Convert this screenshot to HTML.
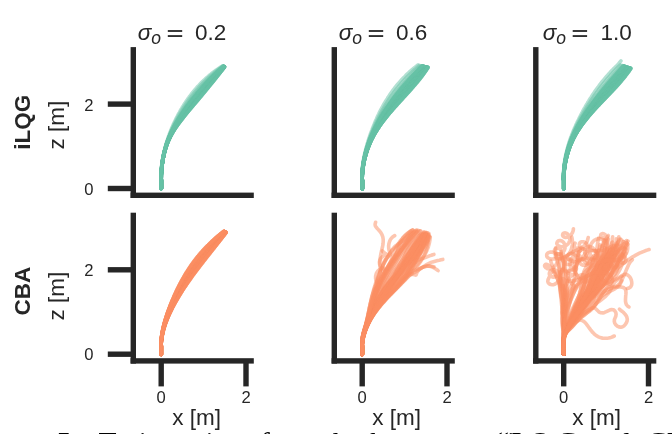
<!DOCTYPE html>
<html><head><meta charset="utf-8"><title>fig</title>
<style>html,body{margin:0;padding:0;background:#fff;}body{width:672px;height:434px;overflow:hidden;position:relative;font-family:"Liberation Sans",sans-serif;}</style>
</head><body>
<svg width="672" height="434" viewBox="0 0 672 434" style="position:absolute;left:0;top:0;will-change:transform;opacity:0.999">
<rect width="672" height="434" fill="#fff"/>
<g transform="translate(0.0,0)" fill="none" stroke="#66c2a5" stroke-width="3.6" stroke-opacity="0.5" stroke-linecap="round" stroke-linejoin="round">
<path d="M161.5,188.6 L161.5,187.0 L161.5,185.4 L161.5,183.8 L161.5,182.2 L161.5,180.6 L161.3,179.0 L161.3,177.4 L161.4,175.8 L161.4,174.2 L161.5,172.6 L161.6,171.0 L161.7,169.4 L161.9,167.8 L162.0,166.2 L162.2,164.7 L162.5,163.1 L162.7,161.5 L162.9,159.9 L163.2,158.3 L163.5,156.7 L163.9,155.2 L164.2,153.6 L164.6,152.0 L165.1,150.5 L165.5,148.9 L166.0,147.4 L166.5,145.9 L167.1,144.4 L167.6,142.8 L168.3,141.3 L168.9,139.9 L169.6,138.4 L170.3,136.9 L171.0,135.5 L171.8,134.1 L172.6,132.7 L173.5,131.3 L174.3,130.0 L175.2,128.6 L176.1,127.3 L177.0,126.0 L177.9,124.7 L178.9,123.4 L179.8,122.1 L180.8,120.8 L181.8,119.6 L182.8,118.3 L183.7,117.1 L184.7,115.8 L185.7,114.6 L186.7,113.4 L187.7,112.2 L188.7,110.9 L189.8,109.7 L190.8,108.5 L191.8,107.3 L192.8,106.1 L193.8,104.9 L194.8,103.7 L195.9,102.5 L196.9,101.3 L197.9,100.1 L198.9,98.9 L199.9,97.7 L200.9,96.5 L201.9,95.3 L203.0,94.0 L204.0,92.8 L205.0,91.6 L206.0,90.4 L207.0,89.2 L208.0,88.0 L208.9,86.7 L209.9,85.5 L210.9,84.3 L211.9,83.1 L212.9,81.9 L213.9,80.6 L214.9,79.4 L215.9,78.2 L216.8,76.9 L217.8,75.7 L218.8,74.5 L219.8,73.2 L220.7,72.0 L221.7,70.7 L222.7,69.5 L223.6,68.3 L224.6,67.0"/>
<path d="M161.5,188.6 L161.5,187.0 L161.5,185.4 L161.5,183.8 L161.5,182.2 L161.5,180.6 L161.3,179.0 L161.3,177.4 L161.3,175.8 L161.4,174.2 L161.5,172.6 L161.6,171.0 L161.7,169.4 L161.9,167.8 L162.0,166.2 L162.2,164.6 L162.4,163.1 L162.7,161.5 L162.9,159.9 L163.2,158.3 L163.5,156.7 L163.9,155.2 L164.2,153.6 L164.6,152.0 L165.1,150.5 L165.5,148.9 L166.0,147.4 L166.5,145.9 L167.0,144.3 L167.6,142.8 L168.2,141.3 L168.9,139.8 L169.6,138.4 L170.3,136.9 L171.0,135.5 L171.8,134.1 L172.6,132.7 L173.4,131.3 L174.3,129.9 L175.1,128.6 L176.0,127.2 L176.9,125.9 L177.9,124.6 L178.8,123.3 L179.8,122.1 L180.7,120.8 L181.7,119.5 L182.7,118.3 L183.6,117.0 L184.6,115.8 L185.6,114.5 L186.6,113.3 L187.6,112.1 L188.6,110.9 L189.6,109.6 L190.6,108.4 L191.7,107.2 L192.7,106.0 L193.7,104.8 L194.7,103.6 L195.7,102.4 L196.7,101.2 L197.8,100.0 L198.8,98.8 L199.8,97.6 L200.8,96.4 L201.8,95.1 L202.8,93.9 L203.8,92.7 L204.8,91.5 L205.8,90.3 L206.8,89.1 L207.8,87.9 L208.8,86.6 L209.8,85.4 L210.8,84.2 L211.8,83.0 L212.8,81.8 L213.8,80.5 L214.8,79.3 L215.8,78.1 L216.7,76.9 L217.7,75.6 L218.7,74.4 L219.7,73.2 L220.7,71.9 L221.6,70.7 L222.6,69.5 L223.6,68.2 L224.6,67.0"/>
<path d="M161.5,188.6 L161.5,187.0 L161.5,185.4 L161.5,183.8 L161.5,182.2 L161.5,180.6 L161.3,179.0 L161.3,177.4 L161.3,175.8 L161.4,174.2 L161.5,172.6 L161.6,171.0 L161.7,169.4 L161.9,167.8 L162.0,166.2 L162.2,164.6 L162.4,163.1 L162.7,161.5 L162.9,159.9 L163.2,158.3 L163.5,156.7 L163.9,155.2 L164.2,153.6 L164.6,152.0 L165.0,150.5 L165.5,148.9 L166.0,147.4 L166.5,145.9 L167.0,144.3 L167.6,142.8 L168.2,141.3 L168.8,139.8 L169.5,138.4 L170.2,136.9 L171.0,135.5 L171.7,134.1 L172.5,132.7 L173.4,131.3 L174.2,129.9 L175.1,128.6 L176.0,127.2 L176.9,125.9 L177.8,124.6 L178.7,123.3 L179.7,122.0 L180.6,120.7 L181.6,119.5 L182.6,118.2 L183.5,117.0 L184.5,115.7 L185.5,114.5 L186.5,113.2 L187.5,112.0 L188.5,110.8 L189.5,109.6 L190.5,108.3 L191.5,107.1 L192.5,105.9 L193.5,104.7 L194.6,103.5 L195.6,102.3 L196.6,101.1 L197.6,99.9 L198.6,98.7 L199.6,97.5 L200.6,96.3 L201.7,95.0 L202.7,93.8 L203.7,92.6 L204.7,91.4 L205.7,90.2 L206.7,89.0 L207.7,87.8 L208.7,86.5 L209.7,85.3 L210.7,84.1 L211.7,82.9 L212.7,81.7 L213.7,80.4 L214.7,79.2 L215.7,78.0 L216.6,76.8 L217.6,75.6 L218.6,74.3 L219.6,73.1 L220.6,71.9 L221.6,70.7 L222.6,69.4 L223.5,68.2 L224.5,67.0"/>
<path d="M161.5,188.6 L161.5,187.0 L161.5,185.4 L161.5,183.8 L161.5,182.2 L161.5,180.6 L161.2,179.0 L161.3,177.4 L161.3,175.8 L161.4,174.2 L161.5,172.6 L161.6,171.0 L161.7,169.4 L161.9,167.8 L162.0,166.2 L162.2,164.6 L162.4,163.0 L162.7,161.5 L162.9,159.9 L163.2,158.3 L163.5,156.7 L163.9,155.1 L164.2,153.6 L164.6,152.0 L165.0,150.5 L165.5,148.9 L166.0,147.4 L166.5,145.8 L167.0,144.3 L167.6,142.8 L168.2,141.3 L168.8,139.8 L169.5,138.3 L170.2,136.9 L170.9,135.5 L171.7,134.0 L172.5,132.6 L173.3,131.2 L174.2,129.9 L175.0,128.5 L175.9,127.2 L176.8,125.9 L177.7,124.5 L178.6,123.2 L179.6,122.0 L180.5,120.7 L181.5,119.4 L182.5,118.2 L183.4,116.9 L184.4,115.6 L185.4,114.4 L186.4,113.2 L187.4,111.9 L188.4,110.7 L189.4,109.5 L190.4,108.3 L191.4,107.0 L192.4,105.8 L193.4,104.6 L194.4,103.4 L195.4,102.2 L196.4,101.0 L197.5,99.8 L198.5,98.6 L199.5,97.4 L200.5,96.1 L201.5,94.9 L202.5,93.7 L203.5,92.5 L204.5,91.3 L205.5,90.1 L206.5,88.9 L207.6,87.7 L208.6,86.4 L209.6,85.2 L210.6,84.0 L211.6,82.8 L212.6,81.6 L213.6,80.4 L214.6,79.1 L215.5,77.9 L216.5,76.7 L217.5,75.5 L218.5,74.3 L219.5,73.0 L220.5,71.8 L221.5,70.6 L222.5,69.4 L223.5,68.2 L224.5,66.9"/>
<path d="M161.5,188.6 L161.5,187.0 L161.5,185.4 L161.5,183.8 L161.5,182.2 L161.5,180.6 L161.2,179.0 L161.3,177.4 L161.3,175.8 L161.4,174.2 L161.5,172.6 L161.6,171.0 L161.7,169.4 L161.8,167.8 L162.0,166.2 L162.2,164.6 L162.4,163.0 L162.7,161.4 L162.9,159.9 L163.2,158.3 L163.5,156.7 L163.8,155.1 L164.2,153.6 L164.6,152.0 L165.0,150.4 L165.5,148.9 L165.9,147.4 L166.5,145.8 L167.0,144.3 L167.6,142.8 L168.2,141.3 L168.8,139.8 L169.5,138.3 L170.2,136.9 L170.9,135.4 L171.7,134.0 L172.5,132.6 L173.3,131.2 L174.1,129.8 L175.0,128.5 L175.8,127.1 L176.7,125.8 L177.6,124.5 L178.6,123.2 L179.5,121.9 L180.4,120.6 L181.4,119.4 L182.3,118.1 L183.3,116.8 L184.3,115.6 L185.3,114.3 L186.3,113.1 L187.2,111.9 L188.2,110.6 L189.2,109.4 L190.2,108.2 L191.2,107.0 L192.3,105.7 L193.3,104.5 L194.3,103.3 L195.3,102.1 L196.3,100.9 L197.3,99.7 L198.3,98.5 L199.3,97.3 L200.4,96.0 L201.4,94.8 L202.4,93.6 L203.4,92.4 L204.4,91.2 L205.4,90.0 L206.4,88.8 L207.4,87.6 L208.4,86.3 L209.4,85.1 L210.4,83.9 L211.4,82.7 L212.4,81.5 L213.4,80.3 L214.4,79.1 L215.4,77.8 L216.4,76.6 L217.4,75.4 L218.4,74.2 L219.4,73.0 L220.4,71.8 L221.4,70.6 L222.4,69.3 L223.4,68.1 L224.4,66.9"/>
<path d="M161.4,188.6 L161.4,187.0 L161.4,185.4 L161.4,183.8 L161.4,182.2 L161.4,180.6 L161.2,179.0 L161.3,177.4 L161.3,175.8 L161.4,174.2 L161.5,172.6 L161.6,171.0 L161.7,169.4 L161.8,167.8 L162.0,166.2 L162.2,164.6 L162.4,163.0 L162.6,161.4 L162.9,159.9 L163.2,158.3 L163.5,156.7 L163.8,155.1 L164.2,153.6 L164.6,152.0 L165.0,150.4 L165.5,148.9 L165.9,147.4 L166.4,145.8 L167.0,144.3 L167.5,142.8 L168.1,141.3 L168.8,139.8 L169.4,138.3 L170.1,136.9 L170.9,135.4 L171.6,134.0 L172.4,132.6 L173.2,131.2 L174.0,129.8 L174.9,128.5 L175.8,127.1 L176.7,125.8 L177.6,124.5 L178.5,123.2 L179.4,121.9 L180.3,120.6 L181.3,119.3 L182.2,118.0 L183.2,116.8 L184.2,115.5 L185.2,114.3 L186.1,113.0 L187.1,111.8 L188.1,110.5 L189.1,109.3 L190.1,108.1 L191.1,106.9 L192.1,105.6 L193.1,104.4 L194.1,103.2 L195.2,102.0 L196.2,100.8 L197.2,99.6 L198.2,98.4 L199.2,97.1 L200.2,95.9 L201.2,94.7 L202.2,93.5 L203.2,92.3 L204.3,91.1 L205.3,89.9 L206.3,88.7 L207.3,87.5 L208.3,86.2 L209.3,85.0 L210.3,83.8 L211.3,82.6 L212.3,81.4 L213.3,80.2 L214.3,79.0 L215.3,77.8 L216.4,76.6 L217.4,75.3 L218.4,74.1 L219.4,72.9 L220.4,71.7 L221.4,70.5 L222.4,69.3 L223.4,68.1 L224.4,66.9"/>
<path d="M161.4,188.6 L161.4,187.0 L161.4,185.4 L161.4,183.8 L161.4,182.2 L161.4,180.6 L161.2,179.0 L161.3,177.4 L161.3,175.8 L161.4,174.2 L161.5,172.6 L161.6,171.0 L161.7,169.4 L161.8,167.8 L162.0,166.2 L162.2,164.6 L162.4,163.0 L162.6,161.4 L162.9,159.8 L163.2,158.3 L163.5,156.7 L163.8,155.1 L164.2,153.5 L164.6,152.0 L165.0,150.4 L165.4,148.9 L165.9,147.3 L166.4,145.8 L167.0,144.3 L167.5,142.8 L168.1,141.3 L168.7,139.8 L169.4,138.3 L170.1,136.8 L170.8,135.4 L171.6,134.0 L172.4,132.6 L173.2,131.2 L174.0,129.8 L174.8,128.4 L175.7,127.1 L176.6,125.7 L177.5,124.4 L178.4,123.1 L179.3,121.8 L180.3,120.5 L181.2,119.3 L182.1,118.0 L183.1,116.7 L184.1,115.5 L185.0,114.2 L186.0,113.0 L187.0,111.7 L188.0,110.5 L189.0,109.2 L190.0,108.0 L191.0,106.8 L192.0,105.6 L193.0,104.3 L194.0,103.1 L195.0,101.9 L196.0,100.7 L197.0,99.5 L198.0,98.3 L199.1,97.0 L200.1,95.8 L201.1,94.6 L202.1,93.4 L203.1,92.2 L204.1,91.0 L205.1,89.8 L206.1,88.6 L207.1,87.4 L208.2,86.1 L209.2,84.9 L210.2,83.7 L211.2,82.5 L212.2,81.3 L213.2,80.1 L214.2,78.9 L215.2,77.7 L216.3,76.5 L217.3,75.3 L218.3,74.1 L219.3,72.9 L220.3,71.7 L221.3,70.5 L222.3,69.3 L223.3,68.1 L224.4,66.9"/>
<path d="M161.4,188.6 L161.4,187.0 L161.4,185.4 L161.4,183.8 L161.4,182.2 L161.4,180.6 L161.2,179.0 L161.2,177.4 L161.3,175.8 L161.4,174.2 L161.4,172.6 L161.5,171.0 L161.7,169.4 L161.8,167.8 L162.0,166.2 L162.2,164.6 L162.4,163.0 L162.6,161.4 L162.9,159.8 L163.2,158.3 L163.5,156.7 L163.8,155.1 L164.2,153.5 L164.6,152.0 L165.0,150.4 L165.4,148.9 L165.9,147.3 L166.4,145.8 L166.9,144.3 L167.5,142.8 L168.1,141.3 L168.7,139.8 L169.4,138.3 L170.1,136.8 L170.8,135.4 L171.5,134.0 L172.3,132.5 L173.1,131.1 L173.9,129.8 L174.8,128.4 L175.6,127.0 L176.5,125.7 L177.4,124.4 L178.3,123.1 L179.2,121.8 L180.2,120.5 L181.1,119.2 L182.0,117.9 L183.0,116.7 L184.0,115.4 L184.9,114.1 L185.9,112.9 L186.9,111.6 L187.9,110.4 L188.9,109.2 L189.9,107.9 L190.8,106.7 L191.8,105.5 L192.9,104.2 L193.9,103.0 L194.9,101.8 L195.9,100.6 L196.9,99.4 L197.9,98.2 L198.9,96.9 L199.9,95.7 L200.9,94.5 L201.9,93.3 L203.0,92.1 L204.0,90.9 L205.0,89.7 L206.0,88.5 L207.0,87.3 L208.0,86.0 L209.0,84.8 L210.1,83.6 L211.1,82.4 L212.1,81.2 L213.1,80.0 L214.1,78.8 L215.1,77.6 L216.2,76.4 L217.2,75.2 L218.2,74.0 L219.2,72.8 L220.2,71.6 L221.3,70.4 L222.3,69.2 L223.3,68.0 L224.3,66.9"/>
<path d="M161.4,188.6 L161.4,186.9 L161.4,185.4 L161.4,183.8 L161.4,182.2 L161.4,180.6 L161.2,179.0 L161.2,177.4 L161.3,175.8 L161.3,174.2 L161.4,172.6 L161.5,171.0 L161.7,169.4 L161.8,167.8 L162.0,166.2 L162.2,164.6 L162.4,163.0 L162.6,161.4 L162.9,159.8 L163.2,158.3 L163.5,156.7 L163.8,155.1 L164.2,153.5 L164.6,152.0 L165.0,150.4 L165.4,148.9 L165.9,147.3 L166.4,145.8 L166.9,144.3 L167.5,142.7 L168.1,141.2 L168.7,139.8 L169.3,138.3 L170.0,136.8 L170.8,135.4 L171.5,133.9 L172.3,132.5 L173.1,131.1 L173.9,129.7 L174.7,128.4 L175.6,127.0 L176.4,125.7 L177.3,124.3 L178.2,123.0 L179.1,121.7 L180.1,120.4 L181.0,119.1 L181.9,117.9 L182.9,116.6 L183.9,115.3 L184.8,114.1 L185.8,112.8 L186.8,111.6 L187.7,110.3 L188.7,109.1 L189.7,107.8 L190.7,106.6 L191.7,105.4 L192.7,104.1 L193.7,102.9 L194.7,101.7 L195.7,100.5 L196.7,99.3 L197.8,98.1 L198.8,96.8 L199.8,95.6 L200.8,94.4 L201.8,93.2 L202.8,92.0 L203.8,90.8 L204.8,89.6 L205.9,88.4 L206.9,87.1 L207.9,85.9 L208.9,84.7 L209.9,83.5 L211.0,82.3 L212.0,81.1 L213.0,79.9 L214.0,78.7 L215.0,77.5 L216.1,76.3 L217.1,75.1 L218.1,73.9 L219.1,72.8 L220.2,71.6 L221.2,70.4 L222.2,69.2 L223.3,68.0 L224.3,66.8"/>
<path d="M161.4,188.6 L161.4,186.9 L161.4,185.3 L161.4,183.8 L161.4,182.2 L161.4,180.6 L161.2,179.0 L161.2,177.4 L161.3,175.8 L161.3,174.2 L161.4,172.6 L161.5,171.0 L161.7,169.4 L161.8,167.8 L162.0,166.2 L162.2,164.6 L162.4,163.0 L162.6,161.4 L162.9,159.8 L163.2,158.2 L163.5,156.7 L163.8,155.1 L164.2,153.5 L164.5,152.0 L165.0,150.4 L165.4,148.9 L165.9,147.3 L166.4,145.8 L166.9,144.3 L167.5,142.7 L168.0,141.2 L168.7,139.7 L169.3,138.3 L170.0,136.8 L170.7,135.3 L171.5,133.9 L172.2,132.5 L173.0,131.1 L173.8,129.7 L174.7,128.3 L175.5,127.0 L176.4,125.6 L177.3,124.3 L178.2,123.0 L179.1,121.7 L180.0,120.4 L180.9,119.1 L181.8,117.8 L182.8,116.5 L183.7,115.3 L184.7,114.0 L185.7,112.7 L186.6,111.5 L187.6,110.2 L188.6,109.0 L189.6,107.7 L190.6,106.5 L191.6,105.3 L192.6,104.1 L193.6,102.8 L194.6,101.6 L195.6,100.4 L196.6,99.2 L197.6,97.9 L198.6,96.7 L199.6,95.5 L200.6,94.3 L201.7,93.1 L202.7,91.9 L203.7,90.7 L204.7,89.5 L205.7,88.3 L206.7,87.0 L207.8,85.8 L208.8,84.6 L209.8,83.4 L210.8,82.2 L211.9,81.0 L212.9,79.8 L213.9,78.6 L214.9,77.5 L216.0,76.3 L217.0,75.1 L218.0,73.9 L219.1,72.7 L220.1,71.5 L221.1,70.3 L222.2,69.2 L223.2,68.0 L224.2,66.8"/>
<path d="M161.4,188.6 L161.4,186.9 L161.4,185.3 L161.4,183.7 L161.4,182.1 L161.4,180.6 L161.2,179.0 L161.2,177.4 L161.3,175.8 L161.3,174.2 L161.4,172.6 L161.5,171.0 L161.6,169.4 L161.8,167.8 L162.0,166.2 L162.2,164.6 L162.4,163.0 L162.6,161.4 L162.9,159.8 L163.1,158.2 L163.5,156.7 L163.8,155.1 L164.1,153.5 L164.5,152.0 L164.9,150.4 L165.4,148.8 L165.9,147.3 L166.4,145.8 L166.9,144.2 L167.4,142.7 L168.0,141.2 L168.6,139.7 L169.3,138.2 L170.0,136.8 L170.7,135.3 L171.4,133.9 L172.2,132.5 L173.0,131.1 L173.8,129.7 L174.6,128.3 L175.4,126.9 L176.3,125.6 L177.2,124.3 L178.1,122.9 L179.0,121.6 L179.9,120.3 L180.8,119.0 L181.7,117.7 L182.7,116.5 L183.6,115.2 L184.6,113.9 L185.6,112.7 L186.5,111.4 L187.5,110.2 L188.5,108.9 L189.5,107.7 L190.4,106.4 L191.4,105.2 L192.4,104.0 L193.4,102.7 L194.4,101.5 L195.4,100.3 L196.5,99.1 L197.5,97.8 L198.5,96.6 L199.5,95.4 L200.5,94.2 L201.5,93.0 L202.5,91.8 L203.5,90.6 L204.6,89.4 L205.6,88.1 L206.6,86.9 L207.6,85.7 L208.7,84.5 L209.7,83.3 L210.7,82.1 L211.7,80.9 L212.8,79.8 L213.8,78.6 L214.8,77.4 L215.9,76.2 L216.9,75.0 L217.9,73.8 L219.0,72.6 L220.0,71.5 L221.1,70.3 L222.1,69.1 L223.2,68.0 L224.2,66.8"/>
<path d="M161.4,188.6 L161.4,186.9 L161.4,185.3 L161.4,183.7 L161.4,182.1 L161.4,180.5 L161.2,178.9 L161.2,177.3 L161.3,175.7 L161.3,174.1 L161.4,172.6 L161.5,171.0 L161.6,169.4 L161.8,167.8 L162.0,166.2 L162.1,164.6 L162.4,163.0 L162.6,161.4 L162.8,159.8 L163.1,158.2 L163.4,156.6 L163.8,155.1 L164.1,153.5 L164.5,151.9 L164.9,150.4 L165.4,148.8 L165.8,147.3 L166.3,145.8 L166.9,144.2 L167.4,142.7 L168.0,141.2 L168.6,139.7 L169.3,138.2 L169.9,136.8 L170.6,135.3 L171.4,133.9 L172.1,132.5 L172.9,131.0 L173.7,129.7 L174.5,128.3 L175.4,126.9 L176.2,125.6 L177.1,124.2 L178.0,122.9 L178.9,121.6 L179.8,120.3 L180.7,119.0 L181.6,117.7 L182.6,116.4 L183.5,115.1 L184.5,113.9 L185.4,112.6 L186.4,111.3 L187.4,110.1 L188.3,108.8 L189.3,107.6 L190.3,106.3 L191.3,105.1 L192.3,103.9 L193.3,102.6 L194.3,101.4 L195.3,100.2 L196.3,99.0 L197.3,97.7 L198.3,96.5 L199.3,95.3 L200.4,94.1 L201.4,92.9 L202.4,91.7 L203.4,90.5 L204.4,89.3 L205.5,88.0 L206.5,86.8 L207.5,85.6 L208.5,84.4 L209.6,83.2 L210.6,82.0 L211.6,80.9 L212.7,79.7 L213.7,78.5 L214.7,77.3 L215.8,76.1 L216.8,74.9 L217.9,73.8 L218.9,72.6 L220.0,71.4 L221.0,70.2 L222.1,69.1 L223.1,67.9 L224.2,66.8"/>
<path d="M161.4,188.6 L161.4,186.9 L161.4,185.3 L161.4,183.7 L161.4,182.1 L161.4,180.5 L161.2,178.9 L161.2,177.3 L161.2,175.7 L161.3,174.1 L161.4,172.5 L161.5,170.9 L161.6,169.3 L161.8,167.8 L161.9,166.2 L162.1,164.6 L162.3,163.0 L162.6,161.4 L162.8,159.8 L163.1,158.2 L163.4,156.6 L163.8,155.1 L164.1,153.5 L164.5,151.9 L164.9,150.4 L165.4,148.8 L165.8,147.3 L166.3,145.7 L166.8,144.2 L167.4,142.7 L168.0,141.2 L168.6,139.7 L169.2,138.2 L169.9,136.7 L170.6,135.3 L171.3,133.9 L172.1,132.4 L172.9,131.0 L173.7,129.6 L174.5,128.2 L175.3,126.9 L176.2,125.5 L177.0,124.2 L177.9,122.9 L178.8,121.5 L179.7,120.2 L180.6,118.9 L181.5,117.6 L182.5,116.3 L183.4,115.1 L184.4,113.8 L185.3,112.5 L186.3,111.3 L187.2,110.0 L188.2,108.7 L189.2,107.5 L190.2,106.2 L191.2,105.0 L192.2,103.8 L193.2,102.5 L194.2,101.3 L195.2,100.1 L196.2,98.9 L197.2,97.6 L198.2,96.4 L199.2,95.2 L200.2,94.0 L201.2,92.8 L202.2,91.6 L203.3,90.4 L204.3,89.1 L205.3,87.9 L206.3,86.7 L207.4,85.5 L208.4,84.3 L209.4,83.1 L210.5,82.0 L211.5,80.8 L212.5,79.6 L213.6,78.4 L214.6,77.2 L215.7,76.0 L216.7,74.9 L217.8,73.7 L218.8,72.5 L219.9,71.4 L220.9,70.2 L222.0,69.0 L223.1,67.9 L224.1,66.7"/>
<path d="M161.3,188.6 L161.3,186.9 L161.3,185.3 L161.3,183.7 L161.3,182.1 L161.3,180.5 L161.2,178.9 L161.2,177.3 L161.2,175.7 L161.3,174.1 L161.4,172.5 L161.5,170.9 L161.6,169.3 L161.8,167.7 L161.9,166.2 L162.1,164.6 L162.3,163.0 L162.6,161.4 L162.8,159.8 L163.1,158.2 L163.4,156.6 L163.8,155.1 L164.1,153.5 L164.5,151.9 L164.9,150.4 L165.3,148.8 L165.8,147.3 L166.3,145.7 L166.8,144.2 L167.4,142.7 L168.0,141.2 L168.6,139.7 L169.2,138.2 L169.9,136.7 L170.6,135.3 L171.3,133.8 L172.0,132.4 L172.8,131.0 L173.6,129.6 L174.4,128.2 L175.2,126.8 L176.1,125.5 L177.0,124.1 L177.8,122.8 L178.7,121.5 L179.6,120.2 L180.5,118.9 L181.4,117.6 L182.4,116.3 L183.3,115.0 L184.2,113.7 L185.2,112.4 L186.2,111.2 L187.1,109.9 L188.1,108.7 L189.1,107.4 L190.0,106.2 L191.0,104.9 L192.0,103.7 L193.0,102.4 L194.0,101.2 L195.0,100.0 L196.0,98.8 L197.0,97.5 L198.0,96.3 L199.1,95.1 L200.1,93.9 L201.1,92.7 L202.1,91.5 L203.1,90.2 L204.1,89.0 L205.2,87.8 L206.2,86.6 L207.2,85.4 L208.3,84.2 L209.3,83.0 L210.3,81.9 L211.4,80.7 L212.4,79.5 L213.5,78.3 L214.5,77.1 L215.6,76.0 L216.6,74.8 L217.7,73.6 L218.8,72.5 L219.8,71.3 L220.9,70.2 L221.9,69.0 L223.0,67.9 L224.1,66.7"/>
<path d="M161.3,188.6 L161.3,186.9 L161.3,185.3 L161.3,183.7 L161.3,182.1 L161.3,180.5 L161.2,178.9 L161.2,177.3 L161.2,175.7 L161.3,174.1 L161.4,172.5 L161.5,170.9 L161.6,169.3 L161.8,167.7 L161.9,166.1 L162.1,164.6 L162.3,163.0 L162.6,161.4 L162.8,159.8 L163.1,158.2 L163.4,156.6 L163.7,155.1 L164.1,153.5 L164.5,151.9 L164.9,150.4 L165.3,148.8 L165.8,147.3 L166.3,145.7 L166.8,144.2 L167.4,142.7 L167.9,141.2 L168.5,139.7 L169.2,138.2 L169.8,136.7 L170.5,135.3 L171.2,133.8 L172.0,132.4 L172.8,131.0 L173.5,129.6 L174.4,128.2 L175.2,126.8 L176.0,125.5 L176.9,124.1 L177.7,122.8 L178.6,121.4 L179.5,120.1 L180.4,118.8 L181.3,117.5 L182.3,116.2 L183.2,114.9 L184.1,113.7 L185.1,112.4 L186.0,111.1 L187.0,109.8 L188.0,108.6 L188.9,107.3 L189.9,106.1 L190.9,104.8 L191.9,103.6 L192.9,102.3 L193.9,101.1 L194.9,99.9 L195.9,98.7 L196.9,97.4 L197.9,96.2 L198.9,95.0 L199.9,93.8 L200.9,92.6 L202.0,91.4 L203.0,90.1 L204.0,88.9 L205.0,87.7 L206.1,86.5 L207.1,85.3 L208.1,84.1 L209.2,83.0 L210.2,81.8 L211.3,80.6 L212.3,79.4 L213.4,78.2 L214.4,77.1 L215.5,75.9 L216.5,74.7 L217.6,73.6 L218.7,72.4 L219.7,71.3 L220.8,70.1 L221.9,69.0 L223.0,67.8 L224.0,66.7"/>
<path d="M161.3,188.6 L161.3,186.9 L161.3,185.3 L161.3,183.7 L161.3,182.1 L161.3,180.5 L161.2,178.9 L161.2,177.3 L161.2,175.7 L161.3,174.1 L161.4,172.5 L161.5,170.9 L161.6,169.3 L161.7,167.7 L161.9,166.1 L162.1,164.5 L162.3,163.0 L162.6,161.4 L162.8,159.8 L163.1,158.2 L163.4,156.6 L163.7,155.0 L164.1,153.5 L164.5,151.9 L164.9,150.3 L165.3,148.8 L165.8,147.3 L166.3,145.7 L166.8,144.2 L167.3,142.7 L167.9,141.2 L168.5,139.7 L169.1,138.2 L169.8,136.7 L170.5,135.2 L171.2,133.8 L171.9,132.4 L172.7,130.9 L173.5,129.5 L174.3,128.2 L175.1,126.8 L175.9,125.4 L176.8,124.1 L177.7,122.7 L178.5,121.4 L179.4,120.1 L180.3,118.8 L181.2,117.5 L182.2,116.2 L183.1,114.9 L184.0,113.6 L185.0,112.3 L185.9,111.0 L186.9,109.8 L187.8,108.5 L188.8,107.2 L189.8,106.0 L190.8,104.7 L191.7,103.5 L192.7,102.3 L193.7,101.0 L194.7,99.8 L195.7,98.6 L196.7,97.3 L197.7,96.1 L198.8,94.9 L199.8,93.7 L200.8,92.5 L201.8,91.2 L202.8,90.0 L203.9,88.8 L204.9,87.6 L205.9,86.4 L207.0,85.2 L208.0,84.0 L209.1,82.9 L210.1,81.7 L211.2,80.5 L212.2,79.3 L213.3,78.1 L214.3,77.0 L215.4,75.8 L216.5,74.7 L217.5,73.5 L218.6,72.4 L219.7,71.2 L220.7,70.1 L221.8,68.9 L222.9,67.8 L224.0,66.7"/>
<path d="M161.3,188.6 L161.3,186.9 L161.3,185.3 L161.3,183.7 L161.3,182.1 L161.3,180.5 L161.1,178.9 L161.2,177.3 L161.2,175.7 L161.3,174.1 L161.4,172.5 L161.5,170.9 L161.6,169.3 L161.7,167.7 L161.9,166.1 L162.1,164.5 L162.3,162.9 L162.5,161.4 L162.8,159.8 L163.1,158.2 L163.4,156.6 L163.7,155.0 L164.1,153.5 L164.5,151.9 L164.9,150.3 L165.3,148.8 L165.8,147.2 L166.3,145.7 L166.8,144.2 L167.3,142.7 L167.9,141.1 L168.5,139.6 L169.1,138.2 L169.8,136.7 L170.5,135.2 L171.2,133.8 L171.9,132.3 L172.7,130.9 L173.4,129.5 L174.2,128.1 L175.0,126.8 L175.9,125.4 L176.7,124.0 L177.6,122.7 L178.5,121.3 L179.3,120.0 L180.2,118.7 L181.1,117.4 L182.1,116.1 L183.0,114.8 L183.9,113.5 L184.8,112.2 L185.8,111.0 L186.7,109.7 L187.7,108.4 L188.7,107.2 L189.6,105.9 L190.6,104.6 L191.6,103.4 L192.6,102.2 L193.6,100.9 L194.6,99.7 L195.6,98.5 L196.6,97.2 L197.6,96.0 L198.6,94.8 L199.6,93.6 L200.7,92.4 L201.7,91.1 L202.7,89.9 L203.7,88.7 L204.8,87.5 L205.8,86.3 L206.8,85.1 L207.9,83.9 L208.9,82.8 L210.0,81.6 L211.0,80.4 L212.1,79.2 L213.2,78.1 L214.2,76.9 L215.3,75.7 L216.4,74.6 L217.4,73.4 L218.5,72.3 L219.6,71.2 L220.7,70.0 L221.8,68.9 L222.9,67.8 L224.0,66.7"/>
<path d="M161.3,188.6 L161.3,186.9 L161.3,185.3 L161.3,183.7 L161.3,182.1 L161.3,180.5 L161.1,178.9 L161.2,177.3 L161.2,175.7 L161.3,174.1 L161.4,172.5 L161.5,170.9 L161.6,169.3 L161.7,167.7 L161.9,166.1 L162.1,164.5 L162.3,162.9 L162.5,161.3 L162.8,159.8 L163.1,158.2 L163.4,156.6 L163.7,155.0 L164.1,153.5 L164.5,151.9 L164.9,150.3 L165.3,148.8 L165.8,147.2 L166.2,145.7 L166.7,144.2 L167.3,142.6 L167.9,141.1 L168.5,139.6 L169.1,138.1 L169.7,136.7 L170.4,135.2 L171.1,133.8 L171.9,132.3 L172.6,130.9 L173.4,129.5 L174.2,128.1 L175.0,126.7 L175.8,125.3 L176.6,124.0 L177.5,122.6 L178.4,121.3 L179.3,120.0 L180.1,118.7 L181.0,117.3 L182.0,116.0 L182.9,114.7 L183.8,113.4 L184.7,112.2 L185.7,110.9 L186.6,109.6 L187.6,108.3 L188.5,107.1 L189.5,105.8 L190.5,104.6 L191.5,103.3 L192.5,102.1 L193.4,100.8 L194.4,99.6 L195.4,98.4 L196.4,97.1 L197.5,95.9 L198.5,94.7 L199.5,93.5 L200.5,92.2 L201.5,91.0 L202.6,89.8 L203.6,88.6 L204.6,87.4 L205.7,86.2 L206.7,85.0 L207.8,83.8 L208.8,82.7 L209.9,81.5 L210.9,80.3 L212.0,79.1 L213.1,78.0 L214.1,76.8 L215.2,75.7 L216.3,74.5 L217.4,73.4 L218.4,72.2 L219.5,71.1 L220.6,70.0 L221.7,68.9 L222.8,67.7 L223.9,66.6"/>
<path d="M161.3,188.6 L161.3,186.9 L161.3,185.3 L161.3,183.7 L161.3,182.1 L161.3,180.5 L161.1,178.9 L161.2,177.3 L161.2,175.7 L161.3,174.1 L161.3,172.5 L161.4,170.9 L161.6,169.3 L161.7,167.7 L161.9,166.1 L162.1,164.5 L162.3,162.9 L162.5,161.3 L162.8,159.8 L163.1,158.2 L163.4,156.6 L163.7,155.0 L164.1,153.4 L164.4,151.9 L164.8,150.3 L165.3,148.8 L165.7,147.2 L166.2,145.7 L166.7,144.2 L167.3,142.6 L167.8,141.1 L168.4,139.6 L169.1,138.1 L169.7,136.6 L170.4,135.2 L171.1,133.7 L171.8,132.3 L172.6,130.9 L173.3,129.5 L174.1,128.1 L174.9,126.7 L175.7,125.3 L176.6,123.9 L177.4,122.6 L178.3,121.3 L179.2,119.9 L180.0,118.6 L180.9,117.3 L181.8,116.0 L182.8,114.7 L183.7,113.4 L184.6,112.1 L185.5,110.8 L186.5,109.5 L187.4,108.3 L188.4,107.0 L189.4,105.7 L190.3,104.5 L191.3,103.2 L192.3,102.0 L193.3,100.7 L194.3,99.5 L195.3,98.3 L196.3,97.0 L197.3,95.8 L198.3,94.6 L199.3,93.4 L200.4,92.1 L201.4,90.9 L202.4,89.7 L203.5,88.5 L204.5,87.3 L205.5,86.1 L206.6,84.9 L207.6,83.7 L208.7,82.6 L209.7,81.4 L210.8,80.2 L211.9,79.1 L212.9,77.9 L214.0,76.7 L215.1,75.6 L216.2,74.4 L217.3,73.3 L218.4,72.2 L219.5,71.1 L220.6,69.9 L221.7,68.8 L222.8,67.7 L223.9,66.6"/>
<path d="M161.3,188.6 L161.3,186.9 L161.3,185.3 L161.3,183.7 L161.3,182.1 L161.3,180.5 L161.1,178.9 L161.1,177.3 L161.2,175.7 L161.2,174.1 L161.3,172.5 L161.4,170.9 L161.6,169.3 L161.7,167.7 L161.9,166.1 L162.1,164.5 L162.3,162.9 L162.5,161.3 L162.8,159.7 L163.1,158.2 L163.4,156.6 L163.7,155.0 L164.1,153.4 L164.4,151.9 L164.8,150.3 L165.3,148.8 L165.7,147.2 L166.2,145.7 L166.7,144.1 L167.2,142.6 L167.8,141.1 L168.4,139.6 L169.0,138.1 L169.7,136.6 L170.3,135.2 L171.0,133.7 L171.8,132.3 L172.5,130.8 L173.3,129.4 L174.0,128.0 L174.8,126.7 L175.7,125.3 L176.5,123.9 L177.3,122.6 L178.2,121.2 L179.1,119.9 L179.9,118.5 L180.8,117.2 L181.7,115.9 L182.6,114.6 L183.6,113.3 L184.5,112.0 L185.4,110.7 L186.4,109.4 L187.3,108.2 L188.3,106.9 L189.2,105.6 L190.2,104.4 L191.2,103.1 L192.2,101.9 L193.2,100.6 L194.2,99.4 L195.2,98.2 L196.2,96.9 L197.2,95.7 L198.2,94.5 L199.2,93.3 L200.2,92.0 L201.2,90.8 L202.3,89.6 L203.3,88.4 L204.4,87.2 L205.4,86.0 L206.4,84.8 L207.5,83.6 L208.6,82.5 L209.6,81.3 L210.7,80.1 L211.8,79.0 L212.8,77.8 L213.9,76.7 L215.0,75.5 L216.1,74.4 L217.2,73.2 L218.3,72.1 L219.4,71.0 L220.5,69.9 L221.6,68.8 L222.7,67.7 L223.8,66.6"/>
<path d="M161.3,188.6 L161.3,186.9 L161.3,185.3 L161.3,183.7 L161.3,182.1 L161.3,180.5 L161.1,178.9 L161.1,177.3 L161.2,175.7 L161.2,174.1 L161.3,172.5 L161.4,170.9 L161.6,169.3 L161.7,167.7 L161.9,166.1 L162.1,164.5 L162.3,162.9 L162.5,161.3 L162.8,159.7 L163.1,158.2 L163.4,156.6 L163.7,155.0 L164.0,153.4 L164.4,151.9 L164.8,150.3 L165.3,148.8 L165.7,147.2 L166.2,145.7 L166.7,144.1 L167.2,142.6 L167.8,141.1 L168.4,139.6 L169.0,138.1 L169.6,136.6 L170.3,135.1 L171.0,133.7 L171.7,132.3 L172.5,130.8 L173.2,129.4 L174.0,128.0 L174.8,126.6 L175.6,125.2 L176.4,123.9 L177.3,122.5 L178.1,121.2 L179.0,119.8 L179.9,118.5 L180.7,117.2 L181.6,115.9 L182.5,114.5 L183.5,113.2 L184.4,111.9 L185.3,110.7 L186.2,109.4 L187.2,108.1 L188.1,106.8 L189.1,105.5 L190.1,104.3 L191.1,103.0 L192.0,101.8 L193.0,100.5 L194.0,99.3 L195.0,98.1 L196.0,96.8 L197.0,95.6 L198.0,94.4 L199.1,93.1 L200.1,91.9 L201.1,90.7 L202.1,89.5 L203.2,88.3 L204.2,87.1 L205.3,85.9 L206.3,84.7 L207.4,83.6 L208.4,82.4 L209.5,81.2 L210.6,80.0 L211.7,78.9 L212.7,77.7 L213.8,76.6 L214.9,75.4 L216.0,74.3 L217.1,73.2 L218.2,72.1 L219.3,70.9 L220.4,69.8 L221.6,68.7 L222.7,67.7 L223.8,66.6"/>
<path d="M161.2,188.6 L161.2,186.9 L161.2,185.3 L161.2,183.7 L161.2,182.1 L161.2,180.5 L161.1,178.9 L161.1,177.3 L161.2,175.7 L161.2,174.1 L161.3,172.5 L161.4,170.9 L161.5,169.3 L161.7,167.7 L161.9,166.1 L162.1,164.5 L162.3,162.9 L162.5,161.3 L162.8,159.7 L163.0,158.1 L163.3,156.6 L163.7,155.0 L164.0,153.4 L164.4,151.9 L164.8,150.3 L165.2,148.7 L165.7,147.2 L166.2,145.7 L166.7,144.1 L167.2,142.6 L167.8,141.1 L168.4,139.6 L169.0,138.1 L169.6,136.6 L170.3,135.1 L171.0,133.7 L171.7,132.2 L172.4,130.8 L173.2,129.4 L173.9,128.0 L174.7,126.6 L175.5,125.2 L176.3,123.8 L177.2,122.5 L178.0,121.1 L178.9,119.8 L179.8,118.4 L180.6,117.1 L181.5,115.8 L182.4,114.5 L183.3,113.2 L184.3,111.9 L185.2,110.6 L186.1,109.3 L187.1,108.0 L188.0,106.7 L189.0,105.5 L189.9,104.2 L190.9,102.9 L191.9,101.7 L192.9,100.4 L193.9,99.2 L194.9,97.9 L195.9,96.7 L196.9,95.5 L197.9,94.3 L198.9,93.0 L199.9,91.8 L201.0,90.6 L202.0,89.4 L203.0,88.2 L204.1,87.0 L205.1,85.8 L206.2,84.6 L207.2,83.5 L208.3,82.3 L209.4,81.1 L210.5,79.9 L211.5,78.8 L212.6,77.6 L213.7,76.5 L214.8,75.4 L215.9,74.2 L217.0,73.1 L218.1,72.0 L219.2,70.9 L220.4,69.8 L221.5,68.7 L222.6,67.6 L223.8,66.5"/>
<path d="M161.2,188.6 L161.2,186.9 L161.2,185.3 L161.2,183.7 L161.2,182.1 L161.2,180.5 L161.1,178.9 L161.1,177.3 L161.2,175.7 L161.2,174.1 L161.3,172.5 L161.4,170.9 L161.5,169.3 L161.7,167.7 L161.9,166.1 L162.0,164.5 L162.3,162.9 L162.5,161.3 L162.8,159.7 L163.0,158.1 L163.3,156.6 L163.7,155.0 L164.0,153.4 L164.4,151.8 L164.8,150.3 L165.2,148.7 L165.7,147.2 L166.2,145.6 L166.7,144.1 L167.2,142.6 L167.7,141.1 L168.3,139.6 L168.9,138.1 L169.6,136.6 L170.2,135.1 L170.9,133.7 L171.6,132.2 L172.4,130.8 L173.1,129.4 L173.9,127.9 L174.7,126.6 L175.5,125.2 L176.3,123.8 L177.1,122.4 L177.9,121.1 L178.8,119.7 L179.7,118.4 L180.5,117.1 L181.4,115.7 L182.3,114.4 L183.2,113.1 L184.1,111.8 L185.1,110.5 L186.0,109.2 L186.9,107.9 L187.9,106.6 L188.8,105.4 L189.8,104.1 L190.8,102.8 L191.8,101.6 L192.7,100.3 L193.7,99.1 L194.7,97.8 L195.7,96.6 L196.7,95.4 L197.7,94.2 L198.8,92.9 L199.8,91.7 L200.8,90.5 L201.9,89.3 L202.9,88.1 L203.9,86.9 L205.0,85.7 L206.1,84.5 L207.1,83.4 L208.2,82.2 L209.3,81.0 L210.3,79.9 L211.4,78.7 L212.5,77.6 L213.6,76.4 L214.7,75.3 L215.8,74.2 L216.9,73.1 L218.1,71.9 L219.2,70.8 L220.3,69.8 L221.4,68.7 L222.6,67.6 L223.7,66.5"/>
<path d="M161.2,188.6 L161.2,186.9 L161.2,185.3 L161.2,183.7 L161.2,182.1 L161.2,180.5 L161.1,178.9 L161.1,177.3 L161.2,175.7 L161.2,174.1 L161.3,172.5 L161.4,170.9 L161.5,169.3 L161.7,167.7 L161.8,166.1 L162.0,164.5 L162.2,162.9 L162.5,161.3 L162.7,159.7 L163.0,158.1 L163.3,156.6 L163.7,155.0 L164.0,153.4 L164.4,151.8 L164.8,150.3 L165.2,148.7 L165.7,147.2 L166.1,145.6 L166.6,144.1 L167.2,142.6 L167.7,141.1 L168.3,139.5 L168.9,138.1 L169.5,136.6 L170.2,135.1 L170.9,133.6 L171.6,132.2 L172.3,130.8 L173.0,129.3 L173.8,127.9 L174.6,126.5 L175.4,125.1 L176.2,123.7 L177.0,122.4 L177.9,121.0 L178.7,119.7 L179.6,118.3 L180.4,117.0 L181.3,115.7 L182.2,114.3 L183.1,113.0 L184.0,111.7 L184.9,110.4 L185.9,109.1 L186.8,107.8 L187.8,106.6 L188.7,105.3 L189.7,104.0 L190.6,102.7 L191.6,101.5 L192.6,100.2 L193.6,99.0 L194.6,97.7 L195.6,96.5 L196.6,95.3 L197.6,94.1 L198.6,92.8 L199.6,91.6 L200.7,90.4 L201.7,89.2 L202.8,88.0 L203.8,86.8 L204.9,85.6 L205.9,84.4 L207.0,83.3 L208.1,82.1 L209.1,80.9 L210.2,79.8 L211.3,78.6 L212.4,77.5 L213.5,76.3 L214.6,75.2 L215.7,74.1 L216.9,73.0 L218.0,71.9 L219.1,70.8 L220.2,69.7 L221.4,68.6 L222.5,67.6 L223.7,66.5"/>
<path d="M161.2,188.6 L161.2,186.9 L161.2,185.3 L161.2,183.7 L161.2,182.1 L161.2,180.5 L161.1,178.9 L161.1,177.3 L161.1,175.7 L161.2,174.1 L161.3,172.5 L161.4,170.9 L161.5,169.3 L161.7,167.7 L161.8,166.1 L162.0,164.5 L162.2,162.9 L162.5,161.3 L162.7,159.7 L163.0,158.1 L163.3,156.5 L163.6,155.0 L164.0,153.4 L164.4,151.8 L164.8,150.3 L165.2,148.7 L165.6,147.2 L166.1,145.6 L166.6,144.1 L167.1,142.6 L167.7,141.0 L168.3,139.5 L168.9,138.0 L169.5,136.6 L170.2,135.1 L170.8,133.6 L171.5,132.2 L172.2,130.7 L173.0,129.3 L173.7,127.9 L174.5,126.5 L175.3,125.1 L176.1,123.7 L176.9,122.3 L177.8,121.0 L178.6,119.6 L179.5,118.3 L180.3,116.9 L181.2,115.6 L182.1,114.3 L183.0,113.0 L183.9,111.7 L184.8,110.3 L185.7,109.1 L186.7,107.8 L187.6,106.5 L188.6,105.2 L189.5,103.9 L190.5,102.7 L191.5,101.4 L192.5,100.1 L193.4,98.9 L194.4,97.6 L195.4,96.4 L196.4,95.2 L197.5,93.9 L198.5,92.7 L199.5,91.5 L200.5,90.3 L201.6,89.1 L202.6,87.9 L203.7,86.7 L204.7,85.5 L205.8,84.3 L206.9,83.2 L207.9,82.0 L209.0,80.8 L210.1,79.7 L211.2,78.5 L212.3,77.4 L213.4,76.3 L214.5,75.1 L215.6,74.0 L216.8,72.9 L217.9,71.8 L219.0,70.7 L220.2,69.7 L221.3,68.6 L222.5,67.5 L223.6,66.5"/>
<path d="M161.2,188.6 L161.2,186.9 L161.2,185.3 L161.2,183.7 L161.2,182.1 L161.2,180.5 L161.1,178.9 L161.1,177.3 L161.1,175.7 L161.2,174.1 L161.3,172.5 L161.4,170.9 L161.5,169.3 L161.7,167.7 L161.8,166.1 L162.0,164.5 L162.2,162.9 L162.5,161.3 L162.7,159.7 L163.0,158.1 L163.3,156.5 L163.6,155.0 L164.0,153.4 L164.4,151.8 L164.8,150.3 L165.2,148.7 L165.6,147.2 L166.1,145.6 L166.6,144.1 L167.1,142.5 L167.7,141.0 L168.2,139.5 L168.8,138.0 L169.5,136.5 L170.1,135.1 L170.8,133.6 L171.5,132.1 L172.2,130.7 L172.9,129.3 L173.7,127.9 L174.5,126.5 L175.2,125.1 L176.0,123.7 L176.9,122.3 L177.7,120.9 L178.5,119.6 L179.4,118.2 L180.2,116.9 L181.1,115.5 L182.0,114.2 L182.9,112.9 L183.8,111.6 L184.7,110.3 L185.6,109.0 L186.6,107.7 L187.5,106.4 L188.4,105.1 L189.4,103.8 L190.4,102.6 L191.3,101.3 L192.3,100.0 L193.3,98.8 L194.3,97.5 L195.3,96.3 L196.3,95.1 L197.3,93.8 L198.3,92.6 L199.4,91.4 L200.4,90.2 L201.4,89.0 L202.5,87.8 L203.5,86.6 L204.6,85.4 L205.7,84.2 L206.7,83.1 L207.8,81.9 L208.9,80.7 L210.0,79.6 L211.1,78.4 L212.2,77.3 L213.3,76.2 L214.4,75.1 L215.6,74.0 L216.7,72.9 L217.8,71.8 L219.0,70.7 L220.1,69.6 L221.3,68.6 L222.4,67.5 L223.6,66.5"/>
<path d="M161.2,188.6 L161.2,186.9 L161.2,185.3 L161.2,183.7 L161.2,182.1 L161.2,180.5 L161.1,178.9 L161.1,177.3 L161.1,175.7 L161.2,174.1 L161.3,172.5 L161.4,170.9 L161.5,169.3 L161.6,167.7 L161.8,166.1 L162.0,164.5 L162.2,162.9 L162.5,161.3 L162.7,159.7 L163.0,158.1 L163.3,156.5 L163.6,155.0 L164.0,153.4 L164.4,151.8 L164.7,150.3 L165.2,148.7 L165.6,147.1 L166.1,145.6 L166.6,144.1 L167.1,142.5 L167.6,141.0 L168.2,139.5 L168.8,138.0 L169.4,136.5 L170.1,135.0 L170.7,133.6 L171.4,132.1 L172.1,130.7 L172.9,129.2 L173.6,127.8 L174.4,126.4 L175.2,125.0 L176.0,123.6 L176.8,122.3 L177.6,120.9 L178.4,119.5 L179.3,118.2 L180.1,116.8 L181.0,115.5 L181.9,114.2 L182.8,112.8 L183.7,111.5 L184.6,110.2 L185.5,108.9 L186.4,107.6 L187.4,106.3 L188.3,105.0 L189.3,103.7 L190.2,102.5 L191.2,101.2 L192.2,99.9 L193.2,98.7 L194.1,97.4 L195.1,96.2 L196.2,95.0 L197.2,93.7 L198.2,92.5 L199.2,91.3 L200.2,90.1 L201.3,88.9 L202.3,87.7 L203.4,86.5 L204.5,85.3 L205.5,84.1 L206.6,83.0 L207.7,81.8 L208.8,80.6 L209.9,79.5 L211.0,78.4 L212.1,77.2 L213.2,76.1 L214.3,75.0 L215.5,73.9 L216.6,72.8 L217.7,71.7 L218.9,70.6 L220.1,69.6 L221.2,68.5 L222.4,67.5 L223.6,66.4"/>
<path d="M161.2,188.6 L161.2,186.9 L161.2,185.3 L161.2,183.7 L161.2,182.1 L161.2,180.5 L161.1,178.9 L161.1,177.3 L161.1,175.6 L161.2,174.0 L161.3,172.4 L161.4,170.8 L161.5,169.2 L161.6,167.6 L161.8,166.0 L162.0,164.5 L162.2,162.9 L162.4,161.3 L162.7,159.7 L163.0,158.1 L163.3,156.5 L163.6,154.9 L164.0,153.4 L164.3,151.8 L164.7,150.2 L165.2,148.7 L165.6,147.1 L166.1,145.6 L166.6,144.1 L167.1,142.5 L167.6,141.0 L168.2,139.5 L168.8,138.0 L169.4,136.5 L170.0,135.0 L170.7,133.6 L171.4,132.1 L172.1,130.7 L172.8,129.2 L173.6,127.8 L174.3,126.4 L175.1,125.0 L175.9,123.6 L176.7,122.2 L177.5,120.8 L178.3,119.5 L179.2,118.1 L180.0,116.8 L180.9,115.4 L181.8,114.1 L182.7,112.8 L183.6,111.4 L184.5,110.1 L185.4,108.8 L186.3,107.5 L187.2,106.2 L188.2,104.9 L189.1,103.7 L190.1,102.4 L191.1,101.1 L192.0,99.8 L193.0,98.6 L194.0,97.3 L195.0,96.1 L196.0,94.9 L197.0,93.6 L198.0,92.4 L199.1,91.2 L200.1,90.0 L201.2,88.8 L202.2,87.6 L203.3,86.4 L204.3,85.2 L205.4,84.0 L206.5,82.9 L207.6,81.7 L208.7,80.5 L209.8,79.4 L210.9,78.3 L212.0,77.1 L213.1,76.0 L214.2,74.9 L215.4,73.8 L216.5,72.7 L217.7,71.7 L218.8,70.6 L220.0,69.5 L221.2,68.5 L222.3,67.4 L223.5,66.4"/>
<path d="M161.2,188.6 L161.2,186.9 L161.2,185.3 L161.2,183.7 L161.2,182.1 L161.2,180.5 L161.0,178.8 L161.1,177.2 L161.1,175.6 L161.2,174.0 L161.3,172.4 L161.4,170.8 L161.5,169.2 L161.6,167.6 L161.8,166.0 L162.0,164.4 L162.2,162.9 L162.4,161.3 L162.7,159.7 L163.0,158.1 L163.3,156.5 L163.6,154.9 L164.0,153.4 L164.3,151.8 L164.7,150.2 L165.1,148.7 L165.6,147.1 L166.1,145.6 L166.5,144.0 L167.1,142.5 L167.6,141.0 L168.2,139.5 L168.8,138.0 L169.4,136.5 L170.0,135.0 L170.7,133.5 L171.3,132.1 L172.0,130.6 L172.8,129.2 L173.5,127.8 L174.3,126.4 L175.0,124.9 L175.8,123.5 L176.6,122.2 L177.4,120.8 L178.2,119.4 L179.1,118.1 L179.9,116.7 L180.8,115.4 L181.7,114.0 L182.5,112.7 L183.4,111.4 L184.3,110.0 L185.2,108.7 L186.2,107.4 L187.1,106.1 L188.0,104.8 L189.0,103.6 L189.9,102.3 L190.9,101.0 L191.9,99.7 L192.9,98.5 L193.9,97.2 L194.9,96.0 L195.9,94.8 L196.9,93.5 L197.9,92.3 L198.9,91.1 L200.0,89.9 L201.0,88.7 L202.1,87.5 L203.1,86.3 L204.2,85.1 L205.3,83.9 L206.3,82.8 L207.4,81.6 L208.5,80.5 L209.6,79.3 L210.8,78.2 L211.9,77.1 L213.0,75.9 L214.1,74.8 L215.3,73.8 L216.4,72.7 L217.6,71.6 L218.8,70.5 L219.9,69.5 L221.1,68.4 L222.3,67.4 L223.5,66.4"/>
<path d="M161.2,188.6 L161.2,186.8 L161.2,185.3 L161.2,183.6 L161.2,182.0 L161.2,180.4 L161.0,178.8 L161.1,177.2 L161.1,175.6 L161.2,174.0 L161.2,172.4 L161.3,170.8 L161.5,169.2 L161.6,167.6 L161.8,166.0 L162.0,164.4 L162.2,162.8 L162.4,161.3 L162.7,159.7 L163.0,158.1 L163.3,156.5 L163.6,154.9 L163.9,153.4 L164.3,151.8 L164.7,150.2 L165.1,148.7 L165.6,147.1 L166.0,145.6 L166.5,144.0 L167.0,142.5 L167.6,141.0 L168.1,139.5 L168.7,138.0 L169.3,136.5 L170.0,135.0 L170.6,133.5 L171.3,132.1 L172.0,130.6 L172.7,129.2 L173.4,127.7 L174.2,126.3 L175.0,124.9 L175.7,123.5 L176.5,122.1 L177.3,120.7 L178.2,119.4 L179.0,118.0 L179.8,116.6 L180.7,115.3 L181.6,114.0 L182.4,112.6 L183.3,111.3 L184.2,110.0 L185.1,108.7 L186.0,107.3 L187.0,106.0 L187.9,104.8 L188.8,103.5 L189.8,102.2 L190.8,100.9 L191.7,99.7 L192.7,98.4 L193.7,97.1 L194.7,95.9 L195.7,94.7 L196.7,93.4 L197.8,92.2 L198.8,91.0 L199.8,89.8 L200.9,88.6 L201.9,87.4 L203.0,86.2 L204.1,85.0 L205.1,83.8 L206.2,82.7 L207.3,81.5 L208.4,80.4 L209.5,79.2 L210.6,78.1 L211.8,77.0 L212.9,75.9 L214.0,74.8 L215.2,73.7 L216.3,72.6 L217.5,71.5 L218.7,70.5 L219.9,69.4 L221.0,68.4 L222.2,67.4 L223.4,66.4"/>
<path d="M161.5,188.6 L161.5,187.0 L161.5,185.4 L161.5,183.8 L161.5,182.2 L161.5,180.6 L161.3,179.0 L161.3,177.4 L161.4,175.8 L161.4,174.2 L161.5,172.6 L161.6,171.0 L161.7,169.4 L161.9,167.8 L162.0,166.2 L162.2,164.7 L162.5,163.1 L162.7,161.5 L162.9,159.9 L163.2,158.3 L163.5,156.7 L163.9,155.2 L164.2,153.6 L164.6,152.0 L165.1,150.5 L165.5,148.9 L166.0,147.4 L166.5,145.9 L167.1,144.4 L167.6,142.8 L168.3,141.3 L168.9,139.9 L169.6,138.4 L170.3,136.9 L171.0,135.5 L171.8,134.1 L172.6,132.7 L173.5,131.3 L174.3,130.0 L175.2,128.6 L176.1,127.3 L177.0,126.0 L177.9,124.7 L178.9,123.4 L179.8,122.1 L180.8,120.8 L181.8,119.6 L182.8,118.3 L183.7,117.1 L184.7,115.8 L185.7,114.6 L186.7,113.4 L187.7,112.2 L188.7,110.9 L189.8,109.7 L190.8,108.5 L191.8,107.3 L192.8,106.1 L193.8,104.9 L194.8,103.7 L195.9,102.5 L196.9,101.3 L197.9,100.1 L198.9,98.9 L199.9,97.7 L200.9,96.5 L201.9,95.3 L203.0,94.0 L204.0,92.8 L205.0,91.6 L206.0,90.4 L207.0,89.2 L208.0,88.0 L208.9,86.7 L209.9,85.5 L210.9,84.3 L211.9,83.1 L212.9,81.9 L213.9,80.6 L214.9,79.4 L215.9,78.2 L216.8,76.9 L217.8,75.7 L218.8,74.5 L219.8,73.2 L220.7,72.0 L221.7,70.7 L222.7,69.5 L223.6,68.3 L224.6,67.0"/>
<path d="M161.5,188.6 L161.5,187.0 L161.5,185.4 L161.5,183.8 L161.5,182.2 L161.5,180.6 L161.3,179.0 L161.3,177.4 L161.3,175.8 L161.4,174.2 L161.5,172.6 L161.6,171.0 L161.7,169.4 L161.9,167.8 L162.0,166.2 L162.2,164.6 L162.4,163.1 L162.7,161.5 L162.9,159.9 L163.2,158.3 L163.5,156.7 L163.9,155.2 L164.2,153.6 L164.6,152.0 L165.1,150.5 L165.5,148.9 L166.0,147.4 L166.5,145.9 L167.0,144.3 L167.6,142.8 L168.2,141.3 L168.9,139.8 L169.6,138.4 L170.3,136.9 L171.0,135.5 L171.8,134.1 L172.6,132.7 L173.4,131.3 L174.3,129.9 L175.1,128.6 L176.0,127.2 L176.9,125.9 L177.9,124.6 L178.8,123.3 L179.8,122.1 L180.7,120.8 L181.7,119.5 L182.7,118.3 L183.6,117.0 L184.6,115.8 L185.6,114.5 L186.6,113.3 L187.6,112.1 L188.6,110.9 L189.6,109.6 L190.6,108.4 L191.7,107.2 L192.7,106.0 L193.7,104.8 L194.7,103.6 L195.7,102.4 L196.7,101.2 L197.8,100.0 L198.8,98.8 L199.8,97.6 L200.8,96.4 L201.8,95.1 L202.8,93.9 L203.8,92.7 L204.8,91.5 L205.8,90.3 L206.8,89.1 L207.8,87.9 L208.8,86.6 L209.8,85.4 L210.8,84.2 L211.8,83.0 L212.8,81.8 L213.8,80.5 L214.8,79.3 L215.8,78.1 L216.7,76.9 L217.7,75.6 L218.7,74.4 L219.7,73.2 L220.7,71.9 L221.6,70.7 L222.6,69.5 L223.6,68.2 L224.6,67.0"/>
<path d="M161.2,188.6 L161.2,186.9 L161.2,185.3 L161.2,183.7 L161.2,182.1 L161.2,180.5 L161.0,178.8 L161.1,177.2 L161.1,175.6 L161.2,174.0 L161.3,172.4 L161.4,170.8 L161.5,169.2 L161.6,167.6 L161.8,166.0 L162.0,164.4 L162.2,162.9 L162.4,161.3 L162.7,159.7 L163.0,158.1 L163.3,156.5 L163.6,154.9 L164.0,153.4 L164.3,151.8 L164.7,150.2 L165.1,148.7 L165.6,147.1 L166.1,145.6 L166.5,144.0 L167.1,142.5 L167.6,141.0 L168.2,139.5 L168.8,138.0 L169.4,136.5 L170.0,135.0 L170.7,133.5 L171.3,132.1 L172.0,130.6 L172.8,129.2 L173.5,127.8 L174.3,126.4 L175.0,124.9 L175.8,123.5 L176.6,122.2 L177.4,120.8 L178.2,119.4 L179.1,118.1 L179.9,116.7 L180.8,115.4 L181.7,114.0 L182.5,112.7 L183.4,111.4 L184.3,110.0 L185.2,108.7 L186.2,107.4 L187.1,106.1 L188.0,104.8 L189.0,103.6 L189.9,102.3 L190.9,101.0 L191.9,99.7 L192.9,98.5 L193.9,97.2 L194.9,96.0 L195.9,94.8 L196.9,93.5 L197.9,92.3 L198.9,91.1 L200.0,89.9 L201.0,88.7 L202.1,87.5 L203.1,86.3 L204.2,85.1 L205.3,83.9 L206.3,82.8 L207.4,81.6 L208.5,80.5 L209.6,79.3 L210.8,78.2 L211.9,77.1 L213.0,75.9 L214.1,74.8 L215.3,73.8 L216.4,72.7 L217.6,71.6 L218.8,70.5 L219.9,69.5 L221.1,68.4 L222.3,67.4 L223.5,66.4"/>
<path d="M161.1,188.6 L161.1,186.8 L161.1,185.2 L161.1,183.6 L161.1,182.0 L161.1,180.4 L161.0,178.8 L161.0,177.2 L161.1,175.6 L161.1,174.0 L161.2,172.4 L161.3,170.8 L161.4,169.2 L161.6,167.6 L161.7,166.0 L161.9,164.4 L162.2,162.8 L162.4,161.2 L162.6,159.6 L162.9,158.0 L163.2,156.5 L163.5,154.9 L163.9,153.3 L164.3,151.7 L164.7,150.2 L165.1,148.6 L165.5,147.1 L166.0,145.5 L166.4,144.0 L166.9,142.4 L167.5,140.9 L168.0,139.4 L168.6,137.9 L169.2,136.4 L169.8,134.9 L170.4,133.4 L171.1,131.9 L171.7,130.5 L172.4,129.0 L173.1,127.6 L173.9,126.2 L174.6,124.7 L175.4,123.3 L176.1,121.9 L176.9,120.5 L177.7,119.1 L178.5,117.7 L179.3,116.4 L180.2,115.0 L181.0,113.6 L181.9,112.3 L182.7,110.9 L183.6,109.6 L184.5,108.3 L185.4,106.9 L186.3,105.6 L187.2,104.3 L188.2,103.0 L189.1,101.7 L190.1,100.4 L191.0,99.2 L192.0,97.9 L193.0,96.6 L194.0,95.4 L195.0,94.1 L196.0,92.9 L197.0,91.7 L198.1,90.4 L199.1,89.2 L200.2,88.0 L201.2,86.8 L202.3,85.7 L203.4,84.5 L204.5,83.3 L205.6,82.2 L206.7,81.0 L207.8,79.9 L208.9,78.8 L210.1,77.7 L211.2,76.6 L212.4,75.5 L213.6,74.4 L214.7,73.3 L215.9,72.3 L217.1,71.2 L218.3,70.2 L219.5,69.2 L220.8,68.2 L222.0,67.2 L223.2,66.2"/>
<path d="M161.0,188.6 L161.0,186.8 L161.0,185.2 L161.0,183.6 L161.0,182.0 L161.0,180.4 L160.9,178.8 L160.9,177.2 L161.0,175.6 L161.0,174.0 L161.1,172.3 L161.2,170.7 L161.4,169.1 L161.5,167.5 L161.7,165.9 L161.9,164.3 L162.1,162.7 L162.3,161.2 L162.6,159.6 L162.9,158.0 L163.2,156.4 L163.5,154.8 L163.8,153.2 L164.2,151.7 L164.6,150.1 L165.0,148.5 L165.4,147.0 L165.8,145.4 L166.3,143.9 L166.8,142.4 L167.3,140.8 L167.8,139.3 L168.3,137.8 L168.9,136.3 L169.5,134.8 L170.1,133.3 L170.7,131.8 L171.3,130.3 L172.0,128.8 L172.7,127.3 L173.3,125.9 L174.0,124.4 L174.7,123.0 L175.5,121.6 L176.2,120.1 L177.0,118.7 L177.7,117.3 L178.5,115.9 L179.3,114.5 L180.1,113.1 L181.0,111.7 L181.8,110.4 L182.6,109.0 L183.5,107.6 L184.4,106.3 L185.3,104.9 L186.2,103.6 L187.1,102.3 L188.0,101.0 L188.9,99.7 L189.9,98.4 L190.9,97.1 L191.8,95.8 L192.8,94.6 L193.8,93.3 L194.8,92.1 L195.9,90.8 L196.9,89.6 L198.0,88.4 L199.0,87.2 L200.1,86.0 L201.2,84.8 L202.3,83.7 L203.4,82.5 L204.6,81.4 L205.7,80.3 L206.8,79.1 L208.0,78.0 L209.2,77.0 L210.4,75.9 L211.6,74.8 L212.8,73.8 L214.0,72.8 L215.3,71.8 L216.5,70.8 L217.8,69.8 L219.0,68.8 L220.3,67.9 L221.6,67.0 L222.9,66.1"/>
<path d="M160.9,188.6 L160.9,186.8 L160.9,185.1 L160.9,183.5 L160.9,181.9 L160.9,180.3 L160.9,178.7 L160.9,177.1 L160.9,175.5 L161.0,173.9 L161.1,172.3 L161.2,170.7 L161.3,169.1 L161.4,167.5 L161.6,165.9 L161.8,164.3 L162.0,162.7 L162.2,161.1 L162.5,159.5 L162.8,157.9 L163.1,156.3 L163.4,154.8 L163.7,153.2 L164.1,151.6 L164.5,150.0 L164.9,148.5 L165.3,146.9 L165.7,145.4 L166.1,143.8 L166.6,142.3 L167.1,140.7 L167.6,139.2 L168.1,137.7 L168.6,136.1 L169.2,134.6 L169.7,133.1 L170.3,131.6 L170.9,130.1 L171.5,128.6 L172.2,127.1 L172.8,125.6 L173.5,124.1 L174.1,122.7 L174.8,121.2 L175.5,119.8 L176.2,118.3 L177.0,116.9 L177.7,115.4 L178.5,114.0 L179.3,112.6 L180.0,111.2 L180.8,109.8 L181.7,108.4 L182.5,107.0 L183.4,105.6 L184.2,104.3 L185.1,102.9 L186.0,101.6 L186.9,100.2 L187.8,98.9 L188.8,97.6 L189.7,96.3 L190.7,95.0 L191.7,93.7 L192.7,92.5 L193.7,91.2 L194.7,90.0 L195.8,88.8 L196.8,87.5 L197.9,86.3 L199.0,85.2 L200.1,84.0 L201.2,82.8 L202.4,81.7 L203.5,80.6 L204.7,79.5 L205.9,78.4 L207.1,77.3 L208.3,76.3 L209.5,75.2 L210.8,74.2 L212.0,73.2 L213.3,72.2 L214.6,71.3 L215.9,70.3 L217.2,69.4 L218.5,68.5 L219.9,67.6 L221.2,66.7 L222.6,65.9"/>
</g>
<g transform="translate(201.0,0)" fill="none" stroke="#66c2a5" stroke-width="3.6" stroke-opacity="0.5" stroke-linecap="round" stroke-linejoin="round">
<path d="M161.5,188.8 L161.5,187.2 L161.5,185.6 L161.5,184.0 L161.5,182.3 L161.5,180.7 L161.2,179.1 L161.2,177.5 L161.3,175.9 L161.4,174.3 L161.5,172.6 L161.7,171.0 L161.8,169.4 L162.1,167.8 L162.3,166.2 L162.6,164.6 L162.8,163.0 L163.2,161.4 L163.5,159.8 L163.9,158.3 L164.3,156.7 L164.7,155.1 L165.2,153.6 L165.7,152.0 L166.2,150.5 L166.7,149.0 L167.3,147.5 L167.9,146.0 L168.5,144.5 L169.1,143.0 L169.8,141.5 L170.5,140.0 L171.2,138.6 L172.0,137.2 L172.7,135.7 L173.5,134.3 L174.3,132.9 L175.2,131.5 L176.0,130.2 L176.9,128.8 L177.8,127.5 L178.7,126.1 L179.6,124.8 L180.6,123.5 L181.5,122.2 L182.5,120.9 L183.5,119.7 L184.5,118.4 L185.5,117.2 L186.5,115.9 L187.5,114.7 L188.5,113.4 L189.5,112.2 L190.6,111.0 L191.6,109.8 L192.7,108.6 L193.8,107.4 L194.8,106.2 L195.9,105.0 L196.9,103.9 L198.0,102.7 L199.1,101.5 L200.2,100.3 L201.2,99.2 L202.3,98.0 L203.4,96.8 L204.5,95.7 L205.5,94.5 L206.6,93.3 L207.7,92.2 L208.7,91.0 L209.8,89.8 L210.8,88.6 L211.9,87.4 L212.9,86.2 L213.9,85.0 L214.9,83.8 L216.0,82.6 L217.0,81.4 L217.9,80.2 L218.9,79.0 L219.9,77.7 L220.9,76.5 L221.8,75.2 L222.7,74.0 L223.6,72.7 L224.5,71.4 L225.4,70.1 L226.3,68.8 L227.1,67.5"/>
<path d="M161.5,188.8 L161.5,187.2 L161.5,185.6 L161.5,184.0 L161.5,182.3 L161.5,180.7 L161.2,179.1 L161.2,177.5 L161.3,175.9 L161.4,174.3 L161.5,172.6 L161.7,171.0 L161.8,169.4 L162.0,167.8 L162.3,166.2 L162.5,164.6 L162.8,163.0 L163.2,161.4 L163.5,159.9 L163.9,158.3 L164.3,156.7 L164.7,155.2 L165.2,153.6 L165.6,152.1 L166.2,150.5 L166.7,149.0 L167.2,147.5 L167.8,146.0 L168.4,144.5 L169.1,143.0 L169.8,141.5 L170.4,140.0 L171.2,138.6 L171.9,137.2 L172.7,135.7 L173.4,134.3 L174.3,132.9 L175.1,131.5 L175.9,130.2 L176.8,128.8 L177.7,127.5 L178.6,126.1 L179.5,124.8 L180.4,123.5 L181.4,122.2 L182.3,120.9 L183.3,119.6 L184.3,118.4 L185.3,117.1 L186.3,115.9 L187.3,114.6 L188.3,113.4 L189.4,112.2 L190.4,111.0 L191.4,109.8 L192.5,108.6 L193.5,107.4 L194.6,106.2 L195.7,105.0 L196.7,103.8 L197.8,102.6 L198.9,101.4 L199.9,100.3 L201.0,99.1 L202.1,97.9 L203.1,96.7 L204.2,95.6 L205.3,94.4 L206.3,93.2 L207.4,92.1 L208.5,90.9 L209.5,89.7 L210.6,88.5 L211.6,87.3 L212.6,86.1 L213.7,84.9 L214.7,83.7 L215.7,82.5 L216.7,81.3 L217.7,80.1 L218.7,78.9 L219.7,77.6 L220.6,76.4 L221.6,75.2 L222.5,73.9 L223.4,72.6 L224.3,71.3 L225.2,70.1 L226.1,68.8 L226.9,67.4"/>
<path d="M161.5,188.8 L161.5,187.2 L161.5,185.6 L161.5,184.0 L161.5,182.3 L161.5,180.7 L161.2,179.1 L161.2,177.5 L161.3,175.9 L161.4,174.3 L161.5,172.6 L161.6,171.0 L161.8,169.4 L162.0,167.8 L162.3,166.2 L162.5,164.6 L162.8,163.0 L163.1,161.4 L163.5,159.9 L163.9,158.3 L164.3,156.7 L164.7,155.2 L165.1,153.6 L165.6,152.1 L166.1,150.5 L166.6,149.0 L167.2,147.5 L167.8,146.0 L168.4,144.5 L169.0,143.0 L169.7,141.5 L170.4,140.0 L171.1,138.6 L171.8,137.2 L172.6,135.7 L173.4,134.3 L174.2,132.9 L175.0,131.5 L175.8,130.2 L176.7,128.8 L177.6,127.4 L178.5,126.1 L179.4,124.8 L180.3,123.5 L181.3,122.2 L182.2,120.9 L183.2,119.6 L184.2,118.3 L185.1,117.1 L186.1,115.8 L187.1,114.6 L188.2,113.4 L189.2,112.1 L190.2,110.9 L191.3,109.7 L192.3,108.5 L193.3,107.3 L194.4,106.1 L195.5,104.9 L196.5,103.7 L197.6,102.5 L198.6,101.4 L199.7,100.2 L200.8,99.0 L201.8,97.8 L202.9,96.7 L204.0,95.5 L205.0,94.3 L206.1,93.1 L207.2,92.0 L208.2,90.8 L209.3,89.6 L210.3,88.4 L211.4,87.2 L212.4,86.0 L213.4,84.8 L214.4,83.6 L215.5,82.4 L216.5,81.2 L217.5,80.0 L218.4,78.8 L219.4,77.6 L220.4,76.3 L221.3,75.1 L222.3,73.8 L223.2,72.6 L224.1,71.3 L225.0,70.0 L225.9,68.7 L226.7,67.4"/>
<path d="M161.5,188.8 L161.5,187.2 L161.5,185.6 L161.5,183.9 L161.5,182.3 L161.5,180.7 L161.2,179.1 L161.2,177.5 L161.3,175.9 L161.4,174.3 L161.5,172.6 L161.6,171.0 L161.8,169.4 L162.0,167.8 L162.2,166.2 L162.5,164.6 L162.8,163.0 L163.1,161.4 L163.5,159.9 L163.8,158.3 L164.2,156.7 L164.7,155.2 L165.1,153.6 L165.6,152.1 L166.1,150.5 L166.6,149.0 L167.2,147.5 L167.7,146.0 L168.4,144.5 L169.0,143.0 L169.6,141.5 L170.3,140.1 L171.0,138.6 L171.8,137.2 L172.5,135.7 L173.3,134.3 L174.1,132.9 L174.9,131.5 L175.7,130.1 L176.6,128.8 L177.5,127.4 L178.4,126.1 L179.3,124.8 L180.2,123.5 L181.1,122.2 L182.1,120.9 L183.0,119.6 L184.0,118.3 L185.0,117.0 L186.0,115.8 L187.0,114.5 L188.0,113.3 L189.0,112.1 L190.0,110.9 L191.1,109.6 L192.1,108.4 L193.1,107.2 L194.2,106.0 L195.2,104.8 L196.3,103.6 L197.4,102.5 L198.4,101.3 L199.5,100.1 L200.5,98.9 L201.6,97.7 L202.7,96.6 L203.7,95.4 L204.8,94.2 L205.9,93.0 L206.9,91.9 L208.0,90.7 L209.0,89.5 L210.1,88.3 L211.1,87.1 L212.1,85.9 L213.2,84.7 L214.2,83.5 L215.2,82.3 L216.2,81.1 L217.2,79.9 L218.2,78.7 L219.2,77.5 L220.2,76.2 L221.1,75.0 L222.1,73.7 L223.0,72.5 L223.9,71.2 L224.8,69.9 L225.7,68.7 L226.5,67.4"/>
<path d="M161.5,188.8 L161.5,187.2 L161.5,185.6 L161.5,183.9 L161.5,182.3 L161.5,180.7 L161.2,179.1 L161.2,177.5 L161.3,175.9 L161.4,174.3 L161.5,172.6 L161.6,171.0 L161.8,169.4 L162.0,167.8 L162.2,166.2 L162.5,164.6 L162.8,163.0 L163.1,161.5 L163.4,159.9 L163.8,158.3 L164.2,156.7 L164.6,155.2 L165.1,153.6 L165.5,152.1 L166.0,150.5 L166.6,149.0 L167.1,147.5 L167.7,146.0 L168.3,144.5 L168.9,143.0 L169.6,141.5 L170.3,140.1 L171.0,138.6 L171.7,137.2 L172.4,135.7 L173.2,134.3 L174.0,132.9 L174.8,131.5 L175.6,130.1 L176.5,128.8 L177.4,127.4 L178.2,126.1 L179.1,124.8 L180.1,123.4 L181.0,122.1 L181.9,120.8 L182.9,119.5 L183.9,118.3 L184.8,117.0 L185.8,115.7 L186.8,114.5 L187.8,113.3 L188.8,112.0 L189.8,110.8 L190.9,109.6 L191.9,108.4 L192.9,107.2 L194.0,106.0 L195.0,104.8 L196.1,103.6 L197.1,102.4 L198.2,101.2 L199.3,100.0 L200.3,98.8 L201.4,97.7 L202.4,96.5 L203.5,95.3 L204.6,94.1 L205.6,92.9 L206.7,91.8 L207.7,90.6 L208.8,89.4 L209.8,88.2 L210.9,87.0 L211.9,85.8 L212.9,84.6 L213.9,83.4 L215.0,82.2 L216.0,81.0 L217.0,79.8 L218.0,78.6 L218.9,77.4 L219.9,76.2 L220.9,74.9 L221.8,73.7 L222.8,72.4 L223.7,71.2 L224.6,69.9 L225.5,68.6 L226.4,67.3"/>
<path d="M161.4,188.8 L161.4,187.2 L161.4,185.6 L161.4,183.9 L161.4,182.3 L161.4,180.7 L161.2,179.1 L161.2,177.5 L161.3,175.9 L161.3,174.3 L161.5,172.6 L161.6,171.0 L161.8,169.4 L162.0,167.8 L162.2,166.2 L162.5,164.6 L162.8,163.0 L163.1,161.5 L163.4,159.9 L163.8,158.3 L164.2,156.7 L164.6,155.2 L165.0,153.6 L165.5,152.1 L166.0,150.6 L166.5,149.0 L167.1,147.5 L167.7,146.0 L168.3,144.5 L168.9,143.0 L169.5,141.5 L170.2,140.1 L170.9,138.6 L171.6,137.2 L172.4,135.7 L173.1,134.3 L173.9,132.9 L174.7,131.5 L175.5,130.1 L176.4,128.8 L177.3,127.4 L178.1,126.1 L179.0,124.7 L179.9,123.4 L180.9,122.1 L181.8,120.8 L182.7,119.5 L183.7,118.2 L184.7,117.0 L185.7,115.7 L186.6,114.5 L187.6,113.2 L188.6,112.0 L189.7,110.7 L190.7,109.5 L191.7,108.3 L192.7,107.1 L193.8,105.9 L194.8,104.7 L195.9,103.5 L196.9,102.3 L198.0,101.1 L199.0,99.9 L200.1,98.7 L201.1,97.6 L202.2,96.4 L203.3,95.2 L204.3,94.0 L205.4,92.8 L206.4,91.7 L207.5,90.5 L208.5,89.3 L209.6,88.1 L210.6,86.9 L211.6,85.7 L212.7,84.5 L213.7,83.4 L214.7,82.1 L215.7,80.9 L216.7,79.7 L217.7,78.5 L218.7,77.3 L219.7,76.1 L220.7,74.8 L221.6,73.6 L222.5,72.3 L223.5,71.1 L224.4,69.8 L225.3,68.6 L226.2,67.3"/>
<path d="M161.4,188.8 L161.4,187.2 L161.4,185.5 L161.4,183.9 L161.4,182.3 L161.4,180.7 L161.1,179.1 L161.2,177.5 L161.2,175.9 L161.3,174.3 L161.5,172.6 L161.6,171.0 L161.8,169.4 L162.0,167.8 L162.2,166.2 L162.5,164.6 L162.7,163.1 L163.1,161.5 L163.4,159.9 L163.8,158.3 L164.2,156.8 L164.6,155.2 L165.0,153.6 L165.5,152.1 L166.0,150.6 L166.5,149.0 L167.0,147.5 L167.6,146.0 L168.2,144.5 L168.8,143.0 L169.5,141.5 L170.1,140.1 L170.8,138.6 L171.6,137.2 L172.3,135.7 L173.1,134.3 L173.8,132.9 L174.6,131.5 L175.5,130.1 L176.3,128.8 L177.1,127.4 L178.0,126.1 L178.9,124.7 L179.8,123.4 L180.7,122.1 L181.7,120.8 L182.6,119.5 L183.6,118.2 L184.5,116.9 L185.5,115.7 L186.5,114.4 L187.5,113.2 L188.5,111.9 L189.5,110.7 L190.5,109.5 L191.5,108.2 L192.5,107.0 L193.6,105.8 L194.6,104.6 L195.7,103.4 L196.7,102.2 L197.7,101.0 L198.8,99.8 L199.8,98.7 L200.9,97.5 L202.0,96.3 L203.0,95.1 L204.1,93.9 L205.1,92.7 L206.2,91.6 L207.2,90.4 L208.3,89.2 L209.3,88.0 L210.4,86.8 L211.4,85.6 L212.4,84.4 L213.4,83.3 L214.5,82.1 L215.5,80.8 L216.5,79.6 L217.5,78.4 L218.5,77.2 L219.5,76.0 L220.4,74.8 L221.4,73.5 L222.3,72.3 L223.3,71.0 L224.2,69.8 L225.1,68.5 L226.0,67.2"/>
<path d="M161.4,188.8 L161.4,187.1 L161.4,185.5 L161.4,183.9 L161.4,182.3 L161.4,180.7 L161.1,179.1 L161.2,177.5 L161.2,175.9 L161.3,174.3 L161.4,172.6 L161.6,171.0 L161.8,169.4 L162.0,167.8 L162.2,166.2 L162.4,164.6 L162.7,163.1 L163.0,161.5 L163.4,159.9 L163.7,158.3 L164.1,156.8 L164.5,155.2 L165.0,153.6 L165.5,152.1 L165.9,150.6 L166.5,149.0 L167.0,147.5 L167.6,146.0 L168.2,144.5 L168.8,143.0 L169.4,141.5 L170.1,140.1 L170.8,138.6 L171.5,137.2 L172.2,135.7 L173.0,134.3 L173.7,132.9 L174.5,131.5 L175.4,130.1 L176.2,128.7 L177.0,127.4 L177.9,126.0 L178.8,124.7 L179.7,123.4 L180.6,122.1 L181.5,120.8 L182.5,119.5 L183.4,118.2 L184.4,116.9 L185.3,115.6 L186.3,114.4 L187.3,113.1 L188.3,111.9 L189.3,110.6 L190.3,109.4 L191.3,108.2 L192.3,107.0 L193.4,105.8 L194.4,104.6 L195.4,103.3 L196.5,102.2 L197.5,101.0 L198.6,99.8 L199.6,98.6 L200.7,97.4 L201.7,96.2 L202.8,95.0 L203.8,93.8 L204.9,92.7 L205.9,91.5 L207.0,90.3 L208.0,89.1 L209.1,87.9 L210.1,86.7 L211.1,85.5 L212.2,84.3 L213.2,83.2 L214.2,82.0 L215.2,80.8 L216.2,79.5 L217.2,78.3 L218.2,77.1 L219.2,75.9 L220.2,74.7 L221.2,73.4 L222.1,72.2 L223.0,71.0 L224.0,69.7 L224.9,68.4 L225.8,67.2"/>
<path d="M161.4,188.8 L161.4,187.1 L161.4,185.5 L161.4,183.9 L161.4,182.3 L161.4,180.7 L161.1,179.1 L161.2,177.5 L161.2,175.9 L161.3,174.3 L161.4,172.6 L161.6,171.0 L161.7,169.4 L161.9,167.8 L162.2,166.2 L162.4,164.6 L162.7,163.1 L163.0,161.5 L163.4,159.9 L163.7,158.3 L164.1,156.8 L164.5,155.2 L165.0,153.7 L165.4,152.1 L165.9,150.6 L166.4,149.0 L167.0,147.5 L167.5,146.0 L168.1,144.5 L168.7,143.0 L169.4,141.5 L170.0,140.1 L170.7,138.6 L171.4,137.2 L172.1,135.7 L172.9,134.3 L173.7,132.9 L174.5,131.5 L175.3,130.1 L176.1,128.7 L176.9,127.4 L177.8,126.0 L178.7,124.7 L179.6,123.4 L180.5,122.0 L181.4,120.7 L182.3,119.4 L183.3,118.1 L184.2,116.9 L185.2,115.6 L186.1,114.3 L187.1,113.1 L188.1,111.8 L189.1,110.6 L190.1,109.4 L191.1,108.1 L192.1,106.9 L193.2,105.7 L194.2,104.5 L195.2,103.3 L196.3,102.1 L197.3,100.9 L198.3,99.7 L199.4,98.5 L200.4,97.3 L201.5,96.1 L202.5,94.9 L203.6,93.7 L204.6,92.6 L205.7,91.4 L206.7,90.2 L207.8,89.0 L208.8,87.8 L209.9,86.6 L210.9,85.4 L211.9,84.3 L213.0,83.1 L214.0,81.9 L215.0,80.7 L216.0,79.5 L217.0,78.2 L218.0,77.0 L219.0,75.8 L220.0,74.6 L220.9,73.4 L221.9,72.1 L222.8,70.9 L223.8,69.6 L224.7,68.4 L225.6,67.1"/>
<path d="M161.4,188.8 L161.4,187.1 L161.4,185.5 L161.4,183.9 L161.4,182.3 L161.4,180.7 L161.1,179.1 L161.2,177.5 L161.2,175.9 L161.3,174.3 L161.4,172.6 L161.6,171.0 L161.7,169.4 L161.9,167.8 L162.2,166.2 L162.4,164.7 L162.7,163.1 L163.0,161.5 L163.3,159.9 L163.7,158.3 L164.1,156.8 L164.5,155.2 L164.9,153.7 L165.4,152.1 L165.9,150.6 L166.4,149.1 L166.9,147.5 L167.5,146.0 L168.1,144.5 L168.7,143.0 L169.3,141.6 L170.0,140.1 L170.6,138.6 L171.3,137.2 L172.1,135.7 L172.8,134.3 L173.6,132.9 L174.4,131.5 L175.2,130.1 L176.0,128.7 L176.8,127.4 L177.7,126.0 L178.6,124.7 L179.4,123.3 L180.3,122.0 L181.2,120.7 L182.2,119.4 L183.1,118.1 L184.0,116.8 L185.0,115.5 L186.0,114.3 L186.9,113.0 L187.9,111.8 L188.9,110.5 L189.9,109.3 L190.9,108.1 L191.9,106.8 L193.0,105.6 L194.0,104.4 L195.0,103.2 L196.0,102.0 L197.1,100.8 L198.1,99.6 L199.2,98.4 L200.2,97.2 L201.2,96.0 L202.3,94.8 L203.3,93.6 L204.4,92.5 L205.4,91.3 L206.5,90.1 L207.5,88.9 L208.6,87.7 L209.6,86.5 L210.6,85.3 L211.7,84.2 L212.7,83.0 L213.7,81.8 L214.7,80.6 L215.8,79.4 L216.8,78.2 L217.8,76.9 L218.8,75.7 L219.7,74.5 L220.7,73.3 L221.7,72.1 L222.6,70.8 L223.6,69.6 L224.5,68.3 L225.4,67.1"/>
<path d="M161.4,188.8 L161.4,187.1 L161.4,185.5 L161.4,183.9 L161.4,182.3 L161.4,180.7 L161.1,179.1 L161.2,177.5 L161.2,175.9 L161.3,174.3 L161.4,172.6 L161.6,171.0 L161.7,169.4 L161.9,167.8 L162.1,166.2 L162.4,164.7 L162.7,163.1 L163.0,161.5 L163.3,159.9 L163.7,158.3 L164.1,156.8 L164.5,155.2 L164.9,153.7 L165.4,152.1 L165.8,150.6 L166.4,149.1 L166.9,147.5 L167.4,146.0 L168.0,144.5 L168.6,143.0 L169.3,141.6 L169.9,140.1 L170.6,138.6 L171.3,137.2 L172.0,135.7 L172.7,134.3 L173.5,132.9 L174.3,131.5 L175.1,130.1 L175.9,128.7 L176.7,127.3 L177.6,126.0 L178.4,124.6 L179.3,123.3 L180.2,122.0 L181.1,120.7 L182.0,119.4 L183.0,118.1 L183.9,116.8 L184.8,115.5 L185.8,114.2 L186.8,113.0 L187.7,111.7 L188.7,110.5 L189.7,109.2 L190.7,108.0 L191.7,106.8 L192.7,105.6 L193.8,104.3 L194.8,103.1 L195.8,101.9 L196.8,100.7 L197.9,99.5 L198.9,98.3 L200.0,97.1 L201.0,95.9 L202.0,94.7 L203.1,93.6 L204.1,92.4 L205.2,91.2 L206.2,90.0 L207.3,88.8 L208.3,87.6 L209.4,86.4 L210.4,85.2 L211.4,84.1 L212.5,82.9 L213.5,81.7 L214.5,80.5 L215.5,79.3 L216.5,78.1 L217.5,76.9 L218.5,75.6 L219.5,74.4 L220.5,73.2 L221.4,72.0 L222.4,70.8 L223.4,69.5 L224.3,68.3 L225.2,67.0"/>
<path d="M161.4,188.8 L161.4,187.1 L161.4,185.5 L161.4,183.9 L161.4,182.3 L161.4,180.7 L161.1,179.1 L161.1,177.5 L161.2,175.9 L161.3,174.3 L161.4,172.6 L161.5,171.0 L161.7,169.4 L161.9,167.8 L162.1,166.3 L162.4,164.7 L162.7,163.1 L163.0,161.5 L163.3,159.9 L163.6,158.4 L164.0,156.8 L164.4,155.2 L164.9,153.7 L165.3,152.1 L165.8,150.6 L166.3,149.1 L166.8,147.6 L167.4,146.0 L168.0,144.5 L168.6,143.0 L169.2,141.6 L169.8,140.1 L170.5,138.6 L171.2,137.2 L171.9,135.7 L172.7,134.3 L173.4,132.9 L174.2,131.5 L175.0,130.1 L175.8,128.7 L176.6,127.3 L177.5,126.0 L178.3,124.6 L179.2,123.3 L180.1,122.0 L181.0,120.6 L181.9,119.3 L182.8,118.0 L183.7,116.7 L184.7,115.5 L185.6,114.2 L186.6,112.9 L187.6,111.7 L188.5,110.4 L189.5,109.2 L190.5,107.9 L191.5,106.7 L192.5,105.5 L193.6,104.3 L194.6,103.1 L195.6,101.8 L196.6,100.6 L197.7,99.4 L198.7,98.2 L199.7,97.0 L200.8,95.8 L201.8,94.6 L202.8,93.5 L203.9,92.3 L204.9,91.1 L206.0,89.9 L207.0,88.7 L208.1,87.5 L209.1,86.3 L210.1,85.1 L211.2,84.0 L212.2,82.8 L213.2,81.6 L214.3,80.4 L215.3,79.2 L216.3,78.0 L217.3,76.8 L218.3,75.6 L219.3,74.4 L220.3,73.1 L221.2,71.9 L222.2,70.7 L223.1,69.5 L224.1,68.2 L225.0,67.0"/>
<path d="M161.4,188.8 L161.4,187.1 L161.4,185.5 L161.4,183.9 L161.4,182.3 L161.4,180.7 L161.1,179.1 L161.1,177.5 L161.2,175.9 L161.3,174.3 L161.4,172.6 L161.5,171.0 L161.7,169.4 L161.9,167.9 L162.1,166.3 L162.4,164.7 L162.6,163.1 L162.9,161.5 L163.3,159.9 L163.6,158.4 L164.0,156.8 L164.4,155.2 L164.8,153.7 L165.3,152.1 L165.8,150.6 L166.3,149.1 L166.8,147.6 L167.4,146.0 L167.9,144.5 L168.5,143.0 L169.1,141.6 L169.8,140.1 L170.5,138.6 L171.1,137.2 L171.9,135.7 L172.6,134.3 L173.3,132.9 L174.1,131.5 L174.9,130.1 L175.7,128.7 L176.5,127.3 L177.3,126.0 L178.2,124.6 L179.1,123.3 L179.9,121.9 L180.8,120.6 L181.7,119.3 L182.7,118.0 L183.6,116.7 L184.5,115.4 L185.5,114.2 L186.4,112.9 L187.4,111.6 L188.4,110.4 L189.3,109.1 L190.3,107.9 L191.3,106.6 L192.3,105.4 L193.3,104.2 L194.4,103.0 L195.4,101.8 L196.4,100.6 L197.4,99.3 L198.5,98.1 L199.5,96.9 L200.5,95.8 L201.6,94.6 L202.6,93.4 L203.6,92.2 L204.7,91.0 L205.7,89.8 L206.8,88.6 L207.8,87.4 L208.8,86.2 L209.9,85.0 L210.9,83.9 L212.0,82.7 L213.0,81.5 L214.0,80.3 L215.0,79.1 L216.0,77.9 L217.1,76.7 L218.1,75.5 L219.0,74.3 L220.0,73.1 L221.0,71.8 L222.0,70.6 L222.9,69.4 L223.9,68.2 L224.8,66.9"/>
<path d="M161.4,188.8 L161.4,187.1 L161.4,185.5 L161.4,183.9 L161.4,182.3 L161.4,180.7 L161.1,179.1 L161.1,177.5 L161.2,175.9 L161.3,174.3 L161.4,172.7 L161.5,171.0 L161.7,169.4 L161.9,167.9 L162.1,166.3 L162.3,164.7 L162.6,163.1 L162.9,161.5 L163.3,159.9 L163.6,158.4 L164.0,156.8 L164.4,155.2 L164.8,153.7 L165.3,152.1 L165.7,150.6 L166.2,149.1 L166.8,147.6 L167.3,146.1 L167.9,144.5 L168.5,143.1 L169.1,141.6 L169.7,140.1 L170.4,138.6 L171.1,137.2 L171.8,135.7 L172.5,134.3 L173.2,132.9 L174.0,131.5 L174.8,130.1 L175.6,128.7 L176.4,127.3 L177.2,125.9 L178.1,124.6 L178.9,123.2 L179.8,121.9 L180.7,120.6 L181.6,119.3 L182.5,118.0 L183.4,116.7 L184.4,115.4 L185.3,114.1 L186.2,112.8 L187.2,111.6 L188.2,110.3 L189.2,109.1 L190.1,107.8 L191.1,106.6 L192.1,105.4 L193.1,104.1 L194.1,102.9 L195.2,101.7 L196.2,100.5 L197.2,99.3 L198.2,98.1 L199.3,96.9 L200.3,95.7 L201.3,94.5 L202.4,93.3 L203.4,92.1 L204.4,90.9 L205.5,89.7 L206.5,88.5 L207.6,87.3 L208.6,86.1 L209.6,84.9 L210.7,83.8 L211.7,82.6 L212.7,81.4 L213.8,80.2 L214.8,79.0 L215.8,77.8 L216.8,76.6 L217.8,75.4 L218.8,74.2 L219.8,73.0 L220.8,71.8 L221.8,70.6 L222.7,69.3 L223.7,68.1 L224.6,66.9"/>
<path d="M161.3,188.8 L161.3,187.1 L161.3,185.5 L161.3,183.9 L161.3,182.3 L161.3,180.7 L161.1,179.1 L161.1,177.5 L161.2,175.9 L161.3,174.3 L161.4,172.7 L161.5,171.1 L161.7,169.5 L161.9,167.9 L162.1,166.3 L162.3,164.7 L162.6,163.1 L162.9,161.5 L163.2,159.9 L163.6,158.4 L164.0,156.8 L164.4,155.3 L164.8,153.7 L165.2,152.2 L165.7,150.6 L166.2,149.1 L166.7,147.6 L167.3,146.1 L167.8,144.6 L168.4,143.1 L169.0,141.6 L169.7,140.1 L170.3,138.6 L171.0,137.2 L171.7,135.7 L172.4,134.3 L173.2,132.9 L173.9,131.5 L174.7,130.1 L175.5,128.7 L176.3,127.3 L177.1,125.9 L178.0,124.6 L178.8,123.2 L179.7,121.9 L180.6,120.6 L181.4,119.2 L182.4,117.9 L183.3,116.6 L184.2,115.3 L185.1,114.1 L186.1,112.8 L187.0,111.5 L188.0,110.3 L189.0,109.0 L189.9,107.8 L190.9,106.5 L191.9,105.3 L192.9,104.1 L193.9,102.8 L194.9,101.6 L195.9,100.4 L197.0,99.2 L198.0,98.0 L199.0,96.8 L200.0,95.6 L201.1,94.4 L202.1,93.2 L203.2,92.0 L204.2,90.8 L205.2,89.6 L206.3,88.4 L207.3,87.2 L208.3,86.0 L209.4,84.8 L210.4,83.7 L211.5,82.5 L212.5,81.3 L213.5,80.1 L214.5,78.9 L215.6,77.7 L216.6,76.5 L217.6,75.3 L218.6,74.1 L219.6,72.9 L220.6,71.7 L221.6,70.5 L222.5,69.3 L223.5,68.1 L224.4,66.8"/>
<path d="M161.3,188.8 L161.3,187.1 L161.3,185.5 L161.3,183.9 L161.3,182.3 L161.3,180.7 L161.1,179.1 L161.1,177.5 L161.2,175.9 L161.3,174.3 L161.4,172.7 L161.5,171.1 L161.7,169.5 L161.9,167.9 L162.1,166.3 L162.3,164.7 L162.6,163.1 L162.9,161.5 L163.2,159.9 L163.6,158.4 L163.9,156.8 L164.3,155.3 L164.8,153.7 L165.2,152.2 L165.7,150.6 L166.2,149.1 L166.7,147.6 L167.2,146.1 L167.8,144.6 L168.4,143.1 L169.0,141.6 L169.6,140.1 L170.3,138.6 L170.9,137.2 L171.6,135.7 L172.3,134.3 L173.1,132.9 L173.8,131.5 L174.6,130.1 L175.4,128.7 L176.2,127.3 L177.0,125.9 L177.8,124.6 L178.7,123.2 L179.5,121.9 L180.4,120.5 L181.3,119.2 L182.2,117.9 L183.1,116.6 L184.0,115.3 L185.0,114.0 L185.9,112.7 L186.8,111.5 L187.8,110.2 L188.8,108.9 L189.7,107.7 L190.7,106.5 L191.7,105.2 L192.7,104.0 L193.7,102.8 L194.7,101.5 L195.7,100.3 L196.7,99.1 L197.8,97.9 L198.8,96.7 L199.8,95.5 L200.8,94.3 L201.9,93.1 L202.9,91.9 L203.9,90.7 L205.0,89.5 L206.0,88.3 L207.1,87.1 L208.1,85.9 L209.1,84.7 L210.2,83.6 L211.2,82.4 L212.2,81.2 L213.3,80.0 L214.3,78.8 L215.3,77.6 L216.3,76.4 L217.4,75.2 L218.4,74.0 L219.4,72.8 L220.4,71.6 L221.3,70.4 L222.3,69.2 L223.3,68.0 L224.3,66.8"/>
<path d="M161.3,188.8 L161.3,187.1 L161.3,185.5 L161.3,183.9 L161.3,182.3 L161.3,180.7 L161.1,179.1 L161.1,177.5 L161.2,175.9 L161.2,174.3 L161.4,172.7 L161.5,171.1 L161.7,169.5 L161.8,167.9 L162.1,166.3 L162.3,164.7 L162.6,163.1 L162.9,161.5 L163.2,160.0 L163.5,158.4 L163.9,156.8 L164.3,155.3 L164.7,153.7 L165.2,152.2 L165.6,150.6 L166.1,149.1 L166.6,147.6 L167.2,146.1 L167.7,144.6 L168.3,143.1 L168.9,141.6 L169.6,140.1 L170.2,138.6 L170.9,137.2 L171.6,135.7 L172.3,134.3 L173.0,132.9 L173.7,131.5 L174.5,130.0 L175.3,128.7 L176.1,127.3 L176.9,125.9 L177.7,124.5 L178.6,123.2 L179.4,121.8 L180.3,120.5 L181.2,119.2 L182.1,117.9 L183.0,116.6 L183.9,115.3 L184.8,114.0 L185.7,112.7 L186.7,111.4 L187.6,110.2 L188.6,108.9 L189.5,107.6 L190.5,106.4 L191.5,105.1 L192.5,103.9 L193.5,102.7 L194.5,101.5 L195.5,100.2 L196.5,99.0 L197.5,97.8 L198.5,96.6 L199.6,95.4 L200.6,94.2 L201.6,93.0 L202.7,91.8 L203.7,90.6 L204.7,89.4 L205.8,88.2 L206.8,87.0 L207.8,85.8 L208.9,84.6 L209.9,83.5 L211.0,82.3 L212.0,81.1 L213.0,79.9 L214.1,78.7 L215.1,77.5 L216.1,76.3 L217.1,75.1 L218.1,74.0 L219.1,72.8 L220.1,71.6 L221.1,70.4 L222.1,69.2 L223.1,68.0 L224.1,66.8"/>
<path d="M161.3,188.8 L161.3,187.1 L161.3,185.5 L161.3,183.9 L161.3,182.3 L161.3,180.7 L161.1,179.1 L161.1,177.5 L161.2,175.9 L161.2,174.3 L161.3,172.7 L161.5,171.1 L161.6,169.5 L161.8,167.9 L162.0,166.3 L162.3,164.7 L162.6,163.1 L162.8,161.5 L163.2,160.0 L163.5,158.4 L163.9,156.8 L164.3,155.3 L164.7,153.7 L165.1,152.2 L165.6,150.6 L166.1,149.1 L166.6,147.6 L167.1,146.1 L167.7,144.6 L168.3,143.1 L168.9,141.6 L169.5,140.1 L170.1,138.6 L170.8,137.2 L171.5,135.7 L172.2,134.3 L172.9,132.9 L173.6,131.4 L174.4,130.0 L175.2,128.6 L176.0,127.3 L176.8,125.9 L177.6,124.5 L178.4,123.2 L179.3,121.8 L180.1,120.5 L181.0,119.2 L181.9,117.8 L182.8,116.5 L183.7,115.2 L184.6,113.9 L185.6,112.6 L186.5,111.4 L187.4,110.1 L188.4,108.8 L189.4,107.6 L190.3,106.3 L191.3,105.1 L192.3,103.8 L193.3,102.6 L194.3,101.4 L195.3,100.2 L196.3,98.9 L197.3,97.7 L198.3,96.5 L199.3,95.3 L200.4,94.1 L201.4,92.9 L202.4,91.7 L203.4,90.5 L204.5,89.3 L205.5,88.1 L206.6,86.9 L207.6,85.7 L208.6,84.5 L209.7,83.4 L210.7,82.2 L211.7,81.0 L212.8,79.8 L213.8,78.6 L214.8,77.4 L215.9,76.2 L216.9,75.1 L217.9,73.9 L218.9,72.7 L219.9,71.5 L220.9,70.3 L221.9,69.1 L222.9,67.9 L223.9,66.7"/>
<path d="M161.3,188.8 L161.3,187.1 L161.3,185.5 L161.3,183.9 L161.3,182.3 L161.3,180.7 L161.1,179.1 L161.1,177.5 L161.1,175.9 L161.2,174.3 L161.3,172.7 L161.5,171.1 L161.6,169.5 L161.8,167.9 L162.0,166.3 L162.3,164.7 L162.5,163.1 L162.8,161.5 L163.1,160.0 L163.5,158.4 L163.9,156.8 L164.2,155.3 L164.7,153.7 L165.1,152.2 L165.6,150.7 L166.1,149.1 L166.6,147.6 L167.1,146.1 L167.6,144.6 L168.2,143.1 L168.8,141.6 L169.4,140.1 L170.1,138.6 L170.7,137.2 L171.4,135.7 L172.1,134.3 L172.8,132.9 L173.6,131.4 L174.3,130.0 L175.1,128.6 L175.9,127.2 L176.7,125.9 L177.5,124.5 L178.3,123.1 L179.1,121.8 L180.0,120.5 L180.9,119.1 L181.8,117.8 L182.6,116.5 L183.5,115.2 L184.5,113.9 L185.4,112.6 L186.3,111.3 L187.3,110.0 L188.2,108.8 L189.2,107.5 L190.1,106.3 L191.1,105.0 L192.1,103.8 L193.1,102.5 L194.1,101.3 L195.1,100.1 L196.1,98.9 L197.1,97.6 L198.1,96.4 L199.1,95.2 L200.1,94.0 L201.1,92.8 L202.2,91.6 L203.2,90.4 L204.2,89.2 L205.3,88.0 L206.3,86.8 L207.3,85.6 L208.4,84.4 L209.4,83.3 L210.5,82.1 L211.5,80.9 L212.5,79.7 L213.6,78.5 L214.6,77.3 L215.6,76.2 L216.7,75.0 L217.7,73.8 L218.7,72.6 L219.7,71.4 L220.7,70.2 L221.7,69.0 L222.7,67.9 L223.7,66.7"/>
<path d="M161.3,188.8 L161.3,187.1 L161.3,185.5 L161.3,183.9 L161.3,182.3 L161.3,180.7 L161.1,179.1 L161.1,177.5 L161.1,175.9 L161.2,174.3 L161.3,172.7 L161.5,171.1 L161.6,169.5 L161.8,167.9 L162.0,166.3 L162.3,164.7 L162.5,163.1 L162.8,161.5 L163.1,160.0 L163.5,158.4 L163.8,156.8 L164.2,155.3 L164.6,153.7 L165.1,152.2 L165.5,150.7 L166.0,149.1 L166.5,147.6 L167.0,146.1 L167.6,144.6 L168.2,143.1 L168.8,141.6 L169.4,140.1 L170.0,138.6 L170.7,137.2 L171.3,135.7 L172.0,134.3 L172.7,132.9 L173.5,131.4 L174.2,130.0 L175.0,128.6 L175.8,127.2 L176.6,125.9 L177.4,124.5 L178.2,123.1 L179.0,121.8 L179.9,120.4 L180.7,119.1 L181.6,117.8 L182.5,116.5 L183.4,115.1 L184.3,113.8 L185.2,112.6 L186.1,111.3 L187.1,110.0 L188.0,108.7 L189.0,107.5 L189.9,106.2 L190.9,104.9 L191.9,103.7 L192.8,102.5 L193.8,101.2 L194.8,100.0 L195.8,98.8 L196.8,97.5 L197.8,96.3 L198.9,95.1 L199.9,93.9 L200.9,92.7 L201.9,91.5 L203.0,90.3 L204.0,89.1 L205.0,87.9 L206.1,86.7 L207.1,85.5 L208.1,84.3 L209.2,83.2 L210.2,82.0 L211.2,80.8 L212.3,79.6 L213.3,78.4 L214.4,77.3 L215.4,76.1 L216.4,74.9 L217.4,73.7 L218.5,72.5 L219.5,71.4 L220.5,70.2 L221.5,69.0 L222.5,67.8 L223.5,66.6"/>
<path d="M161.3,188.8 L161.3,187.1 L161.3,185.5 L161.3,183.9 L161.3,182.3 L161.3,180.7 L161.1,179.1 L161.1,177.5 L161.1,175.9 L161.2,174.3 L161.3,172.7 L161.4,171.1 L161.6,169.5 L161.8,167.9 L162.0,166.3 L162.2,164.7 L162.5,163.1 L162.8,161.5 L163.1,160.0 L163.4,158.4 L163.8,156.9 L164.2,155.3 L164.6,153.7 L165.0,152.2 L165.5,150.7 L166.0,149.1 L166.5,147.6 L167.0,146.1 L167.6,144.6 L168.1,143.1 L168.7,141.6 L169.3,140.1 L169.9,138.7 L170.6,137.2 L171.3,135.7 L172.0,134.3 L172.7,132.9 L173.4,131.4 L174.1,130.0 L174.9,128.6 L175.7,127.2 L176.4,125.8 L177.2,124.5 L178.1,123.1 L178.9,121.7 L179.7,120.4 L180.6,119.1 L181.5,117.7 L182.3,116.4 L183.2,115.1 L184.1,113.8 L185.0,112.5 L186.0,111.2 L186.9,109.9 L187.8,108.7 L188.8,107.4 L189.7,106.1 L190.7,104.9 L191.7,103.6 L192.6,102.4 L193.6,101.1 L194.6,99.9 L195.6,98.7 L196.6,97.5 L197.6,96.2 L198.6,95.0 L199.6,93.8 L200.7,92.6 L201.7,91.4 L202.7,90.2 L203.7,89.0 L204.8,87.8 L205.8,86.6 L206.8,85.4 L207.9,84.2 L208.9,83.1 L210.0,81.9 L211.0,80.7 L212.0,79.5 L213.1,78.3 L214.1,77.2 L215.2,76.0 L216.2,74.8 L217.2,73.6 L218.2,72.5 L219.3,71.3 L220.3,70.1 L221.3,68.9 L222.3,67.8 L223.3,66.6"/>
<path d="M161.3,188.8 L161.3,187.0 L161.3,185.4 L161.3,183.9 L161.3,182.3 L161.3,180.7 L161.0,179.1 L161.1,177.5 L161.1,175.9 L161.2,174.3 L161.3,172.7 L161.4,171.1 L161.6,169.5 L161.8,167.9 L162.0,166.3 L162.2,164.7 L162.5,163.1 L162.8,161.6 L163.1,160.0 L163.4,158.4 L163.8,156.9 L164.2,155.3 L164.6,153.8 L165.0,152.2 L165.5,150.7 L165.9,149.1 L166.4,147.6 L167.0,146.1 L167.5,144.6 L168.1,143.1 L168.7,141.6 L169.3,140.1 L169.9,138.7 L170.5,137.2 L171.2,135.7 L171.9,134.3 L172.6,132.9 L173.3,131.4 L174.0,130.0 L174.8,128.6 L175.5,127.2 L176.3,125.8 L177.1,124.4 L177.9,123.1 L178.8,121.7 L179.6,120.4 L180.4,119.0 L181.3,117.7 L182.2,116.4 L183.1,115.1 L184.0,113.8 L184.9,112.5 L185.8,111.2 L186.7,109.9 L187.6,108.6 L188.6,107.3 L189.5,106.1 L190.5,104.8 L191.4,103.6 L192.4,102.3 L193.4,101.1 L194.4,99.8 L195.4,98.6 L196.4,97.4 L197.4,96.2 L198.4,94.9 L199.4,93.7 L200.4,92.5 L201.4,91.3 L202.5,90.1 L203.5,88.9 L204.5,87.7 L205.6,86.5 L206.6,85.3 L207.6,84.1 L208.7,83.0 L209.7,81.8 L210.8,80.6 L211.8,79.4 L212.8,78.2 L213.9,77.1 L214.9,75.9 L216.0,74.7 L217.0,73.6 L218.0,72.4 L219.0,71.2 L220.1,70.0 L221.1,68.9 L222.1,67.7 L223.1,66.5"/>
<path d="M161.3,188.8 L161.3,187.0 L161.3,185.4 L161.3,183.8 L161.3,182.2 L161.3,180.6 L161.0,179.1 L161.1,177.5 L161.1,175.9 L161.2,174.3 L161.3,172.7 L161.4,171.1 L161.6,169.5 L161.8,167.9 L162.0,166.3 L162.2,164.7 L162.5,163.1 L162.8,161.6 L163.1,160.0 L163.4,158.4 L163.8,156.9 L164.1,155.3 L164.5,153.8 L165.0,152.2 L165.4,150.7 L165.9,149.2 L166.4,147.6 L166.9,146.1 L167.5,144.6 L168.0,143.1 L168.6,141.6 L169.2,140.1 L169.8,138.7 L170.5,137.2 L171.1,135.7 L171.8,134.3 L172.5,132.8 L173.2,131.4 L173.9,130.0 L174.7,128.6 L175.4,127.2 L176.2,125.8 L177.0,124.4 L177.8,123.1 L178.6,121.7 L179.5,120.3 L180.3,119.0 L181.2,117.7 L182.0,116.3 L182.9,115.0 L183.8,113.7 L184.7,112.4 L185.6,111.1 L186.5,109.8 L187.4,108.5 L188.4,107.3 L189.3,106.0 L190.3,104.7 L191.2,103.5 L192.2,102.2 L193.2,101.0 L194.2,99.8 L195.1,98.5 L196.1,97.3 L197.1,96.1 L198.1,94.8 L199.2,93.6 L200.2,92.4 L201.2,91.2 L202.2,90.0 L203.2,88.8 L204.3,87.6 L205.3,86.4 L206.3,85.2 L207.4,84.0 L208.4,82.9 L209.5,81.7 L210.5,80.5 L211.5,79.3 L212.6,78.2 L213.6,77.0 L214.7,75.8 L215.7,74.6 L216.8,73.5 L217.8,72.3 L218.8,71.1 L219.9,70.0 L220.9,68.8 L221.9,67.6 L222.9,66.5"/>
<path d="M161.2,188.8 L161.2,187.0 L161.2,185.4 L161.2,183.8 L161.2,182.2 L161.2,180.6 L161.0,179.0 L161.1,177.5 L161.1,175.9 L161.2,174.3 L161.3,172.7 L161.4,171.1 L161.6,169.5 L161.7,167.9 L162.0,166.3 L162.2,164.7 L162.4,163.1 L162.7,161.6 L163.0,160.0 L163.4,158.4 L163.7,156.9 L164.1,155.3 L164.5,153.8 L164.9,152.2 L165.4,150.7 L165.9,149.2 L166.4,147.6 L166.9,146.1 L167.4,144.6 L168.0,143.1 L168.5,141.6 L169.1,140.1 L169.8,138.7 L170.4,137.2 L171.0,135.7 L171.7,134.3 L172.4,132.8 L173.1,131.4 L173.8,130.0 L174.6,128.6 L175.3,127.2 L176.1,125.8 L176.9,124.4 L177.7,123.0 L178.5,121.7 L179.3,120.3 L180.2,119.0 L181.0,117.6 L181.9,116.3 L182.7,115.0 L183.6,113.7 L184.5,112.4 L185.4,111.1 L186.3,109.8 L187.2,108.5 L188.2,107.2 L189.1,105.9 L190.1,104.7 L191.0,103.4 L192.0,102.2 L193.0,100.9 L193.9,99.7 L194.9,98.4 L195.9,97.2 L196.9,96.0 L197.9,94.8 L198.9,93.5 L199.9,92.3 L200.9,91.1 L202.0,89.9 L203.0,88.7 L204.0,87.5 L205.1,86.3 L206.1,85.1 L207.1,83.9 L208.2,82.8 L209.2,81.6 L210.3,80.4 L211.3,79.2 L212.4,78.1 L213.4,76.9 L214.4,75.7 L215.5,74.6 L216.5,73.4 L217.6,72.2 L218.6,71.1 L219.6,69.9 L220.7,68.8 L221.7,67.6 L222.7,66.4"/>
<path d="M161.2,188.8 L161.2,187.0 L161.2,185.4 L161.2,183.8 L161.2,182.2 L161.2,180.6 L161.0,179.0 L161.0,177.4 L161.1,175.9 L161.2,174.3 L161.3,172.7 L161.4,171.1 L161.6,169.5 L161.7,167.9 L161.9,166.3 L162.2,164.7 L162.4,163.1 L162.7,161.6 L163.0,160.0 L163.4,158.4 L163.7,156.9 L164.1,155.3 L164.5,153.8 L164.9,152.2 L165.4,150.7 L165.8,149.2 L166.3,147.6 L166.8,146.1 L167.4,144.6 L167.9,143.1 L168.5,141.6 L169.1,140.1 L169.7,138.7 L170.3,137.2 L171.0,135.7 L171.6,134.3 L172.3,132.8 L173.0,131.4 L173.7,130.0 L174.5,128.6 L175.2,127.2 L176.0,125.8 L176.8,124.4 L177.6,123.0 L178.4,121.7 L179.2,120.3 L180.0,118.9 L180.9,117.6 L181.7,116.3 L182.6,114.9 L183.4,113.6 L184.3,112.3 L185.2,111.0 L186.1,109.7 L187.1,108.4 L188.0,107.1 L188.9,105.9 L189.9,104.6 L190.8,103.3 L191.8,102.1 L192.7,100.8 L193.7,99.6 L194.7,98.4 L195.7,97.1 L196.7,95.9 L197.7,94.7 L198.7,93.4 L199.7,92.2 L200.7,91.0 L201.7,89.8 L202.7,88.6 L203.8,87.4 L204.8,86.2 L205.8,85.0 L206.9,83.8 L207.9,82.7 L209.0,81.5 L210.0,80.3 L211.1,79.1 L212.1,78.0 L213.2,76.8 L214.2,75.6 L215.3,74.5 L216.3,73.3 L217.3,72.2 L218.4,71.0 L219.4,69.8 L220.5,68.7 L221.5,67.5 L222.5,66.4"/>
<path d="M161.2,188.8 L161.2,187.0 L161.2,185.4 L161.2,183.8 L161.2,182.2 L161.2,180.6 L161.0,179.0 L161.0,177.4 L161.1,175.9 L161.2,174.3 L161.3,172.7 L161.4,171.1 L161.5,169.5 L161.7,167.9 L161.9,166.3 L162.2,164.7 L162.4,163.2 L162.7,161.6 L163.0,160.0 L163.3,158.4 L163.7,156.9 L164.1,155.3 L164.5,153.8 L164.9,152.2 L165.3,150.7 L165.8,149.2 L166.3,147.7 L166.8,146.1 L167.3,144.6 L167.9,143.1 L168.4,141.6 L169.0,140.1 L169.6,138.7 L170.3,137.2 L170.9,135.7 L171.6,134.3 L172.2,132.8 L172.9,131.4 L173.6,130.0 L174.4,128.6 L175.1,127.2 L175.9,125.8 L176.6,124.4 L177.4,123.0 L178.2,121.6 L179.0,120.3 L179.9,118.9 L180.7,117.6 L181.5,116.2 L182.4,114.9 L183.3,113.6 L184.2,112.3 L185.1,111.0 L186.0,109.7 L186.9,108.4 L187.8,107.1 L188.7,105.8 L189.6,104.5 L190.6,103.3 L191.5,102.0 L192.5,100.8 L193.5,99.5 L194.5,98.3 L195.4,97.0 L196.4,95.8 L197.4,94.6 L198.4,93.4 L199.4,92.1 L200.4,90.9 L201.5,89.7 L202.5,88.5 L203.5,87.3 L204.6,86.1 L205.6,84.9 L206.6,83.8 L207.7,82.6 L208.7,81.4 L209.8,80.2 L210.8,79.0 L211.9,77.9 L212.9,76.7 L214.0,75.5 L215.0,74.4 L216.1,73.2 L217.1,72.1 L218.2,70.9 L219.2,69.8 L220.3,68.6 L221.3,67.5 L222.4,66.3"/>
<path d="M161.2,188.8 L161.2,187.0 L161.2,185.4 L161.2,183.8 L161.2,182.2 L161.2,180.6 L161.0,179.0 L161.0,177.4 L161.1,175.9 L161.1,174.3 L161.2,172.7 L161.4,171.1 L161.5,169.5 L161.7,167.9 L161.9,166.3 L162.1,164.7 L162.4,163.2 L162.7,161.6 L163.0,160.0 L163.3,158.5 L163.7,156.9 L164.0,155.3 L164.4,153.8 L164.8,152.3 L165.3,150.7 L165.8,149.2 L166.2,147.7 L166.7,146.1 L167.3,144.6 L167.8,143.1 L168.4,141.6 L169.0,140.1 L169.6,138.7 L170.2,137.2 L170.8,135.7 L171.5,134.3 L172.2,132.8 L172.8,131.4 L173.6,130.0 L174.3,128.6 L175.0,127.1 L175.8,125.7 L176.5,124.4 L177.3,123.0 L178.1,121.6 L178.9,120.2 L179.7,118.9 L180.6,117.5 L181.4,116.2 L182.2,114.9 L183.1,113.5 L184.0,112.2 L184.9,110.9 L185.8,109.6 L186.7,108.3 L187.6,107.0 L188.5,105.7 L189.4,104.5 L190.4,103.2 L191.3,101.9 L192.3,100.7 L193.3,99.4 L194.2,98.2 L195.2,96.9 L196.2,95.7 L197.2,94.5 L198.2,93.3 L199.2,92.0 L200.2,90.8 L201.2,89.6 L202.2,88.4 L203.3,87.2 L204.3,86.0 L205.3,84.8 L206.4,83.7 L207.4,82.5 L208.5,81.3 L209.5,80.1 L210.6,78.9 L211.6,77.8 L212.7,76.6 L213.7,75.5 L214.8,74.3 L215.8,73.1 L216.9,72.0 L218.0,70.9 L219.0,69.7 L220.1,68.6 L221.1,67.4 L222.2,66.3"/>
<path d="M161.2,188.8 L161.2,187.0 L161.2,185.4 L161.2,183.8 L161.2,182.2 L161.2,180.6 L161.0,179.0 L161.0,177.4 L161.1,175.8 L161.1,174.3 L161.2,172.7 L161.4,171.1 L161.5,169.5 L161.7,167.9 L161.9,166.3 L162.1,164.7 L162.4,163.2 L162.7,161.6 L163.0,160.0 L163.3,158.5 L163.6,156.9 L164.0,155.3 L164.4,153.8 L164.8,152.3 L165.3,150.7 L165.7,149.2 L166.2,147.7 L166.7,146.2 L167.2,144.6 L167.8,143.1 L168.3,141.6 L168.9,140.2 L169.5,138.7 L170.1,137.2 L170.8,135.7 L171.4,134.3 L172.1,132.8 L172.8,131.4 L173.5,130.0 L174.2,128.5 L174.9,127.1 L175.6,125.7 L176.4,124.3 L177.2,123.0 L178.0,121.6 L178.8,120.2 L179.6,118.9 L180.4,117.5 L181.2,116.2 L182.1,114.8 L182.9,113.5 L183.8,112.2 L184.7,110.9 L185.6,109.6 L186.5,108.3 L187.4,107.0 L188.3,105.7 L189.2,104.4 L190.2,103.1 L191.1,101.9 L192.1,100.6 L193.0,99.4 L194.0,98.1 L195.0,96.9 L196.0,95.6 L196.9,94.4 L197.9,93.2 L198.9,92.0 L200.0,90.7 L201.0,89.5 L202.0,88.3 L203.0,87.1 L204.1,85.9 L205.1,84.7 L206.1,83.6 L207.2,82.4 L208.2,81.2 L209.3,80.0 L210.3,78.9 L211.4,77.7 L212.4,76.5 L213.5,75.4 L214.6,74.2 L215.6,73.1 L216.7,71.9 L217.7,70.8 L218.8,69.6 L219.9,68.5 L220.9,67.4 L222.0,66.2"/>
<path d="M161.2,188.8 L161.2,187.0 L161.2,185.4 L161.2,183.8 L161.2,182.2 L161.2,180.6 L161.0,179.0 L161.0,177.4 L161.1,175.8 L161.1,174.3 L161.2,172.7 L161.4,171.1 L161.5,169.5 L161.7,167.9 L161.9,166.3 L162.1,164.7 L162.4,163.2 L162.6,161.6 L162.9,160.0 L163.3,158.5 L163.6,156.9 L164.0,155.4 L164.4,153.8 L164.8,152.3 L165.2,150.7 L165.7,149.2 L166.2,147.7 L166.7,146.2 L167.2,144.6 L167.7,143.1 L168.3,141.6 L168.8,140.2 L169.4,138.7 L170.0,137.2 L170.7,135.7 L171.3,134.3 L172.0,132.8 L172.7,131.4 L173.4,130.0 L174.1,128.5 L174.8,127.1 L175.5,125.7 L176.3,124.3 L177.1,122.9 L177.8,121.6 L178.6,120.2 L179.4,118.8 L180.3,117.5 L181.1,116.1 L181.9,114.8 L182.8,113.5 L183.6,112.1 L184.5,110.8 L185.4,109.5 L186.3,108.2 L187.2,106.9 L188.1,105.6 L189.0,104.3 L190.0,103.1 L190.9,101.8 L191.8,100.5 L192.8,99.3 L193.8,98.0 L194.7,96.8 L195.7,95.5 L196.7,94.3 L197.7,93.1 L198.7,91.9 L199.7,90.6 L200.7,89.4 L201.7,88.2 L202.8,87.0 L203.8,85.8 L204.8,84.6 L205.9,83.5 L206.9,82.3 L208.0,81.1 L209.0,79.9 L210.1,78.8 L211.1,77.6 L212.2,76.4 L213.3,75.3 L214.3,74.1 L215.4,73.0 L216.5,71.8 L217.5,70.7 L218.6,69.6 L219.6,68.5 L220.7,67.3 L221.8,66.2"/>
<path d="M161.2,188.8 L161.2,187.0 L161.2,185.4 L161.2,183.8 L161.2,182.2 L161.2,180.6 L161.0,179.0 L161.0,177.4 L161.1,175.8 L161.1,174.3 L161.2,172.7 L161.3,171.1 L161.5,169.5 L161.7,167.9 L161.9,166.3 L162.1,164.7 L162.3,163.2 L162.6,161.6 L162.9,160.0 L163.2,158.5 L163.6,156.9 L164.0,155.4 L164.3,153.8 L164.8,152.3 L165.2,150.7 L165.6,149.2 L166.1,147.7 L166.6,146.2 L167.1,144.7 L167.7,143.1 L168.2,141.7 L168.8,140.2 L169.4,138.7 L170.0,137.2 L170.6,135.7 L171.2,134.3 L171.9,132.8 L172.6,131.4 L173.3,130.0 L174.0,128.5 L174.7,127.1 L175.4,125.7 L176.2,124.3 L176.9,122.9 L177.7,121.5 L178.5,120.2 L179.3,118.8 L180.1,117.4 L180.9,116.1 L181.8,114.7 L182.6,113.4 L183.5,112.1 L184.3,110.8 L185.2,109.4 L186.1,108.1 L187.0,106.8 L187.9,105.6 L188.8,104.3 L189.7,103.0 L190.7,101.7 L191.6,100.5 L192.6,99.2 L193.5,97.9 L194.5,96.7 L195.5,95.5 L196.5,94.2 L197.5,93.0 L198.5,91.8 L199.5,90.5 L200.5,89.3 L201.5,88.1 L202.5,86.9 L203.5,85.7 L204.6,84.5 L205.6,83.4 L206.7,82.2 L207.7,81.0 L208.8,79.8 L209.8,78.7 L210.9,77.5 L212.0,76.3 L213.0,75.2 L214.1,74.0 L215.2,72.9 L216.2,71.8 L217.3,70.6 L218.4,69.5 L219.4,68.4 L220.5,67.3 L221.6,66.2"/>
<path d="M161.2,188.8 L161.2,187.0 L161.2,185.4 L161.2,183.8 L161.2,182.2 L161.2,180.6 L161.0,179.0 L161.0,177.4 L161.0,175.8 L161.1,174.3 L161.2,172.7 L161.3,171.1 L161.5,169.5 L161.7,167.9 L161.9,166.3 L162.1,164.8 L162.3,163.2 L162.6,161.6 L162.9,160.0 L163.2,158.5 L163.6,156.9 L163.9,155.4 L164.3,153.8 L164.7,152.3 L165.2,150.7 L165.6,149.2 L166.1,147.7 L166.6,146.2 L167.1,144.7 L167.6,143.2 L168.2,141.7 L168.7,140.2 L169.3,138.7 L169.9,137.2 L170.5,135.7 L171.2,134.3 L171.8,132.8 L172.5,131.4 L173.2,129.9 L173.9,128.5 L174.6,127.1 L175.3,125.7 L176.1,124.3 L176.8,122.9 L177.6,121.5 L178.4,120.1 L179.1,118.8 L180.0,117.4 L180.8,116.0 L181.6,114.7 L182.4,113.4 L183.3,112.0 L184.2,110.7 L185.0,109.4 L185.9,108.1 L186.8,106.8 L187.7,105.5 L188.6,104.2 L189.5,102.9 L190.5,101.6 L191.4,100.4 L192.4,99.1 L193.3,97.9 L194.3,96.6 L195.3,95.4 L196.2,94.1 L197.2,92.9 L198.2,91.7 L199.2,90.4 L200.2,89.2 L201.2,88.0 L202.3,86.8 L203.3,85.6 L204.3,84.4 L205.4,83.3 L206.4,82.1 L207.5,80.9 L208.5,79.7 L209.6,78.6 L210.6,77.4 L211.7,76.3 L212.8,75.1 L213.9,74.0 L214.9,72.8 L216.0,71.7 L217.1,70.6 L218.2,69.4 L219.2,68.3 L220.3,67.2 L221.4,66.1"/>
<path d="M161.2,188.8 L161.2,187.0 L161.2,185.4 L161.2,183.8 L161.2,182.2 L161.2,180.6 L161.0,179.0 L161.0,177.4 L161.0,175.8 L161.1,174.3 L161.2,172.7 L161.3,171.1 L161.5,169.5 L161.6,167.9 L161.8,166.3 L162.1,164.8 L162.3,163.2 L162.6,161.6 L162.9,160.0 L163.2,158.5 L163.5,156.9 L163.9,155.4 L164.3,153.8 L164.7,152.3 L165.1,150.8 L165.6,149.2 L166.0,147.7 L166.5,146.2 L167.0,144.7 L167.6,143.2 L168.1,141.7 L168.7,140.2 L169.2,138.7 L169.8,137.2 L170.5,135.7 L171.1,134.3 L171.7,132.8 L172.4,131.4 L173.1,129.9 L173.8,128.5 L174.5,127.1 L175.2,125.7 L175.9,124.3 L176.7,122.9 L177.4,121.5 L178.2,120.1 L179.0,118.7 L179.8,117.4 L180.6,116.0 L181.4,114.7 L182.3,113.3 L183.1,112.0 L184.0,110.7 L184.8,109.3 L185.7,108.0 L186.6,106.7 L187.5,105.4 L188.4,104.1 L189.3,102.8 L190.3,101.6 L191.2,100.3 L192.1,99.0 L193.1,97.8 L194.0,96.5 L195.0,95.3 L196.0,94.0 L197.0,92.8 L198.0,91.6 L199.0,90.4 L200.0,89.1 L201.0,87.9 L202.0,86.7 L203.0,85.5 L204.1,84.3 L205.1,83.2 L206.2,82.0 L207.2,80.8 L208.3,79.6 L209.3,78.5 L210.4,77.3 L211.5,76.2 L212.5,75.0 L213.6,73.9 L214.7,72.7 L215.8,71.6 L216.9,70.5 L217.9,69.4 L219.0,68.3 L220.1,67.2 L221.2,66.1"/>
<path d="M161.1,188.8 L161.1,187.0 L161.1,185.4 L161.1,183.8 L161.1,182.2 L161.1,180.6 L161.0,179.0 L161.0,177.4 L161.0,175.8 L161.1,174.3 L161.2,172.7 L161.3,171.1 L161.5,169.5 L161.6,167.9 L161.8,166.3 L162.0,164.8 L162.3,163.2 L162.6,161.6 L162.9,160.1 L163.2,158.5 L163.5,156.9 L163.9,155.4 L164.3,153.8 L164.7,152.3 L165.1,150.8 L165.5,149.2 L166.0,147.7 L166.5,146.2 L167.0,144.7 L167.5,143.2 L168.0,141.7 L168.6,140.2 L169.2,138.7 L169.8,137.2 L170.4,135.7 L171.0,134.3 L171.7,132.8 L172.3,131.4 L173.0,129.9 L173.7,128.5 L174.4,127.1 L175.1,125.7 L175.8,124.3 L176.6,122.9 L177.3,121.5 L178.1,120.1 L178.9,118.7 L179.7,117.3 L180.5,116.0 L181.3,114.6 L182.1,113.3 L182.9,111.9 L183.8,110.6 L184.7,109.3 L185.5,108.0 L186.4,106.7 L187.3,105.4 L188.2,104.1 L189.1,102.8 L190.0,101.5 L191.0,100.2 L191.9,99.0 L192.9,97.7 L193.8,96.4 L194.8,95.2 L195.8,93.9 L196.7,92.7 L197.7,91.5 L198.7,90.3 L199.7,89.0 L200.7,87.8 L201.8,86.6 L202.8,85.4 L203.8,84.2 L204.9,83.1 L205.9,81.9 L207.0,80.7 L208.0,79.5 L209.1,78.4 L210.2,77.2 L211.2,76.1 L212.3,74.9 L213.4,73.8 L214.5,72.7 L215.6,71.5 L216.6,70.4 L217.7,69.3 L218.8,68.2 L219.9,67.1 L221.0,66.0"/>
<path d="M161.1,188.8 L161.1,187.0 L161.1,185.4 L161.1,183.8 L161.1,182.2 L161.1,180.6 L161.0,179.0 L161.0,177.4 L161.0,175.8 L161.1,174.3 L161.2,172.7 L161.3,171.1 L161.4,169.5 L161.6,167.9 L161.8,166.3 L162.0,164.8 L162.3,163.2 L162.5,161.6 L162.8,160.1 L163.1,158.5 L163.5,156.9 L163.8,155.4 L164.2,153.8 L164.6,152.3 L165.0,150.8 L165.5,149.2 L166.0,147.7 L166.4,146.2 L166.9,144.7 L167.5,143.2 L168.0,141.7 L168.5,140.2 L169.1,138.7 L169.7,137.2 L170.3,135.7 L170.9,134.3 L171.6,132.8 L172.2,131.4 L172.9,129.9 L173.6,128.5 L174.3,127.1 L175.0,125.6 L175.7,124.2 L176.4,122.8 L177.2,121.4 L177.9,120.1 L178.7,118.7 L179.5,117.3 L180.3,115.9 L181.1,114.6 L181.9,113.2 L182.8,111.9 L183.6,110.6 L184.5,109.2 L185.3,107.9 L186.2,106.6 L187.1,105.3 L188.0,104.0 L188.9,102.7 L189.8,101.4 L190.7,100.1 L191.7,98.9 L192.6,97.6 L193.6,96.3 L194.5,95.1 L195.5,93.9 L196.5,92.6 L197.5,91.4 L198.5,90.2 L199.5,88.9 L200.5,87.7 L201.5,86.5 L202.5,85.3 L203.6,84.1 L204.6,83.0 L205.7,81.8 L206.7,80.6 L207.8,79.4 L208.8,78.3 L209.9,77.1 L211.0,76.0 L212.1,74.8 L213.2,73.7 L214.2,72.6 L215.3,71.5 L216.4,70.4 L217.5,69.3 L218.6,68.2 L219.7,67.1 L220.8,66.0"/>
<path d="M161.5,188.8 L161.5,187.2 L161.5,185.6 L161.5,184.0 L161.5,182.3 L161.5,180.7 L161.2,179.1 L161.2,177.5 L161.3,175.9 L161.4,174.3 L161.5,172.6 L161.7,171.0 L161.8,169.4 L162.1,167.8 L162.3,166.2 L162.6,164.6 L162.8,163.0 L163.2,161.4 L163.5,159.8 L163.9,158.3 L164.3,156.7 L164.7,155.1 L165.2,153.6 L165.7,152.0 L166.2,150.5 L166.7,149.0 L167.3,147.5 L167.9,146.0 L168.5,144.5 L169.1,143.0 L169.8,141.5 L170.5,140.0 L171.2,138.6 L172.0,137.2 L172.7,135.7 L173.5,134.3 L174.3,132.9 L175.2,131.5 L176.0,130.2 L176.9,128.8 L177.8,127.5 L178.7,126.1 L179.6,124.8 L180.6,123.5 L181.5,122.2 L182.5,120.9 L183.5,119.7 L184.5,118.4 L185.5,117.2 L186.5,115.9 L187.5,114.7 L188.5,113.4 L189.5,112.2 L190.6,111.0 L191.6,109.8 L192.7,108.6 L193.8,107.4 L194.8,106.2 L195.9,105.0 L196.9,103.9 L198.0,102.7 L199.1,101.5 L200.2,100.3 L201.2,99.2 L202.3,98.0 L203.4,96.8 L204.5,95.7 L205.5,94.5 L206.6,93.3 L207.7,92.2 L208.7,91.0 L209.8,89.8 L210.8,88.6 L211.9,87.4 L212.9,86.2 L213.9,85.0 L214.9,83.8 L216.0,82.6 L217.0,81.4 L217.9,80.2 L218.9,79.0 L219.9,77.7 L220.9,76.5 L221.8,75.2 L222.7,74.0 L223.6,72.7 L224.5,71.4 L225.4,70.1 L226.3,68.8 L227.1,67.5"/>
<path d="M161.5,188.8 L161.5,187.2 L161.5,185.6 L161.5,184.0 L161.5,182.3 L161.5,180.7 L161.2,179.1 L161.2,177.5 L161.3,175.9 L161.4,174.3 L161.5,172.6 L161.7,171.0 L161.8,169.4 L162.0,167.8 L162.3,166.2 L162.5,164.6 L162.8,163.0 L163.2,161.4 L163.5,159.9 L163.9,158.3 L164.3,156.7 L164.7,155.2 L165.2,153.6 L165.6,152.1 L166.1,150.5 L166.7,149.0 L167.2,147.5 L167.8,146.0 L168.4,144.5 L169.1,143.0 L169.7,141.5 L170.4,140.0 L171.2,138.6 L171.9,137.2 L172.7,135.7 L173.4,134.3 L174.2,132.9 L175.1,131.5 L175.9,130.2 L176.8,128.8 L177.7,127.5 L178.6,126.1 L179.5,124.8 L180.4,123.5 L181.4,122.2 L182.3,120.9 L183.3,119.6 L184.3,118.4 L185.3,117.1 L186.3,115.9 L187.3,114.6 L188.3,113.4 L189.4,112.2 L190.4,111.0 L191.4,109.8 L192.5,108.6 L193.5,107.4 L194.6,106.2 L195.7,105.0 L196.7,103.8 L197.8,102.6 L198.9,101.4 L199.9,100.3 L201.0,99.1 L202.1,97.9 L203.1,96.7 L204.2,95.6 L205.3,94.4 L206.3,93.2 L207.4,92.0 L208.4,90.9 L209.5,89.7 L210.5,88.5 L211.6,87.3 L212.6,86.1 L213.7,84.9 L214.7,83.7 L215.7,82.5 L216.7,81.3 L217.7,80.1 L218.7,78.9 L219.6,77.6 L220.6,76.4 L221.6,75.1 L222.5,73.9 L223.4,72.6 L224.3,71.3 L225.2,70.1 L226.1,68.8 L226.9,67.4"/>
<path d="M161.5,188.8 L161.5,187.2 L161.5,185.6 L161.5,184.0 L161.5,182.3 L161.5,180.7 L161.2,179.1 L161.2,177.5 L161.3,175.9 L161.4,174.3 L161.5,172.6 L161.6,171.0 L161.8,169.4 L162.0,167.8 L162.3,166.2 L162.5,164.6 L162.8,163.0 L163.1,161.4 L163.5,159.9 L163.8,158.3 L164.2,156.7 L164.7,155.2 L165.1,153.6 L165.6,152.1 L166.1,150.5 L166.6,149.0 L167.2,147.5 L167.8,146.0 L168.4,144.5 L169.0,143.0 L169.7,141.5 L170.4,140.1 L171.1,138.6 L171.8,137.2 L172.6,135.7 L173.4,134.3 L174.2,132.9 L175.0,131.5 L175.8,130.2 L176.7,128.8 L177.6,127.4 L178.5,126.1 L179.4,124.8 L180.3,123.5 L181.2,122.2 L182.2,120.9 L183.2,119.6 L184.1,118.3 L185.1,117.1 L186.1,115.8 L187.1,114.6 L188.1,113.3 L189.2,112.1 L190.2,110.9 L191.2,109.7 L192.3,108.5 L193.3,107.3 L194.4,106.1 L195.4,104.9 L196.5,103.7 L197.6,102.5 L198.6,101.3 L199.7,100.2 L200.7,99.0 L201.8,97.8 L202.9,96.6 L203.9,95.5 L205.0,94.3 L206.1,93.1 L207.1,91.9 L208.2,90.8 L209.2,89.6 L210.3,88.4 L211.3,87.2 L212.4,86.0 L213.4,84.8 L214.4,83.6 L215.4,82.4 L216.4,81.2 L217.4,80.0 L218.4,78.8 L219.4,77.5 L220.4,76.3 L221.3,75.1 L222.2,73.8 L223.2,72.5 L224.1,71.3 L225.0,70.0 L225.8,68.7 L226.7,67.4"/>
<path d="M161.1,188.8 L161.1,187.0 L161.1,185.4 L161.1,183.8 L161.1,182.2 L161.1,180.6 L161.0,179.0 L161.0,177.4 L161.0,175.8 L161.1,174.3 L161.2,172.7 L161.3,171.1 L161.5,169.5 L161.6,167.9 L161.8,166.3 L162.0,164.8 L162.3,163.2 L162.6,161.6 L162.9,160.1 L163.2,158.5 L163.5,156.9 L163.9,155.4 L164.3,153.8 L164.7,152.3 L165.1,150.8 L165.5,149.2 L166.0,147.7 L166.5,146.2 L167.0,144.7 L167.5,143.2 L168.1,141.7 L168.6,140.2 L169.2,138.7 L169.8,137.2 L170.4,135.7 L171.0,134.3 L171.7,132.8 L172.3,131.4 L173.0,129.9 L173.7,128.5 L174.4,127.1 L175.1,125.7 L175.8,124.3 L176.6,122.9 L177.3,121.5 L178.1,120.1 L178.9,118.7 L179.7,117.3 L180.5,116.0 L181.3,114.6 L182.1,113.3 L183.0,111.9 L183.8,110.6 L184.7,109.3 L185.5,108.0 L186.4,106.7 L187.3,105.4 L188.2,104.1 L189.1,102.8 L190.1,101.5 L191.0,100.2 L191.9,99.0 L192.9,97.7 L193.8,96.4 L194.8,95.2 L195.8,94.0 L196.8,92.7 L197.7,91.5 L198.7,90.3 L199.8,89.0 L200.8,87.8 L201.8,86.6 L202.8,85.4 L203.8,84.2 L204.9,83.1 L205.9,81.9 L207.0,80.7 L208.0,79.5 L209.1,78.4 L210.2,77.2 L211.2,76.1 L212.3,74.9 L213.4,73.8 L214.5,72.7 L215.6,71.5 L216.7,70.4 L217.7,69.3 L218.8,68.2 L219.9,67.1 L221.0,66.0"/>
<path d="M161.1,188.8 L161.1,186.9 L161.1,185.3 L161.1,183.8 L161.1,182.2 L161.1,180.6 L160.9,179.0 L160.9,177.4 L161.0,175.8 L161.0,174.3 L161.1,172.7 L161.2,171.1 L161.4,169.5 L161.6,167.9 L161.7,166.4 L162.0,164.8 L162.2,163.2 L162.5,161.7 L162.7,160.1 L163.0,158.5 L163.4,157.0 L163.7,155.4 L164.1,153.9 L164.5,152.3 L164.9,150.8 L165.3,149.3 L165.8,147.7 L166.2,146.2 L166.7,144.7 L167.2,143.2 L167.7,141.7 L168.3,140.2 L168.8,138.7 L169.4,137.2 L170.0,135.7 L170.6,134.3 L171.2,132.8 L171.8,131.3 L172.4,129.9 L173.1,128.4 L173.7,127.0 L174.4,125.6 L175.1,124.1 L175.8,122.7 L176.5,121.3 L177.3,119.9 L178.0,118.5 L178.8,117.1 L179.6,115.8 L180.3,114.4 L181.1,113.0 L181.9,111.7 L182.8,110.3 L183.6,109.0 L184.4,107.6 L185.3,106.3 L186.1,105.0 L187.0,103.7 L187.9,102.4 L188.8,101.1 L189.7,99.8 L190.6,98.5 L191.5,97.2 L192.5,95.9 L193.4,94.7 L194.4,93.4 L195.3,92.2 L196.3,90.9 L197.3,89.7 L198.3,88.5 L199.3,87.3 L200.3,86.1 L201.3,84.9 L202.4,83.7 L203.4,82.5 L204.5,81.3 L205.5,80.1 L206.6,79.0 L207.7,77.8 L208.8,76.7 L209.8,75.5 L210.9,74.4 L212.0,73.3 L213.1,72.2 L214.3,71.1 L215.4,70.0 L216.5,68.9 L217.6,67.9 L218.8,66.8 L219.9,65.8"/>
<path d="M161.0,188.8 L161.0,186.9 L161.0,185.3 L161.0,183.7 L161.0,182.1 L161.0,180.6 L160.9,179.0 L160.9,177.4 L160.9,175.8 L161.0,174.3 L161.1,172.7 L161.2,171.1 L161.3,169.5 L161.5,168.0 L161.6,166.4 L161.8,164.8 L162.1,163.3 L162.3,161.7 L162.6,160.1 L162.9,158.6 L163.2,157.0 L163.5,155.5 L163.9,153.9 L164.2,152.4 L164.6,150.9 L165.0,149.3 L165.5,147.8 L165.9,146.3 L166.4,144.8 L166.8,143.2 L167.3,141.7 L167.8,140.2 L168.3,138.7 L168.9,137.2 L169.4,135.7 L170.0,134.3 L170.5,132.8 L171.1,131.3 L171.7,129.8 L172.3,128.4 L173.0,126.9 L173.6,125.5 L174.2,124.0 L174.9,122.6 L175.6,121.1 L176.3,119.7 L177.0,118.3 L177.7,116.9 L178.4,115.5 L179.1,114.1 L179.9,112.7 L180.6,111.3 L181.4,109.9 L182.2,108.6 L183.0,107.2 L183.8,105.9 L184.6,104.5 L185.5,103.2 L186.3,101.8 L187.2,100.5 L188.0,99.2 L188.9,97.9 L189.8,96.6 L190.7,95.3 L191.7,94.0 L192.6,92.7 L193.5,91.5 L194.5,90.2 L195.5,89.0 L196.5,87.8 L197.5,86.5 L198.5,85.3 L199.5,84.1 L200.5,82.9 L201.6,81.7 L202.6,80.6 L203.7,79.4 L204.7,78.3 L205.8,77.1 L206.9,76.0 L208.0,74.9 L209.2,73.8 L210.3,72.7 L211.4,71.6 L212.6,70.5 L213.8,69.5 L214.9,68.5 L216.1,67.4 L217.3,66.4 L218.5,65.4"/>
<path d="M160.9,188.8 L160.9,186.8 L160.9,185.2 L160.9,183.7 L160.9,182.1 L160.9,180.5 L160.8,179.0 L160.8,177.4 L160.8,175.8 L160.9,174.3 L161.0,172.7 L161.1,171.1 L161.2,169.6 L161.3,168.0 L161.5,166.4 L161.7,164.9 L161.9,163.3 L162.2,161.7 L162.4,160.2 L162.7,158.6 L163.0,157.1 L163.3,155.5 L163.6,154.0 L164.0,152.5 L164.4,150.9 L164.7,149.4 L165.1,147.9 L165.6,146.3 L166.0,144.8 L166.4,143.3 L166.9,141.8 L167.3,140.3 L167.8,138.8 L168.3,137.2 L168.8,135.7 L169.3,134.2 L169.9,132.7 L170.4,131.3 L171.0,129.8 L171.5,128.3 L172.1,126.8 L172.7,125.3 L173.3,123.9 L173.9,122.4 L174.5,121.0 L175.2,119.5 L175.8,118.1 L176.5,116.6 L177.1,115.2 L177.8,113.8 L178.5,112.3 L179.2,110.9 L180.0,109.5 L180.7,108.1 L181.5,106.7 L182.2,105.4 L183.0,104.0 L183.8,102.6 L184.6,101.3 L185.5,99.9 L186.3,98.6 L187.1,97.2 L188.0,95.9 L188.9,94.6 L189.8,93.3 L190.7,92.0 L191.6,90.7 L192.6,89.5 L193.5,88.2 L194.5,87.0 L195.5,85.7 L196.5,84.5 L197.5,83.3 L198.5,82.1 L199.6,80.9 L200.6,79.8 L201.7,78.6 L202.8,77.5 L203.9,76.4 L205.0,75.2 L206.1,74.2 L207.3,73.1 L208.4,72.0 L209.6,71.0 L210.8,69.9 L212.0,68.9 L213.2,67.9 L214.5,66.9 L215.7,66.0 L217.0,65.0"/>
</g>
<g transform="translate(402.5,0)" fill="none" stroke="#66c2a5" stroke-width="3.6" stroke-opacity="0.5" stroke-linecap="round" stroke-linejoin="round">
<path d="M161.5,188.7 L161.5,187.1 L161.5,185.5 L161.5,183.9 L161.5,182.3 L161.5,180.6 L161.2,179.0 L161.3,177.4 L161.3,175.8 L161.4,174.2 L161.6,172.6 L161.7,171.0 L161.9,169.3 L162.1,167.7 L162.3,166.1 L162.6,164.5 L162.9,162.9 L163.2,161.4 L163.5,159.8 L163.9,158.2 L164.3,156.6 L164.7,155.1 L165.2,153.5 L165.6,152.0 L166.2,150.4 L166.7,148.9 L167.2,147.4 L167.8,145.9 L168.4,144.4 L169.1,142.9 L169.7,141.4 L170.4,139.9 L171.1,138.5 L171.9,137.0 L172.7,135.6 L173.5,134.2 L174.3,132.8 L175.1,131.4 L176.0,130.0 L176.9,128.7 L177.8,127.4 L178.7,126.0 L179.6,124.7 L180.6,123.4 L181.6,122.1 L182.6,120.9 L183.6,119.6 L184.6,118.4 L185.6,117.1 L186.6,115.9 L187.7,114.7 L188.7,113.5 L189.8,112.3 L190.9,111.1 L191.9,109.9 L193.0,108.7 L194.1,107.6 L195.2,106.4 L196.3,105.2 L197.4,104.1 L198.5,102.9 L199.6,101.8 L200.7,100.6 L201.8,99.5 L202.9,98.3 L204.0,97.2 L205.1,96.1 L206.2,94.9 L207.3,93.8 L208.4,92.6 L209.5,91.5 L210.6,90.3 L211.7,89.2 L212.7,88.0 L213.8,86.9 L214.9,85.7 L215.9,84.5 L217.0,83.3 L218.0,82.1 L219.0,81.0 L220.0,79.7 L221.0,78.5 L222.0,77.3 L223.0,76.1 L223.9,74.8 L224.9,73.6 L225.8,72.3 L226.7,71.1 L227.6,69.8 L228.5,68.5"/>
<path d="M161.5,188.7 L161.5,187.1 L161.5,185.5 L161.5,183.9 L161.5,182.3 L161.5,180.6 L161.2,179.0 L161.3,177.4 L161.3,175.8 L161.4,174.2 L161.6,172.6 L161.7,171.0 L161.9,169.4 L162.1,167.7 L162.3,166.1 L162.6,164.5 L162.9,163.0 L163.2,161.4 L163.5,159.8 L163.9,158.2 L164.3,156.6 L164.7,155.1 L165.1,153.5 L165.6,152.0 L166.1,150.4 L166.6,148.9 L167.2,147.4 L167.8,145.9 L168.4,144.4 L169.0,142.9 L169.7,141.4 L170.4,139.9 L171.1,138.5 L171.8,137.0 L172.6,135.6 L173.4,134.2 L174.2,132.8 L175.0,131.4 L175.9,130.0 L176.8,128.7 L177.7,127.4 L178.6,126.0 L179.5,124.7 L180.5,123.4 L181.5,122.1 L182.4,120.9 L183.4,119.6 L184.4,118.3 L185.5,117.1 L186.5,115.9 L187.5,114.7 L188.6,113.4 L189.6,112.2 L190.7,111.1 L191.8,109.9 L192.8,108.7 L193.9,107.5 L195.0,106.3 L196.1,105.2 L197.2,104.0 L198.3,102.9 L199.4,101.7 L200.5,100.6 L201.6,99.4 L202.7,98.3 L203.8,97.1 L204.9,96.0 L206.0,94.8 L207.1,93.7 L208.2,92.5 L209.2,91.4 L210.3,90.2 L211.4,89.1 L212.5,87.9 L213.5,86.8 L214.6,85.6 L215.6,84.4 L216.7,83.2 L217.7,82.0 L218.7,80.8 L219.8,79.6 L220.8,78.4 L221.7,77.2 L222.7,76.0 L223.7,74.7 L224.6,73.5 L225.6,72.2 L226.5,71.0 L227.4,69.7 L228.2,68.4"/>
<path d="M161.5,188.7 L161.5,187.1 L161.5,185.5 L161.5,183.9 L161.5,182.3 L161.5,180.6 L161.2,179.0 L161.3,177.4 L161.3,175.8 L161.4,174.2 L161.5,172.6 L161.7,171.0 L161.9,169.4 L162.1,167.8 L162.3,166.2 L162.6,164.6 L162.8,163.0 L163.2,161.4 L163.5,159.8 L163.9,158.2 L164.2,156.7 L164.7,155.1 L165.1,153.5 L165.6,152.0 L166.1,150.4 L166.6,148.9 L167.2,147.4 L167.7,145.9 L168.3,144.4 L169.0,142.9 L169.6,141.4 L170.3,139.9 L171.0,138.5 L171.8,137.0 L172.5,135.6 L173.3,134.2 L174.1,132.8 L175.0,131.4 L175.8,130.1 L176.7,128.7 L177.6,127.4 L178.5,126.0 L179.4,124.7 L180.4,123.4 L181.3,122.1 L182.3,120.8 L183.3,119.6 L184.3,118.3 L185.3,117.1 L186.3,115.9 L187.4,114.6 L188.4,113.4 L189.5,112.2 L190.5,111.0 L191.6,109.8 L192.6,108.6 L193.7,107.5 L194.8,106.3 L195.9,105.1 L197.0,104.0 L198.1,102.8 L199.2,101.6 L200.3,100.5 L201.3,99.3 L202.4,98.2 L203.5,97.0 L204.6,95.9 L205.7,94.7 L206.8,93.6 L207.9,92.4 L209.0,91.3 L210.1,90.1 L211.1,89.0 L212.2,87.8 L213.3,86.7 L214.3,85.5 L215.4,84.3 L216.4,83.1 L217.5,81.9 L218.5,80.7 L219.5,79.5 L220.5,78.3 L221.5,77.1 L222.5,75.9 L223.4,74.7 L224.4,73.4 L225.3,72.1 L226.2,70.9 L227.1,69.6 L228.0,68.3"/>
<path d="M161.5,188.7 L161.5,187.1 L161.5,185.5 L161.5,183.9 L161.5,182.3 L161.5,180.6 L161.2,179.0 L161.2,177.4 L161.3,175.8 L161.4,174.2 L161.5,172.6 L161.7,171.0 L161.9,169.4 L162.1,167.8 L162.3,166.2 L162.5,164.6 L162.8,163.0 L163.1,161.4 L163.5,159.8 L163.8,158.2 L164.2,156.7 L164.6,155.1 L165.1,153.5 L165.5,152.0 L166.0,150.5 L166.6,148.9 L167.1,147.4 L167.7,145.9 L168.3,144.4 L168.9,142.9 L169.6,141.4 L170.2,140.0 L171.0,138.5 L171.7,137.1 L172.4,135.6 L173.2,134.2 L174.0,132.8 L174.9,131.4 L175.7,130.1 L176.6,128.7 L177.5,127.4 L178.4,126.0 L179.3,124.7 L180.3,123.4 L181.2,122.1 L182.2,120.8 L183.2,119.6 L184.2,118.3 L185.2,117.1 L186.2,115.8 L187.2,114.6 L188.2,113.4 L189.3,112.2 L190.3,111.0 L191.4,109.8 L192.5,108.6 L193.5,107.4 L194.6,106.2 L195.7,105.1 L196.8,103.9 L197.9,102.7 L198.9,101.6 L200.0,100.4 L201.1,99.3 L202.2,98.1 L203.3,97.0 L204.4,95.8 L205.5,94.7 L206.6,93.5 L207.7,92.4 L208.7,91.2 L209.8,90.0 L210.9,88.9 L212.0,87.7 L213.0,86.6 L214.1,85.4 L215.1,84.2 L216.2,83.0 L217.2,81.8 L218.2,80.6 L219.2,79.4 L220.2,78.2 L221.2,77.0 L222.2,75.8 L223.2,74.6 L224.1,73.3 L225.1,72.1 L226.0,70.8 L226.9,69.5 L227.8,68.2"/>
<path d="M161.5,188.7 L161.5,187.1 L161.5,185.5 L161.5,183.9 L161.5,182.3 L161.5,180.6 L161.2,179.0 L161.2,177.4 L161.3,175.8 L161.4,174.2 L161.5,172.6 L161.7,171.0 L161.8,169.4 L162.0,167.8 L162.3,166.2 L162.5,164.6 L162.8,163.0 L163.1,161.4 L163.4,159.8 L163.8,158.2 L164.2,156.7 L164.6,155.1 L165.0,153.6 L165.5,152.0 L166.0,150.5 L166.5,148.9 L167.1,147.4 L167.6,145.9 L168.2,144.4 L168.9,142.9 L169.5,141.4 L170.2,140.0 L170.9,138.5 L171.6,137.1 L172.4,135.6 L173.2,134.2 L174.0,132.8 L174.8,131.4 L175.6,130.1 L176.5,128.7 L177.4,127.4 L178.3,126.0 L179.2,124.7 L180.1,123.4 L181.1,122.1 L182.0,120.8 L183.0,119.6 L184.0,118.3 L185.0,117.0 L186.0,115.8 L187.0,114.6 L188.1,113.4 L189.1,112.1 L190.2,110.9 L191.2,109.7 L192.3,108.5 L193.3,107.4 L194.4,106.2 L195.5,105.0 L196.6,103.8 L197.6,102.7 L198.7,101.5 L199.8,100.3 L200.9,99.2 L202.0,98.0 L203.1,96.9 L204.1,95.7 L205.2,94.6 L206.3,93.4 L207.4,92.3 L208.5,91.1 L209.6,89.9 L210.6,88.8 L211.7,87.6 L212.8,86.5 L213.8,85.3 L214.9,84.1 L215.9,82.9 L216.9,81.7 L218.0,80.5 L219.0,79.3 L220.0,78.1 L221.0,76.9 L221.9,75.7 L222.9,74.5 L223.9,73.2 L224.8,72.0 L225.7,70.7 L226.6,69.4 L227.5,68.1"/>
<path d="M161.4,188.7 L161.4,187.1 L161.4,185.5 L161.4,183.9 L161.4,182.3 L161.4,180.6 L161.2,179.0 L161.2,177.4 L161.3,175.8 L161.4,174.2 L161.5,172.6 L161.7,171.0 L161.8,169.4 L162.0,167.8 L162.3,166.2 L162.5,164.6 L162.8,163.0 L163.1,161.4 L163.4,159.8 L163.8,158.3 L164.2,156.7 L164.6,155.1 L165.0,153.6 L165.5,152.0 L166.0,150.5 L166.5,149.0 L167.0,147.4 L167.6,145.9 L168.2,144.4 L168.8,142.9 L169.5,141.4 L170.1,140.0 L170.8,138.5 L171.5,137.1 L172.3,135.6 L173.1,134.2 L173.9,132.8 L174.7,131.4 L175.5,130.1 L176.4,128.7 L177.3,127.4 L178.2,126.0 L179.1,124.7 L180.0,123.4 L181.0,122.1 L181.9,120.8 L182.9,119.5 L183.9,118.3 L184.9,117.0 L185.9,115.8 L186.9,114.5 L187.9,113.3 L188.9,112.1 L190.0,110.9 L191.0,109.7 L192.1,108.5 L193.1,107.3 L194.2,106.1 L195.3,105.0 L196.3,103.8 L197.4,102.6 L198.5,101.4 L199.6,100.3 L200.7,99.1 L201.7,98.0 L202.8,96.8 L203.9,95.6 L205.0,94.5 L206.1,93.3 L207.1,92.2 L208.2,91.0 L209.3,89.9 L210.4,88.7 L211.4,87.5 L212.5,86.4 L213.5,85.2 L214.6,84.0 L215.6,82.8 L216.7,81.6 L217.7,80.4 L218.7,79.2 L219.7,78.0 L220.7,76.8 L221.7,75.6 L222.7,74.4 L223.6,73.1 L224.6,71.9 L225.5,70.6 L226.4,69.4 L227.3,68.1"/>
<path d="M161.4,188.7 L161.4,187.1 L161.4,185.5 L161.4,183.9 L161.4,182.3 L161.4,180.6 L161.2,179.0 L161.2,177.4 L161.3,175.8 L161.4,174.2 L161.5,172.6 L161.6,171.0 L161.8,169.4 L162.0,167.8 L162.2,166.2 L162.5,164.6 L162.8,163.0 L163.1,161.4 L163.4,159.8 L163.8,158.3 L164.1,156.7 L164.5,155.1 L165.0,153.6 L165.4,152.0 L165.9,150.5 L166.4,149.0 L167.0,147.4 L167.5,145.9 L168.1,144.4 L168.8,142.9 L169.4,141.5 L170.1,140.0 L170.8,138.5 L171.5,137.1 L172.2,135.7 L173.0,134.2 L173.8,132.8 L174.6,131.4 L175.4,130.1 L176.3,128.7 L177.2,127.4 L178.1,126.0 L179.0,124.7 L179.9,123.4 L180.8,122.1 L181.8,120.8 L182.8,119.5 L183.7,118.3 L184.7,117.0 L185.7,115.8 L186.7,114.5 L187.7,113.3 L188.8,112.1 L189.8,110.9 L190.8,109.7 L191.9,108.5 L192.9,107.3 L194.0,106.1 L195.1,104.9 L196.1,103.7 L197.2,102.5 L198.3,101.4 L199.4,100.2 L200.4,99.0 L201.5,97.9 L202.6,96.7 L203.7,95.6 L204.7,94.4 L205.8,93.2 L206.9,92.1 L208.0,90.9 L209.0,89.8 L210.1,88.6 L211.2,87.4 L212.2,86.3 L213.3,85.1 L214.3,83.9 L215.4,82.7 L216.4,81.5 L217.4,80.3 L218.4,79.1 L219.4,77.9 L220.4,76.7 L221.4,75.5 L222.4,74.3 L223.4,73.0 L224.3,71.8 L225.2,70.5 L226.1,69.3 L227.1,68.0"/>
<path d="M161.4,188.7 L161.4,187.1 L161.4,185.5 L161.4,183.9 L161.4,182.3 L161.4,180.6 L161.2,179.0 L161.2,177.4 L161.3,175.8 L161.4,174.2 L161.5,172.6 L161.6,171.0 L161.8,169.4 L162.0,167.8 L162.2,166.2 L162.5,164.6 L162.7,163.0 L163.0,161.4 L163.4,159.8 L163.7,158.3 L164.1,156.7 L164.5,155.1 L164.9,153.6 L165.4,152.0 L165.9,150.5 L166.4,149.0 L166.9,147.5 L167.5,145.9 L168.1,144.4 L168.7,143.0 L169.3,141.5 L170.0,140.0 L170.7,138.5 L171.4,137.1 L172.2,135.7 L172.9,134.2 L173.7,132.8 L174.5,131.5 L175.3,130.1 L176.2,128.7 L177.1,127.4 L178.0,126.0 L178.9,124.7 L179.8,123.4 L180.7,122.1 L181.7,120.8 L182.6,119.5 L183.6,118.2 L184.6,117.0 L185.6,115.7 L186.6,114.5 L187.6,113.3 L188.6,112.0 L189.6,110.8 L190.7,109.6 L191.7,108.4 L192.8,107.2 L193.8,106.0 L194.9,104.8 L195.9,103.7 L197.0,102.5 L198.1,101.3 L199.1,100.1 L200.2,99.0 L201.3,97.8 L202.4,96.6 L203.4,95.5 L204.5,94.3 L205.6,93.2 L206.6,92.0 L207.7,90.8 L208.8,89.7 L209.8,88.5 L210.9,87.3 L212.0,86.2 L213.0,85.0 L214.1,83.8 L215.1,82.6 L216.1,81.4 L217.2,80.2 L218.2,79.0 L219.2,77.8 L220.2,76.6 L221.2,75.4 L222.1,74.2 L223.1,72.9 L224.0,71.7 L225.0,70.4 L225.9,69.2 L226.8,67.9"/>
<path d="M161.4,188.7 L161.4,187.1 L161.4,185.5 L161.4,183.9 L161.4,182.2 L161.4,180.6 L161.2,179.0 L161.2,177.4 L161.3,175.8 L161.4,174.2 L161.5,172.6 L161.6,171.0 L161.8,169.4 L162.0,167.8 L162.2,166.2 L162.5,164.6 L162.7,163.0 L163.0,161.4 L163.4,159.9 L163.7,158.3 L164.1,156.7 L164.5,155.2 L164.9,153.6 L165.4,152.1 L165.9,150.5 L166.4,149.0 L166.9,147.5 L167.5,146.0 L168.0,144.5 L168.6,143.0 L169.3,141.5 L169.9,140.0 L170.6,138.6 L171.3,137.1 L172.1,135.7 L172.8,134.3 L173.6,132.9 L174.4,131.5 L175.3,130.1 L176.1,128.7 L177.0,127.4 L177.8,126.0 L178.7,124.7 L179.7,123.4 L180.6,122.1 L181.5,120.8 L182.5,119.5 L183.4,118.2 L184.4,117.0 L185.4,115.7 L186.4,114.5 L187.4,113.2 L188.4,112.0 L189.5,110.8 L190.5,109.6 L191.5,108.4 L192.6,107.2 L193.6,106.0 L194.7,104.8 L195.7,103.6 L196.8,102.4 L197.8,101.2 L198.9,100.1 L200.0,98.9 L201.0,97.7 L202.1,96.6 L203.2,95.4 L204.3,94.2 L205.3,93.1 L206.4,91.9 L207.5,90.7 L208.5,89.6 L209.6,88.4 L210.6,87.2 L211.7,86.1 L212.7,84.9 L213.8,83.7 L214.8,82.5 L215.9,81.3 L216.9,80.1 L217.9,78.9 L218.9,77.7 L219.9,76.5 L220.9,75.3 L221.9,74.1 L222.8,72.8 L223.8,71.6 L224.7,70.4 L225.7,69.1 L226.6,67.8"/>
<path d="M161.4,188.7 L161.4,187.1 L161.4,185.5 L161.4,183.9 L161.4,182.2 L161.4,180.6 L161.2,179.0 L161.2,177.4 L161.3,175.8 L161.3,174.2 L161.5,172.6 L161.6,171.0 L161.8,169.4 L162.0,167.8 L162.2,166.2 L162.4,164.6 L162.7,163.0 L163.0,161.4 L163.3,159.9 L163.7,158.3 L164.1,156.7 L164.5,155.2 L164.9,153.6 L165.3,152.1 L165.8,150.5 L166.3,149.0 L166.9,147.5 L167.4,146.0 L168.0,144.5 L168.6,143.0 L169.2,141.5 L169.9,140.0 L170.6,138.6 L171.3,137.1 L172.0,135.7 L172.8,134.3 L173.5,132.9 L174.3,131.5 L175.2,130.1 L176.0,128.7 L176.9,127.4 L177.7,126.0 L178.6,124.7 L179.5,123.4 L180.5,122.1 L181.4,120.8 L182.3,119.5 L183.3,118.2 L184.3,116.9 L185.3,115.7 L186.3,114.4 L187.3,113.2 L188.3,112.0 L189.3,110.7 L190.3,109.5 L191.3,108.3 L192.4,107.1 L193.4,105.9 L194.5,104.7 L195.5,103.5 L196.6,102.4 L197.6,101.2 L198.7,100.0 L199.7,98.8 L200.8,97.6 L201.9,96.5 L202.9,95.3 L204.0,94.1 L205.1,93.0 L206.1,91.8 L207.2,90.6 L208.3,89.5 L209.3,88.3 L210.4,87.1 L211.4,86.0 L212.5,84.8 L213.5,83.6 L214.6,82.4 L215.6,81.2 L216.6,80.0 L217.6,78.8 L218.6,77.6 L219.7,76.4 L220.6,75.2 L221.6,74.0 L222.6,72.7 L223.5,71.5 L224.5,70.3 L225.4,69.0 L226.3,67.7"/>
<path d="M161.4,188.7 L161.4,187.1 L161.4,185.5 L161.4,183.9 L161.4,182.2 L161.4,180.6 L161.2,179.0 L161.2,177.4 L161.3,175.8 L161.3,174.2 L161.5,172.6 L161.6,171.0 L161.8,169.4 L162.0,167.8 L162.2,166.2 L162.4,164.6 L162.7,163.0 L163.0,161.5 L163.3,159.9 L163.7,158.3 L164.0,156.7 L164.4,155.2 L164.9,153.6 L165.3,152.1 L165.8,150.5 L166.3,149.0 L166.8,147.5 L167.4,146.0 L167.9,144.5 L168.5,143.0 L169.2,141.5 L169.8,140.0 L170.5,138.6 L171.2,137.1 L171.9,135.7 L172.7,134.3 L173.5,132.9 L174.3,131.5 L175.1,130.1 L175.9,128.7 L176.8,127.4 L177.6,126.0 L178.5,124.7 L179.4,123.4 L180.3,122.1 L181.3,120.8 L182.2,119.5 L183.2,118.2 L184.1,116.9 L185.1,115.7 L186.1,114.4 L187.1,113.2 L188.1,111.9 L189.1,110.7 L190.1,109.5 L191.1,108.3 L192.2,107.1 L193.2,105.9 L194.3,104.7 L195.3,103.5 L196.4,102.3 L197.4,101.1 L198.5,99.9 L199.5,98.7 L200.6,97.6 L201.6,96.4 L202.7,95.2 L203.8,94.1 L204.8,92.9 L205.9,91.7 L207.0,90.5 L208.0,89.4 L209.1,88.2 L210.1,87.0 L211.2,85.9 L212.2,84.7 L213.3,83.5 L214.3,82.3 L215.3,81.1 L216.4,79.9 L217.4,78.7 L218.4,77.5 L219.4,76.3 L220.4,75.1 L221.4,73.9 L222.3,72.7 L223.3,71.4 L224.2,70.2 L225.2,68.9 L226.1,67.7"/>
<path d="M161.4,188.7 L161.4,187.1 L161.4,185.5 L161.4,183.8 L161.4,182.2 L161.4,180.6 L161.1,179.0 L161.2,177.4 L161.2,175.8 L161.3,174.2 L161.4,172.6 L161.6,171.0 L161.7,169.4 L161.9,167.8 L162.2,166.2 L162.4,164.6 L162.7,163.0 L163.0,161.5 L163.3,159.9 L163.6,158.3 L164.0,156.8 L164.4,155.2 L164.8,153.6 L165.3,152.1 L165.7,150.6 L166.2,149.0 L166.8,147.5 L167.3,146.0 L167.9,144.5 L168.5,143.0 L169.1,141.5 L169.8,140.0 L170.4,138.6 L171.1,137.1 L171.9,135.7 L172.6,134.3 L173.4,132.9 L174.2,131.5 L175.0,130.1 L175.8,128.7 L176.7,127.4 L177.5,126.0 L178.4,124.7 L179.3,123.4 L180.2,122.0 L181.1,120.7 L182.1,119.4 L183.0,118.2 L184.0,116.9 L185.0,115.6 L185.9,114.4 L186.9,113.1 L187.9,111.9 L188.9,110.7 L189.9,109.4 L191.0,108.2 L192.0,107.0 L193.0,105.8 L194.1,104.6 L195.1,103.4 L196.1,102.2 L197.2,101.0 L198.2,99.9 L199.3,98.7 L200.3,97.5 L201.4,96.3 L202.5,95.1 L203.5,94.0 L204.6,92.8 L205.6,91.6 L206.7,90.5 L207.8,89.3 L208.8,88.1 L209.9,86.9 L210.9,85.8 L212.0,84.6 L213.0,83.4 L214.0,82.2 L215.1,81.0 L216.1,79.8 L217.1,78.6 L218.1,77.4 L219.1,76.2 L220.1,75.0 L221.1,73.8 L222.1,72.6 L223.0,71.3 L224.0,70.1 L224.9,68.8 L225.9,67.6"/>
<path d="M161.4,188.7 L161.4,187.1 L161.4,185.4 L161.4,183.8 L161.4,182.2 L161.4,180.6 L161.1,179.0 L161.2,177.4 L161.2,175.8 L161.3,174.2 L161.4,172.6 L161.6,171.0 L161.7,169.4 L161.9,167.8 L162.1,166.2 L162.4,164.6 L162.6,163.1 L162.9,161.5 L163.3,159.9 L163.6,158.3 L164.0,156.8 L164.4,155.2 L164.8,153.7 L165.2,152.1 L165.7,150.6 L166.2,149.0 L166.7,147.5 L167.3,146.0 L167.8,144.5 L168.4,143.0 L169.1,141.5 L169.7,140.1 L170.4,138.6 L171.1,137.2 L171.8,135.7 L172.5,134.3 L173.3,132.9 L174.1,131.5 L174.9,130.1 L175.7,128.7 L176.6,127.4 L177.4,126.0 L178.3,124.7 L179.2,123.3 L180.1,122.0 L181.0,120.7 L181.9,119.4 L182.9,118.1 L183.8,116.9 L184.8,115.6 L185.8,114.3 L186.8,113.1 L187.8,111.9 L188.8,110.6 L189.8,109.4 L190.8,108.2 L191.8,107.0 L192.8,105.8 L193.8,104.6 L194.9,103.4 L195.9,102.2 L197.0,101.0 L198.0,99.8 L199.1,98.6 L200.1,97.4 L201.2,96.2 L202.2,95.1 L203.3,93.9 L204.3,92.7 L205.4,91.5 L206.4,90.4 L207.5,89.2 L208.6,88.0 L209.6,86.8 L210.6,85.7 L211.7,84.5 L212.7,83.3 L213.8,82.1 L214.8,80.9 L215.8,79.7 L216.8,78.5 L217.9,77.3 L218.9,76.1 L219.9,74.9 L220.8,73.7 L221.8,72.5 L222.8,71.2 L223.7,70.0 L224.7,68.8 L225.6,67.5"/>
<path d="M161.4,188.7 L161.4,187.0 L161.4,185.4 L161.4,183.8 L161.4,182.2 L161.4,180.6 L161.1,179.0 L161.2,177.4 L161.2,175.8 L161.3,174.2 L161.4,172.6 L161.6,171.0 L161.7,169.4 L161.9,167.8 L162.1,166.2 L162.4,164.6 L162.6,163.1 L162.9,161.5 L163.2,159.9 L163.6,158.3 L163.9,156.8 L164.3,155.2 L164.8,153.7 L165.2,152.1 L165.7,150.6 L166.2,149.1 L166.7,147.5 L167.2,146.0 L167.8,144.5 L168.4,143.0 L169.0,141.5 L169.6,140.1 L170.3,138.6 L171.0,137.2 L171.7,135.7 L172.5,134.3 L173.2,132.9 L174.0,131.5 L174.8,130.1 L175.6,128.7 L176.5,127.4 L177.3,126.0 L178.2,124.7 L179.1,123.3 L180.0,122.0 L180.9,120.7 L181.8,119.4 L182.7,118.1 L183.7,116.9 L184.6,115.6 L185.6,114.3 L186.6,113.1 L187.6,111.8 L188.6,110.6 L189.6,109.4 L190.6,108.1 L191.6,106.9 L192.6,105.7 L193.6,104.5 L194.7,103.3 L195.7,102.1 L196.7,100.9 L197.8,99.7 L198.8,98.5 L199.9,97.3 L200.9,96.2 L202.0,95.0 L203.0,93.8 L204.1,92.6 L205.1,91.4 L206.2,90.3 L207.2,89.1 L208.3,87.9 L209.3,86.7 L210.4,85.6 L211.4,84.4 L212.5,83.2 L213.5,82.0 L214.5,80.8 L215.6,79.6 L216.6,78.4 L217.6,77.2 L218.6,76.0 L219.6,74.8 L220.6,73.6 L221.6,72.4 L222.5,71.1 L223.5,69.9 L224.5,68.7 L225.4,67.4"/>
<path d="M161.3,188.7 L161.3,187.0 L161.3,185.4 L161.3,183.8 L161.3,182.2 L161.3,180.6 L161.1,179.0 L161.2,177.4 L161.2,175.8 L161.3,174.2 L161.4,172.6 L161.5,171.0 L161.7,169.4 L161.9,167.8 L162.1,166.2 L162.3,164.7 L162.6,163.1 L162.9,161.5 L163.2,159.9 L163.6,158.3 L163.9,156.8 L164.3,155.2 L164.7,153.7 L165.2,152.1 L165.6,150.6 L166.1,149.1 L166.6,147.5 L167.2,146.0 L167.7,144.5 L168.3,143.0 L168.9,141.6 L169.6,140.1 L170.2,138.6 L170.9,137.2 L171.6,135.7 L172.4,134.3 L173.1,132.9 L173.9,131.5 L174.7,130.1 L175.5,128.7 L176.4,127.4 L177.2,126.0 L178.1,124.7 L178.9,123.3 L179.8,122.0 L180.7,120.7 L181.7,119.4 L182.6,118.1 L183.5,116.8 L184.5,115.6 L185.5,114.3 L186.4,113.0 L187.4,111.8 L188.4,110.5 L189.4,109.3 L190.4,108.1 L191.4,106.9 L192.4,105.6 L193.4,104.4 L194.5,103.2 L195.5,102.0 L196.5,100.8 L197.6,99.6 L198.6,98.4 L199.6,97.3 L200.7,96.1 L201.7,94.9 L202.8,93.7 L203.8,92.5 L204.9,91.3 L205.9,90.2 L207.0,89.0 L208.0,87.8 L209.1,86.6 L210.1,85.4 L211.2,84.3 L212.2,83.1 L213.2,81.9 L214.3,80.7 L215.3,79.5 L216.3,78.3 L217.3,77.1 L218.3,75.9 L219.3,74.7 L220.3,73.5 L221.3,72.3 L222.3,71.1 L223.3,69.8 L224.2,68.6 L225.2,67.3"/>
<path d="M161.3,188.7 L161.3,187.0 L161.3,185.4 L161.3,183.8 L161.3,182.2 L161.3,180.6 L161.1,179.0 L161.1,177.4 L161.2,175.8 L161.3,174.2 L161.4,172.6 L161.5,171.0 L161.7,169.4 L161.9,167.8 L162.1,166.2 L162.3,164.7 L162.6,163.1 L162.9,161.5 L163.2,159.9 L163.5,158.4 L163.9,156.8 L164.3,155.2 L164.7,153.7 L165.1,152.1 L165.6,150.6 L166.1,149.1 L166.6,147.6 L167.1,146.1 L167.7,144.5 L168.3,143.1 L168.9,141.6 L169.5,140.1 L170.2,138.6 L170.9,137.2 L171.6,135.7 L172.3,134.3 L173.1,132.9 L173.8,131.5 L174.6,130.1 L175.4,128.7 L176.3,127.4 L177.1,126.0 L178.0,124.7 L178.8,123.3 L179.7,122.0 L180.6,120.7 L181.5,119.4 L182.5,118.1 L183.4,116.8 L184.3,115.5 L185.3,114.3 L186.3,113.0 L187.2,111.8 L188.2,110.5 L189.2,109.3 L190.2,108.0 L191.2,106.8 L192.2,105.6 L193.2,104.4 L194.3,103.2 L195.3,102.0 L196.3,100.8 L197.3,99.6 L198.4,98.4 L199.4,97.2 L200.5,96.0 L201.5,94.8 L202.5,93.6 L203.6,92.4 L204.6,91.3 L205.7,90.1 L206.7,88.9 L207.8,87.7 L208.8,86.5 L209.9,85.3 L210.9,84.2 L211.9,83.0 L213.0,81.8 L214.0,80.6 L215.0,79.4 L216.1,78.2 L217.1,77.0 L218.1,75.8 L219.1,74.6 L220.1,73.4 L221.1,72.2 L222.0,71.0 L223.0,69.7 L224.0,68.5 L224.9,67.3"/>
<path d="M161.3,188.7 L161.3,187.0 L161.3,185.4 L161.3,183.8 L161.3,182.2 L161.3,180.6 L161.1,179.0 L161.1,177.4 L161.2,175.8 L161.3,174.2 L161.4,172.6 L161.5,171.0 L161.7,169.4 L161.9,167.8 L162.1,166.3 L162.3,164.7 L162.6,163.1 L162.9,161.5 L163.2,159.9 L163.5,158.4 L163.9,156.8 L164.2,155.3 L164.7,153.7 L165.1,152.2 L165.6,150.6 L166.0,149.1 L166.5,147.6 L167.1,146.1 L167.6,144.6 L168.2,143.1 L168.8,141.6 L169.5,140.1 L170.1,138.6 L170.8,137.2 L171.5,135.8 L172.2,134.3 L173.0,132.9 L173.7,131.5 L174.5,130.1 L175.3,128.7 L176.1,127.4 L177.0,126.0 L177.8,124.7 L178.7,123.3 L179.6,122.0 L180.5,120.7 L181.4,119.4 L182.3,118.1 L183.2,116.8 L184.2,115.5 L185.1,114.2 L186.1,113.0 L187.1,111.7 L188.0,110.5 L189.0,109.2 L190.0,108.0 L191.0,106.8 L192.0,105.5 L193.0,104.3 L194.0,103.1 L195.1,101.9 L196.1,100.7 L197.1,99.5 L198.2,98.3 L199.2,97.1 L200.2,95.9 L201.3,94.7 L202.3,93.5 L203.3,92.4 L204.4,91.2 L205.4,90.0 L206.5,88.8 L207.5,87.6 L208.6,86.4 L209.6,85.2 L210.6,84.1 L211.7,82.9 L212.7,81.7 L213.7,80.5 L214.8,79.3 L215.8,78.1 L216.8,76.9 L217.8,75.7 L218.8,74.5 L219.8,73.3 L220.8,72.1 L221.8,70.9 L222.8,69.7 L223.7,68.4 L224.7,67.2"/>
<path d="M161.3,188.7 L161.3,187.0 L161.3,185.4 L161.3,183.8 L161.3,182.2 L161.3,180.6 L161.1,179.0 L161.1,177.4 L161.2,175.8 L161.3,174.2 L161.4,172.6 L161.5,171.0 L161.7,169.4 L161.9,167.8 L162.1,166.3 L162.3,164.7 L162.6,163.1 L162.8,161.5 L163.1,159.9 L163.5,158.4 L163.8,156.8 L164.2,155.3 L164.6,153.7 L165.1,152.2 L165.5,150.6 L166.0,149.1 L166.5,147.6 L167.0,146.1 L167.6,144.6 L168.2,143.1 L168.8,141.6 L169.4,140.1 L170.1,138.7 L170.7,137.2 L171.4,135.8 L172.1,134.3 L172.9,132.9 L173.6,131.5 L174.4,130.1 L175.2,128.7 L176.0,127.4 L176.9,126.0 L177.7,124.7 L178.6,123.3 L179.5,122.0 L180.4,120.7 L181.3,119.4 L182.2,118.1 L183.1,116.8 L184.0,115.5 L185.0,114.2 L185.9,112.9 L186.9,111.7 L187.9,110.4 L188.8,109.2 L189.8,107.9 L190.8,106.7 L191.8,105.5 L192.8,104.3 L193.8,103.0 L194.9,101.8 L195.9,100.6 L196.9,99.4 L197.9,98.2 L199.0,97.0 L200.0,95.8 L201.0,94.6 L202.1,93.5 L203.1,92.3 L204.1,91.1 L205.2,89.9 L206.2,88.7 L207.3,87.5 L208.3,86.3 L209.3,85.1 L210.4,84.0 L211.4,82.8 L212.4,81.6 L213.5,80.4 L214.5,79.2 L215.5,78.0 L216.5,76.8 L217.6,75.6 L218.6,74.4 L219.6,73.2 L220.6,72.0 L221.5,70.8 L222.5,69.6 L223.5,68.3 L224.4,67.1"/>
<path d="M161.3,188.7 L161.3,187.0 L161.3,185.4 L161.3,183.8 L161.3,182.2 L161.3,180.6 L161.1,179.0 L161.1,177.4 L161.2,175.8 L161.3,174.2 L161.4,172.6 L161.5,171.0 L161.7,169.4 L161.8,167.9 L162.0,166.3 L162.3,164.7 L162.5,163.1 L162.8,161.5 L163.1,160.0 L163.5,158.4 L163.8,156.8 L164.2,155.3 L164.6,153.7 L165.0,152.2 L165.5,150.6 L166.0,149.1 L166.5,147.6 L167.0,146.1 L167.5,144.6 L168.1,143.1 L168.7,141.6 L169.3,140.1 L170.0,138.7 L170.7,137.2 L171.4,135.8 L172.1,134.3 L172.8,132.9 L173.6,131.5 L174.3,130.1 L175.1,128.7 L175.9,127.4 L176.8,126.0 L177.6,124.6 L178.5,123.3 L179.3,122.0 L180.2,120.7 L181.1,119.3 L182.0,118.0 L183.0,116.7 L183.9,115.5 L184.8,114.2 L185.8,112.9 L186.7,111.6 L187.7,110.4 L188.7,109.1 L189.6,107.9 L190.6,106.7 L191.6,105.4 L192.6,104.2 L193.6,103.0 L194.6,101.8 L195.7,100.6 L196.7,99.4 L197.7,98.2 L198.7,97.0 L199.7,95.8 L200.8,94.6 L201.8,93.4 L202.8,92.2 L203.9,91.0 L204.9,89.8 L206.0,88.6 L207.0,87.4 L208.0,86.2 L209.1,85.0 L210.1,83.9 L211.1,82.7 L212.2,81.5 L213.2,80.3 L214.2,79.1 L215.3,77.9 L216.3,76.7 L217.3,75.5 L218.3,74.3 L219.3,73.1 L220.3,71.9 L221.3,70.7 L222.3,69.5 L223.2,68.3 L224.2,67.0"/>
<path d="M161.3,188.7 L161.3,187.0 L161.3,185.4 L161.3,183.8 L161.3,182.2 L161.3,180.6 L161.1,179.0 L161.1,177.4 L161.2,175.8 L161.3,174.2 L161.4,172.6 L161.5,171.0 L161.6,169.4 L161.8,167.9 L162.0,166.3 L162.3,164.7 L162.5,163.1 L162.8,161.5 L163.1,160.0 L163.4,158.4 L163.8,156.8 L164.2,155.3 L164.6,153.7 L165.0,152.2 L165.4,150.7 L165.9,149.1 L166.4,147.6 L166.9,146.1 L167.5,144.6 L168.1,143.1 L168.7,141.6 L169.3,140.1 L169.9,138.7 L170.6,137.2 L171.3,135.8 L172.0,134.3 L172.7,132.9 L173.5,131.5 L174.2,130.1 L175.0,128.7 L175.8,127.4 L176.7,126.0 L177.5,124.6 L178.4,123.3 L179.2,122.0 L180.1,120.6 L181.0,119.3 L181.9,118.0 L182.8,116.7 L183.7,115.4 L184.7,114.2 L185.6,112.9 L186.6,111.6 L187.5,110.4 L188.5,109.1 L189.5,107.9 L190.4,106.6 L191.4,105.4 L192.4,104.2 L193.4,102.9 L194.4,101.7 L195.4,100.5 L196.4,99.3 L197.5,98.1 L198.5,96.9 L199.5,95.7 L200.5,94.5 L201.6,93.3 L202.6,92.1 L203.6,90.9 L204.7,89.7 L205.7,88.5 L206.7,87.3 L207.8,86.1 L208.8,84.9 L209.8,83.8 L210.9,82.6 L211.9,81.4 L212.9,80.2 L214.0,79.0 L215.0,77.8 L216.0,76.6 L217.0,75.4 L218.0,74.2 L219.0,73.0 L220.0,71.8 L221.0,70.6 L222.0,69.4 L223.0,68.2 L224.0,67.0"/>
<path d="M161.3,188.7 L161.3,187.0 L161.3,185.4 L161.3,183.8 L161.3,182.2 L161.3,180.6 L161.1,179.0 L161.1,177.4 L161.2,175.8 L161.2,174.2 L161.3,172.6 L161.5,171.0 L161.6,169.5 L161.8,167.9 L162.0,166.3 L162.2,164.7 L162.5,163.1 L162.8,161.5 L163.1,160.0 L163.4,158.4 L163.8,156.9 L164.1,155.3 L164.5,153.8 L165.0,152.2 L165.4,150.7 L165.9,149.1 L166.4,147.6 L166.9,146.1 L167.4,144.6 L168.0,143.1 L168.6,141.6 L169.2,140.2 L169.9,138.7 L170.5,137.2 L171.2,135.8 L171.9,134.4 L172.6,132.9 L173.4,131.5 L174.2,130.1 L174.9,128.7 L175.7,127.4 L176.6,126.0 L177.4,124.6 L178.2,123.3 L179.1,122.0 L180.0,120.6 L180.9,119.3 L181.8,118.0 L182.7,116.7 L183.6,115.4 L184.5,114.1 L185.4,112.8 L186.4,111.6 L187.3,110.3 L188.3,109.1 L189.3,107.8 L190.2,106.6 L191.2,105.3 L192.2,104.1 L193.2,102.9 L194.2,101.6 L195.2,100.4 L196.2,99.2 L197.2,98.0 L198.3,96.8 L199.3,95.6 L200.3,94.4 L201.3,93.2 L202.4,92.0 L203.4,90.8 L204.4,89.6 L205.4,88.4 L206.5,87.2 L207.5,86.0 L208.5,84.8 L209.6,83.7 L210.6,82.5 L211.6,81.3 L212.7,80.1 L213.7,78.9 L214.7,77.7 L215.7,76.5 L216.8,75.3 L217.8,74.1 L218.8,72.9 L219.8,71.7 L220.8,70.5 L221.8,69.3 L222.8,68.1 L223.7,66.9"/>
<path d="M161.3,188.7 L161.3,187.0 L161.3,185.4 L161.3,183.8 L161.3,182.2 L161.3,180.6 L161.1,179.0 L161.1,177.4 L161.2,175.8 L161.2,174.2 L161.3,172.6 L161.5,171.0 L161.6,169.5 L161.8,167.9 L162.0,166.3 L162.2,164.7 L162.5,163.1 L162.7,161.6 L163.1,160.0 L163.4,158.4 L163.7,156.9 L164.1,155.3 L164.5,153.8 L164.9,152.2 L165.4,150.7 L165.8,149.2 L166.3,147.6 L166.9,146.1 L167.4,144.6 L168.0,143.1 L168.5,141.6 L169.2,140.2 L169.8,138.7 L170.5,137.2 L171.1,135.8 L171.8,134.4 L172.6,132.9 L173.3,131.5 L174.1,130.1 L174.8,128.7 L175.6,127.4 L176.4,126.0 L177.3,124.6 L178.1,123.3 L179.0,121.9 L179.8,120.6 L180.7,119.3 L181.6,118.0 L182.5,116.7 L183.4,115.4 L184.3,114.1 L185.3,112.8 L186.2,111.5 L187.2,110.3 L188.1,109.0 L189.1,107.8 L190.1,106.5 L191.0,105.3 L192.0,104.0 L193.0,102.8 L194.0,101.6 L195.0,100.4 L196.0,99.1 L197.0,97.9 L198.0,96.7 L199.0,95.5 L200.1,94.3 L201.1,93.1 L202.1,91.9 L203.1,90.7 L204.2,89.5 L205.2,88.3 L206.2,87.1 L207.3,85.9 L208.3,84.7 L209.3,83.6 L210.3,82.4 L211.4,81.2 L212.4,80.0 L213.4,78.8 L214.5,77.6 L215.5,76.4 L216.5,75.2 L217.5,74.0 L218.5,72.8 L219.5,71.6 L220.5,70.4 L221.5,69.2 L222.5,68.0 L223.5,66.8"/>
<path d="M161.3,188.7 L161.3,187.0 L161.3,185.4 L161.3,183.8 L161.3,182.2 L161.3,180.6 L161.1,179.0 L161.1,177.4 L161.1,175.8 L161.2,174.2 L161.3,172.6 L161.4,171.1 L161.6,169.5 L161.8,167.9 L162.0,166.3 L162.2,164.7 L162.5,163.1 L162.7,161.6 L163.0,160.0 L163.4,158.4 L163.7,156.9 L164.1,155.3 L164.5,153.8 L164.9,152.2 L165.3,150.7 L165.8,149.2 L166.3,147.7 L166.8,146.1 L167.3,144.6 L167.9,143.1 L168.5,141.7 L169.1,140.2 L169.7,138.7 L170.4,137.3 L171.1,135.8 L171.8,134.4 L172.5,133.0 L173.2,131.5 L174.0,130.1 L174.7,128.7 L175.5,127.4 L176.3,126.0 L177.2,124.6 L178.0,123.3 L178.8,121.9 L179.7,120.6 L180.6,119.3 L181.5,118.0 L182.4,116.7 L183.3,115.4 L184.2,114.1 L185.1,112.8 L186.0,111.5 L187.0,110.2 L187.9,109.0 L188.9,107.7 L189.9,106.5 L190.8,105.2 L191.8,104.0 L192.8,102.7 L193.8,101.5 L194.8,100.3 L195.8,99.1 L196.8,97.9 L197.8,96.6 L198.8,95.4 L199.8,94.2 L200.8,93.0 L201.9,91.8 L202.9,90.6 L203.9,89.4 L204.9,88.2 L206.0,87.0 L207.0,85.8 L208.0,84.6 L209.1,83.5 L210.1,82.3 L211.1,81.1 L212.1,79.9 L213.2,78.7 L214.2,77.5 L215.2,76.3 L216.2,75.1 L217.3,73.9 L218.3,72.7 L219.3,71.5 L220.3,70.3 L221.3,69.1 L222.3,67.9 L223.3,66.7"/>
<path d="M161.2,188.7 L161.2,187.0 L161.2,185.4 L161.2,183.8 L161.2,182.2 L161.2,180.6 L161.1,179.0 L161.1,177.4 L161.1,175.8 L161.2,174.2 L161.3,172.6 L161.4,171.1 L161.6,169.5 L161.8,167.9 L162.0,166.3 L162.2,164.7 L162.4,163.1 L162.7,161.6 L163.0,160.0 L163.3,158.4 L163.7,156.9 L164.0,155.3 L164.4,153.8 L164.9,152.2 L165.3,150.7 L165.8,149.2 L166.2,147.7 L166.8,146.2 L167.3,144.7 L167.9,143.2 L168.4,141.7 L169.0,140.2 L169.7,138.7 L170.3,137.3 L171.0,135.8 L171.7,134.4 L172.4,133.0 L173.1,131.5 L173.9,130.1 L174.6,128.7 L175.4,127.4 L176.2,126.0 L177.1,124.6 L177.9,123.3 L178.7,121.9 L179.6,120.6 L180.4,119.3 L181.3,117.9 L182.2,116.6 L183.1,115.3 L184.0,114.0 L184.9,112.7 L185.9,111.5 L186.8,110.2 L187.8,108.9 L188.7,107.7 L189.7,106.4 L190.6,105.2 L191.6,103.9 L192.6,102.7 L193.6,101.5 L194.6,100.2 L195.6,99.0 L196.6,97.8 L197.6,96.6 L198.6,95.3 L199.6,94.1 L200.6,92.9 L201.6,91.7 L202.6,90.5 L203.6,89.3 L204.7,88.1 L205.7,86.9 L206.7,85.7 L207.8,84.5 L208.8,83.4 L209.8,82.2 L210.8,81.0 L211.9,79.8 L212.9,78.6 L213.9,77.4 L215.0,76.2 L216.0,75.0 L217.0,73.8 L218.0,72.6 L219.0,71.4 L220.0,70.2 L221.0,69.0 L222.0,67.8 L223.0,66.6"/>
<path d="M161.2,188.7 L161.2,187.0 L161.2,185.4 L161.2,183.8 L161.2,182.2 L161.2,180.6 L161.1,179.0 L161.1,177.4 L161.1,175.8 L161.2,174.2 L161.3,172.7 L161.4,171.1 L161.6,169.5 L161.7,167.9 L161.9,166.3 L162.2,164.7 L162.4,163.2 L162.7,161.6 L163.0,160.0 L163.3,158.5 L163.6,156.9 L164.0,155.3 L164.4,153.8 L164.8,152.3 L165.3,150.7 L165.7,149.2 L166.2,147.7 L166.7,146.2 L167.2,144.7 L167.8,143.2 L168.4,141.7 L169.0,140.2 L169.6,138.7 L170.2,137.3 L170.9,135.8 L171.6,134.4 L172.3,133.0 L173.0,131.5 L173.8,130.1 L174.6,128.7 L175.3,127.4 L176.1,126.0 L176.9,124.6 L177.8,123.3 L178.6,121.9 L179.5,120.6 L180.3,119.2 L181.2,117.9 L182.1,116.6 L183.0,115.3 L183.9,114.0 L184.8,112.7 L185.7,111.4 L186.6,110.2 L187.6,108.9 L188.5,107.6 L189.5,106.4 L190.4,105.1 L191.4,103.9 L192.4,102.6 L193.4,101.4 L194.3,100.2 L195.3,98.9 L196.3,97.7 L197.3,96.5 L198.3,95.3 L199.3,94.1 L200.3,92.8 L201.4,91.6 L202.4,90.4 L203.4,89.2 L204.4,88.0 L205.4,86.8 L206.5,85.6 L207.5,84.4 L208.5,83.3 L209.6,82.1 L210.6,80.9 L211.6,79.7 L212.6,78.5 L213.7,77.3 L214.7,76.1 L215.7,74.9 L216.7,73.7 L217.8,72.5 L218.8,71.3 L219.8,70.1 L220.8,69.0 L221.8,67.8 L222.8,66.6"/>
<path d="M161.2,188.7 L161.2,187.0 L161.2,185.4 L161.2,183.8 L161.2,182.2 L161.2,180.6 L161.0,179.0 L161.1,177.4 L161.1,175.8 L161.2,174.2 L161.3,172.7 L161.4,171.1 L161.6,169.5 L161.7,167.9 L161.9,166.3 L162.1,164.7 L162.4,163.2 L162.7,161.6 L163.0,160.0 L163.3,158.5 L163.6,156.9 L164.0,155.4 L164.4,153.8 L164.8,152.3 L165.2,150.7 L165.7,149.2 L166.2,147.7 L166.7,146.2 L167.2,144.7 L167.7,143.2 L168.3,141.7 L168.9,140.2 L169.5,138.7 L170.2,137.3 L170.8,135.8 L171.5,134.4 L172.2,133.0 L173.0,131.6 L173.7,130.1 L174.5,128.8 L175.2,127.4 L176.0,126.0 L176.8,124.6 L177.6,123.3 L178.5,121.9 L179.3,120.6 L180.2,119.2 L181.0,117.9 L181.9,116.6 L182.8,115.3 L183.7,114.0 L184.6,112.7 L185.5,111.4 L186.5,110.1 L187.4,108.8 L188.3,107.6 L189.3,106.3 L190.2,105.1 L191.2,103.8 L192.2,102.6 L193.1,101.3 L194.1,100.1 L195.1,98.9 L196.1,97.6 L197.1,96.4 L198.1,95.2 L199.1,94.0 L200.1,92.8 L201.1,91.6 L202.1,90.3 L203.1,89.1 L204.2,87.9 L205.2,86.7 L206.2,85.5 L207.2,84.3 L208.3,83.1 L209.3,82.0 L210.3,80.8 L211.3,79.6 L212.4,78.4 L213.4,77.2 L214.4,76.0 L215.5,74.8 L216.5,73.6 L217.5,72.4 L218.5,71.2 L219.5,70.1 L220.5,68.9 L221.5,67.7 L222.5,66.5"/>
<path d="M161.2,188.7 L161.2,187.0 L161.2,185.4 L161.2,183.8 L161.2,182.2 L161.2,180.6 L161.0,179.0 L161.1,177.4 L161.1,175.8 L161.2,174.2 L161.3,172.7 L161.4,171.1 L161.5,169.5 L161.7,167.9 L161.9,166.3 L162.1,164.7 L162.4,163.2 L162.6,161.6 L162.9,160.0 L163.2,158.5 L163.6,156.9 L164.0,155.4 L164.3,153.8 L164.7,152.3 L165.2,150.8 L165.6,149.2 L166.1,147.7 L166.6,146.2 L167.1,144.7 L167.7,143.2 L168.3,141.7 L168.9,140.2 L169.5,138.8 L170.1,137.3 L170.8,135.8 L171.4,134.4 L172.1,133.0 L172.9,131.6 L173.6,130.2 L174.4,128.8 L175.1,127.4 L175.9,126.0 L176.7,124.6 L177.5,123.3 L178.4,121.9 L179.2,120.6 L180.0,119.2 L180.9,117.9 L181.8,116.6 L182.7,115.3 L183.6,114.0 L184.5,112.7 L185.4,111.4 L186.3,110.1 L187.2,108.8 L188.1,107.5 L189.1,106.3 L190.0,105.0 L191.0,103.8 L192.0,102.5 L192.9,101.3 L193.9,100.0 L194.9,98.8 L195.9,97.6 L196.9,96.3 L197.9,95.1 L198.9,93.9 L199.9,92.7 L200.9,91.5 L201.9,90.3 L202.9,89.0 L203.9,87.8 L204.9,86.6 L205.9,85.4 L207.0,84.2 L208.0,83.0 L209.0,81.9 L210.0,80.7 L211.1,79.5 L212.1,78.3 L213.1,77.1 L214.2,75.9 L215.2,74.7 L216.2,73.5 L217.2,72.3 L218.3,71.2 L219.3,70.0 L220.3,68.8 L221.3,67.6 L222.3,66.4"/>
<path d="M161.2,188.7 L161.2,187.0 L161.2,185.4 L161.2,183.8 L161.2,182.2 L161.2,180.6 L161.0,179.0 L161.1,177.4 L161.1,175.8 L161.2,174.2 L161.3,172.7 L161.4,171.1 L161.5,169.5 L161.7,167.9 L161.9,166.3 L162.1,164.8 L162.4,163.2 L162.6,161.6 L162.9,160.0 L163.2,158.5 L163.6,156.9 L163.9,155.4 L164.3,153.8 L164.7,152.3 L165.1,150.8 L165.6,149.2 L166.1,147.7 L166.6,146.2 L167.1,144.7 L167.6,143.2 L168.2,141.7 L168.8,140.2 L169.4,138.8 L170.0,137.3 L170.7,135.9 L171.4,134.4 L172.1,133.0 L172.8,131.6 L173.5,130.2 L174.3,128.8 L175.0,127.4 L175.8,126.0 L176.6,124.6 L177.4,123.2 L178.2,121.9 L179.1,120.5 L179.9,119.2 L180.8,117.9 L181.6,116.5 L182.5,115.2 L183.4,113.9 L184.3,112.6 L185.2,111.3 L186.1,110.0 L187.0,108.8 L188.0,107.5 L188.9,106.2 L189.8,105.0 L190.8,103.7 L191.7,102.4 L192.7,101.2 L193.7,100.0 L194.7,98.7 L195.6,97.5 L196.6,96.3 L197.6,95.0 L198.6,93.8 L199.6,92.6 L200.6,91.4 L201.6,90.2 L202.6,89.0 L203.6,87.7 L204.7,86.5 L205.7,85.3 L206.7,84.1 L207.7,82.9 L208.8,81.8 L209.8,80.6 L210.8,79.4 L211.8,78.2 L212.9,77.0 L213.9,75.8 L214.9,74.6 L216.0,73.4 L217.0,72.2 L218.0,71.1 L219.0,69.9 L220.0,68.7 L221.1,67.5 L222.1,66.3"/>
<path d="M161.2,188.7 L161.2,187.0 L161.2,185.4 L161.2,183.8 L161.2,182.2 L161.2,180.6 L161.0,179.0 L161.0,177.4 L161.1,175.8 L161.2,174.3 L161.3,172.7 L161.4,171.1 L161.5,169.5 L161.7,167.9 L161.9,166.3 L162.1,164.8 L162.3,163.2 L162.6,161.6 L162.9,160.1 L163.2,158.5 L163.5,156.9 L163.9,155.4 L164.3,153.8 L164.7,152.3 L165.1,150.8 L165.6,149.2 L166.0,147.7 L166.5,146.2 L167.0,144.7 L167.6,143.2 L168.2,141.7 L168.7,140.3 L169.3,138.8 L170.0,137.3 L170.6,135.9 L171.3,134.4 L172.0,133.0 L172.7,131.6 L173.4,130.2 L174.2,128.8 L174.9,127.4 L175.7,126.0 L176.5,124.6 L177.3,123.2 L178.1,121.9 L178.9,120.5 L179.8,119.2 L180.6,117.9 L181.5,116.5 L182.4,115.2 L183.2,113.9 L184.1,112.6 L185.0,111.3 L185.9,110.0 L186.8,108.7 L187.8,107.4 L188.7,106.2 L189.6,104.9 L190.6,103.6 L191.5,102.4 L192.5,101.1 L193.5,99.9 L194.4,98.6 L195.4,97.4 L196.4,96.2 L197.4,94.9 L198.4,93.7 L199.4,92.5 L200.4,91.3 L201.4,90.1 L202.4,88.9 L203.4,87.6 L204.4,86.4 L205.4,85.2 L206.4,84.0 L207.5,82.8 L208.5,81.6 L209.5,80.5 L210.5,79.3 L211.6,78.1 L212.6,76.9 L213.6,75.7 L214.7,74.5 L215.7,73.3 L216.7,72.1 L217.7,71.0 L218.8,69.8 L219.8,68.6 L220.8,67.4 L221.8,66.2"/>
<path d="M161.2,188.7 L161.2,187.0 L161.2,185.4 L161.2,183.8 L161.2,182.2 L161.2,180.6 L161.0,179.0 L161.0,177.4 L161.1,175.8 L161.2,174.3 L161.2,172.7 L161.4,171.1 L161.5,169.5 L161.7,167.9 L161.9,166.3 L162.1,164.8 L162.3,163.2 L162.6,161.6 L162.9,160.1 L163.2,158.5 L163.5,157.0 L163.9,155.4 L164.2,153.9 L164.6,152.3 L165.1,150.8 L165.5,149.3 L166.0,147.7 L166.5,146.2 L167.0,144.7 L167.5,143.2 L168.1,141.7 L168.7,140.3 L169.3,138.8 L169.9,137.3 L170.6,135.9 L171.2,134.4 L171.9,133.0 L172.6,131.6 L173.3,130.2 L174.1,128.8 L174.8,127.4 L175.6,126.0 L176.4,124.6 L177.2,123.2 L178.0,121.9 L178.8,120.5 L179.6,119.2 L180.5,117.8 L181.3,116.5 L182.2,115.2 L183.1,113.9 L184.0,112.6 L184.9,111.3 L185.8,110.0 L186.7,108.7 L187.6,107.4 L188.5,106.1 L189.4,104.8 L190.4,103.6 L191.3,102.3 L192.3,101.1 L193.2,99.8 L194.2,98.6 L195.2,97.3 L196.2,96.1 L197.1,94.9 L198.1,93.6 L199.1,92.4 L200.1,91.2 L201.1,90.0 L202.1,88.8 L203.1,87.6 L204.1,86.3 L205.2,85.1 L206.2,83.9 L207.2,82.7 L208.2,81.5 L209.3,80.4 L210.3,79.2 L211.3,78.0 L212.3,76.8 L213.4,75.6 L214.4,74.4 L215.4,73.2 L216.5,72.1 L217.5,70.9 L218.5,69.7 L219.5,68.5 L220.6,67.3 L221.6,66.2"/>
<path d="M161.2,188.7 L161.2,186.9 L161.2,185.4 L161.2,183.8 L161.2,182.2 L161.2,180.6 L161.0,179.0 L161.0,177.4 L161.1,175.8 L161.1,174.3 L161.2,172.7 L161.4,171.1 L161.5,169.5 L161.7,167.9 L161.8,166.4 L162.1,164.8 L162.3,163.2 L162.6,161.6 L162.8,160.1 L163.1,158.5 L163.5,157.0 L163.8,155.4 L164.2,153.9 L164.6,152.3 L165.0,150.8 L165.5,149.3 L165.9,147.8 L166.4,146.2 L166.9,144.7 L167.5,143.2 L168.0,141.8 L168.6,140.3 L169.2,138.8 L169.8,137.3 L170.5,135.9 L171.1,134.4 L171.8,133.0 L172.5,131.6 L173.2,130.2 L174.0,128.8 L174.7,127.4 L175.5,126.0 L176.3,124.6 L177.1,123.2 L177.9,121.9 L178.7,120.5 L179.5,119.2 L180.3,117.8 L181.2,116.5 L182.0,115.2 L182.9,113.8 L183.8,112.5 L184.7,111.2 L185.6,109.9 L186.5,108.6 L187.4,107.3 L188.3,106.1 L189.2,104.8 L190.2,103.5 L191.1,102.3 L192.1,101.0 L193.0,99.8 L194.0,98.5 L195.0,97.3 L195.9,96.0 L196.9,94.8 L197.9,93.6 L198.9,92.3 L199.9,91.1 L200.9,89.9 L201.9,88.7 L202.9,87.5 L203.9,86.2 L204.9,85.0 L205.9,83.8 L206.9,82.6 L208.0,81.4 L209.0,80.2 L210.0,79.1 L211.0,77.9 L212.1,76.7 L213.1,75.5 L214.1,74.3 L215.2,73.1 L216.2,72.0 L217.2,70.8 L218.3,69.6 L219.3,68.4 L220.3,67.3 L221.4,66.1"/>
<path d="M161.2,188.7 L161.2,186.9 L161.2,185.4 L161.2,183.8 L161.2,182.2 L161.2,180.6 L161.0,179.0 L161.0,177.4 L161.1,175.8 L161.1,174.3 L161.2,172.7 L161.3,171.1 L161.5,169.5 L161.6,167.9 L161.8,166.4 L162.0,164.8 L162.3,163.2 L162.5,161.6 L162.8,160.1 L163.1,158.5 L163.5,157.0 L163.8,155.4 L164.2,153.9 L164.6,152.3 L165.0,150.8 L165.4,149.3 L165.9,147.8 L166.4,146.3 L166.9,144.8 L167.4,143.3 L168.0,141.8 L168.6,140.3 L169.2,138.8 L169.8,137.4 L170.4,135.9 L171.1,134.5 L171.7,133.0 L172.4,131.6 L173.1,130.2 L173.9,128.8 L174.6,127.4 L175.4,126.0 L176.1,124.6 L176.9,123.2 L177.7,121.9 L178.5,120.5 L179.4,119.1 L180.2,117.8 L181.0,116.5 L181.9,115.1 L182.8,113.8 L183.6,112.5 L184.5,111.2 L185.4,109.9 L186.3,108.6 L187.2,107.3 L188.1,106.0 L189.0,104.7 L190.0,103.5 L190.9,102.2 L191.9,100.9 L192.8,99.7 L193.8,98.4 L194.7,97.2 L195.7,95.9 L196.7,94.7 L197.6,93.5 L198.6,92.2 L199.6,91.0 L200.6,89.8 L201.6,88.6 L202.6,87.4 L203.6,86.2 L204.6,84.9 L205.7,83.7 L206.7,82.5 L207.7,81.3 L208.7,80.1 L209.7,79.0 L210.8,77.8 L211.8,76.6 L212.8,75.4 L213.9,74.2 L214.9,73.0 L215.9,71.9 L217.0,70.7 L218.0,69.5 L219.1,68.3 L220.1,67.2 L221.1,66.0"/>
<path d="M161.1,188.7 L161.1,186.9 L161.1,185.4 L161.1,183.8 L161.1,182.2 L161.1,180.6 L161.0,179.0 L161.0,177.4 L161.1,175.8 L161.1,174.3 L161.2,172.7 L161.3,171.1 L161.5,169.5 L161.6,167.9 L161.8,166.4 L162.0,164.8 L162.3,163.2 L162.5,161.7 L162.8,160.1 L163.1,158.5 L163.4,157.0 L163.8,155.4 L164.1,153.9 L164.5,152.4 L165.0,150.8 L165.4,149.3 L165.9,147.8 L166.3,146.3 L166.8,144.8 L167.4,143.3 L167.9,141.8 L168.5,140.3 L169.1,138.8 L169.7,137.4 L170.3,135.9 L171.0,134.5 L171.7,133.0 L172.3,131.6 L173.1,130.2 L173.8,128.8 L174.5,127.4 L175.3,126.0 L176.0,124.6 L176.8,123.2 L177.6,121.8 L178.4,120.5 L179.2,119.1 L180.1,117.8 L180.9,116.4 L181.7,115.1 L182.6,113.8 L183.5,112.5 L184.3,111.2 L185.2,109.8 L186.1,108.5 L187.0,107.3 L187.9,106.0 L188.8,104.7 L189.8,103.4 L190.7,102.1 L191.6,100.9 L192.6,99.6 L193.5,98.4 L194.5,97.1 L195.5,95.9 L196.4,94.6 L197.4,93.4 L198.4,92.2 L199.4,90.9 L200.4,89.7 L201.4,88.5 L202.4,87.3 L203.4,86.1 L204.4,84.8 L205.4,83.6 L206.4,82.4 L207.4,81.2 L208.5,80.0 L209.5,78.9 L210.5,77.7 L211.5,76.5 L212.6,75.3 L213.6,74.1 L214.7,72.9 L215.7,71.8 L216.7,70.6 L217.8,69.4 L218.8,68.3 L219.8,67.1 L220.9,65.9"/>
<path d="M161.1,188.7 L161.1,186.9 L161.1,185.4 L161.1,183.8 L161.1,182.2 L161.1,180.6 L161.0,179.0 L161.0,177.4 L161.0,175.8 L161.1,174.3 L161.2,172.7 L161.3,171.1 L161.5,169.5 L161.6,167.9 L161.8,166.4 L162.0,164.8 L162.2,163.2 L162.5,161.7 L162.8,160.1 L163.1,158.5 L163.4,157.0 L163.7,155.4 L164.1,153.9 L164.5,152.4 L164.9,150.8 L165.4,149.3 L165.8,147.8 L166.3,146.3 L166.8,144.8 L167.3,143.3 L167.9,141.8 L168.4,140.3 L169.0,138.8 L169.6,137.4 L170.3,135.9 L170.9,134.5 L171.6,133.0 L172.3,131.6 L173.0,130.2 L173.7,128.8 L174.4,127.4 L175.2,126.0 L175.9,124.6 L176.7,123.2 L177.5,121.8 L178.3,120.5 L179.1,119.1 L179.9,117.8 L180.7,116.4 L181.6,115.1 L182.4,113.8 L183.3,112.4 L184.2,111.1 L185.1,109.8 L185.9,108.5 L186.8,107.2 L187.7,105.9 L188.7,104.6 L189.6,103.4 L190.5,102.1 L191.4,100.8 L192.4,99.5 L193.3,98.3 L194.3,97.0 L195.2,95.8 L196.2,94.5 L197.2,93.3 L198.1,92.1 L199.1,90.8 L200.1,89.6 L201.1,88.4 L202.1,87.2 L203.1,86.0 L204.1,84.7 L205.1,83.5 L206.1,82.3 L207.2,81.1 L208.2,79.9 L209.2,78.7 L210.2,77.6 L211.3,76.4 L212.3,75.2 L213.4,74.0 L214.4,72.8 L215.4,71.7 L216.5,70.5 L217.5,69.3 L218.6,68.2 L219.6,67.0 L220.7,65.8"/>
<path d="M161.5,188.7 L161.5,187.1 L161.5,185.5 L161.5,183.9 L161.5,182.3 L161.5,180.6 L161.2,179.0 L161.3,177.4 L161.3,175.8 L161.4,174.2 L161.6,172.6 L161.7,171.0 L161.9,169.3 L162.1,167.7 L162.3,166.1 L162.6,164.5 L162.9,162.9 L163.2,161.4 L163.5,159.8 L163.9,158.2 L164.3,156.6 L164.7,155.1 L165.2,153.5 L165.6,152.0 L166.2,150.4 L166.7,148.9 L167.2,147.4 L167.8,145.9 L168.4,144.4 L169.1,142.9 L169.7,141.4 L170.4,139.9 L171.1,138.5 L171.9,137.0 L172.7,135.6 L173.5,134.2 L174.3,132.8 L175.1,131.4 L176.0,130.0 L176.9,128.7 L177.8,127.4 L178.7,126.0 L179.6,124.7 L180.6,123.4 L181.6,122.1 L182.6,120.9 L183.6,119.6 L184.6,118.4 L185.6,117.1 L186.6,115.9 L187.7,114.7 L188.7,113.5 L189.8,112.3 L190.9,111.1 L191.9,109.9 L193.0,108.7 L194.1,107.6 L195.2,106.4 L196.3,105.2 L197.4,104.1 L198.5,102.9 L199.6,101.8 L200.7,100.6 L201.8,99.5 L202.9,98.3 L204.0,97.2 L205.1,96.1 L206.2,94.9 L207.3,93.8 L208.4,92.6 L209.5,91.5 L210.6,90.3 L211.7,89.2 L212.7,88.0 L213.8,86.9 L214.9,85.7 L215.9,84.5 L217.0,83.3 L218.0,82.1 L219.0,81.0 L220.0,79.7 L221.0,78.5 L222.0,77.3 L223.0,76.1 L223.9,74.8 L224.9,73.6 L225.8,72.3 L226.7,71.1 L227.6,69.8 L228.5,68.5"/>
<path d="M161.5,188.7 L161.5,187.1 L161.5,185.5 L161.5,183.9 L161.5,182.3 L161.5,180.6 L161.2,179.0 L161.3,177.4 L161.3,175.8 L161.4,174.2 L161.6,172.6 L161.7,171.0 L161.9,169.4 L162.1,167.7 L162.3,166.1 L162.6,164.5 L162.9,163.0 L163.2,161.4 L163.5,159.8 L163.9,158.2 L164.3,156.6 L164.7,155.1 L165.1,153.5 L165.6,152.0 L166.1,150.4 L166.6,148.9 L167.2,147.4 L167.8,145.9 L168.4,144.4 L169.0,142.9 L169.7,141.4 L170.4,139.9 L171.1,138.5 L171.8,137.0 L172.6,135.6 L173.4,134.2 L174.2,132.8 L175.0,131.4 L175.9,130.1 L176.8,128.7 L177.7,127.4 L178.6,126.0 L179.5,124.7 L180.5,123.4 L181.4,122.1 L182.4,120.9 L183.4,119.6 L184.4,118.3 L185.4,117.1 L186.5,115.9 L187.5,114.7 L188.6,113.4 L189.6,112.2 L190.7,111.0 L191.7,109.9 L192.8,108.7 L193.9,107.5 L195.0,106.3 L196.1,105.2 L197.2,104.0 L198.3,102.9 L199.4,101.7 L200.5,100.6 L201.6,99.4 L202.7,98.3 L203.8,97.1 L204.9,96.0 L206.0,94.8 L207.0,93.7 L208.1,92.5 L209.2,91.4 L210.3,90.2 L211.4,89.1 L212.5,87.9 L213.5,86.8 L214.6,85.6 L215.6,84.4 L216.7,83.2 L217.7,82.0 L218.7,80.8 L219.7,79.6 L220.7,78.4 L221.7,77.2 L222.7,76.0 L223.7,74.7 L224.6,73.5 L225.5,72.2 L226.5,71.0 L227.3,69.7 L228.2,68.4"/>
<path d="M161.5,188.7 L161.5,187.1 L161.5,185.5 L161.5,183.9 L161.5,182.3 L161.5,180.6 L161.2,179.0 L161.2,177.4 L161.3,175.8 L161.4,174.2 L161.5,172.6 L161.7,171.0 L161.9,169.4 L162.1,167.8 L162.3,166.2 L162.6,164.6 L162.8,163.0 L163.2,161.4 L163.5,159.8 L163.9,158.2 L164.2,156.7 L164.7,155.1 L165.1,153.5 L165.6,152.0 L166.1,150.4 L166.6,148.9 L167.1,147.4 L167.7,145.9 L168.3,144.4 L169.0,142.9 L169.6,141.4 L170.3,139.9 L171.0,138.5 L171.7,137.0 L172.5,135.6 L173.3,134.2 L174.1,132.8 L174.9,131.4 L175.8,130.1 L176.7,128.7 L177.6,127.4 L178.5,126.0 L179.4,124.7 L180.4,123.4 L181.3,122.1 L182.3,120.8 L183.3,119.6 L184.3,118.3 L185.3,117.1 L186.3,115.9 L187.3,114.6 L188.4,113.4 L189.4,112.2 L190.5,111.0 L191.6,109.8 L192.6,108.6 L193.7,107.5 L194.8,106.3 L195.9,105.1 L196.9,104.0 L198.0,102.8 L199.1,101.6 L200.2,100.5 L201.3,99.3 L202.4,98.2 L203.5,97.0 L204.6,95.9 L205.7,94.7 L206.8,93.6 L207.9,92.4 L209.0,91.3 L210.0,90.1 L211.1,89.0 L212.2,87.8 L213.2,86.6 L214.3,85.5 L215.4,84.3 L216.4,83.1 L217.4,81.9 L218.4,80.7 L219.5,79.5 L220.5,78.3 L221.5,77.1 L222.4,75.9 L223.4,74.6 L224.3,73.4 L225.3,72.1 L226.2,70.9 L227.1,69.6 L228.0,68.3"/>
<path d="M161.1,188.7 L161.1,186.9 L161.1,185.4 L161.1,183.8 L161.1,182.2 L161.1,180.6 L161.0,179.0 L161.0,177.4 L161.1,175.8 L161.1,174.3 L161.2,172.7 L161.3,171.1 L161.5,169.5 L161.6,167.9 L161.8,166.4 L162.0,164.8 L162.3,163.2 L162.5,161.7 L162.8,160.1 L163.1,158.5 L163.4,157.0 L163.8,155.4 L164.1,153.9 L164.5,152.4 L165.0,150.8 L165.4,149.3 L165.9,147.8 L166.3,146.3 L166.9,144.8 L167.4,143.3 L167.9,141.8 L168.5,140.3 L169.1,138.8 L169.7,137.4 L170.3,135.9 L171.0,134.5 L171.7,133.0 L172.4,131.6 L173.1,130.2 L173.8,128.8 L174.5,127.4 L175.3,126.0 L176.0,124.6 L176.8,123.2 L177.6,121.8 L178.4,120.5 L179.2,119.1 L180.1,117.8 L180.9,116.4 L181.8,115.1 L182.6,113.8 L183.5,112.5 L184.4,111.2 L185.2,109.8 L186.1,108.6 L187.0,107.3 L187.9,106.0 L188.9,104.7 L189.8,103.4 L190.7,102.1 L191.7,100.9 L192.6,99.6 L193.6,98.4 L194.5,97.1 L195.5,95.9 L196.4,94.6 L197.4,93.4 L198.4,92.2 L199.4,90.9 L200.4,89.7 L201.4,88.5 L202.4,87.3 L203.4,86.1 L204.4,84.9 L205.4,83.6 L206.4,82.4 L207.4,81.2 L208.5,80.1 L209.5,78.9 L210.5,77.7 L211.6,76.5 L212.6,75.3 L213.6,74.1 L214.7,72.9 L215.7,71.8 L216.7,70.6 L217.8,69.4 L218.8,68.3 L219.9,67.1 L220.9,65.9"/>
<path d="M161.1,188.7 L161.1,186.9 L161.1,185.3 L161.1,183.8 L161.1,182.2 L161.1,180.6 L161.0,179.0 L161.0,177.4 L161.0,175.9 L161.1,174.3 L161.1,172.7 L161.3,171.1 L161.4,169.5 L161.5,168.0 L161.7,166.4 L161.9,164.8 L162.1,163.3 L162.4,161.7 L162.7,160.2 L163.0,158.6 L163.3,157.1 L163.6,155.5 L164.0,154.0 L164.3,152.4 L164.7,150.9 L165.2,149.4 L165.6,147.9 L166.1,146.3 L166.6,144.8 L167.1,143.3 L167.6,141.9 L168.1,140.4 L168.7,138.9 L169.3,137.4 L169.9,136.0 L170.5,134.5 L171.2,133.1 L171.8,131.6 L172.5,130.2 L173.2,128.8 L173.9,127.4 L174.6,126.0 L175.4,124.6 L176.1,123.2 L176.9,121.8 L177.7,120.4 L178.4,119.0 L179.2,117.7 L180.0,116.3 L180.9,115.0 L181.7,113.6 L182.5,112.3 L183.4,110.9 L184.2,109.6 L185.1,108.3 L185.9,107.0 L186.8,105.7 L187.7,104.4 L188.6,103.1 L189.5,101.8 L190.4,100.5 L191.3,99.2 L192.2,97.9 L193.2,96.7 L194.1,95.4 L195.1,94.2 L196.0,92.9 L197.0,91.7 L197.9,90.4 L198.9,89.2 L199.9,87.9 L200.9,86.7 L201.9,85.5 L202.9,84.3 L203.9,83.1 L204.9,81.8 L205.9,80.6 L206.9,79.4 L207.9,78.3 L209.0,77.1 L210.0,75.9 L211.0,74.7 L212.1,73.5 L213.1,72.4 L214.2,71.2 L215.3,70.0 L216.3,68.9 L217.4,67.7 L218.4,66.6 L219.5,65.5"/>
<path d="M161.0,188.7 L161.0,186.9 L161.0,185.3 L161.0,183.7 L161.0,182.2 L161.0,180.6 L160.9,179.0 L160.9,177.4 L160.9,175.9 L161.0,174.3 L161.1,172.7 L161.2,171.2 L161.3,169.6 L161.4,168.0 L161.6,166.5 L161.8,164.9 L162.0,163.3 L162.2,161.8 L162.5,160.2 L162.8,158.7 L163.1,157.1 L163.4,155.6 L163.7,154.1 L164.1,152.5 L164.5,151.0 L164.9,149.5 L165.3,148.0 L165.7,146.4 L166.2,144.9 L166.7,143.4 L167.2,141.9 L167.7,140.5 L168.2,139.0 L168.8,137.5 L169.4,136.0 L170.0,134.6 L170.6,133.1 L171.2,131.7 L171.8,130.2 L172.5,128.8 L173.2,127.4 L173.8,125.9 L174.5,124.5 L175.2,123.1 L176.0,121.7 L176.7,120.3 L177.4,118.9 L178.2,117.5 L178.9,116.2 L179.7,114.8 L180.5,113.4 L181.3,112.0 L182.1,110.7 L182.9,109.3 L183.7,108.0 L184.5,106.6 L185.4,105.3 L186.2,104.0 L187.1,102.7 L187.9,101.3 L188.8,100.0 L189.7,98.7 L190.6,97.4 L191.5,96.1 L192.4,94.8 L193.3,93.6 L194.2,92.3 L195.2,91.0 L196.1,89.7 L197.0,88.5 L198.0,87.2 L199.0,86.0 L199.9,84.8 L200.9,83.5 L201.9,82.3 L202.9,81.1 L203.9,79.9 L204.9,78.7 L206.0,77.5 L207.0,76.3 L208.0,75.1 L209.1,74.0 L210.1,72.8 L211.2,71.6 L212.3,70.5 L213.4,69.3 L214.4,68.2 L215.5,67.1 L216.6,66.0 L217.7,64.9"/>
<path d="M160.9,188.7 L160.9,186.8 L160.9,185.3 L160.9,183.7 L160.9,182.1 L160.9,180.6 L160.9,179.0 L160.9,177.4 L160.9,175.9 L160.9,174.3 L161.0,172.8 L161.1,171.2 L161.2,169.6 L161.3,168.1 L161.5,166.5 L161.6,165.0 L161.8,163.4 L162.1,161.9 L162.3,160.3 L162.6,158.8 L162.8,157.2 L163.1,155.7 L163.5,154.2 L163.8,152.6 L164.2,151.1 L164.5,149.6 L164.9,148.1 L165.4,146.5 L165.8,145.0 L166.3,143.5 L166.7,142.0 L167.2,140.5 L167.7,139.1 L168.2,137.6 L168.8,136.1 L169.3,134.6 L169.9,133.2 L170.5,131.7 L171.1,130.3 L171.7,128.8 L172.3,127.4 L173.0,125.9 L173.6,124.5 L174.3,123.1 L175.0,121.6 L175.7,120.2 L176.4,118.8 L177.1,117.4 L177.8,116.0 L178.5,114.6 L179.2,113.2 L180.0,111.8 L180.7,110.4 L181.5,109.0 L182.3,107.6 L183.0,106.3 L183.8,104.9 L184.6,103.6 L185.4,102.2 L186.3,100.9 L187.1,99.5 L187.9,98.2 L188.8,96.9 L189.7,95.5 L190.5,94.2 L191.4,92.9 L192.3,91.6 L193.2,90.3 L194.1,89.0 L195.0,87.8 L196.0,86.5 L196.9,85.2 L197.9,84.0 L198.8,82.7 L199.8,81.5 L200.8,80.3 L201.8,79.1 L202.8,77.9 L203.8,76.7 L204.9,75.5 L205.9,74.3 L207.0,73.1 L208.0,72.0 L209.1,70.8 L210.2,69.7 L211.3,68.6 L212.4,67.5 L213.6,66.4 L214.7,65.3 L215.9,64.2 L217.4,62.2 L218.5,60.8"/>
</g>
<g transform="translate(0.0,0)" fill="none" stroke="#fc8d62" stroke-width="3.6" stroke-opacity="0.5" stroke-linecap="round" stroke-linejoin="round">
<path d="M161.5,354.5 L161.5,352.9 L161.5,351.3 L161.5,349.6 L161.5,348.0 L161.5,346.4 L161.1,344.8 L161.2,343.2 L161.4,341.5 L161.6,339.9 L161.8,338.3 L162.0,336.7 L162.3,335.2 L162.7,333.6 L163.0,332.0 L163.4,330.5 L163.8,328.9 L164.3,327.4 L164.8,325.8 L165.3,324.3 L165.8,322.8 L166.4,321.3 L167.0,319.8 L167.6,318.3 L168.2,316.9 L168.8,315.4 L169.5,314.0 L170.2,312.5 L170.9,311.1 L171.6,309.7 L172.3,308.2 L173.0,306.8 L173.8,305.4 L174.5,304.0 L175.3,302.7 L176.1,301.3 L176.9,299.9 L177.7,298.5 L178.5,297.2 L179.3,295.8 L180.1,294.5 L181.0,293.1 L181.8,291.8 L182.7,290.4 L183.5,289.1 L184.4,287.8 L185.3,286.5 L186.2,285.2 L187.0,283.9 L187.9,282.6 L188.8,281.3 L189.8,280.0 L190.7,278.7 L191.6,277.4 L192.5,276.1 L193.4,274.8 L194.4,273.6 L195.3,272.3 L196.3,271.0 L197.2,269.8 L198.2,268.5 L199.1,267.3 L200.1,266.0 L201.0,264.8 L202.0,263.5 L203.0,262.3 L203.9,261.0 L204.9,259.8 L205.9,258.5 L206.8,257.3 L207.8,256.1 L208.8,254.8 L209.8,253.6 L210.7,252.4 L211.7,251.1 L212.7,249.9 L213.7,248.7 L214.6,247.4 L215.6,246.2 L216.6,245.0 L217.5,243.7 L218.5,242.5 L219.5,241.3 L220.4,240.0 L221.4,238.8 L222.4,237.5 L223.3,236.3 L224.3,235.1 L225.2,233.8 L226.2,232.6"/>
<path d="M161.5,354.5 L161.5,352.9 L161.5,351.2 L161.5,349.6 L161.5,348.0 L161.5,346.4 L161.1,344.8 L161.2,343.2 L161.4,341.5 L161.6,339.9 L161.8,338.3 L162.0,336.7 L162.3,335.2 L162.6,333.6 L163.0,332.0 L163.4,330.5 L163.8,328.9 L164.3,327.4 L164.7,325.8 L165.3,324.3 L165.8,322.8 L166.3,321.3 L166.9,319.8 L167.5,318.3 L168.1,316.9 L168.8,315.4 L169.4,313.9 L170.1,312.5 L170.8,311.1 L171.5,309.6 L172.2,308.2 L172.9,306.8 L173.7,305.4 L174.4,304.0 L175.2,302.6 L176.0,301.2 L176.8,299.9 L177.5,298.5 L178.4,297.1 L179.2,295.8 L180.0,294.4 L180.8,293.0 L181.7,291.7 L182.5,290.4 L183.4,289.0 L184.2,287.7 L185.1,286.4 L186.0,285.1 L186.9,283.8 L187.8,282.5 L188.7,281.2 L189.6,279.9 L190.5,278.6 L191.4,277.3 L192.3,276.0 L193.3,274.7 L194.2,273.5 L195.1,272.2 L196.1,270.9 L197.0,269.7 L198.0,268.4 L198.9,267.1 L199.9,265.9 L200.8,264.6 L201.8,263.4 L202.8,262.1 L203.7,260.9 L204.7,259.7 L205.7,258.4 L206.6,257.2 L207.6,255.9 L208.6,254.7 L209.6,253.5 L210.5,252.2 L211.5,251.0 L212.5,249.8 L213.5,248.6 L214.5,247.3 L215.4,246.1 L216.4,244.9 L217.4,243.6 L218.4,242.4 L219.3,241.2 L220.3,239.9 L221.3,238.7 L222.2,237.5 L223.2,236.2 L224.2,235.0 L225.1,233.8 L226.1,232.5"/>
<path d="M161.5,354.5 L161.5,352.8 L161.5,351.2 L161.5,349.6 L161.5,348.0 L161.5,346.4 L161.1,344.8 L161.2,343.1 L161.4,341.5 L161.5,339.9 L161.8,338.3 L162.0,336.7 L162.3,335.2 L162.6,333.6 L163.0,332.0 L163.4,330.5 L163.8,328.9 L164.2,327.4 L164.7,325.8 L165.2,324.3 L165.7,322.8 L166.3,321.3 L166.9,319.8 L167.5,318.3 L168.1,316.8 L168.7,315.4 L169.4,313.9 L170.0,312.5 L170.7,311.0 L171.4,309.6 L172.1,308.2 L172.8,306.8 L173.6,305.4 L174.3,304.0 L175.1,302.6 L175.9,301.2 L176.6,299.8 L177.4,298.4 L178.2,297.1 L179.0,295.7 L179.9,294.3 L180.7,293.0 L181.5,291.6 L182.4,290.3 L183.2,289.0 L184.1,287.6 L184.9,286.3 L185.8,285.0 L186.7,283.7 L187.6,282.4 L188.5,281.1 L189.4,279.8 L190.3,278.5 L191.2,277.2 L192.1,275.9 L193.1,274.6 L194.0,273.3 L194.9,272.1 L195.9,270.8 L196.8,269.5 L197.8,268.3 L198.7,267.0 L199.7,265.8 L200.6,264.5 L201.6,263.3 L202.6,262.0 L203.5,260.8 L204.5,259.5 L205.5,258.3 L206.4,257.1 L207.4,255.8 L208.4,254.6 L209.4,253.4 L210.4,252.1 L211.3,250.9 L212.3,249.7 L213.3,248.4 L214.3,247.2 L215.3,246.0 L216.3,244.8 L217.2,243.5 L218.2,242.3 L219.2,241.1 L220.2,239.9 L221.2,238.6 L222.1,237.4 L223.1,236.2 L224.1,234.9 L225.1,233.7 L226.0,232.5"/>
<path d="M161.4,354.5 L161.4,352.8 L161.4,351.2 L161.4,349.6 L161.4,348.0 L161.4,346.4 L161.1,344.8 L161.2,343.1 L161.4,341.5 L161.5,339.9 L161.7,338.3 L162.0,336.7 L162.3,335.2 L162.6,333.6 L163.0,332.0 L163.3,330.4 L163.8,328.9 L164.2,327.4 L164.7,325.8 L165.2,324.3 L165.7,322.8 L166.2,321.3 L166.8,319.8 L167.4,318.3 L168.0,316.8 L168.6,315.4 L169.3,313.9 L170.0,312.5 L170.6,311.0 L171.3,309.6 L172.0,308.2 L172.8,306.7 L173.5,305.3 L174.2,303.9 L175.0,302.5 L175.7,301.1 L176.5,299.8 L177.3,298.4 L178.1,297.0 L178.9,295.6 L179.7,294.3 L180.5,292.9 L181.4,291.6 L182.2,290.2 L183.1,288.9 L183.9,287.6 L184.8,286.2 L185.7,284.9 L186.5,283.6 L187.4,282.3 L188.3,281.0 L189.2,279.7 L190.1,278.4 L191.0,277.1 L191.9,275.8 L192.9,274.5 L193.8,273.2 L194.7,272.0 L195.7,270.7 L196.6,269.4 L197.6,268.2 L198.5,266.9 L199.5,265.6 L200.4,264.4 L201.4,263.1 L202.4,261.9 L203.3,260.7 L204.3,259.4 L205.3,258.2 L206.3,256.9 L207.2,255.7 L208.2,254.5 L209.2,253.2 L210.2,252.0 L211.2,250.8 L212.2,249.6 L213.1,248.3 L214.1,247.1 L215.1,245.9 L216.1,244.7 L217.1,243.4 L218.1,242.2 L219.1,241.0 L220.1,239.8 L221.0,238.6 L222.0,237.3 L223.0,236.1 L224.0,234.9 L225.0,233.7 L225.9,232.4"/>
<path d="M161.4,354.5 L161.4,352.8 L161.4,351.2 L161.4,349.6 L161.4,348.0 L161.4,346.4 L161.1,344.7 L161.2,343.1 L161.3,341.5 L161.5,339.9 L161.7,338.3 L162.0,336.7 L162.3,335.2 L162.6,333.6 L162.9,332.0 L163.3,330.4 L163.7,328.9 L164.2,327.4 L164.6,325.8 L165.1,324.3 L165.7,322.8 L166.2,321.3 L166.8,319.8 L167.4,318.3 L168.0,316.8 L168.6,315.4 L169.2,313.9 L169.9,312.4 L170.6,311.0 L171.3,309.6 L172.0,308.1 L172.7,306.7 L173.4,305.3 L174.1,303.9 L174.9,302.5 L175.6,301.1 L176.4,299.7 L177.2,298.3 L178.0,297.0 L178.8,295.6 L179.6,294.2 L180.4,292.9 L181.2,291.5 L182.1,290.2 L182.9,288.8 L183.8,287.5 L184.6,286.2 L185.5,284.8 L186.4,283.5 L187.2,282.2 L188.1,280.9 L189.0,279.6 L189.9,278.3 L190.8,277.0 L191.8,275.7 L192.7,274.4 L193.6,273.1 L194.5,271.8 L195.5,270.6 L196.4,269.3 L197.4,268.0 L198.3,266.8 L199.3,265.5 L200.2,264.3 L201.2,263.0 L202.2,261.8 L203.1,260.5 L204.1,259.3 L205.1,258.0 L206.1,256.8 L207.0,255.6 L208.0,254.3 L209.0,253.1 L210.0,251.9 L211.0,250.7 L212.0,249.4 L213.0,248.2 L214.0,247.0 L215.0,245.8 L216.0,244.6 L217.0,243.3 L217.9,242.1 L218.9,240.9 L219.9,239.7 L220.9,238.5 L221.9,237.3 L222.9,236.1 L223.9,234.8 L224.9,233.6 L225.9,232.4"/>
<path d="M161.4,354.5 L161.4,352.8 L161.4,351.2 L161.4,349.6 L161.4,348.0 L161.4,346.4 L161.1,344.7 L161.2,343.1 L161.3,341.5 L161.5,339.9 L161.7,338.3 L162.0,336.7 L162.2,335.1 L162.6,333.6 L162.9,332.0 L163.3,330.4 L163.7,328.9 L164.1,327.3 L164.6,325.8 L165.1,324.3 L165.6,322.8 L166.2,321.3 L166.7,319.8 L167.3,318.3 L167.9,316.8 L168.5,315.3 L169.2,313.9 L169.8,312.4 L170.5,311.0 L171.2,309.5 L171.9,308.1 L172.6,306.7 L173.3,305.3 L174.0,303.9 L174.8,302.5 L175.5,301.1 L176.3,299.7 L177.1,298.3 L177.9,296.9 L178.6,295.5 L179.4,294.2 L180.3,292.8 L181.1,291.4 L181.9,290.1 L182.8,288.7 L183.6,287.4 L184.5,286.1 L185.3,284.7 L186.2,283.4 L187.1,282.1 L188.0,280.8 L188.8,279.5 L189.7,278.2 L190.7,276.9 L191.6,275.6 L192.5,274.3 L193.4,273.0 L194.3,271.7 L195.3,270.5 L196.2,269.2 L197.2,267.9 L198.1,266.7 L199.1,265.4 L200.0,264.1 L201.0,262.9 L202.0,261.6 L202.9,260.4 L203.9,259.2 L204.9,257.9 L205.9,256.7 L206.8,255.5 L207.8,254.2 L208.8,253.0 L209.8,251.8 L210.8,250.5 L211.8,249.3 L212.8,248.1 L213.8,246.9 L214.8,245.7 L215.8,244.5 L216.8,243.2 L217.8,242.0 L218.8,240.8 L219.8,239.6 L220.8,238.4 L221.8,237.2 L222.8,236.0 L223.8,234.8 L224.8,233.6 L225.8,232.4"/>
<path d="M161.4,354.5 L161.4,352.8 L161.4,351.2 L161.4,349.6 L161.4,348.0 L161.4,346.3 L161.1,344.7 L161.2,343.1 L161.3,341.5 L161.5,339.9 L161.7,338.3 L161.9,336.7 L162.2,335.1 L162.5,333.6 L162.9,332.0 L163.3,330.4 L163.7,328.9 L164.1,327.3 L164.6,325.8 L165.1,324.3 L165.6,322.8 L166.1,321.3 L166.7,319.8 L167.2,318.3 L167.8,316.8 L168.5,315.3 L169.1,313.9 L169.7,312.4 L170.4,311.0 L171.1,309.5 L171.8,308.1 L172.5,306.7 L173.2,305.2 L173.9,303.8 L174.7,302.4 L175.4,301.0 L176.2,299.6 L176.9,298.2 L177.7,296.8 L178.5,295.5 L179.3,294.1 L180.1,292.7 L180.9,291.4 L181.8,290.0 L182.6,288.7 L183.4,287.3 L184.3,286.0 L185.2,284.7 L186.0,283.3 L186.9,282.0 L187.8,280.7 L188.7,279.4 L189.6,278.1 L190.5,276.8 L191.4,275.5 L192.3,274.2 L193.2,272.9 L194.1,271.6 L195.1,270.3 L196.0,269.1 L197.0,267.8 L197.9,266.5 L198.9,265.3 L199.8,264.0 L200.8,262.8 L201.8,261.5 L202.7,260.3 L203.7,259.0 L204.7,257.8 L205.7,256.6 L206.7,255.3 L207.6,254.1 L208.6,252.9 L209.6,251.7 L210.6,250.4 L211.6,249.2 L212.6,248.0 L213.6,246.8 L214.6,245.6 L215.7,244.4 L216.7,243.2 L217.7,241.9 L218.7,240.7 L219.7,239.5 L220.7,238.3 L221.7,237.1 L222.7,235.9 L223.7,234.7 L224.7,233.5 L225.7,232.3"/>
<path d="M161.4,354.5 L161.4,352.8 L161.4,351.2 L161.4,349.6 L161.4,348.0 L161.4,346.3 L161.1,344.7 L161.2,343.1 L161.3,341.5 L161.5,339.9 L161.7,338.3 L161.9,336.7 L162.2,335.1 L162.5,333.6 L162.9,332.0 L163.2,330.4 L163.6,328.9 L164.1,327.3 L164.5,325.8 L165.0,324.3 L165.5,322.8 L166.1,321.3 L166.6,319.8 L167.2,318.3 L167.8,316.8 L168.4,315.3 L169.0,313.8 L169.7,312.4 L170.3,310.9 L171.0,309.5 L171.7,308.1 L172.4,306.6 L173.1,305.2 L173.8,303.8 L174.6,302.4 L175.3,301.0 L176.1,299.6 L176.8,298.2 L177.6,296.8 L178.4,295.4 L179.2,294.0 L180.0,292.7 L180.8,291.3 L181.6,289.9 L182.4,288.6 L183.3,287.3 L184.1,285.9 L185.0,284.6 L185.8,283.2 L186.7,281.9 L187.6,280.6 L188.5,279.3 L189.4,278.0 L190.3,276.7 L191.2,275.4 L192.1,274.1 L193.0,272.8 L193.9,271.5 L194.9,270.2 L195.8,269.0 L196.8,267.7 L197.7,266.4 L198.7,265.2 L199.6,263.9 L200.6,262.6 L201.6,261.4 L202.5,260.2 L203.5,258.9 L204.5,257.7 L205.5,256.4 L206.5,255.2 L207.5,254.0 L208.5,252.8 L209.5,251.5 L210.5,250.3 L211.5,249.1 L212.5,247.9 L213.5,246.7 L214.5,245.5 L215.5,244.3 L216.5,243.1 L217.5,241.9 L218.5,240.7 L219.6,239.5 L220.6,238.3 L221.6,237.1 L222.6,235.9 L223.6,234.7 L224.6,233.5 L225.7,232.3"/>
<path d="M161.4,354.5 L161.4,352.8 L161.4,351.2 L161.4,349.6 L161.4,347.9 L161.4,346.3 L161.1,344.7 L161.2,343.1 L161.3,341.5 L161.5,339.9 L161.7,338.3 L161.9,336.7 L162.2,335.1 L162.5,333.6 L162.8,332.0 L163.2,330.4 L163.6,328.9 L164.0,327.3 L164.5,325.8 L165.0,324.3 L165.5,322.8 L166.0,321.2 L166.6,319.7 L167.1,318.3 L167.7,316.8 L168.3,315.3 L169.0,313.8 L169.6,312.4 L170.3,310.9 L170.9,309.5 L171.6,308.0 L172.3,306.6 L173.0,305.2 L173.7,303.8 L174.5,302.3 L175.2,300.9 L175.9,299.5 L176.7,298.1 L177.5,296.7 L178.3,295.4 L179.0,294.0 L179.8,292.6 L180.6,291.2 L181.5,289.9 L182.3,288.5 L183.1,287.2 L184.0,285.8 L184.8,284.5 L185.7,283.2 L186.5,281.8 L187.4,280.5 L188.3,279.2 L189.2,277.9 L190.1,276.6 L191.0,275.3 L191.9,274.0 L192.8,272.7 L193.7,271.4 L194.7,270.1 L195.6,268.8 L196.6,267.6 L197.5,266.3 L198.5,265.0 L199.4,263.8 L200.4,262.5 L201.4,261.3 L202.3,260.0 L203.3,258.8 L204.3,257.5 L205.3,256.3 L206.3,255.1 L207.3,253.9 L208.3,252.6 L209.3,251.4 L210.3,250.2 L211.3,249.0 L212.3,247.8 L213.3,246.6 L214.3,245.4 L215.3,244.2 L216.4,243.0 L217.4,241.8 L218.4,240.6 L219.4,239.4 L220.5,238.2 L221.5,237.0 L222.5,235.8 L223.5,234.6 L224.6,233.4 L225.6,232.3"/>
<path d="M161.3,354.5 L161.3,352.8 L161.3,351.2 L161.3,349.5 L161.3,347.9 L161.3,346.3 L161.1,344.7 L161.2,343.1 L161.3,341.5 L161.5,339.9 L161.7,338.3 L161.9,336.7 L162.2,335.1 L162.5,333.6 L162.8,332.0 L163.2,330.4 L163.6,328.9 L164.0,327.3 L164.5,325.8 L164.9,324.3 L165.4,322.7 L166.0,321.2 L166.5,319.7 L167.1,318.2 L167.7,316.8 L168.3,315.3 L168.9,313.8 L169.5,312.3 L170.2,310.9 L170.8,309.4 L171.5,308.0 L172.2,306.6 L172.9,305.1 L173.6,303.7 L174.4,302.3 L175.1,300.9 L175.8,299.5 L176.6,298.1 L177.3,296.7 L178.1,295.3 L178.9,293.9 L179.7,292.5 L180.5,291.2 L181.3,289.8 L182.1,288.5 L183.0,287.1 L183.8,285.7 L184.7,284.4 L185.5,283.1 L186.4,281.7 L187.2,280.4 L188.1,279.1 L189.0,277.8 L189.9,276.5 L190.8,275.2 L191.7,273.9 L192.6,272.6 L193.6,271.3 L194.5,270.0 L195.4,268.7 L196.4,267.4 L197.3,266.2 L198.3,264.9 L199.2,263.7 L200.2,262.4 L201.2,261.1 L202.1,259.9 L203.1,258.7 L204.1,257.4 L205.1,256.2 L206.1,255.0 L207.1,253.7 L208.1,252.5 L209.1,251.3 L210.1,250.1 L211.1,248.9 L212.1,247.7 L213.1,246.5 L214.2,245.3 L215.2,244.1 L216.2,242.9 L217.3,241.7 L218.3,240.5 L219.3,239.3 L220.3,238.1 L221.4,236.9 L222.4,235.8 L223.4,234.6 L224.5,233.4 L225.5,232.2"/>
<path d="M161.3,354.5 L161.3,352.8 L161.3,351.1 L161.3,349.5 L161.3,347.9 L161.3,346.3 L161.1,344.7 L161.2,343.1 L161.3,341.5 L161.5,339.9 L161.7,338.3 L161.9,336.7 L162.2,335.1 L162.5,333.6 L162.8,332.0 L163.2,330.4 L163.6,328.9 L164.0,327.3 L164.4,325.8 L164.9,324.3 L165.4,322.7 L165.9,321.2 L166.5,319.7 L167.0,318.2 L167.6,316.7 L168.2,315.3 L168.8,313.8 L169.5,312.3 L170.1,310.9 L170.8,309.4 L171.4,308.0 L172.1,306.5 L172.8,305.1 L173.5,303.7 L174.2,302.3 L175.0,300.8 L175.7,299.4 L176.5,298.0 L177.2,296.6 L178.0,295.2 L178.8,293.9 L179.6,292.5 L180.4,291.1 L181.2,289.7 L182.0,288.4 L182.8,287.0 L183.6,285.7 L184.5,284.3 L185.3,283.0 L186.2,281.6 L187.1,280.3 L187.9,279.0 L188.8,277.7 L189.7,276.4 L190.6,275.1 L191.5,273.8 L192.4,272.5 L193.4,271.2 L194.3,269.9 L195.2,268.6 L196.2,267.3 L197.1,266.1 L198.1,264.8 L199.0,263.5 L200.0,262.3 L201.0,261.0 L201.9,259.8 L202.9,258.5 L203.9,257.3 L204.9,256.1 L205.9,254.8 L206.9,253.6 L207.9,252.4 L208.9,251.2 L209.9,250.0 L210.9,248.8 L212.0,247.6 L213.0,246.4 L214.0,245.2 L215.0,244.0 L216.1,242.8 L217.1,241.6 L218.1,240.4 L219.2,239.2 L220.2,238.0 L221.3,236.9 L222.3,235.7 L223.4,234.5 L224.4,233.3 L225.4,232.2"/>
<path d="M161.3,354.5 L161.3,352.7 L161.3,351.1 L161.3,349.5 L161.3,347.9 L161.3,346.3 L161.1,344.7 L161.2,343.1 L161.3,341.5 L161.4,339.9 L161.6,338.3 L161.9,336.7 L162.1,335.1 L162.4,333.6 L162.8,332.0 L163.1,330.4 L163.5,328.9 L163.9,327.3 L164.4,325.8 L164.9,324.3 L165.4,322.7 L165.9,321.2 L166.4,319.7 L167.0,318.2 L167.5,316.7 L168.1,315.2 L168.8,313.8 L169.4,312.3 L170.0,310.8 L170.7,309.4 L171.4,307.9 L172.0,306.5 L172.7,305.1 L173.4,303.6 L174.1,302.2 L174.9,300.8 L175.6,299.4 L176.3,298.0 L177.1,296.6 L177.9,295.2 L178.6,293.8 L179.4,292.4 L180.2,291.0 L181.0,289.7 L181.8,288.3 L182.7,286.9 L183.5,285.6 L184.3,284.2 L185.2,282.9 L186.0,281.6 L186.9,280.2 L187.8,278.9 L188.6,277.6 L189.5,276.3 L190.4,275.0 L191.3,273.7 L192.2,272.4 L193.2,271.1 L194.1,269.8 L195.0,268.5 L196.0,267.2 L196.9,265.9 L197.9,264.7 L198.8,263.4 L199.8,262.2 L200.8,260.9 L201.7,259.7 L202.7,258.4 L203.7,257.2 L204.7,255.9 L205.7,254.7 L206.7,253.5 L207.7,252.3 L208.7,251.1 L209.7,249.9 L210.8,248.6 L211.8,247.4 L212.8,246.2 L213.9,245.1 L214.9,243.9 L215.9,242.7 L217.0,241.5 L218.0,240.3 L219.1,239.1 L220.1,238.0 L221.2,236.8 L222.2,235.6 L223.3,234.5 L224.3,233.3 L225.4,232.1"/>
<path d="M161.3,354.5 L161.3,352.7 L161.3,351.1 L161.3,349.5 L161.3,347.9 L161.3,346.3 L161.1,344.7 L161.1,343.1 L161.3,341.5 L161.4,339.9 L161.6,338.3 L161.9,336.7 L162.1,335.1 L162.4,333.6 L162.8,332.0 L163.1,330.4 L163.5,328.9 L163.9,327.3 L164.4,325.8 L164.8,324.3 L165.3,322.7 L165.8,321.2 L166.4,319.7 L166.9,318.2 L167.5,316.7 L168.1,315.2 L168.7,313.8 L169.3,312.3 L169.9,310.8 L170.6,309.4 L171.3,307.9 L171.9,306.5 L172.6,305.0 L173.3,303.6 L174.0,302.2 L174.8,300.8 L175.5,299.3 L176.2,297.9 L177.0,296.5 L177.7,295.1 L178.5,293.7 L179.3,292.4 L180.1,291.0 L180.9,289.6 L181.7,288.2 L182.5,286.9 L183.3,285.5 L184.2,284.2 L185.0,282.8 L185.8,281.5 L186.7,280.1 L187.6,278.8 L188.5,277.5 L189.3,276.2 L190.2,274.8 L191.1,273.5 L192.0,272.2 L193.0,270.9 L193.9,269.7 L194.8,268.4 L195.8,267.1 L196.7,265.8 L197.7,264.5 L198.6,263.3 L199.6,262.0 L200.6,260.8 L201.5,259.5 L202.5,258.3 L203.5,257.1 L204.5,255.8 L205.5,254.6 L206.5,253.4 L207.5,252.2 L208.5,250.9 L209.6,249.7 L210.6,248.5 L211.6,247.3 L212.7,246.1 L213.7,244.9 L214.7,243.8 L215.8,242.6 L216.8,241.4 L217.9,240.2 L218.9,239.1 L220.0,237.9 L221.1,236.7 L222.1,235.6 L223.2,234.4 L224.2,233.3 L225.3,232.1"/>
<path d="M161.3,354.5 L161.3,352.7 L161.3,351.1 L161.3,349.5 L161.3,347.9 L161.3,346.3 L161.1,344.7 L161.1,343.1 L161.3,341.5 L161.4,339.9 L161.6,338.3 L161.8,336.7 L162.1,335.1 L162.4,333.6 L162.7,332.0 L163.1,330.4 L163.5,328.9 L163.9,327.3 L164.3,325.8 L164.8,324.2 L165.3,322.7 L165.8,321.2 L166.3,319.7 L166.9,318.2 L167.4,316.7 L168.0,315.2 L168.6,313.7 L169.2,312.3 L169.9,310.8 L170.5,309.3 L171.2,307.9 L171.9,306.4 L172.5,305.0 L173.2,303.6 L173.9,302.1 L174.6,300.7 L175.4,299.3 L176.1,297.9 L176.8,296.5 L177.6,295.1 L178.4,293.7 L179.1,292.3 L179.9,290.9 L180.7,289.5 L181.5,288.2 L182.3,286.8 L183.2,285.4 L184.0,284.1 L184.8,282.7 L185.7,281.4 L186.5,280.0 L187.4,278.7 L188.3,277.4 L189.2,276.1 L190.0,274.7 L190.9,273.4 L191.8,272.1 L192.8,270.8 L193.7,269.5 L194.6,268.3 L195.6,267.0 L196.5,265.7 L197.5,264.4 L198.4,263.2 L199.4,261.9 L200.4,260.7 L201.3,259.4 L202.3,258.2 L203.3,256.9 L204.3,255.7 L205.3,254.5 L206.3,253.3 L207.3,252.0 L208.4,250.8 L209.4,249.6 L210.4,248.4 L211.5,247.2 L212.5,246.0 L213.5,244.8 L214.6,243.7 L215.6,242.5 L216.7,241.3 L217.8,240.1 L218.8,239.0 L219.9,237.8 L220.9,236.7 L222.0,235.5 L223.1,234.4 L224.2,233.2 L225.2,232.1"/>
<path d="M161.2,354.5 L161.2,352.7 L161.2,351.1 L161.2,349.5 L161.2,347.9 L161.2,346.3 L161.0,344.7 L161.1,343.1 L161.3,341.5 L161.4,339.9 L161.6,338.3 L161.8,336.7 L162.1,335.1 L162.4,333.5 L162.7,332.0 L163.1,330.4 L163.4,328.9 L163.9,327.3 L164.3,325.8 L164.7,324.2 L165.2,322.7 L165.7,321.2 L166.3,319.7 L166.8,318.2 L167.4,316.7 L168.0,315.2 L168.6,313.7 L169.2,312.2 L169.8,310.8 L170.4,309.3 L171.1,307.9 L171.8,306.4 L172.4,305.0 L173.1,303.5 L173.8,302.1 L174.5,300.7 L175.3,299.3 L176.0,297.8 L176.7,296.4 L177.5,295.0 L178.2,293.6 L179.0,292.2 L179.8,290.8 L180.6,289.5 L181.4,288.1 L182.2,286.7 L183.0,285.3 L183.8,284.0 L184.7,282.6 L185.5,281.3 L186.4,279.9 L187.2,278.6 L188.1,277.3 L189.0,276.0 L189.9,274.6 L190.8,273.3 L191.7,272.0 L192.6,270.7 L193.5,269.4 L194.4,268.1 L195.4,266.9 L196.3,265.6 L197.2,264.3 L198.2,263.0 L199.2,261.8 L200.1,260.5 L201.1,259.3 L202.1,258.0 L203.1,256.8 L204.1,255.6 L205.1,254.3 L206.1,253.1 L207.2,251.9 L208.2,250.7 L209.2,249.5 L210.2,248.3 L211.3,247.1 L212.3,245.9 L213.4,244.7 L214.4,243.6 L215.5,242.4 L216.6,241.2 L217.6,240.1 L218.7,238.9 L219.8,237.7 L220.8,236.6 L221.9,235.4 L223.0,234.3 L224.1,233.2 L225.2,232.0"/>
<path d="M161.2,354.5 L161.2,352.7 L161.2,351.1 L161.2,349.5 L161.2,347.9 L161.2,346.3 L161.0,344.7 L161.1,343.1 L161.2,341.5 L161.4,339.9 L161.6,338.3 L161.8,336.7 L162.1,335.1 L162.4,333.5 L162.7,332.0 L163.0,330.4 L163.4,328.9 L163.8,327.3 L164.3,325.8 L164.7,324.2 L165.2,322.7 L165.7,321.2 L166.2,319.7 L166.8,318.2 L167.3,316.7 L167.9,315.2 L168.5,313.7 L169.1,312.2 L169.7,310.8 L170.4,309.3 L171.0,307.8 L171.7,306.4 L172.3,304.9 L173.0,303.5 L173.7,302.1 L174.4,300.6 L175.1,299.2 L175.9,297.8 L176.6,296.4 L177.3,295.0 L178.1,293.6 L178.9,292.2 L179.6,290.8 L180.4,289.4 L181.2,288.0 L182.0,286.6 L182.8,285.3 L183.7,283.9 L184.5,282.5 L185.3,281.2 L186.2,279.9 L187.0,278.5 L187.9,277.2 L188.8,275.9 L189.7,274.5 L190.6,273.2 L191.5,271.9 L192.4,270.6 L193.3,269.3 L194.2,268.0 L195.2,266.7 L196.1,265.5 L197.0,264.2 L198.0,262.9 L199.0,261.7 L199.9,260.4 L200.9,259.2 L201.9,257.9 L202.9,256.7 L203.9,255.4 L204.9,254.2 L205.9,253.0 L207.0,251.8 L208.0,250.6 L209.0,249.4 L210.1,248.2 L211.1,247.0 L212.2,245.8 L213.2,244.6 L214.3,243.5 L215.3,242.3 L216.4,241.1 L217.5,240.0 L218.6,238.8 L219.6,237.7 L220.7,236.5 L221.8,235.4 L222.9,234.3 L224.0,233.1 L225.1,232.0"/>
<path d="M161.2,354.5 L161.2,352.7 L161.2,351.1 L161.2,349.5 L161.2,347.9 L161.2,346.3 L161.0,344.7 L161.1,343.1 L161.2,341.5 L161.4,339.9 L161.6,338.3 L161.8,336.7 L162.1,335.1 L162.3,333.5 L162.7,332.0 L163.0,330.4 L163.4,328.9 L163.8,327.3 L164.2,325.8 L164.7,324.2 L165.1,322.7 L165.6,321.2 L166.2,319.7 L166.7,318.2 L167.3,316.7 L167.8,315.2 L168.4,313.7 L169.0,312.2 L169.6,310.7 L170.3,309.3 L170.9,307.8 L171.6,306.4 L172.2,304.9 L172.9,303.5 L173.6,302.0 L174.3,300.6 L175.0,299.2 L175.7,297.7 L176.5,296.3 L177.2,294.9 L178.0,293.5 L178.7,292.1 L179.5,290.7 L180.3,289.3 L181.1,287.9 L181.9,286.6 L182.7,285.2 L183.5,283.8 L184.3,282.5 L185.2,281.1 L186.0,279.8 L186.9,278.4 L187.7,277.1 L188.6,275.8 L189.5,274.4 L190.4,273.1 L191.3,271.8 L192.2,270.5 L193.1,269.2 L194.0,267.9 L195.0,266.6 L195.9,265.3 L196.8,264.1 L197.8,262.8 L198.8,261.5 L199.7,260.3 L200.7,259.0 L201.7,257.8 L202.7,256.6 L203.7,255.3 L204.7,254.1 L205.8,252.9 L206.8,251.7 L207.8,250.5 L208.9,249.3 L209.9,248.1 L210.9,246.9 L212.0,245.7 L213.1,244.5 L214.1,243.4 L215.2,242.2 L216.3,241.0 L217.4,239.9 L218.4,238.7 L219.5,237.6 L220.6,236.5 L221.7,235.3 L222.8,234.2 L223.9,233.1 L225.0,232.0"/>
<path d="M161.2,354.5 L161.2,352.7 L161.2,351.1 L161.2,349.5 L161.2,347.9 L161.2,346.3 L161.0,344.7 L161.1,343.1 L161.2,341.5 L161.4,339.9 L161.6,338.3 L161.8,336.7 L162.0,335.1 L162.3,333.5 L162.6,332.0 L163.0,330.4 L163.4,328.9 L163.8,327.3 L164.2,325.8 L164.6,324.2 L165.1,322.7 L165.6,321.2 L166.1,319.7 L166.6,318.2 L167.2,316.7 L167.8,315.2 L168.3,313.7 L169.0,312.2 L169.6,310.7 L170.2,309.2 L170.8,307.8 L171.5,306.3 L172.2,304.9 L172.8,303.4 L173.5,302.0 L174.2,300.5 L174.9,299.1 L175.6,297.7 L176.3,296.3 L177.1,294.9 L177.8,293.4 L178.6,292.0 L179.3,290.6 L180.1,289.2 L180.9,287.9 L181.7,286.5 L182.5,285.1 L183.3,283.7 L184.1,282.4 L185.0,281.0 L185.8,279.7 L186.7,278.3 L187.5,277.0 L188.4,275.6 L189.3,274.3 L190.2,273.0 L191.1,271.7 L192.0,270.4 L192.9,269.1 L193.8,267.8 L194.8,266.5 L195.7,265.2 L196.6,263.9 L197.6,262.7 L198.6,261.4 L199.5,260.2 L200.5,258.9 L201.5,257.7 L202.5,256.4 L203.5,255.2 L204.5,254.0 L205.6,252.8 L206.6,251.6 L207.6,250.4 L208.7,249.2 L209.7,248.0 L210.8,246.8 L211.8,245.6 L212.9,244.4 L214.0,243.3 L215.1,242.1 L216.1,240.9 L217.2,239.8 L218.3,238.7 L219.4,237.5 L220.5,236.4 L221.6,235.3 L222.7,234.1 L223.8,233.0 L225.0,231.9"/>
<path d="M161.2,354.5 L161.2,352.7 L161.2,351.1 L161.2,349.5 L161.2,347.9 L161.2,346.3 L161.0,344.7 L161.1,343.1 L161.2,341.5 L161.4,339.9 L161.6,338.3 L161.8,336.7 L162.0,335.1 L162.3,333.5 L162.6,332.0 L163.0,330.4 L163.3,328.8 L163.7,327.3 L164.1,325.8 L164.6,324.2 L165.1,322.7 L165.5,321.2 L166.1,319.7 L166.6,318.1 L167.1,316.6 L167.7,315.1 L168.3,313.7 L168.9,312.2 L169.5,310.7 L170.1,309.2 L170.7,307.8 L171.4,306.3 L172.1,304.8 L172.7,303.4 L173.4,301.9 L174.1,300.5 L174.8,299.1 L175.5,297.6 L176.2,296.2 L177.0,294.8 L177.7,293.4 L178.4,292.0 L179.2,290.6 L180.0,289.2 L180.8,287.8 L181.5,286.4 L182.3,285.0 L183.2,283.7 L184.0,282.3 L184.8,280.9 L185.6,279.6 L186.5,278.2 L187.4,276.9 L188.2,275.5 L189.1,274.2 L190.0,272.9 L190.9,271.6 L191.8,270.3 L192.7,269.0 L193.6,267.7 L194.6,266.4 L195.5,265.1 L196.4,263.8 L197.4,262.5 L198.4,261.3 L199.3,260.0 L200.3,258.8 L201.3,257.5 L202.3,256.3 L203.3,255.1 L204.4,253.9 L205.4,252.6 L206.4,251.4 L207.5,250.2 L208.5,249.0 L209.5,247.9 L210.6,246.7 L211.7,245.5 L212.7,244.3 L213.8,243.2 L214.9,242.0 L216.0,240.9 L217.1,239.7 L218.2,238.6 L219.3,237.4 L220.4,236.3 L221.5,235.2 L222.6,234.1 L223.8,233.0 L224.9,231.9"/>
<path d="M161.2,354.5 L161.2,352.6 L161.2,351.0 L161.2,349.5 L161.2,347.9 L161.2,346.3 L161.0,344.7 L161.1,343.1 L161.2,341.5 L161.4,339.9 L161.5,338.3 L161.8,336.7 L162.0,335.1 L162.3,333.5 L162.6,332.0 L162.9,330.4 L163.3,328.8 L163.7,327.3 L164.1,325.8 L164.6,324.2 L165.0,322.7 L165.5,321.2 L166.0,319.6 L166.5,318.1 L167.1,316.6 L167.6,315.1 L168.2,313.6 L168.8,312.2 L169.4,310.7 L170.0,309.2 L170.7,307.7 L171.3,306.3 L172.0,304.8 L172.6,303.4 L173.3,301.9 L174.0,300.5 L174.7,299.0 L175.4,297.6 L176.1,296.2 L176.8,294.7 L177.6,293.3 L178.3,291.9 L179.1,290.5 L179.8,289.1 L180.6,287.7 L181.4,286.3 L182.2,284.9 L183.0,283.6 L183.8,282.2 L184.6,280.8 L185.5,279.5 L186.3,278.1 L187.2,276.8 L188.0,275.4 L188.9,274.1 L189.8,272.8 L190.7,271.5 L191.6,270.2 L192.5,268.8 L193.4,267.5 L194.4,266.3 L195.3,265.0 L196.2,263.7 L197.2,262.4 L198.2,261.2 L199.1,259.9 L200.1,258.7 L201.1,257.4 L202.1,256.2 L203.1,255.0 L204.2,253.7 L205.2,252.5 L206.2,251.3 L207.3,250.1 L208.3,248.9 L209.4,247.7 L210.4,246.6 L211.5,245.4 L212.6,244.2 L213.7,243.1 L214.8,241.9 L215.9,240.8 L217.0,239.6 L218.1,238.5 L219.2,237.4 L220.3,236.3 L221.4,235.1 L222.5,234.0 L223.7,232.9 L224.8,231.8"/>
<path d="M161.1,354.5 L161.1,352.6 L161.1,351.0 L161.1,349.4 L161.1,347.8 L161.1,346.2 L161.0,344.6 L161.1,343.0 L161.2,341.5 L161.3,339.9 L161.5,338.3 L161.7,336.7 L162.0,335.1 L162.3,333.5 L162.6,332.0 L162.9,330.4 L163.3,328.8 L163.7,327.3 L164.1,325.7 L164.5,324.2 L165.0,322.7 L165.5,321.2 L166.0,319.6 L166.5,318.1 L167.0,316.6 L167.6,315.1 L168.1,313.6 L168.7,312.1 L169.3,310.6 L170.0,309.2 L170.6,307.7 L171.2,306.2 L171.9,304.8 L172.5,303.3 L173.2,301.9 L173.9,300.4 L174.6,299.0 L175.3,297.5 L176.0,296.1 L176.7,294.7 L177.4,293.3 L178.2,291.8 L178.9,290.4 L179.7,289.0 L180.4,287.6 L181.2,286.2 L182.0,284.9 L182.8,283.5 L183.6,282.1 L184.5,280.7 L185.3,279.4 L186.1,278.0 L187.0,276.7 L187.8,275.3 L188.7,274.0 L189.6,272.7 L190.5,271.4 L191.4,270.0 L192.3,268.7 L193.2,267.4 L194.1,266.1 L195.1,264.9 L196.0,263.6 L197.0,262.3 L198.0,261.0 L198.9,259.8 L199.9,258.5 L200.9,257.3 L201.9,256.1 L202.9,254.8 L204.0,253.6 L205.0,252.4 L206.0,251.2 L207.1,250.0 L208.1,248.8 L209.2,247.6 L210.3,246.4 L211.3,245.3 L212.4,244.1 L213.5,243.0 L214.6,241.8 L215.7,240.7 L216.8,239.5 L217.9,238.4 L219.1,237.3 L220.2,236.2 L221.3,235.1 L222.4,234.0 L223.6,232.9 L224.7,231.8"/>
<path d="M161.1,354.5 L161.1,352.6 L161.1,351.0 L161.1,349.4 L161.1,347.8 L161.1,346.2 L161.0,344.6 L161.1,343.0 L161.2,341.4 L161.3,339.9 L161.5,338.3 L161.7,336.7 L162.0,335.1 L162.2,333.5 L162.5,332.0 L162.9,330.4 L163.2,328.8 L163.6,327.3 L164.0,325.7 L164.5,324.2 L164.9,322.7 L165.4,321.1 L165.9,319.6 L166.4,318.1 L167.0,316.6 L167.5,315.1 L168.1,313.6 L168.7,312.1 L169.3,310.6 L169.9,309.1 L170.5,307.7 L171.1,306.2 L171.8,304.7 L172.4,303.3 L173.1,301.8 L173.8,300.4 L174.4,298.9 L175.1,297.5 L175.8,296.1 L176.6,294.6 L177.3,293.2 L178.0,291.8 L178.8,290.4 L179.5,289.0 L180.3,287.6 L181.1,286.2 L181.9,284.8 L182.7,283.4 L183.5,282.0 L184.3,280.7 L185.1,279.3 L185.9,277.9 L186.8,276.6 L187.7,275.2 L188.5,273.9 L189.4,272.6 L190.3,271.2 L191.2,269.9 L192.1,268.6 L193.0,267.3 L193.9,266.0 L194.9,264.7 L195.8,263.5 L196.8,262.2 L197.8,260.9 L198.7,259.7 L199.7,258.4 L200.7,257.2 L201.7,255.9 L202.8,254.7 L203.8,253.5 L204.8,252.3 L205.9,251.1 L206.9,249.9 L208.0,248.7 L209.0,247.5 L210.1,246.3 L211.2,245.2 L212.3,244.0 L213.4,242.9 L214.5,241.7 L215.6,240.6 L216.7,239.5 L217.8,238.3 L218.9,237.2 L220.1,236.1 L221.2,235.0 L222.4,233.9 L223.5,232.8 L224.7,231.8"/>
<path d="M161.1,354.5 L161.1,352.6 L161.1,351.0 L161.1,349.4 L161.1,347.8 L161.1,346.2 L161.0,344.6 L161.1,343.0 L161.2,341.4 L161.3,339.9 L161.5,338.3 L161.7,336.7 L162.0,335.1 L162.2,333.5 L162.5,332.0 L162.9,330.4 L163.2,328.8 L163.6,327.3 L164.0,325.7 L164.4,324.2 L164.9,322.7 L165.4,321.1 L165.9,319.6 L166.4,318.1 L166.9,316.6 L167.4,315.1 L168.0,313.6 L168.6,312.1 L169.2,310.6 L169.8,309.1 L170.4,307.6 L171.0,306.2 L171.7,304.7 L172.3,303.2 L173.0,301.8 L173.6,300.3 L174.3,298.9 L175.0,297.4 L175.7,296.0 L176.4,294.6 L177.2,293.1 L177.9,291.7 L178.6,290.3 L179.4,288.9 L180.1,287.5 L180.9,286.1 L181.7,284.7 L182.5,283.3 L183.3,281.9 L184.1,280.6 L184.9,279.2 L185.8,277.8 L186.6,276.5 L187.5,275.1 L188.3,273.8 L189.2,272.5 L190.1,271.1 L191.0,269.8 L191.9,268.5 L192.8,267.2 L193.7,265.9 L194.7,264.6 L195.6,263.3 L196.6,262.1 L197.6,260.8 L198.5,259.5 L199.5,258.3 L200.5,257.0 L201.5,255.8 L202.6,254.6 L203.6,253.4 L204.6,252.2 L205.7,251.0 L206.7,249.8 L207.8,248.6 L208.9,247.4 L209.9,246.2 L211.0,245.1 L212.1,243.9 L213.2,242.8 L214.3,241.6 L215.4,240.5 L216.6,239.4 L217.7,238.3 L218.8,237.2 L220.0,236.1 L221.1,235.0 L222.3,233.9 L223.4,232.8 L224.6,231.7"/>
<path d="M161.1,354.5 L161.1,352.6 L161.1,351.0 L161.1,349.4 L161.1,347.8 L161.1,346.2 L161.0,344.6 L161.1,343.0 L161.2,341.4 L161.3,339.9 L161.5,338.3 L161.7,336.7 L161.9,335.1 L162.2,333.5 L162.5,332.0 L162.8,330.4 L163.2,328.8 L163.6,327.3 L164.0,325.7 L164.4,324.2 L164.8,322.7 L165.3,321.1 L165.8,319.6 L166.3,318.1 L166.8,316.6 L167.4,315.1 L167.9,313.6 L168.5,312.1 L169.1,310.6 L169.7,309.1 L170.3,307.6 L170.9,306.1 L171.6,304.7 L172.2,303.2 L172.9,301.7 L173.5,300.3 L174.2,298.8 L174.9,297.4 L175.6,295.9 L176.3,294.5 L177.0,293.1 L177.7,291.7 L178.5,290.2 L179.2,288.8 L180.0,287.4 L180.8,286.0 L181.5,284.6 L182.3,283.2 L183.1,281.9 L183.9,280.5 L184.8,279.1 L185.6,277.7 L186.4,276.4 L187.3,275.0 L188.1,273.7 L189.0,272.4 L189.9,271.0 L190.8,269.7 L191.7,268.4 L192.6,267.1 L193.5,265.8 L194.5,264.5 L195.4,263.2 L196.4,261.9 L197.4,260.7 L198.3,259.4 L199.3,258.2 L200.3,256.9 L201.3,255.7 L202.4,254.5 L203.4,253.2 L204.4,252.0 L205.5,250.8 L206.5,249.6 L207.6,248.5 L208.7,247.3 L209.8,246.1 L210.9,245.0 L212.0,243.8 L213.1,242.7 L214.2,241.5 L215.3,240.4 L216.4,239.3 L217.6,238.2 L218.7,237.1 L219.9,236.0 L221.0,234.9 L222.2,233.8 L223.3,232.8 L224.5,231.7"/>
<path d="M161.1,354.5 L161.1,352.6 L161.1,351.0 L161.1,349.4 L161.1,347.8 L161.1,346.2 L161.0,344.6 L161.0,343.0 L161.2,341.4 L161.3,339.8 L161.5,338.3 L161.7,336.7 L161.9,335.1 L162.2,333.5 L162.5,332.0 L162.8,330.4 L163.2,328.8 L163.5,327.3 L163.9,325.7 L164.4,324.2 L164.8,322.6 L165.3,321.1 L165.8,319.6 L166.3,318.1 L166.8,316.6 L167.3,315.1 L167.9,313.6 L168.4,312.1 L169.0,310.6 L169.6,309.1 L170.2,307.6 L170.9,306.1 L171.5,304.6 L172.1,303.2 L172.8,301.7 L173.4,300.2 L174.1,298.8 L174.8,297.3 L175.5,295.9 L176.2,294.5 L176.9,293.0 L177.6,291.6 L178.3,290.2 L179.1,288.8 L179.8,287.3 L180.6,285.9 L181.4,284.5 L182.2,283.1 L183.0,281.8 L183.8,280.4 L184.6,279.0 L185.4,277.6 L186.2,276.3 L187.1,274.9 L188.0,273.6 L188.8,272.2 L189.7,270.9 L190.6,269.6 L191.5,268.3 L192.4,267.0 L193.3,265.7 L194.3,264.4 L195.2,263.1 L196.2,261.8 L197.2,260.5 L198.1,259.3 L199.1,258.0 L200.1,256.8 L201.1,255.6 L202.2,254.3 L203.2,253.1 L204.2,251.9 L205.3,250.7 L206.4,249.5 L207.4,248.3 L208.5,247.2 L209.6,246.0 L210.7,244.8 L211.8,243.7 L212.9,242.6 L214.0,241.4 L215.2,240.3 L216.3,239.2 L217.4,238.1 L218.6,237.0 L219.7,235.9 L220.9,234.8 L222.1,233.8 L223.3,232.7 L224.5,231.7"/>
<path d="M161.0,354.5 L161.0,352.6 L161.0,351.0 L161.0,349.4 L161.0,347.8 L161.0,346.2 L161.0,344.6 L161.0,343.0 L161.1,341.4 L161.3,339.8 L161.5,338.3 L161.7,336.7 L161.9,335.1 L162.2,333.5 L162.5,332.0 L162.8,330.4 L163.1,328.8 L163.5,327.3 L163.9,325.7 L164.3,324.2 L164.8,322.6 L165.2,321.1 L165.7,319.6 L166.2,318.1 L166.7,316.5 L167.3,315.0 L167.8,313.5 L168.4,312.0 L169.0,310.5 L169.5,309.1 L170.1,307.6 L170.8,306.1 L171.4,304.6 L172.0,303.1 L172.7,301.7 L173.3,300.2 L174.0,298.7 L174.7,297.3 L175.3,295.8 L176.0,294.4 L176.7,293.0 L177.5,291.5 L178.2,290.1 L178.9,288.7 L179.7,287.3 L180.4,285.9 L181.2,284.5 L182.0,283.1 L182.8,281.7 L183.6,280.3 L184.4,278.9 L185.2,277.5 L186.1,276.2 L186.9,274.8 L187.8,273.5 L188.6,272.1 L189.5,270.8 L190.4,269.5 L191.3,268.2 L192.2,266.8 L193.1,265.5 L194.1,264.3 L195.0,263.0 L196.0,261.7 L197.0,260.4 L197.9,259.2 L198.9,257.9 L199.9,256.7 L201.0,255.4 L202.0,254.2 L203.0,253.0 L204.1,251.8 L205.1,250.6 L206.2,249.4 L207.2,248.2 L208.3,247.1 L209.4,245.9 L210.5,244.7 L211.6,243.6 L212.8,242.5 L213.9,241.3 L215.0,240.2 L216.2,239.1 L217.3,238.0 L218.5,236.9 L219.6,235.9 L220.8,234.8 L222.0,233.7 L223.2,232.7 L224.4,231.6"/>
<path d="M161.0,354.5 L161.0,352.6 L161.0,351.0 L161.0,349.4 L161.0,347.8 L161.0,346.2 L161.0,344.6 L161.0,343.0 L161.1,341.4 L161.3,339.8 L161.4,338.3 L161.6,336.7 L161.9,335.1 L162.1,333.5 L162.4,331.9 L162.8,330.4 L163.1,328.8 L163.5,327.3 L163.9,325.7 L164.3,324.2 L164.7,322.6 L165.2,321.1 L165.7,319.6 L166.1,318.1 L166.7,316.5 L167.2,315.0 L167.7,313.5 L168.3,312.0 L168.9,310.5 L169.5,309.0 L170.1,307.5 L170.7,306.1 L171.3,304.6 L171.9,303.1 L172.6,301.6 L173.2,300.2 L173.9,298.7 L174.5,297.2 L175.2,295.8 L175.9,294.3 L176.6,292.9 L177.3,291.5 L178.0,290.0 L178.8,288.6 L179.5,287.2 L180.3,285.8 L181.0,284.4 L181.8,283.0 L182.6,281.6 L183.4,280.2 L184.2,278.8 L185.0,277.4 L185.9,276.1 L186.7,274.7 L187.6,273.4 L188.4,272.0 L189.3,270.7 L190.2,269.4 L191.1,268.0 L192.0,266.7 L192.9,265.4 L193.9,264.1 L194.8,262.8 L195.8,261.6 L196.8,260.3 L197.7,259.0 L198.7,257.8 L199.7,256.5 L200.8,255.3 L201.8,254.1 L202.8,252.9 L203.9,251.7 L204.9,250.5 L206.0,249.3 L207.1,248.1 L208.2,246.9 L209.3,245.8 L210.4,244.6 L211.5,243.5 L212.6,242.4 L213.7,241.2 L214.9,240.1 L216.0,239.0 L217.2,237.9 L218.4,236.9 L219.5,235.8 L220.7,234.7 L221.9,233.7 L223.1,232.6 L224.3,231.6"/>
<path d="M161.0,354.5 L161.0,352.5 L161.0,351.0 L161.0,349.4 L161.0,347.8 L161.0,346.2 L161.0,344.6 L161.0,343.0 L161.1,341.4 L161.3,339.8 L161.4,338.2 L161.6,336.7 L161.9,335.1 L162.1,333.5 L162.4,331.9 L162.7,330.4 L163.1,328.8 L163.4,327.3 L163.8,325.7 L164.2,324.2 L164.7,322.6 L165.1,321.1 L165.6,319.6 L166.1,318.0 L166.6,316.5 L167.1,315.0 L167.7,313.5 L168.2,312.0 L168.8,310.5 L169.4,309.0 L170.0,307.5 L170.6,306.0 L171.2,304.5 L171.8,303.1 L172.5,301.6 L173.1,300.1 L173.8,298.7 L174.4,297.2 L175.1,295.7 L175.8,294.3 L176.5,292.8 L177.2,291.4 L177.9,290.0 L178.6,288.5 L179.4,287.1 L180.1,285.7 L180.9,284.3 L181.7,282.9 L182.4,281.5 L183.2,280.1 L184.0,278.7 L184.9,277.4 L185.7,276.0 L186.5,274.6 L187.4,273.3 L188.2,271.9 L189.1,270.6 L190.0,269.2 L190.9,267.9 L191.8,266.6 L192.7,265.3 L193.7,264.0 L194.6,262.7 L195.6,261.4 L196.6,260.2 L197.5,258.9 L198.5,257.7 L199.5,256.4 L200.6,255.2 L201.6,254.0 L202.6,252.7 L203.7,251.5 L204.7,250.4 L205.8,249.2 L206.9,248.0 L208.0,246.8 L209.1,245.7 L210.2,244.5 L211.3,243.4 L212.5,242.3 L213.6,241.1 L214.7,240.0 L215.9,238.9 L217.1,237.9 L218.2,236.8 L219.4,235.7 L220.6,234.7 L221.8,233.6 L223.0,232.6 L224.2,231.5"/>
<path d="M161.0,354.5 L161.0,352.5 L161.0,351.0 L161.0,349.4 L161.0,347.8 L161.0,346.2 L160.9,344.6 L161.0,343.0 L161.1,341.4 L161.3,339.8 L161.4,338.2 L161.6,336.7 L161.8,335.1 L162.1,333.5 L162.4,331.9 L162.7,330.4 L163.0,328.8 L163.4,327.3 L163.8,325.7 L164.2,324.2 L164.6,322.6 L165.1,321.1 L165.6,319.6 L166.0,318.0 L166.5,316.5 L167.1,315.0 L167.6,313.5 L168.2,312.0 L168.7,310.5 L169.3,309.0 L169.9,307.5 L170.5,306.0 L171.1,304.5 L171.7,303.0 L172.3,301.5 L173.0,300.1 L173.6,298.6 L174.3,297.1 L175.0,295.7 L175.7,294.2 L176.3,292.8 L177.0,291.3 L177.8,289.9 L178.5,288.5 L179.2,287.1 L180.0,285.6 L180.7,284.2 L181.5,282.8 L182.3,281.4 L183.1,280.0 L183.9,278.6 L184.7,277.3 L185.5,275.9 L186.3,274.5 L187.2,273.2 L188.1,271.8 L188.9,270.5 L189.8,269.1 L190.7,267.8 L191.6,266.5 L192.5,265.2 L193.5,263.9 L194.4,262.6 L195.4,261.3 L196.4,260.0 L197.3,258.8 L198.3,257.5 L199.3,256.3 L200.4,255.1 L201.4,253.8 L202.4,252.6 L203.5,251.4 L204.6,250.2 L205.6,249.0 L206.7,247.9 L207.8,246.7 L208.9,245.6 L210.0,244.4 L211.2,243.3 L212.3,242.2 L213.4,241.1 L214.6,240.0 L215.8,238.9 L216.9,237.8 L218.1,236.7 L219.3,235.6 L220.5,234.6 L221.7,233.6 L222.9,232.5 L224.2,231.5"/>
<path d="M161.0,354.5 L161.0,352.5 L161.0,350.9 L161.0,349.4 L161.0,347.8 L161.0,346.2 L160.9,344.6 L161.0,343.0 L161.1,341.4 L161.2,339.8 L161.4,338.2 L161.6,336.7 L161.8,335.1 L162.1,333.5 L162.4,331.9 L162.7,330.4 L163.0,328.8 L163.4,327.3 L163.8,325.7 L164.2,324.2 L164.6,322.6 L165.0,321.1 L165.5,319.5 L166.0,318.0 L166.5,316.5 L167.0,315.0 L167.5,313.5 L168.1,312.0 L168.6,310.5 L169.2,309.0 L169.8,307.5 L170.4,306.0 L171.0,304.5 L171.6,303.0 L172.2,301.5 L172.9,300.0 L173.5,298.6 L174.2,297.1 L174.8,295.6 L175.5,294.2 L176.2,292.7 L176.9,291.3 L177.6,289.8 L178.3,288.4 L179.1,287.0 L179.8,285.6 L180.6,284.1 L181.3,282.7 L182.1,281.3 L182.9,279.9 L183.7,278.5 L184.5,277.2 L185.3,275.8 L186.2,274.4 L187.0,273.1 L187.9,271.7 L188.7,270.4 L189.6,269.0 L190.5,267.7 L191.4,266.4 L192.3,265.1 L193.3,263.8 L194.2,262.5 L195.2,261.2 L196.2,259.9 L197.1,258.7 L198.1,257.4 L199.1,256.2 L200.2,254.9 L201.2,253.7 L202.2,252.5 L203.3,251.3 L204.4,250.1 L205.4,248.9 L206.5,247.8 L207.6,246.6 L208.7,245.5 L209.9,244.3 L211.0,243.2 L212.1,242.1 L213.3,241.0 L214.5,239.9 L215.6,238.8 L216.8,237.7 L218.0,236.6 L219.2,235.6 L220.4,234.5 L221.6,233.5 L222.9,232.5 L224.1,231.5"/>
<path d="M161.0,354.5 L161.0,352.5 L161.0,350.9 L161.0,349.3 L161.0,347.8 L161.0,346.2 L160.9,344.6 L161.0,343.0 L161.1,341.4 L161.2,339.8 L161.4,338.2 L161.6,336.7 L161.8,335.1 L162.1,333.5 L162.3,331.9 L162.7,330.4 L163.0,328.8 L163.3,327.3 L163.7,325.7 L164.1,324.2 L164.5,322.6 L165.0,321.1 L165.5,319.5 L165.9,318.0 L166.4,316.5 L166.9,315.0 L167.5,313.5 L168.0,311.9 L168.6,310.4 L169.1,308.9 L169.7,307.4 L170.3,305.9 L170.9,304.4 L171.5,303.0 L172.1,301.5 L172.8,300.0 L173.4,298.5 L174.1,297.0 L174.7,295.6 L175.4,294.1 L176.1,292.7 L176.8,291.2 L177.5,289.8 L178.2,288.3 L178.9,286.9 L179.6,285.5 L180.4,284.1 L181.2,282.6 L181.9,281.2 L182.7,279.8 L183.5,278.4 L184.3,277.1 L185.1,275.7 L186.0,274.3 L186.8,272.9 L187.7,271.6 L188.5,270.2 L189.4,268.9 L190.3,267.6 L191.2,266.3 L192.1,264.9 L193.1,263.6 L194.0,262.4 L195.0,261.1 L196.0,259.8 L196.9,258.5 L197.9,257.3 L198.9,256.0 L200.0,254.8 L201.0,253.6 L202.1,252.4 L203.1,251.2 L204.2,250.0 L205.3,248.8 L206.4,247.6 L207.5,246.5 L208.6,245.3 L209.7,244.2 L210.8,243.1 L212.0,242.0 L213.2,240.9 L214.3,239.8 L215.5,238.7 L216.7,237.6 L217.9,236.6 L219.1,235.5 L220.3,234.5 L221.5,233.5 L222.8,232.4 L224.0,231.4"/>
<path d="M160.9,354.5 L160.9,352.5 L160.9,350.9 L160.9,349.3 L160.9,347.8 L160.9,346.2 L160.9,344.6 L161.0,343.0 L161.1,341.4 L161.2,339.8 L161.4,338.2 L161.6,336.7 L161.8,335.1 L162.0,333.5 L162.3,331.9 L162.6,330.4 L163.0,328.8 L163.3,327.3 L163.7,325.7 L164.1,324.1 L164.5,322.6 L164.9,321.1 L165.4,319.5 L165.9,318.0 L166.4,316.5 L166.9,315.0 L167.4,313.4 L167.9,311.9 L168.5,310.4 L169.1,308.9 L169.6,307.4 L170.2,305.9 L170.8,304.4 L171.4,302.9 L172.0,301.4 L172.7,299.9 L173.3,298.5 L173.9,297.0 L174.6,295.5 L175.3,294.1 L175.9,292.6 L176.6,291.2 L177.3,289.7 L178.0,288.3 L178.8,286.8 L179.5,285.4 L180.2,284.0 L181.0,282.6 L181.8,281.2 L182.5,279.7 L183.3,278.4 L184.1,277.0 L185.0,275.6 L185.8,274.2 L186.6,272.8 L187.5,271.5 L188.3,270.1 L189.2,268.8 L190.1,267.5 L191.0,266.1 L191.9,264.8 L192.9,263.5 L193.8,262.2 L194.8,261.0 L195.8,259.7 L196.7,258.4 L197.7,257.2 L198.7,255.9 L199.8,254.7 L200.8,253.5 L201.9,252.3 L202.9,251.1 L204.0,249.9 L205.1,248.7 L206.2,247.5 L207.3,246.4 L208.4,245.2 L209.5,244.1 L210.7,243.0 L211.8,241.9 L213.0,240.8 L214.2,239.7 L215.4,238.6 L216.6,237.5 L217.8,236.5 L219.0,235.4 L220.2,234.4 L221.4,233.4 L222.7,232.4 L224.0,231.4"/>
<path d="M160.9,354.5 L160.9,352.5 L160.9,350.9 L160.9,349.3 L160.9,347.7 L160.9,346.2 L160.9,344.6 L161.0,343.0 L161.1,341.4 L161.2,339.8 L161.4,338.2 L161.6,336.7 L161.8,335.1 L162.0,333.5 L162.3,331.9 L162.6,330.4 L162.9,328.8 L163.3,327.2 L163.7,325.7 L164.0,324.1 L164.5,322.6 L164.9,321.1 L165.3,319.5 L165.8,318.0 L166.3,316.5 L166.8,314.9 L167.3,313.4 L167.9,311.9 L168.4,310.4 L169.0,308.9 L169.5,307.4 L170.1,305.9 L170.7,304.4 L171.3,302.9 L171.9,301.4 L172.5,299.9 L173.2,298.4 L173.8,296.9 L174.5,295.5 L175.1,294.0 L175.8,292.5 L176.5,291.1 L177.2,289.6 L177.9,288.2 L178.6,286.8 L179.3,285.3 L180.1,283.9 L180.8,282.5 L181.6,281.1 L182.4,279.7 L183.2,278.3 L184.0,276.9 L184.8,275.5 L185.6,274.1 L186.4,272.7 L187.3,271.4 L188.2,270.0 L189.0,268.7 L189.9,267.4 L190.8,266.0 L191.7,264.7 L192.7,263.4 L193.6,262.1 L194.6,260.8 L195.6,259.6 L196.5,258.3 L197.5,257.0 L198.5,255.8 L199.6,254.6 L200.6,253.3 L201.7,252.1 L202.7,250.9 L203.8,249.8 L204.9,248.6 L206.0,247.4 L207.1,246.3 L208.2,245.1 L209.4,244.0 L210.5,242.9 L211.7,241.8 L212.9,240.7 L214.0,239.6 L215.2,238.5 L216.4,237.5 L217.7,236.4 L218.9,235.4 L220.1,234.4 L221.4,233.3 L222.6,232.4 L223.9,231.4"/>
<path d="M160.9,354.5 L160.9,352.5 L160.9,350.9 L160.9,349.3 L160.9,347.7 L160.9,346.1 L160.9,344.6 L161.0,343.0 L161.1,341.4 L161.2,339.8 L161.4,338.2 L161.5,336.7 L161.8,335.1 L162.0,333.5 L162.3,331.9 L162.6,330.4 L162.9,328.8 L163.2,327.2 L163.6,325.7 L164.0,324.1 L164.4,322.6 L164.8,321.0 L165.3,319.5 L165.8,318.0 L166.3,316.4 L166.8,314.9 L167.3,313.4 L167.8,311.9 L168.3,310.4 L168.9,308.9 L169.5,307.3 L170.0,305.8 L170.6,304.3 L171.2,302.8 L171.8,301.3 L172.4,299.9 L173.1,298.4 L173.7,296.9 L174.3,295.4 L175.0,294.0 L175.7,292.5 L176.3,291.0 L177.0,289.6 L177.7,288.1 L178.5,286.7 L179.2,285.2 L179.9,283.8 L180.7,282.4 L181.4,281.0 L182.2,279.6 L183.0,278.2 L183.8,276.8 L184.6,275.4 L185.4,274.0 L186.2,272.6 L187.1,271.3 L188.0,269.9 L188.8,268.6 L189.7,267.2 L190.6,265.9 L191.5,264.6 L192.5,263.3 L193.4,262.0 L194.4,260.7 L195.3,259.4 L196.3,258.2 L197.3,256.9 L198.4,255.7 L199.4,254.4 L200.4,253.2 L201.5,252.0 L202.5,250.8 L203.6,249.6 L204.7,248.5 L205.8,247.3 L206.9,246.1 L208.1,245.0 L209.2,243.9 L210.4,242.8 L211.5,241.7 L212.7,240.6 L213.9,239.5 L215.1,238.4 L216.3,237.4 L217.5,236.3 L218.8,235.3 L220.0,234.3 L221.3,233.3 L222.5,232.3 L223.8,231.3"/>
<path d="M161.5,354.5 L161.5,352.9 L161.5,351.3 L161.5,349.6 L161.5,348.0 L161.5,346.4 L161.1,344.8 L161.2,343.2 L161.4,341.5 L161.6,339.9 L161.8,338.3 L162.0,336.7 L162.3,335.2 L162.7,333.6 L163.0,332.0 L163.4,330.5 L163.8,328.9 L164.3,327.4 L164.8,325.8 L165.3,324.3 L165.8,322.8 L166.4,321.3 L167.0,319.8 L167.6,318.3 L168.2,316.9 L168.8,315.4 L169.5,314.0 L170.2,312.5 L170.9,311.1 L171.6,309.7 L172.3,308.2 L173.0,306.8 L173.8,305.4 L174.5,304.0 L175.3,302.7 L176.1,301.3 L176.9,299.9 L177.7,298.5 L178.5,297.2 L179.3,295.8 L180.1,294.5 L181.0,293.1 L181.8,291.8 L182.7,290.4 L183.5,289.1 L184.4,287.8 L185.3,286.5 L186.2,285.2 L187.0,283.9 L187.9,282.6 L188.8,281.3 L189.8,280.0 L190.7,278.7 L191.6,277.4 L192.5,276.1 L193.4,274.8 L194.4,273.6 L195.3,272.3 L196.3,271.0 L197.2,269.8 L198.2,268.5 L199.1,267.3 L200.1,266.0 L201.0,264.8 L202.0,263.5 L203.0,262.3 L203.9,261.0 L204.9,259.8 L205.9,258.5 L206.8,257.3 L207.8,256.1 L208.8,254.8 L209.8,253.6 L210.7,252.4 L211.7,251.1 L212.7,249.9 L213.7,248.7 L214.6,247.4 L215.6,246.2 L216.6,245.0 L217.5,243.7 L218.5,242.5 L219.5,241.3 L220.4,240.0 L221.4,238.8 L222.4,237.5 L223.3,236.3 L224.3,235.1 L225.2,233.8 L226.2,232.6"/>
<path d="M161.5,354.5 L161.5,352.9 L161.5,351.2 L161.5,349.6 L161.5,348.0 L161.5,346.4 L161.1,344.8 L161.2,343.2 L161.4,341.5 L161.6,339.9 L161.8,338.3 L162.0,336.7 L162.3,335.2 L162.6,333.6 L163.0,332.0 L163.4,330.5 L163.8,328.9 L164.3,327.4 L164.7,325.8 L165.3,324.3 L165.8,322.8 L166.3,321.3 L166.9,319.8 L167.5,318.3 L168.1,316.9 L168.8,315.4 L169.4,313.9 L170.1,312.5 L170.8,311.1 L171.5,309.6 L172.2,308.2 L172.9,306.8 L173.7,305.4 L174.4,304.0 L175.2,302.6 L176.0,301.2 L176.8,299.9 L177.5,298.5 L178.4,297.1 L179.2,295.8 L180.0,294.4 L180.8,293.1 L181.7,291.7 L182.5,290.4 L183.4,289.0 L184.2,287.7 L185.1,286.4 L186.0,285.1 L186.9,283.8 L187.8,282.5 L188.7,281.2 L189.6,279.9 L190.5,278.6 L191.4,277.3 L192.3,276.0 L193.3,274.7 L194.2,273.5 L195.1,272.2 L196.1,270.9 L197.0,269.7 L198.0,268.4 L198.9,267.1 L199.9,265.9 L200.8,264.6 L201.8,263.4 L202.8,262.1 L203.7,260.9 L204.7,259.7 L205.7,258.4 L206.6,257.2 L207.6,255.9 L208.6,254.7 L209.6,253.5 L210.5,252.2 L211.5,251.0 L212.5,249.8 L213.5,248.6 L214.5,247.3 L215.4,246.1 L216.4,244.9 L217.4,243.6 L218.4,242.4 L219.3,241.2 L220.3,239.9 L221.3,238.7 L222.2,237.5 L223.2,236.2 L224.2,235.0 L225.1,233.8 L226.1,232.5"/>
<path d="M160.9,354.5 L160.9,352.5 L160.9,350.9 L160.9,349.3 L160.9,347.7 L160.9,346.2 L160.9,344.6 L161.0,343.0 L161.1,341.4 L161.2,339.8 L161.4,338.2 L161.6,336.7 L161.8,335.1 L162.0,333.5 L162.3,331.9 L162.6,330.4 L162.9,328.8 L163.3,327.2 L163.7,325.7 L164.0,324.1 L164.5,322.6 L164.9,321.1 L165.3,319.5 L165.8,318.0 L166.3,316.5 L166.8,314.9 L167.3,313.4 L167.9,311.9 L168.4,310.4 L169.0,308.9 L169.5,307.4 L170.1,305.9 L170.7,304.4 L171.3,302.9 L171.9,301.4 L172.5,299.9 L173.2,298.4 L173.8,296.9 L174.5,295.5 L175.1,294.0 L175.8,292.5 L176.5,291.1 L177.2,289.6 L177.9,288.2 L178.6,286.8 L179.3,285.3 L180.1,283.9 L180.8,282.5 L181.6,281.1 L182.4,279.7 L183.2,278.3 L184.0,276.9 L184.8,275.5 L185.6,274.1 L186.4,272.7 L187.3,271.4 L188.1,270.0 L189.0,268.7 L189.9,267.3 L190.8,266.0 L191.7,264.7 L192.7,263.4 L193.6,262.1 L194.6,260.8 L195.5,259.6 L196.5,258.3 L197.5,257.0 L198.5,255.8 L199.6,254.6 L200.6,253.3 L201.7,252.1 L202.7,250.9 L203.8,249.7 L204.9,248.6 L206.0,247.4 L207.1,246.3 L208.2,245.1 L209.4,244.0 L210.5,242.9 L211.7,241.8 L212.9,240.7 L214.0,239.6 L215.2,238.5 L216.4,237.5 L217.7,236.4 L218.9,235.4 L220.1,234.4 L221.4,233.3 L222.6,232.3 L223.9,231.4"/>
<path d="M160.9,354.5 L160.9,352.5 L160.9,350.9 L160.9,349.3 L160.9,347.7 L160.9,346.1 L160.9,344.6 L161.0,343.0 L161.1,341.4 L161.2,339.8 L161.4,338.2 L161.5,336.7 L161.8,335.1 L162.0,333.5 L162.3,331.9 L162.6,330.4 L162.9,328.8 L163.2,327.2 L163.6,325.7 L164.0,324.1 L164.4,322.6 L164.8,321.0 L165.3,319.5 L165.8,318.0 L166.3,316.4 L166.8,314.9 L167.3,313.4 L167.8,311.9 L168.3,310.4 L168.9,308.9 L169.5,307.3 L170.0,305.8 L170.6,304.3 L171.2,302.8 L171.8,301.3 L172.4,299.9 L173.1,298.4 L173.7,296.9 L174.3,295.4 L175.0,294.0 L175.7,292.5 L176.3,291.0 L177.0,289.6 L177.7,288.1 L178.5,286.7 L179.2,285.2 L179.9,283.8 L180.7,282.4 L181.4,281.0 L182.2,279.6 L183.0,278.2 L183.8,276.8 L184.6,275.4 L185.4,274.0 L186.2,272.6 L187.1,271.3 L188.0,269.9 L188.8,268.6 L189.7,267.2 L190.6,265.9 L191.5,264.6 L192.5,263.3 L193.4,262.0 L194.4,260.7 L195.3,259.4 L196.3,258.2 L197.3,256.9 L198.4,255.7 L199.4,254.4 L200.4,253.2 L201.5,252.0 L202.5,250.8 L203.6,249.6 L204.7,248.5 L205.8,247.3 L206.9,246.1 L208.1,245.0 L209.2,243.9 L210.4,242.8 L211.5,241.7 L212.7,240.6 L213.9,239.5 L215.1,238.4 L216.3,237.4 L217.5,236.3 L218.8,235.3 L220.0,234.3 L221.3,233.3 L222.5,232.3 L223.8,231.3"/>
</g>
<g transform="translate(201.0,0)" fill="none" stroke="#fc8d62" stroke-width="3.6" stroke-opacity="0.5" stroke-linecap="round" stroke-linejoin="round">
<path d="M161.3,354.6 L161.3,352.8 L161.3,351.2 L161.3,349.5 L161.3,347.8 L161.3,346.2 L161.2,344.5 L161.3,342.9 L161.5,341.3 L161.7,339.7 L162.0,338.1 L162.3,336.5 L162.7,334.9 L163.1,333.3 L163.6,331.8 L164.1,330.2 L164.7,328.7 L165.2,327.1 L165.9,325.6 L166.5,324.1 L167.1,322.6 L167.8,321.1 L168.4,319.6 L169.1,318.1 L169.8,316.6 L170.6,315.2 L171.3,313.7 L172.0,312.3 L172.8,310.9 L173.6,309.5 L174.4,308.1 L175.1,306.7 L175.9,305.3 L176.7,304.0 L177.5,302.6 L178.3,301.3 L179.1,299.9 L179.9,298.6 L180.6,297.2 L181.4,295.9 L182.2,294.6 L183.0,293.2 L183.8,291.9 L184.7,290.6 L185.5,289.3 L186.4,288.0 L187.4,286.7 L188.3,285.5 L189.4,284.2 L190.4,283.0 L191.5,281.8 L192.7,280.6 L193.9,279.4 L195.1,278.3 L196.3,277.1 L197.5,276.0 L198.8,274.8 L200.0,273.7 L201.2,272.5 L202.4,271.3 L203.5,270.1 L204.5,268.9 L205.5,267.7 L206.5,266.4 L207.3,265.1 L208.1,263.8 L208.9,262.4 L209.5,261.0 L210.2,259.6 L210.8,258.2 L211.4,256.7 L211.9,255.3 L212.5,253.8 L213.1,252.4 L213.7,251.0 L214.4,249.6 L215.1,248.2 L215.8,246.8 L216.6,245.5 L217.5,244.2 L218.4,242.9 L219.3,241.6 L220.2,240.4 L221.1,239.1 L222.1,237.8 L222.9,236.6 L223.8,235.3"/>
<path d="M161.4,354.6 L161.4,352.9 L161.4,351.2 L161.4,349.5 L161.4,347.8 L161.4,346.2 L161.3,344.5 L161.4,342.9 L161.6,341.2 L161.9,339.6 L162.2,338.0 L162.5,336.4 L162.9,334.8 L163.4,333.2 L163.9,331.6 L164.4,330.1 L165.0,328.5 L165.6,327.0 L166.2,325.5 L166.9,324.0 L167.5,322.5 L168.2,321.0 L168.9,319.5 L169.6,318.1 L170.3,316.6 L171.1,315.2 L171.8,313.8 L172.6,312.3 L173.4,310.9 L174.2,309.6 L175.1,308.2 L175.9,306.8 L176.8,305.5 L177.8,304.2 L178.7,302.9 L179.7,301.6 L180.8,300.3 L181.8,299.1 L182.9,297.8 L184.1,296.6 L185.2,295.4 L186.3,294.2 L187.5,293.0 L188.6,291.8 L189.7,290.6 L190.8,289.4 L191.8,288.2 L192.8,287.0 L193.8,285.8 L194.7,284.5 L195.5,283.2 L196.3,281.9 L197.1,280.6 L197.8,279.3 L198.5,278.0 L199.1,276.6 L199.8,275.2 L200.5,273.9 L201.2,272.5 L201.9,271.2 L202.6,269.8 L203.5,268.5 L204.4,267.2 L205.3,265.9 L206.4,264.7 L207.5,263.5 L208.7,262.3 L210.0,261.2 L211.3,260.0 L212.6,258.9 L214.0,257.8 L215.4,256.7 L216.8,255.6 L218.1,254.4 L219.4,253.3 L220.6,252.1 L221.7,250.8 L222.7,249.6 L223.7,248.2 L224.4,246.9 L225.1,245.5 L225.7,244.0 L226.1,242.5 L226.4,241.0 L226.7,239.4 L226.9,237.9 L227.0,236.3 L227.1,234.8"/>
<path d="M161.4,354.6 L161.4,352.9 L161.4,351.2 L161.4,349.5 L161.4,347.9 L161.4,346.2 L161.3,344.5 L161.5,342.9 L161.7,341.2 L161.9,339.6 L162.3,338.0 L162.6,336.4 L163.0,334.8 L163.5,333.2 L164.0,331.6 L164.6,330.0 L165.1,328.5 L165.8,326.9 L166.4,325.4 L167.1,323.9 L167.8,322.4 L168.5,320.9 L169.3,319.5 L170.1,318.0 L170.9,316.6 L171.7,315.2 L172.6,313.8 L173.5,312.4 L174.4,311.0 L175.4,309.7 L176.3,308.4 L177.3,307.1 L178.4,305.8 L179.4,304.5 L180.5,303.2 L181.6,302.0 L182.7,300.8 L183.9,299.6 L185.0,298.4 L186.2,297.2 L187.4,296.0 L188.6,294.8 L189.8,293.7 L191.0,292.6 L192.3,291.4 L193.5,290.3 L194.7,289.1 L195.9,288.0 L197.0,286.9 L198.2,285.7 L199.3,284.6 L200.4,283.4 L201.5,282.2 L202.5,281.1 L203.5,279.9 L204.5,278.6 L205.4,277.4 L206.3,276.2 L207.2,274.9 L208.0,273.6 L208.8,272.3 L209.6,271.0 L210.3,269.6 L211.1,268.3 L211.8,266.9 L212.4,265.5 L213.1,264.1 L213.7,262.7 L214.4,261.3 L215.0,259.9 L215.7,258.5 L216.3,257.1 L217.0,255.7 L217.6,254.2 L218.3,252.8 L219.0,251.4 L219.7,250.0 L220.4,248.6 L221.1,247.2 L221.8,245.9 L222.5,244.5 L223.2,243.1 L223.9,241.7 L224.6,240.3 L225.3,239.0 L226.0,237.6 L226.6,236.2 L227.2,234.8 L227.8,233.4"/>
<path d="M161.1,354.6 L161.1,352.8 L161.1,351.1 L161.1,349.4 L161.1,347.8 L161.1,346.1 L161.1,344.5 L161.2,342.9 L161.2,341.3 L161.4,339.8 L161.6,338.2 L161.9,336.7 L162.2,335.1 L162.6,333.6 L163.1,332.0 L163.5,330.5 L164.0,328.9 L164.6,327.4 L165.1,325.9 L165.6,324.3 L166.2,322.8 L166.7,321.2 L167.2,319.7 L167.8,318.2 L168.3,316.6 L168.8,315.1 L169.3,313.6 L169.9,312.1 L170.4,310.6 L170.9,309.1 L171.5,307.7 L172.0,306.2 L172.6,304.7 L173.2,303.3 L173.7,301.8 L174.3,300.4 L174.9,298.9 L175.5,297.5 L176.1,296.1 L176.7,294.6 L177.4,293.2 L178.0,291.8 L178.6,290.4 L179.3,288.9 L179.9,287.5 L180.6,286.1 L181.3,284.7 L181.9,283.3 L182.6,281.9 L183.3,280.5 L184.0,279.1 L184.7,277.7 L185.4,276.3 L186.1,274.9 L186.8,273.5 L187.5,272.2 L188.2,270.8 L189.0,269.4 L189.7,268.0 L190.4,266.6 L191.2,265.3 L192.0,263.9 L192.7,262.5 L193.5,261.2 L194.3,259.8 L195.1,258.5 L196.0,257.1 L196.8,255.8 L197.6,254.4 L198.5,253.1 L199.4,251.8 L200.2,250.5 L201.1,249.2 L202.1,247.9 L203.0,246.7 L203.9,245.4 L204.9,244.2 L205.9,242.9 L206.8,241.7 L207.8,240.5 L208.9,239.3 L209.9,238.1 L210.9,237.0 L211.9,235.8 L213.0,234.7 L214.0,233.5 L215.1,232.4 L216.1,231.3 L217.2,230.3"/>
<path d="M161.5,354.6 L161.5,352.9 L161.5,351.2 L161.5,349.6 L161.5,347.9 L161.5,346.2 L161.3,344.5 L161.5,342.9 L161.7,341.2 L162.0,339.6 L162.3,337.9 L162.7,336.3 L163.2,334.7 L163.6,333.1 L164.2,331.5 L164.7,330.0 L165.3,328.4 L166.0,326.9 L166.6,325.3 L167.4,323.8 L168.1,322.4 L168.9,320.9 L169.7,319.4 L170.5,318.0 L171.4,316.6 L172.3,315.2 L173.3,313.8 L174.2,312.5 L175.2,311.1 L176.2,309.8 L177.2,308.5 L178.3,307.2 L179.4,306.0 L180.4,304.7 L181.5,303.4 L182.6,302.2 L183.7,301.0 L184.8,299.8 L185.9,298.6 L187.0,297.4 L188.1,296.2 L189.3,295.0 L190.4,293.9 L191.5,292.7 L192.6,291.5 L193.7,290.3 L194.7,289.2 L195.8,288.0 L196.8,286.8 L197.9,285.6 L198.9,284.4 L199.9,283.2 L201.0,282.1 L202.0,280.9 L203.0,279.7 L204.0,278.5 L205.1,277.3 L206.1,276.1 L207.2,274.9 L208.2,273.7 L209.3,272.5 L210.3,271.3 L211.4,270.1 L212.5,268.9 L213.6,267.6 L214.7,266.4 L215.7,265.2 L216.8,264.0 L217.9,262.7 L218.9,261.5 L219.9,260.2 L220.9,258.9 L221.8,257.6 L222.7,256.3 L223.6,255.0 L224.4,253.6 L225.1,252.2 L225.8,250.8 L226.4,249.3 L227.0,247.9 L227.5,246.4 L227.9,244.9 L228.3,243.3 L228.6,241.8 L228.9,240.2 L229.1,238.6 L229.3,237.1"/>
<path d="M161.0,354.6 L161.0,352.7 L161.0,351.0 L161.0,349.4 L161.0,347.7 L161.0,346.1 L161.1,344.5 L161.1,342.9 L161.1,341.3 L161.2,339.8 L161.4,338.3 L161.7,336.7 L162.0,335.2 L162.4,333.7 L162.8,332.1 L163.3,330.6 L163.7,329.1 L164.2,327.5 L164.7,326.0 L165.2,324.4 L165.7,322.9 L166.2,321.3 L166.6,319.8 L167.1,318.2 L167.5,316.7 L168.0,315.1 L168.4,313.6 L168.9,312.0 L169.3,310.5 L169.8,309.0 L170.2,307.5 L170.7,306.0 L171.2,304.5 L171.7,303.0 L172.2,301.5 L172.7,300.0 L173.2,298.5 L173.7,297.0 L174.3,295.6 L174.9,294.1 L175.4,292.7 L176.0,291.2 L176.6,289.8 L177.2,288.3 L177.9,286.9 L178.5,285.4 L179.1,284.0 L179.8,282.6 L180.4,281.2 L181.1,279.8 L181.8,278.3 L182.5,276.9 L183.2,275.5 L183.9,274.1 L184.6,272.7 L185.3,271.3 L186.0,269.9 L186.7,268.5 L187.5,267.1 L188.2,265.7 L188.9,264.4 L189.7,263.0 L190.4,261.6 L191.2,260.2 L192.0,258.8 L192.7,257.5 L193.5,256.1 L194.3,254.8 L195.1,253.4 L196.0,252.1 L196.8,250.8 L197.7,249.5 L198.5,248.2 L199.4,246.9 L200.4,245.6 L201.3,244.4 L202.3,243.1 L203.3,241.9 L204.3,240.7 L205.4,239.5 L206.4,238.4 L207.5,237.2 L208.6,236.1 L209.8,235.0 L210.9,233.9 L212.1,232.9 L213.2,231.8 L214.4,230.8 L215.6,229.8"/>
<path d="M161.3,354.6 L161.3,352.8 L161.3,351.2 L161.3,349.5 L161.3,347.8 L161.3,346.2 L161.2,344.5 L161.3,342.9 L161.5,341.3 L161.7,339.7 L162.0,338.1 L162.3,336.5 L162.7,334.9 L163.2,333.3 L163.7,331.7 L164.2,330.2 L164.7,328.6 L165.3,327.1 L165.9,325.6 L166.6,324.1 L167.2,322.5 L167.9,321.0 L168.5,319.6 L169.2,318.1 L169.9,316.6 L170.6,315.2 L171.4,313.7 L172.1,312.3 L172.8,310.9 L173.6,309.5 L174.4,308.1 L175.1,306.7 L175.9,305.3 L176.7,304.0 L177.6,302.6 L178.4,301.3 L179.2,299.9 L180.1,298.6 L180.9,297.3 L181.8,296.0 L182.6,294.7 L183.5,293.4 L184.4,292.1 L185.3,290.8 L186.2,289.5 L187.1,288.2 L188.0,287.0 L188.9,285.7 L189.9,284.4 L190.8,283.1 L191.7,281.9 L192.7,280.6 L193.6,279.4 L194.6,278.1 L195.5,276.8 L196.5,275.6 L197.5,274.3 L198.4,273.1 L199.4,271.8 L200.4,270.6 L201.4,269.3 L202.3,268.0 L203.3,266.8 L204.3,265.5 L205.3,264.3 L206.2,263.0 L207.2,261.7 L208.2,260.4 L209.1,259.2 L210.1,257.9 L211.0,256.6 L212.0,255.3 L212.9,254.0 L213.8,252.7 L214.7,251.4 L215.6,250.1 L216.4,248.7 L217.2,247.4 L218.1,246.1 L218.9,244.7 L219.6,243.4 L220.4,242.0 L221.1,240.7 L221.8,239.3 L222.5,238.0 L223.1,236.6 L223.7,235.3 L224.3,233.9 L224.9,232.5"/>
<path d="M161.2,354.6 L161.2,352.8 L161.2,351.1 L161.2,349.5 L161.2,347.8 L161.2,346.1 L161.2,344.5 L161.3,342.9 L161.4,341.3 L161.6,339.7 L161.8,338.1 L162.2,336.5 L162.5,335.0 L163.0,333.4 L163.4,331.9 L163.9,330.3 L164.5,328.8 L165.0,327.2 L165.6,325.7 L166.2,324.1 L166.8,322.6 L167.5,321.1 L168.1,319.6 L168.7,318.1 L169.4,316.6 L170.0,315.2 L170.7,313.7 L171.4,312.2 L172.0,310.8 L172.7,309.4 L173.4,307.9 L174.1,306.5 L174.8,305.1 L175.6,303.7 L176.3,302.3 L177.0,301.0 L177.7,299.6 L178.5,298.2 L179.2,296.8 L179.9,295.5 L180.6,294.1 L181.4,292.7 L182.1,291.4 L182.8,290.0 L183.5,288.7 L184.2,287.3 L185.0,285.9 L185.7,284.6 L186.4,283.2 L187.1,281.9 L187.9,280.5 L188.6,279.2 L189.4,277.8 L190.2,276.5 L191.0,275.1 L191.8,273.8 L192.6,272.5 L193.5,271.2 L194.4,269.8 L195.3,268.5 L196.2,267.2 L197.1,265.9 L198.1,264.7 L199.0,263.4 L200.0,262.1 L201.0,260.9 L202.0,259.6 L203.0,258.3 L204.1,257.1 L205.1,255.8 L206.1,254.6 L207.2,253.3 L208.2,252.1 L209.2,250.8 L210.2,249.6 L211.2,248.3 L212.2,247.1 L213.2,245.8 L214.1,244.5 L215.1,243.3 L216.0,242.0 L216.9,240.7 L217.8,239.5 L218.6,238.2 L219.4,236.9 L220.2,235.6 L221.0,234.4 L221.8,233.1"/>
<path d="M161.3,354.6 L161.3,352.8 L161.3,351.2 L161.3,349.5 L161.3,347.8 L161.3,346.2 L161.2,344.5 L161.3,342.9 L161.5,341.3 L161.7,339.7 L162.0,338.1 L162.3,336.5 L162.7,334.9 L163.1,333.3 L163.6,331.8 L164.1,330.2 L164.7,328.7 L165.3,327.1 L165.9,325.6 L166.5,324.1 L167.1,322.6 L167.8,321.1 L168.4,319.6 L169.1,318.1 L169.8,316.6 L170.5,315.2 L171.2,313.7 L171.9,312.3 L172.7,310.9 L173.5,309.5 L174.2,308.1 L175.1,306.7 L175.9,305.3 L176.8,304.0 L177.7,302.6 L178.6,301.3 L179.5,300.0 L180.5,298.7 L181.4,297.4 L182.4,296.1 L183.4,294.9 L184.3,293.6 L185.3,292.4 L186.3,291.1 L187.2,289.8 L188.2,288.6 L189.1,287.3 L190.1,286.1 L191.0,284.8 L191.9,283.5 L192.7,282.2 L193.6,281.0 L194.5,279.7 L195.3,278.4 L196.2,277.1 L197.0,275.8 L197.9,274.5 L198.7,273.2 L199.6,271.9 L200.6,270.6 L201.5,269.4 L202.5,268.1 L203.5,266.9 L204.5,265.6 L205.6,264.4 L206.7,263.2 L207.9,262.0 L209.1,260.8 L210.2,259.6 L211.4,258.4 L212.6,257.2 L213.8,256.1 L215.0,254.9 L216.2,253.6 L217.3,252.4 L218.3,251.2 L219.4,249.9 L220.3,248.6 L221.2,247.3 L222.0,245.9 L222.7,244.6 L223.4,243.2 L224.0,241.7 L224.5,240.3 L224.9,238.8 L225.3,237.3 L225.6,235.9"/>
<path d="M161.2,354.6 L161.2,352.8 L161.2,351.1 L161.2,349.5 L161.2,347.8 L161.2,346.1 L161.2,344.5 L161.3,342.9 L161.4,341.3 L161.6,339.7 L161.8,338.1 L162.1,336.6 L162.5,335.0 L162.9,333.4 L163.4,331.9 L163.9,330.3 L164.4,328.8 L165.0,327.2 L165.6,325.7 L166.2,324.2 L166.8,322.6 L167.4,321.1 L168.0,319.6 L168.7,318.1 L169.3,316.6 L169.9,315.2 L170.6,313.7 L171.2,312.2 L171.9,310.8 L172.5,309.3 L173.2,307.9 L173.8,306.5 L174.5,305.1 L175.2,303.7 L175.8,302.3 L176.5,300.9 L177.2,299.5 L177.9,298.1 L178.6,296.7 L179.3,295.3 L180.1,294.0 L180.9,292.6 L181.7,291.3 L182.5,289.9 L183.3,288.6 L184.2,287.3 L185.2,286.0 L186.1,284.7 L187.1,283.5 L188.1,282.2 L189.1,280.9 L190.2,279.7 L191.2,278.5 L192.3,277.3 L193.4,276.0 L194.4,274.8 L195.5,273.6 L196.5,272.3 L197.5,271.1 L198.5,269.8 L199.4,268.5 L200.3,267.2 L201.2,265.9 L202.0,264.6 L202.8,263.3 L203.6,261.9 L204.3,260.5 L205.1,259.2 L205.8,257.8 L206.5,256.4 L207.2,255.0 L207.9,253.6 L208.6,252.2 L209.3,250.9 L210.1,249.5 L210.9,248.2 L211.7,246.9 L212.6,245.6 L213.5,244.3 L214.4,243.0 L215.4,241.8 L216.3,240.5 L217.3,239.3 L218.2,238.0 L219.2,236.8 L220.1,235.6 L221.0,234.4 L221.8,233.1 L222.6,231.9"/>
<path d="M161.4,354.6 L161.4,352.9 L161.4,351.2 L161.4,349.5 L161.4,347.9 L161.4,346.2 L161.3,344.5 L161.4,342.9 L161.7,341.2 L161.9,339.6 L162.2,338.0 L162.6,336.4 L163.0,334.8 L163.5,333.2 L164.0,331.6 L164.5,330.0 L165.1,328.5 L165.8,326.9 L166.4,325.4 L167.1,323.9 L167.8,322.4 L168.5,320.9 L169.2,319.5 L170.0,318.0 L170.7,316.6 L171.5,315.2 L172.3,313.8 L173.1,312.4 L173.9,311.0 L174.7,309.6 L175.6,308.3 L176.4,306.9 L177.3,305.6 L178.2,304.3 L179.1,302.9 L180.1,301.7 L181.1,300.4 L182.1,299.1 L183.1,297.9 L184.2,296.6 L185.4,295.4 L186.5,294.2 L187.7,293.1 L188.9,291.9 L190.1,290.7 L191.3,289.6 L192.6,288.4 L193.8,287.3 L195.0,286.2 L196.2,285.0 L197.4,283.9 L198.5,282.7 L199.6,281.6 L200.7,280.4 L201.7,279.2 L202.7,277.9 L203.6,276.7 L204.5,275.4 L205.3,274.1 L206.0,272.8 L206.8,271.5 L207.5,270.1 L208.2,268.8 L208.9,267.4 L209.5,266.0 L210.2,264.6 L210.9,263.2 L211.6,261.9 L212.4,260.5 L213.2,259.1 L214.0,257.8 L214.9,256.5 L215.8,255.2 L216.8,253.9 L217.8,252.6 L218.8,251.4 L219.9,250.1 L220.9,248.9 L222.0,247.6 L223.1,246.3 L224.1,245.1 L225.0,243.8 L225.9,242.5 L226.8,241.1 L227.5,239.7 L228.2,238.3 L228.7,236.9"/>
<path d="M161.3,354.6 L161.3,352.8 L161.3,351.2 L161.3,349.5 L161.3,347.8 L161.3,346.2 L161.2,344.5 L161.3,342.9 L161.5,341.3 L161.7,339.7 L161.9,338.1 L162.3,336.5 L162.6,334.9 L163.1,333.4 L163.6,331.8 L164.1,330.2 L164.6,328.7 L165.2,327.2 L165.8,325.6 L166.4,324.1 L167.0,322.6 L167.6,321.1 L168.3,319.6 L168.9,318.1 L169.6,316.6 L170.3,315.2 L171.0,313.7 L171.7,312.3 L172.4,310.8 L173.1,309.4 L173.9,308.0 L174.7,306.6 L175.5,305.2 L176.3,303.9 L177.1,302.5 L178.0,301.2 L178.8,299.8 L179.7,298.5 L180.6,297.2 L181.4,295.9 L182.3,294.6 L183.2,293.3 L184.1,292.0 L185.0,290.7 L185.9,289.4 L186.8,288.1 L187.7,286.8 L188.6,285.5 L189.4,284.3 L190.3,283.0 L191.2,281.7 L192.1,280.4 L192.9,279.1 L193.8,277.8 L194.7,276.5 L195.6,275.2 L196.5,274.0 L197.4,272.7 L198.3,271.4 L199.2,270.1 L200.1,268.8 L201.0,267.5 L202.0,266.2 L202.9,265.0 L203.8,263.7 L204.8,262.4 L205.7,261.1 L206.7,259.8 L207.6,258.5 L208.5,257.2 L209.5,256.0 L210.4,254.7 L211.4,253.4 L212.3,252.1 L213.2,250.8 L214.1,249.5 L215.0,248.2 L215.9,246.9 L216.8,245.6 L217.7,244.3 L218.5,243.0 L219.4,241.7 L220.2,240.3 L220.9,239.0 L221.7,237.7 L222.4,236.4 L223.0,235.0"/>
<path d="M161.3,354.6 L161.3,352.8 L161.3,351.1 L161.3,349.5 L161.3,347.8 L161.3,346.2 L161.2,344.5 L161.3,342.9 L161.4,341.3 L161.6,339.7 L161.9,338.1 L162.2,336.5 L162.6,335.0 L163.0,333.4 L163.5,331.8 L164.0,330.3 L164.6,328.7 L165.1,327.2 L165.7,325.6 L166.3,324.1 L167.0,322.6 L167.6,321.1 L168.2,319.6 L168.9,318.1 L169.6,316.6 L170.2,315.2 L170.9,313.7 L171.6,312.3 L172.2,310.8 L172.9,309.4 L173.5,308.0 L174.2,306.5 L174.8,305.1 L175.5,303.7 L176.2,302.3 L176.8,300.9 L177.5,299.5 L178.3,298.2 L179.0,296.8 L179.8,295.4 L180.6,294.1 L181.5,292.8 L182.4,291.5 L183.3,290.2 L184.3,288.9 L185.3,287.6 L186.3,286.4 L187.4,285.2 L188.5,283.9 L189.6,282.7 L190.6,281.5 L191.7,280.3 L192.7,279.0 L193.7,277.8 L194.7,276.5 L195.6,275.2 L196.5,273.9 L197.3,272.6 L198.1,271.3 L198.9,270.0 L199.7,268.6 L200.4,267.3 L201.2,265.9 L202.0,264.6 L202.8,263.3 L203.7,262.0 L204.7,260.7 L205.7,259.4 L206.8,258.2 L208.0,257.0 L209.3,255.9 L210.6,254.7 L211.9,253.6 L213.3,252.5 L214.7,251.4 L216.1,250.3 L217.5,249.1 L218.8,248.0 L220.0,246.8 L221.1,245.6 L222.1,244.3 L223.0,243.0 L223.7,241.6 L224.3,240.2 L224.8,238.8 L225.2,237.3 L225.5,235.8"/>
<path d="M161.2,354.6 L161.2,352.8 L161.2,351.1 L161.2,349.5 L161.2,347.8 L161.3,346.2 L161.2,344.5 L161.3,342.9 L161.4,341.3 L161.6,339.7 L161.9,338.1 L162.2,336.5 L162.6,335.0 L163.0,333.4 L163.5,331.8 L164.0,330.3 L164.5,328.7 L165.1,327.2 L165.7,325.7 L166.3,324.1 L166.9,322.6 L167.5,321.1 L168.1,319.6 L168.7,318.1 L169.3,316.6 L169.9,315.2 L170.6,313.7 L171.2,312.2 L171.8,310.8 L172.4,309.3 L173.0,307.9 L173.6,306.5 L174.3,305.0 L174.9,303.6 L175.5,302.2 L176.1,300.8 L176.8,299.4 L177.4,298.0 L178.1,296.6 L178.8,295.2 L179.5,293.8 L180.2,292.4 L181.0,291.1 L181.9,289.7 L182.7,288.4 L183.6,287.1 L184.6,285.8 L185.6,284.5 L186.6,283.3 L187.7,282.1 L188.8,280.8 L189.9,279.6 L191.1,278.4 L192.3,277.2 L193.5,276.1 L194.7,274.9 L195.9,273.7 L197.1,272.5 L198.3,271.4 L199.4,270.2 L200.6,269.0 L201.8,267.8 L203.0,266.6 L204.1,265.5 L205.2,264.3 L206.4,263.0 L207.5,261.8 L208.6,260.6 L209.8,259.4 L210.9,258.2 L212.0,257.0 L213.2,255.8 L214.3,254.6 L215.4,253.3 L216.5,252.1 L217.6,250.9 L218.6,249.6 L219.6,248.3 L220.6,247.0 L221.5,245.7 L222.3,244.4 L223.0,243.0 L223.7,241.6 L224.3,240.2 L224.8,238.8 L225.2,237.3 L225.5,235.8 L225.7,234.3"/>
<path d="M161.3,354.6 L161.3,352.9 L161.3,351.2 L161.3,349.5 L161.3,347.8 L161.3,346.2 L161.3,344.5 L161.4,342.9 L161.5,341.3 L161.8,339.6 L162.1,338.0 L162.4,336.4 L162.8,334.9 L163.2,333.3 L163.7,331.7 L164.3,330.2 L164.8,328.6 L165.4,327.1 L166.0,325.5 L166.7,324.0 L167.3,322.5 L168.0,321.0 L168.7,319.5 L169.4,318.1 L170.1,316.6 L170.8,315.2 L171.5,313.7 L172.3,312.3 L173.1,310.9 L173.8,309.5 L174.7,308.1 L175.5,306.8 L176.3,305.4 L177.2,304.1 L178.0,302.7 L178.9,301.4 L179.8,300.1 L180.7,298.8 L181.6,297.5 L182.5,296.2 L183.4,294.9 L184.3,293.6 L185.3,292.3 L186.2,291.1 L187.1,289.8 L188.0,288.5 L189.0,287.3 L189.9,286.0 L190.8,284.7 L191.7,283.5 L192.6,282.2 L193.5,280.9 L194.4,279.7 L195.4,278.4 L196.3,277.1 L197.2,275.9 L198.2,274.6 L199.1,273.4 L200.1,272.1 L201.1,270.9 L202.1,269.6 L203.2,268.4 L204.2,267.1 L205.3,265.9 L206.3,264.7 L207.4,263.5 L208.5,262.2 L209.6,261.0 L210.7,259.8 L211.8,258.6 L212.9,257.3 L213.9,256.1 L215.0,254.8 L216.0,253.6 L217.0,252.3 L217.9,251.0 L218.8,249.7 L219.7,248.4 L220.5,247.0 L221.3,245.7 L222.0,244.3 L222.7,242.9 L223.3,241.5 L223.9,240.1 L224.5,238.7 L225.0,237.2 L225.5,235.8"/>
<path d="M161.3,354.6 L161.3,352.8 L161.3,351.1 L161.3,349.5 L161.3,347.8 L161.3,346.2 L161.2,344.5 L161.3,342.9 L161.4,341.3 L161.6,339.7 L161.9,338.1 L162.2,336.5 L162.6,334.9 L163.0,333.4 L163.5,331.8 L164.0,330.3 L164.6,328.7 L165.2,327.2 L165.8,325.6 L166.4,324.1 L167.0,322.6 L167.6,321.1 L168.3,319.6 L168.9,318.1 L169.6,316.6 L170.3,315.2 L171.0,313.7 L171.7,312.3 L172.4,310.8 L173.1,309.4 L173.8,308.0 L174.6,306.6 L175.3,305.2 L176.1,303.8 L176.8,302.5 L177.6,301.1 L178.4,299.7 L179.2,298.4 L180.0,297.1 L180.8,295.7 L181.6,294.4 L182.4,293.1 L183.3,291.7 L184.1,290.4 L184.9,289.1 L185.8,287.8 L186.6,286.5 L187.5,285.2 L188.4,283.9 L189.2,282.6 L190.1,281.3 L191.0,280.0 L191.9,278.7 L192.9,277.5 L193.8,276.2 L194.7,274.9 L195.7,273.6 L196.6,272.4 L197.6,271.1 L198.6,269.9 L199.6,268.6 L200.6,267.3 L201.6,266.1 L202.6,264.8 L203.6,263.6 L204.6,262.3 L205.6,261.1 L206.6,259.8 L207.6,258.5 L208.6,257.3 L209.6,256.0 L210.6,254.7 L211.5,253.4 L212.5,252.2 L213.4,250.9 L214.3,249.6 L215.2,248.3 L216.1,246.9 L216.9,245.6 L217.7,244.3 L218.5,243.0 L219.3,241.6 L220.0,240.3 L220.7,238.9 L221.3,237.6 L221.9,236.2"/>
<path d="M161.0,354.6 L161.0,352.7 L161.0,351.1 L161.0,349.4 L161.0,347.7 L161.0,346.1 L161.1,344.5 L161.1,342.9 L161.1,341.3 L161.3,339.8 L161.5,338.3 L161.7,336.7 L162.1,335.2 L162.4,333.6 L162.9,332.1 L163.3,330.6 L163.8,329.0 L164.3,327.5 L164.8,325.9 L165.3,324.4 L165.8,322.8 L166.3,321.3 L166.8,319.7 L167.3,318.2 L167.7,316.7 L168.2,315.1 L168.7,313.6 L169.1,312.1 L169.6,310.5 L170.0,309.0 L170.5,307.5 L171.0,306.0 L171.4,304.5 L171.9,303.0 L172.4,301.5 L172.9,300.1 L173.4,298.6 L174.0,297.1 L174.5,295.6 L175.1,294.2 L175.6,292.7 L176.2,291.3 L176.9,289.8 L177.5,288.4 L178.1,287.0 L178.8,285.5 L179.5,284.1 L180.2,282.7 L180.9,281.3 L181.7,280.0 L182.5,278.6 L183.3,277.2 L184.1,275.9 L184.9,274.5 L185.8,273.2 L186.6,271.8 L187.5,270.5 L188.3,269.1 L189.2,267.8 L190.1,266.5 L191.0,265.2 L191.8,263.8 L192.7,262.5 L193.5,261.2 L194.4,259.8 L195.2,258.5 L196.0,257.1 L196.8,255.8 L197.6,254.4 L198.4,253.1 L199.1,251.7 L199.9,250.4 L200.7,249.0 L201.4,247.7 L202.2,246.3 L203.0,245.0 L203.8,243.7 L204.6,242.4 L205.5,241.2 L206.4,239.9 L207.3,238.7 L208.2,237.5 L209.2,236.3 L210.2,235.2 L211.2,234.0 L212.3,233.0 L213.4,231.9"/>
<path d="M161.2,354.6 L161.2,352.8 L161.2,351.1 L161.2,349.5 L161.2,347.8 L161.2,346.1 L161.2,344.5 L161.3,342.9 L161.4,341.3 L161.6,339.7 L161.8,338.1 L162.1,336.6 L162.5,335.0 L162.9,333.4 L163.4,331.9 L163.9,330.3 L164.4,328.8 L165.0,327.2 L165.6,325.7 L166.1,324.2 L166.7,322.6 L167.3,321.1 L167.9,319.6 L168.5,318.1 L169.2,316.6 L169.8,315.1 L170.4,313.7 L171.0,312.2 L171.7,310.8 L172.3,309.3 L173.0,307.9 L173.6,306.5 L174.3,305.0 L175.0,303.6 L175.7,302.2 L176.4,300.8 L177.2,299.5 L177.9,298.1 L178.7,296.7 L179.5,295.4 L180.4,294.0 L181.2,292.7 L182.1,291.4 L183.0,290.1 L183.9,288.8 L184.8,287.5 L185.8,286.2 L186.7,284.9 L187.7,283.7 L188.7,282.4 L189.7,281.1 L190.6,279.9 L191.6,278.6 L192.6,277.4 L193.6,276.1 L194.6,274.9 L195.6,273.6 L196.5,272.3 L197.5,271.1 L198.4,269.8 L199.3,268.5 L200.2,267.2 L201.1,265.9 L201.9,264.6 L202.7,263.2 L203.6,261.9 L204.3,260.5 L205.1,259.2 L205.9,257.8 L206.6,256.4 L207.3,255.1 L208.1,253.7 L208.8,252.3 L209.5,251.0 L210.2,249.6 L211.0,248.2 L211.7,246.9 L212.5,245.5 L213.3,244.2 L214.1,242.9 L214.8,241.6 L215.7,240.3 L216.5,239.0 L217.3,237.7 L218.1,236.5 L219.0,235.2"/>
<path d="M161.4,354.6 L161.4,352.9 L161.4,351.2 L161.4,349.5 L161.4,347.8 L161.4,346.2 L161.3,344.5 L161.4,342.9 L161.6,341.2 L161.8,339.6 L162.1,338.0 L162.5,336.4 L162.9,334.8 L163.3,333.3 L163.8,331.7 L164.3,330.1 L164.9,328.6 L165.5,327.0 L166.2,325.5 L166.8,324.0 L167.5,322.5 L168.2,321.0 L169.0,319.5 L169.7,318.1 L170.5,316.6 L171.4,315.2 L172.2,313.8 L173.1,312.4 L174.0,311.0 L174.9,309.6 L175.8,308.3 L176.7,307.0 L177.7,305.6 L178.6,304.3 L179.5,303.0 L180.5,301.7 L181.4,300.4 L182.3,299.2 L183.2,297.9 L184.0,296.6 L184.9,295.3 L185.7,294.0 L186.5,292.7 L187.3,291.4 L188.2,290.1 L189.0,288.8 L189.8,287.5 L190.6,286.3 L191.5,285.0 L192.4,283.7 L193.3,282.5 L194.3,281.2 L195.3,280.0 L196.4,278.8 L197.5,277.6 L198.6,276.4 L199.8,275.2 L201.0,274.1 L202.2,272.9 L203.4,271.8 L204.7,270.6 L205.9,269.5 L207.1,268.3 L208.4,267.2 L209.5,266.0 L210.7,264.8 L211.8,263.6 L212.9,262.4 L213.9,261.1 L214.8,259.8 L215.7,258.5 L216.6,257.2 L217.4,255.8 L218.2,254.5 L218.9,253.1 L219.6,251.7 L220.2,250.2 L220.8,248.8 L221.5,247.4 L222.0,245.9 L222.6,244.5 L223.2,243.1 L223.7,241.6 L224.2,240.2 L224.8,238.8 L225.2,237.3 L225.7,235.9 L226.2,234.5 L226.6,233.0"/>
<path d="M161.3,354.6 L161.3,352.8 L161.3,351.1 L161.3,349.5 L161.3,347.8 L161.3,346.2 L161.2,344.5 L161.3,342.9 L161.4,341.3 L161.6,339.7 L161.9,338.1 L162.2,336.5 L162.6,334.9 L163.0,333.4 L163.5,331.8 L164.0,330.3 L164.6,328.7 L165.1,327.2 L165.7,325.6 L166.3,324.1 L167.0,322.6 L167.6,321.1 L168.2,319.6 L168.9,318.1 L169.6,316.6 L170.3,315.2 L171.0,313.7 L171.7,312.3 L172.5,310.8 L173.2,309.4 L174.0,308.0 L174.8,306.6 L175.6,305.3 L176.4,303.9 L177.2,302.5 L178.0,301.2 L178.8,299.8 L179.6,298.5 L180.4,297.2 L181.3,295.8 L182.1,294.5 L182.9,293.2 L183.7,291.9 L184.6,290.6 L185.4,289.3 L186.3,288.0 L187.1,286.7 L188.0,285.4 L188.9,284.1 L189.9,282.8 L190.8,281.6 L191.8,280.3 L192.8,279.1 L193.8,277.8 L194.8,276.6 L195.9,275.3 L196.9,274.1 L197.9,272.9 L198.9,271.6 L199.9,270.4 L200.8,269.1 L201.8,267.8 L202.6,266.5 L203.5,265.2 L204.3,263.9 L205.0,262.5 L205.8,261.1 L206.5,259.8 L207.2,258.4 L207.8,257.0 L208.5,255.6 L209.2,254.2 L209.8,252.8 L210.5,251.4 L211.2,250.0 L212.0,248.6 L212.8,247.3 L213.6,246.0 L214.4,244.7 L215.3,243.4 L216.2,242.1 L217.1,240.8 L218.0,239.6 L219.0,238.3 L219.9,237.1 L220.7,235.8 L221.6,234.6 L222.4,233.3"/>
<path d="M161.1,354.6 L161.1,352.8 L161.1,351.1 L161.1,349.4 L161.1,347.8 L161.1,346.1 L161.1,344.5 L161.2,342.9 L161.2,341.3 L161.4,339.8 L161.6,338.2 L161.9,336.7 L162.2,335.1 L162.6,333.6 L163.0,332.0 L163.5,330.5 L164.0,329.0 L164.5,327.4 L165.0,325.9 L165.6,324.3 L166.1,322.8 L166.6,321.2 L167.2,319.7 L167.7,318.2 L168.2,316.6 L168.8,315.1 L169.4,313.6 L169.9,312.1 L170.5,310.6 L171.1,309.2 L171.7,307.7 L172.3,306.2 L173.0,304.8 L173.6,303.3 L174.2,301.9 L174.9,300.5 L175.5,299.1 L176.1,297.6 L176.8,296.2 L177.4,294.8 L178.1,293.4 L178.7,292.0 L179.3,290.6 L179.9,289.1 L180.6,287.7 L181.2,286.3 L181.9,284.9 L182.5,283.5 L183.2,282.1 L183.9,280.7 L184.6,279.3 L185.3,277.9 L186.0,276.6 L186.8,275.2 L187.5,273.8 L188.3,272.5 L189.1,271.1 L190.0,269.8 L190.8,268.4 L191.6,267.1 L192.5,265.8 L193.3,264.4 L194.2,263.1 L195.0,261.8 L195.8,260.4 L196.7,259.1 L197.5,257.8 L198.3,256.4 L199.2,255.1 L200.0,253.8 L200.9,252.4 L201.8,251.1 L202.6,249.8 L203.6,248.5 L204.5,247.3 L205.5,246.0 L206.5,244.8 L207.5,243.6 L208.6,242.4 L209.7,241.2 L210.9,240.1 L212.0,238.9 L213.2,237.8 L214.3,236.6 L215.5,235.5 L216.6,234.4 L217.7,233.3 L218.7,232.2 L219.7,231.0"/>
<path d="M161.1,354.6 L161.1,352.8 L161.1,351.1 L161.1,349.4 L161.1,347.8 L161.1,346.1 L161.1,344.5 L161.2,342.9 L161.2,341.3 L161.4,339.8 L161.6,338.2 L161.9,336.7 L162.2,335.1 L162.6,333.6 L163.1,332.0 L163.5,330.5 L164.0,328.9 L164.6,327.4 L165.1,325.9 L165.6,324.3 L166.2,322.8 L166.7,321.2 L167.3,319.7 L167.8,318.2 L168.3,316.6 L168.9,315.1 L169.4,313.6 L170.0,312.1 L170.6,310.6 L171.2,309.2 L171.8,307.7 L172.4,306.2 L173.0,304.8 L173.6,303.4 L174.2,301.9 L174.9,300.5 L175.6,299.1 L176.3,297.7 L177.0,296.3 L177.7,294.9 L178.4,293.5 L179.1,292.1 L179.9,290.7 L180.6,289.4 L181.4,288.0 L182.2,286.6 L183.0,285.3 L183.8,284.0 L184.6,282.6 L185.5,281.3 L186.3,279.9 L187.1,278.6 L188.0,277.3 L188.8,275.9 L189.6,274.6 L190.5,273.3 L191.3,271.9 L192.1,270.6 L192.9,269.3 L193.7,267.9 L194.5,266.6 L195.2,265.2 L196.0,263.8 L196.8,262.5 L197.5,261.1 L198.2,259.7 L199.0,258.3 L199.7,257.0 L200.4,255.6 L201.2,254.2 L201.9,252.9 L202.7,251.5 L203.5,250.2 L204.3,248.8 L205.1,247.5 L206.0,246.2 L206.9,244.9 L207.8,243.7 L208.7,242.4 L209.7,241.2 L210.7,240.0 L211.7,238.8 L212.7,237.6 L213.8,236.5 L214.8,235.3 L215.9,234.2 L216.9,233.0 L217.9,231.9 L218.9,230.8"/>
<path d="M161.3,354.6 L161.3,352.9 L161.3,351.2 L161.3,349.5 L161.3,347.8 L161.3,346.2 L161.2,344.5 L161.4,342.9 L161.5,341.3 L161.7,339.7 L162.0,338.1 L162.4,336.5 L162.8,334.9 L163.2,333.3 L163.7,331.7 L164.2,330.2 L164.8,328.6 L165.3,327.1 L166.0,325.6 L166.6,324.0 L167.3,322.5 L167.9,321.0 L168.7,319.5 L169.4,318.1 L170.1,316.6 L170.9,315.2 L171.7,313.7 L172.6,312.3 L173.4,310.9 L174.3,309.6 L175.2,308.2 L176.1,306.9 L177.0,305.5 L178.0,304.2 L178.9,302.9 L179.9,301.6 L180.8,300.3 L181.7,299.0 L182.6,297.7 L183.5,296.5 L184.4,295.2 L185.2,293.9 L186.0,292.6 L186.8,291.3 L187.6,289.9 L188.3,288.6 L189.0,287.3 L189.7,285.9 L190.4,284.6 L191.1,283.3 L191.8,281.9 L192.6,280.6 L193.3,279.3 L194.2,277.9 L195.0,276.6 L195.9,275.4 L196.8,274.1 L197.8,272.8 L198.9,271.6 L199.9,270.4 L201.1,269.2 L202.2,268.0 L203.4,266.8 L204.7,265.7 L205.9,264.5 L207.1,263.3 L208.3,262.2 L209.5,261.0 L210.6,259.8 L211.7,258.5 L212.7,257.3 L213.7,256.0 L214.6,254.7 L215.4,253.3 L216.2,252.0 L216.8,250.6 L217.5,249.2 L218.1,247.7 L218.6,246.3 L219.1,244.8 L219.6,243.4 L220.1,241.9 L220.6,240.5 L221.1,239.1 L221.6,237.7 L222.1,236.3 L222.7,234.9 L223.3,233.6"/>
<path d="M161.3,354.6 L161.3,352.9 L161.3,351.2 L161.3,349.5 L161.3,347.8 L161.3,346.2 L161.3,344.5 L161.4,342.9 L161.6,341.3 L161.8,339.6 L162.1,338.0 L162.4,336.4 L162.8,334.8 L163.3,333.3 L163.8,331.7 L164.3,330.1 L164.9,328.6 L165.5,327.0 L166.2,325.5 L166.8,324.0 L167.5,322.5 L168.2,321.0 L169.0,319.5 L169.7,318.1 L170.5,316.6 L171.3,315.2 L172.1,313.8 L172.9,312.4 L173.8,311.0 L174.6,309.6 L175.5,308.2 L176.4,306.9 L177.3,305.6 L178.2,304.2 L179.1,302.9 L180.0,301.6 L180.9,300.3 L181.8,299.0 L182.7,297.8 L183.6,296.5 L184.5,295.2 L185.5,293.9 L186.4,292.7 L187.2,291.4 L188.1,290.1 L189.0,288.8 L189.9,287.6 L190.7,286.3 L191.6,285.0 L192.4,283.7 L193.2,282.4 L194.1,281.1 L194.9,279.8 L195.7,278.5 L196.5,277.2 L197.3,275.9 L198.2,274.6 L199.0,273.3 L199.8,272.0 L200.6,270.7 L201.4,269.3 L202.3,268.0 L203.1,266.7 L204.0,265.4 L204.8,264.1 L205.7,262.8 L206.6,261.5 L207.5,260.2 L208.4,258.9 L209.3,257.6 L210.2,256.3 L211.1,255.0 L212.1,253.7 L213.0,252.4 L213.9,251.1 L214.9,249.8 L215.8,248.5 L216.7,247.2 L217.6,245.9 L218.5,244.6 L219.4,243.3 L220.3,242.0 L221.1,240.7 L221.9,239.4 L222.7,238.0 L223.4,236.7 L224.1,235.4 L224.8,234.1 L225.5,232.7"/>
<path d="M161.3,354.6 L161.3,352.9 L161.3,351.2 L161.3,349.5 L161.3,347.8 L161.3,346.2 L161.2,344.5 L161.4,342.9 L161.5,341.3 L161.8,339.6 L162.0,338.0 L162.4,336.5 L162.8,334.9 L163.2,333.3 L163.7,331.7 L164.2,330.2 L164.8,328.6 L165.4,327.1 L166.0,325.6 L166.6,324.0 L167.3,322.5 L167.9,321.0 L168.6,319.5 L169.3,318.1 L170.0,316.6 L170.7,315.2 L171.5,313.7 L172.3,312.3 L173.1,310.9 L173.9,309.5 L174.7,308.1 L175.5,306.8 L176.4,305.4 L177.3,304.1 L178.1,302.7 L179.0,301.4 L179.9,300.1 L180.8,298.8 L181.7,297.5 L182.5,296.2 L183.4,294.9 L184.3,293.6 L185.1,292.3 L186.0,291.0 L186.8,289.7 L187.7,288.4 L188.5,287.1 L189.3,285.8 L190.2,284.5 L191.1,283.2 L192.0,282.0 L192.9,280.7 L193.8,279.4 L194.8,278.2 L195.8,277.0 L196.9,275.7 L198.0,274.5 L199.1,273.3 L200.2,272.1 L201.4,271.0 L202.6,269.8 L203.7,268.6 L204.9,267.4 L206.1,266.3 L207.2,265.1 L208.3,263.8 L209.4,262.6 L210.4,261.4 L211.4,260.1 L212.3,258.8 L213.1,257.5 L213.9,256.1 L214.7,254.7 L215.4,253.3 L216.0,251.9 L216.6,250.5 L217.2,249.0 L217.8,247.6 L218.3,246.2 L218.9,244.7 L219.5,243.3 L220.1,241.9 L220.7,240.5 L221.3,239.2 L222.0,237.8 L222.7,236.5"/>
<path d="M161.4,354.6 L161.4,352.9 L161.4,351.2 L161.4,349.5 L161.4,347.9 L161.4,346.2 L161.3,344.5 L161.5,342.9 L161.7,341.2 L161.9,339.6 L162.3,338.0 L162.6,336.4 L163.0,334.7 L163.5,333.2 L164.0,331.6 L164.6,330.0 L165.2,328.5 L165.8,326.9 L166.5,325.4 L167.2,323.9 L167.9,322.4 L168.7,320.9 L169.4,319.5 L170.2,318.0 L171.0,316.6 L171.9,315.2 L172.7,313.8 L173.6,312.4 L174.4,311.1 L175.3,309.7 L176.2,308.4 L177.1,307.0 L178.0,305.7 L178.9,304.4 L179.8,303.1 L180.8,301.8 L181.7,300.5 L182.6,299.3 L183.6,298.0 L184.6,296.7 L185.5,295.5 L186.5,294.2 L187.6,293.0 L188.6,291.8 L189.7,290.6 L190.7,289.4 L191.8,288.2 L192.9,287.0 L194.1,285.9 L195.2,284.7 L196.4,283.5 L197.5,282.4 L198.7,281.2 L199.9,280.1 L201.0,278.9 L202.2,277.8 L203.4,276.6 L204.5,275.4 L205.6,274.2 L206.7,273.1 L207.7,271.8 L208.7,270.6 L209.7,269.4 L210.7,268.1 L211.6,266.8 L212.5,265.5 L213.3,264.2 L214.2,262.9 L215.0,261.6 L215.7,260.2 L216.5,258.8 L217.2,257.4 L218.0,256.1 L218.7,254.7 L219.4,253.3 L220.1,251.9 L220.8,250.5 L221.6,249.1 L222.3,247.7 L223.0,246.3 L223.7,244.9 L224.4,243.5 L225.1,242.1 L225.8,240.7 L226.4,239.3 L227.0,237.9 L227.6,236.5"/>
<path d="M161.3,354.6 L161.3,352.8 L161.3,351.2 L161.3,349.5 L161.3,347.8 L161.3,346.2 L161.2,344.5 L161.3,342.9 L161.5,341.3 L161.7,339.7 L161.9,338.1 L162.2,336.5 L162.6,334.9 L163.0,333.4 L163.5,331.8 L164.0,330.3 L164.6,328.7 L165.1,327.2 L165.7,325.7 L166.3,324.1 L166.9,322.6 L167.5,321.1 L168.2,319.6 L168.8,318.1 L169.5,316.6 L170.2,315.2 L170.9,313.7 L171.6,312.3 L172.3,310.8 L173.0,309.4 L173.8,308.0 L174.6,306.6 L175.4,305.2 L176.3,303.9 L177.2,302.5 L178.1,301.2 L179.0,299.9 L179.9,298.6 L180.9,297.3 L181.8,296.0 L182.8,294.7 L183.8,293.5 L184.8,292.2 L185.8,291.0 L186.8,289.7 L187.8,288.5 L188.8,287.2 L189.8,286.0 L190.7,284.7 L191.7,283.5 L192.6,282.2 L193.5,280.9 L194.4,279.6 L195.2,278.3 L196.0,277.0 L196.8,275.7 L197.5,274.4 L198.3,273.0 L199.0,271.7 L199.7,270.3 L200.3,268.9 L201.0,267.5 L201.6,266.1 L202.3,264.7 L202.9,263.3 L203.5,261.9 L204.2,260.5 L204.8,259.1 L205.5,257.7 L206.2,256.3 L206.9,254.9 L207.7,253.6 L208.5,252.2 L209.3,250.9 L210.2,249.6 L211.1,248.3 L212.0,247.0 L212.9,245.7 L213.9,244.5 L214.9,243.2 L216.0,242.0 L217.0,240.8 L218.0,239.6 L219.1,238.3 L220.1,237.1 L221.1,235.9 L222.0,234.7 L223.0,233.5 L223.9,232.2"/>
<path d="M161.2,354.6 L161.2,352.8 L161.2,351.1 L161.2,349.5 L161.2,347.8 L161.2,346.1 L161.2,344.5 L161.3,342.9 L161.4,341.3 L161.6,339.7 L161.8,338.1 L162.1,336.6 L162.5,335.0 L162.9,333.4 L163.4,331.9 L163.9,330.3 L164.5,328.8 L165.0,327.2 L165.6,325.7 L166.2,324.2 L166.8,322.6 L167.4,321.1 L168.0,319.6 L168.7,318.1 L169.3,316.6 L169.9,315.2 L170.5,313.7 L171.2,312.2 L171.8,310.8 L172.4,309.3 L173.0,307.9 L173.6,306.4 L174.2,305.0 L174.9,303.6 L175.5,302.2 L176.2,300.8 L176.8,299.4 L177.5,298.0 L178.3,296.6 L179.1,295.3 L179.9,293.9 L180.8,292.6 L181.7,291.3 L182.7,290.0 L183.7,288.7 L184.8,287.5 L185.9,286.2 L187.0,285.0 L188.2,283.8 L189.4,282.7 L190.6,281.5 L191.8,280.3 L192.9,279.1 L194.1,277.9 L195.1,276.7 L196.1,275.5 L197.1,274.2 L198.0,272.9 L198.7,271.6 L199.5,270.2 L200.1,268.8 L200.6,267.4 L201.1,265.9 L201.6,264.4 L202.0,262.9 L202.4,261.4 L202.7,259.9 L203.1,258.4 L203.5,256.9 L204.0,255.4 L204.5,253.9 L205.1,252.5 L205.8,251.1 L206.6,249.8 L207.5,248.5 L208.5,247.2 L209.5,246.0 L210.7,244.8 L211.9,243.7 L213.2,242.5 L214.4,241.4 L215.7,240.3 L217.0,239.2 L218.2,238.1 L219.4,236.9 L220.5,235.7 L221.6,234.6"/>
<path d="M161.3,354.6 L161.3,352.8 L161.3,351.2 L161.3,349.5 L161.3,347.8 L161.3,346.2 L161.2,344.5 L161.3,342.9 L161.5,341.3 L161.7,339.7 L162.0,338.1 L162.3,336.5 L162.7,334.9 L163.1,333.3 L163.6,331.8 L164.1,330.2 L164.7,328.7 L165.3,327.1 L165.9,325.6 L166.5,324.1 L167.1,322.6 L167.8,321.1 L168.4,319.6 L169.1,318.1 L169.8,316.6 L170.5,315.2 L171.2,313.7 L171.9,312.3 L172.7,310.9 L173.4,309.5 L174.2,308.1 L175.0,306.7 L175.8,305.3 L176.6,303.9 L177.4,302.6 L178.3,301.3 L179.1,299.9 L180.0,298.6 L180.9,297.3 L181.8,296.0 L182.8,294.7 L183.7,293.4 L184.6,292.2 L185.6,290.9 L186.6,289.6 L187.5,288.4 L188.5,287.1 L189.5,285.9 L190.4,284.6 L191.4,283.3 L192.3,282.1 L193.3,280.8 L194.2,279.6 L195.1,278.3 L196.0,277.0 L196.9,275.8 L197.8,274.5 L198.7,273.2 L199.5,271.9 L200.3,270.5 L201.2,269.2 L202.0,267.9 L202.8,266.6 L203.6,265.2 L204.4,263.9 L205.2,262.6 L206.0,261.2 L206.9,259.9 L207.7,258.6 L208.6,257.3 L209.5,255.9 L210.4,254.6 L211.3,253.3 L212.2,252.1 L213.2,250.8 L214.2,249.5 L215.2,248.2 L216.2,247.0 L217.2,245.7 L218.1,244.5 L219.1,243.2 L220.1,241.9 L221.0,240.6 L221.8,239.3 L222.7,238.0 L223.4,236.7 L224.1,235.4 L224.8,234.1"/>
<path d="M161.2,354.6 L161.2,352.8 L161.2,351.1 L161.2,349.4 L161.2,347.8 L161.2,346.1 L161.2,344.5 L161.2,342.9 L161.4,341.3 L161.5,339.7 L161.8,338.1 L162.1,336.6 L162.4,335.0 L162.9,333.5 L163.3,331.9 L163.8,330.4 L164.3,328.8 L164.9,327.3 L165.4,325.7 L166.0,324.2 L166.6,322.7 L167.1,321.2 L167.7,319.6 L168.3,318.1 L168.9,316.6 L169.5,315.1 L170.0,313.7 L170.7,312.2 L171.3,310.7 L171.9,309.3 L172.5,307.8 L173.2,306.4 L173.9,305.0 L174.6,303.5 L175.3,302.1 L176.0,300.8 L176.8,299.4 L177.6,298.0 L178.4,296.6 L179.3,295.3 L180.1,294.0 L181.0,292.6 L181.9,291.3 L182.8,290.0 L183.7,288.7 L184.6,287.4 L185.6,286.1 L186.5,284.9 L187.4,283.6 L188.3,282.3 L189.2,281.0 L190.1,279.7 L191.0,278.4 L191.9,277.1 L192.7,275.8 L193.5,274.4 L194.3,273.1 L195.1,271.8 L195.8,270.4 L196.6,269.1 L197.3,267.7 L198.0,266.3 L198.7,264.9 L199.4,263.6 L200.1,262.2 L200.8,260.8 L201.6,259.4 L202.3,258.0 L203.0,256.7 L203.8,255.3 L204.6,254.0 L205.4,252.6 L206.3,251.3 L207.1,250.0 L208.1,248.7 L209.0,247.4 L209.9,246.2 L210.9,244.9 L211.9,243.7 L212.9,242.4 L213.9,241.2 L214.9,240.0 L215.9,238.8 L216.9,237.6 L217.9,236.4 L218.8,235.2 L219.7,234.0"/>
<path d="M161.3,354.6 L161.3,352.8 L161.3,351.1 L161.3,349.5 L161.3,347.8 L161.3,346.2 L161.2,344.5 L161.3,342.9 L161.5,341.3 L161.7,339.7 L161.9,338.1 L162.3,336.5 L162.6,334.9 L163.1,333.4 L163.6,331.8 L164.1,330.2 L164.6,328.7 L165.2,327.2 L165.7,325.6 L166.3,324.1 L166.9,322.6 L167.5,321.1 L168.1,319.6 L168.8,318.1 L169.4,316.6 L170.0,315.2 L170.6,313.7 L171.3,312.2 L172.0,310.8 L172.7,309.4 L173.4,307.9 L174.2,306.5 L175.0,305.2 L175.8,303.8 L176.7,302.4 L177.6,301.1 L178.6,299.8 L179.5,298.5 L180.5,297.2 L181.5,295.9 L182.5,294.6 L183.5,293.4 L184.5,292.1 L185.4,290.8 L186.3,289.6 L187.2,288.3 L188.0,287.0 L188.8,285.6 L189.5,284.3 L190.2,282.9 L190.9,281.6 L191.5,280.2 L192.1,278.8 L192.7,277.4 L193.3,276.0 L193.9,274.6 L194.6,273.2 L195.3,271.8 L196.0,270.5 L196.8,269.2 L197.7,267.9 L198.7,266.6 L199.8,265.4 L201.0,264.2 L202.2,263.0 L203.5,261.9 L204.9,260.8 L206.3,259.7 L207.8,258.6 L209.2,257.5 L210.6,256.4 L212.0,255.3 L213.4,254.2 L214.6,253.0 L215.8,251.8 L216.8,250.6 L217.8,249.3 L218.6,247.9 L219.3,246.6 L219.9,245.1 L220.4,243.7 L220.8,242.2 L221.1,240.7 L221.4,239.2 L221.6,237.7 L221.8,236.2 L222.0,234.7"/>
<path d="M161.2,354.6 L161.2,352.8 L161.2,351.1 L161.2,349.5 L161.2,347.8 L161.2,346.2 L161.2,344.5 L161.3,342.9 L161.4,341.3 L161.6,339.7 L161.9,338.1 L162.2,336.5 L162.6,335.0 L163.0,333.4 L163.5,331.8 L164.0,330.3 L164.6,328.7 L165.1,327.2 L165.7,325.6 L166.3,324.1 L167.0,322.6 L167.6,321.1 L168.2,319.6 L168.9,318.1 L169.5,316.6 L170.2,315.2 L170.9,313.7 L171.6,312.3 L172.2,310.8 L172.9,309.4 L173.6,308.0 L174.3,306.6 L175.0,305.2 L175.7,303.8 L176.4,302.4 L177.1,301.0 L177.8,299.6 L178.6,298.2 L179.3,296.9 L180.1,295.5 L180.9,294.2 L181.7,292.8 L182.5,291.5 L183.3,290.2 L184.2,288.9 L185.1,287.6 L185.9,286.3 L186.8,285.0 L187.7,283.7 L188.6,282.4 L189.5,281.1 L190.4,279.8 L191.3,278.5 L192.1,277.2 L193.0,275.9 L193.9,274.6 L194.7,273.3 L195.5,271.9 L196.3,270.6 L197.1,269.3 L197.9,267.9 L198.7,266.6 L199.6,265.3 L200.4,263.9 L201.2,262.6 L202.1,261.3 L203.0,260.0 L203.9,258.7 L204.9,257.4 L205.9,256.2 L206.9,254.9 L208.0,253.7 L209.1,252.5 L210.3,251.3 L211.4,250.1 L212.6,248.9 L213.8,247.7 L215.0,246.5 L216.2,245.3 L217.3,244.1 L218.4,242.9 L219.5,241.7 L220.5,240.5 L221.4,239.2 L222.3,237.9 L223.0,236.6 L223.7,235.3 L224.4,233.9"/>
<path d="M161.3,354.6 L161.3,352.8 L161.3,351.2 L161.3,349.5 L161.3,347.8 L161.3,346.2 L161.2,344.5 L161.3,342.9 L161.5,341.3 L161.7,339.7 L161.9,338.1 L162.3,336.5 L162.7,334.9 L163.1,333.3 L163.6,331.8 L164.1,330.2 L164.6,328.7 L165.2,327.1 L165.8,325.6 L166.5,324.1 L167.1,322.6 L167.7,321.1 L168.4,319.6 L169.1,318.1 L169.8,316.6 L170.5,315.2 L171.2,313.7 L172.0,312.3 L172.8,310.9 L173.5,309.5 L174.3,308.1 L175.1,306.7 L176.0,305.3 L176.8,304.0 L177.7,302.6 L178.5,301.3 L179.4,300.0 L180.3,298.7 L181.2,297.4 L182.1,296.1 L183.0,294.8 L184.0,293.5 L184.9,292.2 L185.8,290.9 L186.7,289.7 L187.6,288.4 L188.5,287.1 L189.4,285.8 L190.3,284.6 L191.2,283.3 L192.1,282.0 L193.0,280.7 L193.9,279.4 L194.7,278.2 L195.6,276.9 L196.4,275.6 L197.3,274.3 L198.1,273.0 L199.0,271.7 L199.8,270.3 L200.7,269.0 L201.5,267.7 L202.4,266.4 L203.2,265.1 L204.0,263.8 L204.9,262.4 L205.7,261.1 L206.6,259.8 L207.4,258.5 L208.3,257.1 L209.1,255.8 L210.0,254.5 L210.8,253.2 L211.7,251.8 L212.5,250.5 L213.4,249.2 L214.2,247.9 L215.0,246.5 L215.8,245.2 L216.6,243.9 L217.4,242.5 L218.2,241.2 L218.9,239.9 L219.6,238.6 L220.3,237.2 L221.0,235.9 L221.7,234.6"/>
<path d="M161.5,354.6 L161.5,352.9 L161.5,351.2 L161.5,349.6 L161.5,347.9 L161.5,346.2 L161.3,344.5 L161.5,342.9 L161.7,341.2 L162.0,339.6 L162.4,337.9 L162.7,336.3 L163.2,334.7 L163.6,333.1 L164.2,331.5 L164.7,329.9 L165.3,328.4 L166.0,326.8 L166.7,325.3 L167.4,323.8 L168.2,322.3 L169.0,320.9 L169.8,319.4 L170.6,318.0 L171.5,316.6 L172.4,315.2 L173.4,313.8 L174.3,312.5 L175.3,311.1 L176.3,309.8 L177.3,308.5 L178.3,307.2 L179.4,306.0 L180.4,304.7 L181.5,303.4 L182.6,302.2 L183.7,301.0 L184.8,299.8 L185.9,298.6 L187.0,297.4 L188.1,296.2 L189.3,295.0 L190.4,293.9 L191.6,292.7 L192.7,291.6 L193.8,290.4 L195.0,289.3 L196.2,288.1 L197.3,287.0 L198.5,285.8 L199.6,284.7 L200.7,283.5 L201.9,282.4 L203.0,281.2 L204.2,280.1 L205.3,278.9 L206.4,277.8 L207.5,276.6 L208.6,275.4 L209.7,274.2 L210.8,273.1 L211.8,271.9 L212.9,270.6 L213.9,269.4 L214.9,268.2 L215.8,266.9 L216.8,265.6 L217.7,264.3 L218.6,263.0 L219.5,261.7 L220.3,260.4 L221.1,259.0 L221.9,257.7 L222.6,256.3 L223.3,254.8 L223.9,253.4 L224.5,252.0 L225.1,250.5 L225.5,249.0 L226.0,247.5 L226.3,245.9 L226.7,244.4 L227.0,242.8 L227.2,241.3 L227.4,239.7 L227.6,238.1 L227.8,236.6 L227.9,235.0"/>
<path d="M161.4,354.6 L161.4,352.9 L161.4,351.2 L161.4,349.5 L161.4,347.8 L161.4,346.2 L161.3,344.5 L161.4,342.9 L161.6,341.3 L161.8,339.6 L162.1,338.0 L162.4,336.4 L162.8,334.8 L163.3,333.3 L163.8,331.7 L164.3,330.1 L164.9,328.6 L165.5,327.0 L166.1,325.5 L166.8,324.0 L167.5,322.5 L168.2,321.0 L168.9,319.5 L169.6,318.1 L170.4,316.6 L171.1,315.2 L171.9,313.8 L172.7,312.3 L173.5,311.0 L174.4,309.6 L175.2,308.2 L176.1,306.9 L176.9,305.5 L177.8,304.2 L178.7,302.9 L179.5,301.5 L180.4,300.2 L181.3,298.9 L182.2,297.6 L183.1,296.3 L184.0,295.1 L184.9,293.8 L185.9,292.5 L186.8,291.3 L187.8,290.0 L188.7,288.8 L189.7,287.5 L190.7,286.3 L191.8,285.1 L192.8,283.9 L193.9,282.7 L195.0,281.5 L196.1,280.3 L197.3,279.1 L198.5,278.0 L199.7,276.8 L200.9,275.7 L202.1,274.5 L203.4,273.4 L204.6,272.2 L205.9,271.1 L207.1,270.0 L208.3,268.8 L209.5,267.6 L210.7,266.5 L211.8,265.3 L212.9,264.1 L214.0,262.8 L215.0,261.6 L215.9,260.3 L216.8,258.9 L217.6,257.6 L218.4,256.2 L219.1,254.8 L219.7,253.4 L220.3,251.9 L220.8,250.5 L221.3,249.0 L221.7,247.5 L222.1,246.0 L222.4,244.4 L222.8,242.9 L223.1,241.4 L223.4,239.9 L223.7,238.4 L224.0,236.9 L224.3,235.4 L224.6,234.0"/>
<path d="M161.3,354.6 L161.3,352.8 L161.3,351.2 L161.3,349.5 L161.3,347.8 L161.3,346.2 L161.2,344.5 L161.3,342.9 L161.5,341.3 L161.7,339.7 L162.0,338.1 L162.3,336.5 L162.7,334.9 L163.1,333.3 L163.6,331.8 L164.1,330.2 L164.7,328.7 L165.3,327.1 L165.9,325.6 L166.5,324.1 L167.1,322.6 L167.8,321.1 L168.5,319.6 L169.1,318.1 L169.8,316.6 L170.5,315.2 L171.3,313.7 L172.0,312.3 L172.7,310.9 L173.5,309.5 L174.3,308.1 L175.1,306.7 L175.9,305.3 L176.7,304.0 L177.5,302.6 L178.3,301.3 L179.1,299.9 L180.0,298.6 L180.8,297.3 L181.7,296.0 L182.6,294.7 L183.4,293.4 L184.3,292.1 L185.2,290.8 L186.1,289.5 L187.0,288.2 L187.9,286.9 L188.8,285.6 L189.7,284.4 L190.7,283.1 L191.6,281.8 L192.6,280.6 L193.5,279.3 L194.5,278.1 L195.5,276.8 L196.5,275.6 L197.5,274.4 L198.5,273.1 L199.6,271.9 L200.6,270.7 L201.7,269.4 L202.8,268.2 L203.9,267.0 L204.9,265.8 L206.0,264.6 L207.1,263.3 L208.2,262.1 L209.3,260.9 L210.3,259.6 L211.3,258.4 L212.4,257.1 L213.4,255.9 L214.3,254.6 L215.3,253.3 L216.2,252.0 L217.0,250.6 L217.9,249.3 L218.6,247.9 L219.4,246.6 L220.1,245.2 L220.7,243.8 L221.3,242.4 L221.9,241.0 L222.4,239.5 L222.9,238.1 L223.4,236.7 L223.8,235.3"/>
<path d="M161.4,354.6 L161.4,352.9 L161.4,351.2 L161.4,349.5 L161.4,347.9 L161.4,346.2 L161.3,344.5 L161.5,342.9 L161.7,341.2 L161.9,339.6 L162.3,338.0 L162.6,336.4 L163.1,334.7 L163.5,333.2 L164.0,331.6 L164.6,330.0 L165.2,328.5 L165.8,326.9 L166.5,325.4 L167.2,323.9 L167.9,322.4 L168.7,320.9 L169.5,319.5 L170.3,318.0 L171.2,316.6 L172.1,315.2 L173.0,313.8 L173.9,312.4 L174.8,311.1 L175.8,309.8 L176.8,308.4 L177.8,307.1 L178.8,305.9 L179.9,304.6 L180.9,303.3 L182.0,302.1 L183.1,300.8 L184.1,299.6 L185.2,298.4 L186.3,297.2 L187.4,296.0 L188.5,294.8 L189.6,293.6 L190.6,292.4 L191.7,291.2 L192.8,290.1 L193.8,288.9 L194.8,287.7 L195.9,286.5 L196.9,285.3 L197.9,284.1 L198.9,282.9 L199.8,281.6 L200.8,280.4 L201.7,279.2 L202.6,277.9 L203.6,276.7 L204.5,275.4 L205.3,274.2 L206.2,272.9 L207.1,271.6 L207.9,270.3 L208.8,269.0 L209.6,267.7 L210.5,266.4 L211.3,265.1 L212.1,263.7 L213.0,262.4 L213.8,261.1 L214.6,259.7 L215.4,258.4 L216.2,257.0 L217.1,255.7 L217.9,254.3 L218.7,253.0 L219.5,251.6 L220.3,250.3 L221.1,248.9 L221.9,247.6 L222.6,246.2 L223.4,244.8 L224.1,243.4 L224.8,242.0 L225.5,240.7 L226.2,239.3 L226.8,237.9 L227.4,236.4 L227.9,235.0"/>
<path d="M161.0,354.6 L161.0,352.7 L161.0,351.0 L161.0,349.4 L161.0,347.7 L161.0,346.1 L161.1,344.5 L161.1,342.9 L161.1,341.3 L161.2,339.8 L161.4,338.3 L161.7,336.7 L162.0,335.2 L162.4,333.7 L162.8,332.1 L163.2,330.6 L163.7,329.1 L164.2,327.5 L164.7,326.0 L165.2,324.4 L165.7,322.9 L166.2,321.3 L166.7,319.8 L167.1,318.2 L167.6,316.7 L168.0,315.1 L168.5,313.6 L168.9,312.0 L169.4,310.5 L169.8,309.0 L170.3,307.5 L170.7,306.0 L171.2,304.5 L171.6,303.0 L172.1,301.5 L172.5,300.0 L173.0,298.5 L173.5,297.0 L174.0,295.5 L174.5,294.0 L175.0,292.5 L175.5,291.1 L176.0,289.6 L176.5,288.1 L177.1,286.6 L177.6,285.2 L178.2,283.7 L178.7,282.2 L179.3,280.8 L180.0,279.3 L180.6,277.9 L181.2,276.5 L181.9,275.1 L182.6,273.7 L183.4,272.3 L184.1,270.9 L184.9,269.5 L185.8,268.1 L186.6,266.8 L187.5,265.5 L188.4,264.1 L189.4,262.8 L190.3,261.5 L191.3,260.3 L192.4,259.0 L193.4,257.8 L194.5,256.5 L195.6,255.3 L196.7,254.1 L197.8,252.8 L198.9,251.6 L200.0,250.4 L201.2,249.2 L202.3,248.0 L203.4,246.8 L204.5,245.6 L205.6,244.4 L206.7,243.2 L207.8,242.1 L208.8,240.9 L209.8,239.7 L210.8,238.5 L211.8,237.3 L212.7,236.1 L213.7,234.9 L214.6,233.7 L215.5,232.6 L216.3,231.4"/>
<path d="M161.0,354.6 L161.0,352.7 L161.0,351.0 L161.0,349.4 L161.0,347.7 L161.0,346.1 L161.1,344.5 L161.0,342.9 L161.1,341.4 L161.2,339.8 L161.3,338.3 L161.6,336.8 L161.9,335.2 L162.3,333.7 L162.7,332.2 L163.1,330.7 L163.6,329.1 L164.1,327.6 L164.6,326.0 L165.1,324.5 L165.5,322.9 L166.0,321.3 L166.4,319.8 L166.9,318.2 L167.3,316.7 L167.8,315.1 L168.2,313.6 L168.7,312.0 L169.1,310.5 L169.6,309.0 L170.0,307.4 L170.5,305.9 L171.0,304.4 L171.4,302.9 L171.9,301.4 L172.5,299.9 L173.0,298.5 L173.5,297.0 L174.0,295.5 L174.6,294.0 L175.1,292.6 L175.7,291.1 L176.2,289.6 L176.8,288.2 L177.3,286.7 L177.9,285.3 L178.5,283.8 L179.1,282.4 L179.7,280.9 L180.3,279.5 L180.9,278.0 L181.6,276.6 L182.2,275.2 L182.9,273.7 L183.6,272.3 L184.3,270.9 L185.0,269.5 L185.8,268.2 L186.6,266.8 L187.4,265.4 L188.2,264.1 L189.1,262.7 L190.0,261.4 L190.9,260.1 L191.8,258.8 L192.8,257.5 L193.7,256.2 L194.7,254.9 L195.7,253.6 L196.6,252.4 L197.6,251.1 L198.6,249.8 L199.6,248.6 L200.6,247.3 L201.6,246.1 L202.6,244.9 L203.5,243.6 L204.5,242.4 L205.4,241.1 L206.4,239.9 L207.3,238.7 L208.2,237.5 L209.1,236.3 L210.1,235.1 L211.0,234.0 L211.9,232.8 L212.9,231.7 L213.8,230.6"/>
<path d="M160.9,354.6 L160.9,352.7 L160.9,351.0 L160.9,349.3 L160.9,347.7 L160.9,346.1 L161.0,344.5 L161.0,342.9 L161.0,341.4 L161.0,339.9 L161.2,338.4 L161.4,336.8 L161.7,335.3 L162.1,333.8 L162.5,332.3 L162.9,330.8 L163.3,329.2 L163.8,327.7 L164.3,326.1 L164.7,324.6 L165.1,323.0 L165.5,321.4 L165.9,319.8 L166.3,318.3 L166.6,316.7 L166.9,315.1 L167.3,313.5 L167.6,311.9 L167.9,310.4 L168.2,308.8 L168.5,307.2 L168.9,305.7 L169.2,304.1 L169.6,302.6 L170.0,301.0 L170.4,299.5 L170.8,297.9 L171.2,296.4 L171.7,294.9 L172.1,293.4 L172.6,291.9 L173.1,290.4 L173.6,288.9 L174.2,287.4 L174.7,285.9 L175.2,284.4 L175.7,282.9 L176.2,281.4 L176.7,279.9 L177.2,278.4 L177.6,276.9 L178.1,275.3 L178.5,273.8 L179.0,272.3 L179.5,270.8 L180.1,269.3 L180.8,267.9 L181.5,266.5 L182.2,265.0 L182.9,263.6 L183.6,262.2 L184.4,260.8 L185.1,259.4 L185.9,258.1 L186.7,256.7 L187.6,255.4 L188.4,254.0 L189.3,252.7 L190.2,251.4 L191.4,250.2 L192.6,249.1 L193.8,247.9 L195.1,246.7 L196.3,245.6 L197.5,244.5 L198.7,243.3 L199.9,242.2 L201.0,241.0 L202.1,239.9 L203.2,238.7 L204.2,237.5 L205.3,236.4 L206.2,235.2 L207.2,234.1 L208.2,233.0 L209.2,231.9 L210.2,230.8"/>
<path d="M161.0,354.6 L161.0,352.7 L161.0,351.1 L161.0,349.4 L161.0,347.7 L161.0,346.1 L161.1,344.5 L161.1,342.9 L161.1,341.3 L161.3,339.8 L161.5,338.3 L161.7,336.7 L162.0,335.2 L162.4,333.7 L162.9,332.1 L163.3,330.6 L163.8,329.0 L164.3,327.5 L164.8,326.0 L165.3,324.4 L165.8,322.8 L166.3,321.3 L166.8,319.7 L167.3,318.2 L167.7,316.7 L168.2,315.1 L168.7,313.6 L169.1,312.1 L169.6,310.5 L170.1,309.0 L170.6,307.5 L171.1,306.0 L171.5,304.5 L172.0,303.0 L172.6,301.6 L173.1,300.1 L173.6,298.6 L174.1,297.1 L174.7,295.7 L175.2,294.2 L175.8,292.8 L176.4,291.3 L177.0,289.9 L177.6,288.4 L178.2,287.0 L178.8,285.6 L179.5,284.1 L180.2,282.7 L180.8,281.3 L181.5,279.9 L182.3,278.5 L183.0,277.1 L183.7,275.7 L184.5,274.3 L185.3,273.0 L186.1,271.6 L186.9,270.2 L187.7,268.9 L188.5,267.5 L189.4,266.2 L190.2,264.9 L191.1,263.5 L191.9,262.2 L192.8,260.9 L193.7,259.5 L194.6,258.2 L195.4,256.9 L196.3,255.6 L197.2,254.3 L198.1,253.0 L199.0,251.7 L199.9,250.4 L200.9,249.1 L201.8,247.8 L202.7,246.5 L203.6,245.3 L204.6,244.0 L205.5,242.8 L206.5,241.5 L207.4,240.3 L208.4,239.1 L209.3,237.9 L210.3,236.7 L211.3,235.6 L212.3,234.4 L213.2,233.3 L214.2,232.2 L215.2,231.1"/>
<path d="M161.0,354.6 L161.0,352.7 L161.0,351.0 L161.0,349.4 L161.0,347.7 L161.0,346.1 L161.0,344.5 L161.0,342.9 L161.0,341.4 L161.1,339.8 L161.3,338.3 L161.6,336.8 L161.9,335.3 L162.2,333.7 L162.6,332.2 L163.1,330.7 L163.6,329.2 L164.0,327.6 L164.5,326.1 L165.0,324.5 L165.4,322.9 L165.9,321.4 L166.3,319.8 L166.7,318.2 L167.1,316.7 L167.5,315.1 L167.9,313.5 L168.3,312.0 L168.7,310.4 L169.1,308.9 L169.5,307.4 L169.9,305.8 L170.3,304.3 L170.7,302.8 L171.1,301.3 L171.6,299.8 L172.1,298.3 L172.6,296.8 L173.1,295.3 L173.6,293.8 L174.2,292.3 L174.8,290.9 L175.4,289.4 L176.0,288.0 L176.7,286.5 L177.4,285.1 L178.1,283.7 L178.8,282.3 L179.5,280.9 L180.3,279.5 L181.0,278.1 L181.8,276.7 L182.5,275.3 L183.3,273.9 L184.1,272.5 L184.8,271.1 L185.6,269.7 L186.3,268.3 L187.0,266.9 L187.7,265.5 L188.3,264.1 L189.0,262.7 L189.6,261.3 L190.2,259.8 L190.8,258.4 L191.4,256.9 L192.0,255.5 L192.5,254.0 L193.1,252.6 L193.7,251.2 L194.3,249.8 L195.0,248.3 L195.6,247.0 L196.3,245.6 L197.1,244.3 L197.9,243.0 L198.7,241.7 L199.6,240.5 L200.6,239.3 L201.6,238.1 L202.7,237.0 L203.9,235.9 L205.1,234.8 L206.3,233.8 L207.6,232.8 L208.9,231.8 L210.3,230.9 L211.7,230.0"/>
<path d="M160.9,354.6 L160.9,352.7 L160.9,351.0 L160.9,349.3 L160.9,347.7 L160.9,346.1 L161.0,344.5 L161.0,342.9 L160.9,341.4 L161.0,339.9 L161.2,338.4 L161.4,336.9 L161.7,335.3 L162.0,333.8 L162.4,332.3 L162.8,330.8 L163.3,329.3 L163.7,327.7 L164.2,326.2 L164.6,324.6 L165.1,323.0 L165.5,321.4 L165.8,319.8 L166.2,318.3 L166.6,316.7 L166.9,315.1 L167.2,313.5 L167.6,311.9 L167.9,310.4 L168.2,308.8 L168.5,307.2 L168.9,305.7 L169.2,304.1 L169.5,302.5 L169.8,301.0 L170.2,299.4 L170.5,297.9 L170.9,296.3 L171.3,294.8 L171.7,293.3 L172.1,291.7 L172.5,290.2 L172.9,288.7 L173.4,287.1 L173.9,285.6 L174.3,284.1 L174.8,282.6 L175.3,281.1 L175.9,279.6 L176.4,278.1 L177.0,276.6 L177.6,275.2 L178.2,273.7 L178.8,272.2 L179.4,270.8 L180.1,269.3 L180.8,267.9 L181.5,266.5 L182.2,265.0 L182.9,263.6 L183.6,262.2 L184.4,260.8 L185.1,259.4 L185.9,258.1 L186.7,256.7 L187.6,255.4 L188.4,254.0 L189.3,252.7 L190.1,251.4 L191.0,250.1 L191.9,248.8 L192.9,247.5 L194.1,246.3 L195.5,245.3 L196.9,244.2 L198.3,243.1 L199.7,242.1 L201.1,241.0 L202.4,240.0 L203.7,238.9 L205.0,237.8 L206.1,236.7 L207.3,235.6 L208.3,234.5 L209.3,233.4 L210.3,232.3"/>
<path d="M161.0,354.6 L161.0,352.7 L161.0,351.0 L161.0,349.4 L161.0,347.7 L161.0,346.1 L161.0,344.5 L161.0,342.9 L161.1,341.4 L161.1,339.8 L161.3,338.3 L161.6,336.8 L161.9,335.3 L162.3,333.7 L162.7,332.2 L163.1,330.7 L163.6,329.1 L164.1,327.6 L164.6,326.0 L165.0,324.5 L165.5,322.9 L166.0,321.3 L166.4,319.8 L166.9,318.2 L167.3,316.7 L167.7,315.1 L168.2,313.6 L168.6,312.0 L169.0,310.5 L169.4,308.9 L169.8,307.4 L170.2,305.9 L170.6,304.4 L171.0,302.8 L171.4,301.3 L171.7,299.8 L172.1,298.3 L172.5,296.7 L172.9,295.2 L173.3,293.7 L173.7,292.2 L174.1,290.6 L174.5,289.1 L175.0,287.6 L175.5,286.1 L176.1,284.7 L176.7,283.2 L177.3,281.8 L178.0,280.3 L178.8,278.9 L179.6,277.6 L180.5,276.2 L181.4,274.9 L182.4,273.6 L183.4,272.2 L184.4,271.0 L185.4,269.7 L186.5,268.4 L187.5,267.1 L188.5,265.9 L189.5,264.6 L190.5,263.3 L191.4,262.0 L192.2,260.6 L193.0,259.3 L193.7,257.9 L194.4,256.5 L195.0,255.0 L195.6,253.6 L196.1,252.1 L196.6,250.7 L197.0,249.2 L197.5,247.7 L198.0,246.3 L198.5,244.8 L199.0,243.4 L199.6,242.0 L200.2,240.7 L201.0,239.4 L201.8,238.2 L202.7,237.0 L203.7,235.8 L204.8,234.7 L206.0,233.7 L207.3,232.7 L208.6,231.7 L210.0,230.8 L211.4,229.9"/>
<path d="M160.9,354.6 L160.9,352.7 L160.9,351.0 L160.9,349.3 L160.9,347.7 L160.9,346.1 L161.0,344.5 L161.0,342.9 L161.0,341.4 L161.0,339.9 L161.2,338.3 L161.4,336.8 L161.7,335.3 L162.1,333.8 L162.5,332.3 L162.9,330.8 L163.4,329.2 L163.8,327.7 L164.3,326.1 L164.7,324.6 L165.1,323.0 L165.5,321.4 L165.9,319.8 L166.2,318.3 L166.6,316.7 L166.9,315.1 L167.3,313.5 L167.6,311.9 L167.9,310.4 L168.2,308.8 L168.6,307.2 L168.9,305.7 L169.2,304.1 L169.6,302.6 L170.0,301.0 L170.4,299.5 L170.7,297.9 L171.2,296.4 L171.6,294.9 L172.0,293.4 L172.5,291.8 L172.9,290.3 L173.4,288.8 L173.9,287.3 L174.4,285.8 L175.0,284.3 L175.5,282.8 L176.0,281.3 L176.6,279.9 L177.2,278.4 L177.8,276.9 L178.4,275.4 L178.8,273.9 L179.1,272.3 L179.2,270.8 L179.3,269.2 L179.2,267.5 L179.1,265.8 L179.0,264.0 L178.9,262.2 L179.0,260.2 L179.2,258.1 L179.5,256.0 L179.9,253.7 L180.5,251.3 L181.0,248.9 L181.6,246.5 L182.0,244.1 L182.2,241.8 L182.2,239.6 L181.9,237.4 L181.3,235.5 L180.5,233.7 L179.4,232.1 L178.3,230.7 L177.1,229.4 L176.0,228.2 L175.1,227.1 L174.4,226.0 L174.1,224.9 L174.2,223.7 L174.6,222.3"/>
<path d="M161.0,354.6 L161.0,352.7 L161.0,351.0 L161.0,349.4 L161.0,347.7 L161.0,346.1 L161.0,344.5 L161.0,342.9 L161.0,341.4 L161.1,339.8 L161.3,338.3 L161.5,336.8 L161.8,335.3 L162.2,333.8 L162.6,332.2 L163.0,330.7 L163.5,329.2 L164.0,327.6 L164.4,326.1 L164.9,324.5 L165.3,322.9 L165.8,321.4 L166.2,319.8 L166.6,318.2 L167.0,316.7 L167.4,315.1 L167.7,313.5 L168.1,312.0 L168.5,310.4 L168.9,308.9 L169.2,307.3 L169.6,305.8 L170.0,304.3 L170.4,302.7 L170.8,301.2 L171.2,299.7 L171.7,298.2 L172.1,296.6 L172.6,295.1 L173.1,293.6 L173.6,292.1 L174.1,290.6 L174.8,289.0 L175.6,287.6 L176.3,286.4 L176.8,285.5 L176.8,284.6 L176.5,283.7 L175.9,282.4 L175.2,280.7 L174.6,278.6 L174.6,276.1 L175.3,273.5 L176.7,271.2 L178.5,269.6 L180.4,268.6 L182.0,268.3 L182.9,268.4 L183.2,268.7 L182.8,268.8 L181.8,268.5 L180.5,267.7 L179.4,266.3 L178.6,264.4 L178.4,262.2 L178.9,260.0 L180.1,258.0 L181.7,256.4 L183.4,255.3 L185.0,254.7 L186.0,254.5 L186.2,254.5 L185.7,254.3 L184.6,253.7 L183.0,252.6 L181.4,250.9"/>
<path d="M161.0,354.6 L161.0,352.7 L161.0,351.0 L161.0,349.4 L161.0,347.7 L161.0,346.1 L161.1,344.5 L161.0,342.9 L161.1,341.4 L161.2,339.8 L161.3,338.3 L161.6,336.8 L161.9,335.2 L162.3,333.7 L162.7,332.2 L163.1,330.7 L163.6,329.1 L164.1,327.6 L164.6,326.0 L165.0,324.5 L165.5,322.9 L166.0,321.3 L166.4,319.8 L166.8,318.2 L167.2,316.7 L167.7,315.1 L168.1,313.6 L168.5,312.0 L168.9,310.5 L169.3,308.9 L169.7,307.4 L170.1,305.9 L170.5,304.3 L171.0,302.8 L171.4,301.3 L171.9,299.8 L172.3,298.3 L172.8,296.8 L173.3,295.3 L173.8,293.8 L174.3,292.4 L174.9,290.9 L175.4,289.4 L176.0,287.9 L176.6,286.5 L177.2,285.0 L177.8,283.6 L178.4,282.1 L179.1,280.7 L179.9,279.2 L180.7,277.9 L181.4,276.7 L181.9,275.7 L182.1,274.6 L182.1,273.4 L182.0,272.0 L181.7,270.3 L181.6,268.2 L181.7,265.9 L182.3,263.5 L183.2,261.4 L184.4,259.5 L185.7,258.0 L187.0,256.8 L188.1,256.0 L188.9,255.4 L189.3,254.9 L189.5,254.4 L189.3,253.7 L188.9,252.8 L188.5,251.5 L188.0,249.9 L187.7,248.0 L187.6,245.9 L187.9,243.7 L188.5,241.7 L189.3,239.8 L190.4,238.2 L191.6,237.0 L192.7,236.2 L193.7,235.6"/>
<path d="M161.5,354.6 L161.5,352.9 L161.5,351.2 L161.5,349.6 L161.5,347.9 L161.5,346.2 L161.3,344.5 L161.5,342.9 L161.8,341.2 L162.0,339.6 L162.4,337.9 L162.8,336.3 L163.2,334.7 L163.7,333.1 L164.2,331.5 L164.8,329.9 L165.4,328.4 L166.0,326.8 L166.7,325.3 L167.4,323.8 L168.1,322.3 L168.9,320.9 L169.7,319.4 L170.6,318.0 L171.4,316.6 L172.3,315.2 L173.2,313.8 L174.1,312.5 L175.0,311.1 L176.0,309.8 L177.0,308.5 L178.0,307.2 L179.0,305.9 L180.0,304.6 L181.0,303.4 L182.1,302.1 L183.2,300.9 L184.2,299.6 L185.3,298.4 L186.4,297.2 L187.5,296.0 L188.6,294.9 L189.8,293.7 L190.9,292.5 L192.1,291.3 L193.2,290.2 L194.4,289.0 L195.5,287.9 L196.7,286.8 L197.8,285.6 L199.0,284.5 L200.2,283.3 L201.3,282.2 L202.5,281.0 L203.6,279.9 L204.8,278.8 L205.9,277.6 L207.1,276.5 L208.4,275.6 L209.9,274.6 L211.4,273.7 L212.9,272.8 L214.5,271.9 L216.0,270.9 L217.6,270.0 L219.0,269.1 L220.4,268.1 L221.8,267.2 L223.1,266.3 L224.4,265.4 L225.7,264.6 L227.1,263.8 L228.5,263.1 L230.1,262.4 L231.6,261.9 L233.3,261.4 L235.0,260.9 L236.7,260.5 L238.4,260.2 L240.1,259.8 L241.8,259.4"/>
<path d="M161.5,354.6 L161.5,352.9 L161.5,351.2 L161.5,349.6 L161.5,347.9 L161.5,346.2 L161.3,344.5 L161.5,342.9 L161.7,341.2 L162.0,339.6 L162.3,337.9 L162.7,336.3 L163.1,334.7 L163.6,333.1 L164.1,331.5 L164.7,330.0 L165.3,328.4 L165.9,326.9 L166.6,325.4 L167.3,323.9 L168.0,322.4 L168.8,320.9 L169.6,319.4 L170.4,318.0 L171.3,316.6 L172.1,315.2 L173.0,313.8 L173.9,312.4 L174.9,311.1 L175.8,309.8 L176.8,308.4 L177.8,307.1 L178.8,305.9 L179.8,304.6 L180.9,303.3 L181.9,302.1 L183.0,300.8 L184.0,299.6 L185.1,298.4 L186.2,297.2 L187.3,296.0 L188.4,294.8 L189.5,293.6 L190.6,292.4 L191.7,291.2 L192.8,290.1 L193.9,288.9 L195.0,287.7 L196.1,286.6 L197.2,285.4 L198.3,284.2 L199.4,283.1 L200.5,281.9 L201.6,280.7 L202.7,279.5 L203.7,278.3 L204.8,277.2 L205.9,276.0 L206.9,274.8 L208.0,273.6 L209.1,272.6 L210.3,271.8 L211.6,271.2 L212.8,270.6 L214.1,270.1 L215.4,269.7 L216.6,269.2 L217.9,268.7 L219.2,268.2 L220.4,267.7 L221.7,267.2 L223.0,266.8 L224.3,266.5 L225.7,266.2 L227.0,266.1 L228.4,266.2 L229.7,266.5 L231.1,266.9 L232.4,267.5 L233.6,268.3 L234.8,269.0 L236.0,269.8 L237.1,270.6"/>
<path d="M161.4,354.6 L161.4,352.9 L161.4,351.2 L161.4,349.5 L161.4,347.9 L161.4,346.2 L161.3,344.5 L161.5,342.9 L161.7,341.2 L162.0,339.6 L162.3,338.0 L162.6,336.3 L163.1,334.7 L163.5,333.1 L164.0,331.6 L164.6,330.0 L165.2,328.5 L165.8,326.9 L166.5,325.4 L167.2,323.9 L167.9,322.4 L168.6,320.9 L169.4,319.5 L170.2,318.0 L171.0,316.6 L171.9,315.2 L172.7,313.8 L173.6,312.4 L174.5,311.1 L175.5,309.7 L176.4,308.4 L177.4,307.1 L178.4,305.8 L179.4,304.5 L180.4,303.2 L181.5,302.0 L182.5,300.7 L183.6,299.5 L184.6,298.2 L185.7,297.0 L186.7,295.8 L187.8,294.6 L188.8,293.4 L189.9,292.2 L190.9,291.0 L191.9,289.8 L193.0,288.6 L194.0,287.4 L195.0,286.2 L196.1,285.0 L197.1,283.8 L198.1,282.8 L199.0,281.9 L199.8,280.9 L200.8,279.6 L202.0,278.1 L203.7,276.7 L205.8,275.4 L208.1,274.5 L210.4,274.2 L212.3,274.4 L213.7,274.8 L214.5,275.1 L215.0,275.0 L215.2,274.6 L215.5,273.7 L216.1,272.3 L217.2,270.7 L218.8,269.1 L221.0,267.7 L223.5,266.7 L226.0,266.1 L228.5,266.0 L230.5,266.2 L231.9,266.6 L232.8,266.9 L233.1,266.9"/>
<path d="M161.4,354.6 L161.4,352.9 L161.4,351.2 L161.4,349.5 L161.4,347.8 L161.4,346.2 L161.3,344.5 L161.4,342.9 L161.6,341.2 L161.8,339.6 L162.1,338.0 L162.5,336.4 L162.9,334.8 L163.4,333.2 L163.9,331.7 L164.4,330.1 L165.0,328.5 L165.6,327.0 L166.2,325.5 L166.9,324.0 L167.6,322.5 L168.3,321.0 L169.0,319.5 L169.7,318.1 L170.5,316.6 L171.3,315.2 L172.1,313.8 L172.9,312.4 L173.8,311.0 L174.6,309.6 L175.5,308.3 L176.4,306.9 L177.3,305.6 L178.2,304.3 L179.1,303.0 L180.1,301.7 L181.0,300.4 L182.0,299.1 L183.0,297.8 L184.0,296.6 L184.9,295.3 L185.9,294.1 L187.0,292.8 L188.0,291.6 L189.0,290.4 L190.0,289.2 L191.1,288.0 L192.1,286.8 L193.2,285.6 L194.3,284.4 L195.3,283.2 L196.4,282.0 L197.5,280.8 L198.6,279.6 L199.7,278.4 L200.8,277.2 L201.9,276.0 L202.9,274.8 L204.0,273.6 L205.0,272.4 L206.0,271.2 L207.0,269.9 L208.0,268.7 L209.0,267.4 L209.9,266.1 L210.8,265.0 L211.8,263.9 L212.8,262.9 L213.9,262.1 L214.9,261.3 L215.9,260.6 L217.0,260.1 L218.0,259.6 L219.0,259.2 L220.1,258.8 L221.1,258.5 L222.2,258.2 L223.3,257.9 L224.4,257.5 L225.5,257.1 L226.7,256.6 L227.9,256.1 L229.1,255.6 L230.4,255.2 L231.7,254.7 L232.9,254.4"/>
</g>
<g transform="translate(402.5,0)" fill="none" stroke="#fc8d62" stroke-width="3.6" stroke-opacity="0.5" stroke-linecap="round" stroke-linejoin="round">
<path d="M161.2,354.2 L161.3,351.5 L161.3,348.8 L161.3,346.1 L161.3,343.5 L161.2,340.9 L161.2,338.3 L161.0,335.8 L160.7,333.3 L160.5,330.7 L160.2,328.1 L160.1,325.4 L159.9,322.7 L159.9,320.0 L159.9,317.2 L160.0,314.5 L160.2,311.7 L160.3,309.0 L160.5,306.1 L160.6,303.3 L160.6,300.3 L160.6,297.3 L160.4,294.3 L160.1,291.4 L159.8,288.5 L159.3,285.8 L158.8,283.3 L158.3,281.0 L157.8,278.8 L157.3,276.7 L156.9,274.6 L156.7,272.5 L156.6,270.2 L156.6,267.8 L156.8,265.2 L157.2,262.6 L157.5,259.9 L157.9,257.1 L158.3,254.4 L158.6,251.6"/>
<path d="M161.2,354.2 L161.2,352.3 L161.2,350.4 L161.2,348.4 L161.1,346.3 L161.0,344.1 L160.9,341.8 L160.9,339.4 L160.9,337.2 L161.0,335.2 L161.1,333.4 L161.3,331.7 L161.5,330.1 L161.6,328.3 L161.7,326.2 L161.7,323.9 L161.6,321.6 L161.4,319.3 L161.0,317.3 L160.5,315.7 L160.1,314.6 L159.7,313.6 L159.5,312.5 L159.5,311.0 L159.6,308.9 L160.0,306.1 L160.6,302.9 L161.2,299.7 L161.8,296.8 L162.3,294.5 L162.5,292.7 L162.5,291.4 L162.1,290.0 L161.5,288.2 L160.6,285.7 L159.7,282.6 L158.8,279.2 L158.1,276.0 L157.6,273.4 L157.5,271.8"/>
<path d="M161.2,354.2 L161.2,351.6 L161.2,349.0 L161.2,346.4 L161.2,343.9 L161.1,341.3 L161.1,338.8 L161.2,336.3 L161.5,333.7 L161.9,331.1 L162.4,328.4 L162.9,325.6 L163.4,322.9 L163.9,320.3 L164.3,317.9 L164.7,315.6 L165.1,313.5 L165.4,311.5 L165.8,309.3 L166.3,307.0 L166.9,304.3 L167.6,301.4 L168.3,298.1 L169.0,294.7 L169.7,291.4 L170.3,288.5 L170.8,285.9 L171.1,283.9 L171.3,282.3 L171.4,281.0 L171.5,279.6 L171.7,277.9 L172.1,275.7 L172.6,272.8 L173.3,269.3 L174.0,265.3 L174.8,261.2 L175.4,257.4 L175.9,254.2 L176.1,251.7"/>
<path d="M161.2,354.2 L161.2,351.8 L161.2,349.5 L161.2,347.1 L161.1,344.8 L161.1,342.4 L161.1,339.9 L161.0,337.3 L161.0,334.6 L161.0,331.8 L161.0,329.0 L161.0,326.2 L161.0,323.4 L161.2,320.8 L161.3,318.3 L161.5,316.0 L161.6,313.8 L161.8,311.7 L161.9,309.8 L162.0,307.8 L162.0,305.8 L161.9,303.7 L161.8,301.5 L161.6,299.2 L161.4,296.7 L161.2,294.1 L161.0,291.3 L160.8,288.5 L160.6,285.5 L160.5,282.5 L160.5,279.5 L160.5,276.4 L160.6,273.4 L160.7,270.5 L160.8,267.7 L160.8,265.1 L160.8,262.8 L160.7,260.8 L160.5,259.1 L160.2,257.7"/>
<path d="M161.2,354.2 L161.2,352.4 L161.2,350.6 L161.1,348.8 L161.0,347.0 L160.9,345.3 L160.8,343.5 L160.9,341.6 L161.1,339.7 L161.4,337.7 L161.7,335.8 L161.9,333.9 L161.9,332.1 L161.7,330.4 L161.2,328.9 L160.8,327.4 L160.4,325.9 L160.3,324.3 L160.5,322.4 L161.0,320.4 L161.6,318.2 L162.2,316.1 L162.5,314.0 L162.6,312.1 L162.2,310.5 L161.7,309.0 L161.1,307.6 L160.8,306.1 L160.7,304.3 L161.1,302.3 L161.7,300.0 L162.3,297.5 L162.7,295.2 L162.8,293.0 L162.5,291.3 L161.8,290.0 L161.1,288.9 L160.5,288.0 L160.4,287.0 L160.6,285.6"/>
<path d="M161.2,354.2 L161.2,351.4 L161.2,348.7 L161.3,345.9 L161.3,343.2 L161.3,340.4 L161.2,337.6 L161.0,334.9 L160.7,332.1 L160.4,329.3 L160.0,326.6 L159.7,324.0 L159.5,321.3 L159.4,318.6 L159.5,315.9 L159.6,313.2 L159.8,310.4 L159.9,307.7 L159.8,304.9 L159.6,302.3 L159.3,299.6 L158.8,297.0 L158.3,294.4 L157.9,291.7 L157.5,288.9 L157.3,286.0 L157.2,283.0 L157.2,279.9 L157.3,276.8 L157.2,273.7 L157.1,270.8 L156.7,268.1 L156.2,265.5 L155.5,263.0 L154.8,260.6 L154.1,258.2 L153.6,255.7 L153.3,253.1 L153.1,250.5 L153.1,247.8"/>
<path d="M161.2,354.2 L161.2,351.2 L161.2,348.3 L161.2,345.5 L161.2,342.7 L161.2,339.8 L161.5,337.0 L162.2,334.1 L163.3,331.2 L164.6,328.4 L165.9,325.6 L167.2,323.0 L168.6,320.6 L170.0,318.4 L171.4,316.4 L172.9,314.6 L174.5,312.7 L176.2,310.5 L177.9,308.1 L179.7,305.4 L181.3,302.4 L182.9,299.4 L184.4,296.4 L185.8,293.8 L187.1,291.5 L188.3,289.5 L189.6,287.7 L190.9,285.8 L192.4,283.7 L193.9,281.1 L195.5,277.9 L197.1,274.3 L198.6,270.5 L199.9,266.8 L201.1,263.4 L202.0,260.5 L202.8,258.4 L203.5,256.7 L204.1,255.2 L204.8,253.5"/>
<path d="M161.2,354.2 L161.2,350.9 L161.3,347.6 L161.4,344.3 L161.4,341.0 L161.6,337.8 L162.4,334.6 L163.6,331.6 L165.1,328.7 L166.5,325.8 L168.0,322.9 L169.5,319.9 L171.1,317.0 L173.0,314.1 L175.0,311.2 L177.3,308.4 L179.8,305.7 L182.3,303.1 L184.8,300.6 L187.1,298.1 L189.1,295.7 L190.8,293.3 L192.3,290.8 L193.5,288.3 L194.6,285.6 L195.8,282.8 L197.1,279.9 L198.7,276.8 L200.4,273.6 L202.3,270.3 L204.3,267.1 L206.3,263.8 L208.2,260.7 L210.1,257.6 L212.0,254.7 L213.7,251.9 L215.5,249.2 L217.3,246.6 L219.1,244.0 L220.7,241.4"/>
<path d="M161.2,354.2 L161.2,351.1 L161.3,348.1 L161.3,345.1 L161.3,342.0 L161.1,338.9 L161.4,335.7 L162.1,332.6 L163.2,329.4 L164.6,326.3 L166.2,323.2 L167.9,320.1 L169.5,317.3 L170.9,314.5 L172.0,312.0 L172.9,309.6 L173.7,307.3 L174.6,305.0 L175.9,302.7 L177.5,300.1 L179.4,297.4 L181.6,294.4 L183.7,291.2 L185.4,287.9 L186.7,284.5 L187.5,281.2 L188.1,278.0 L188.6,275.0 L189.4,272.3 L190.7,269.8 L192.4,267.5 L194.3,265.2 L196.2,262.9 L197.8,260.4 L198.9,257.6 L199.5,254.4 L199.7,251.0 L200.0,247.3 L200.6,243.5 L201.7,239.8"/>
<path d="M161.2,354.2 L161.2,351.0 L161.2,347.8 L161.2,344.6 L161.3,341.5 L161.3,338.3 L162.0,335.2 L163.2,332.3 L164.8,329.5 L166.5,326.7 L168.3,324.0 L170.0,321.3 L171.6,318.5 L173.2,315.7 L174.7,313.0 L176.1,310.2 L177.5,307.4 L178.9,304.6 L180.6,301.7 L182.4,298.9 L184.3,296.1 L186.4,293.2 L188.5,290.4 L190.4,287.6 L192.3,284.7 L194.0,282.0 L195.6,279.2 L197.3,276.4 L199.0,273.7 L200.7,271.0 L202.5,268.4 L204.1,265.7 L205.6,263.1 L206.8,260.5 L207.9,257.9 L208.9,255.4 L209.9,252.8 L211.2,250.2 L212.8,247.7 L214.8,245.1"/>
<path d="M161.2,354.2 L161.2,351.2 L161.2,348.2 L161.2,345.2 L161.1,342.1 L161.1,339.0 L161.3,335.9 L162.2,333.0 L163.3,330.3 L164.7,327.8 L166.2,325.3 L167.7,322.9 L169.3,320.4 L170.9,318.0 L172.6,315.4 L174.3,312.8 L176.0,310.1 L177.7,307.2 L179.5,304.4 L181.2,301.5 L182.9,298.8 L184.5,296.1 L186.1,293.6 L187.6,291.3 L189.1,289.0 L190.5,286.9 L191.8,284.7 L193.1,282.4 L194.3,279.9 L195.5,277.3 L196.6,274.4 L197.8,271.3 L199.0,268.1 L200.1,264.9 L201.4,261.7 L202.7,258.7 L204.0,256.0 L205.4,253.5 L206.8,251.2 L208.3,249.0"/>
<path d="M161.2,354.2 L161.3,350.8 L161.3,347.5 L161.3,344.2 L161.2,340.9 L161.1,337.6 L161.7,334.4 L162.8,331.4 L164.4,328.4 L166.2,325.4 L168.1,322.4 L170.2,319.4 L172.1,316.3 L174.0,313.4 L175.6,310.5 L177.0,307.7 L178.2,305.0 L179.4,302.3 L180.7,299.7 L182.3,297.0 L184.1,294.3 L186.4,291.4 L188.8,288.3 L191.2,285.2 L193.4,282.0 L195.3,278.8 L196.7,275.6 L197.6,272.7 L198.3,269.8 L198.9,267.2 L199.8,264.7 L201.1,262.1 L203.0,259.6 L205.4,256.8 L208.2,253.8 L210.9,250.6 L213.3,247.2 L215.0,243.7 L216.0,240.1 L216.3,236.7"/>
<path d="M161.2,354.2 L161.3,351.5 L161.3,348.8 L161.3,346.1 L161.2,343.5 L160.9,340.8 L160.6,338.1 L161.0,335.5 L162.0,333.0 L163.5,330.6 L165.5,328.2 L167.7,325.9 L169.9,323.7 L172.0,321.5 L173.8,319.3 L175.4,317.3 L176.9,315.3 L178.4,313.4 L180.3,311.4 L182.4,309.4 L184.7,307.3 L187.1,305.2 L189.1,303.1 L190.6,301.1 L191.4,299.2 L191.8,297.4 L192.0,295.6 L192.6,293.8 L193.7,292.0 L195.7,290.0 L198.4,287.9 L201.3,285.5 L204.2,283.0 L206.5,280.3 L208.1,277.6 L209.0,275.0 L209.7,272.5 L210.4,270.1 L211.8,267.8 L213.8,265.5"/>
<path d="M161.2,354.2 L161.2,351.3 L161.2,348.5 L161.2,345.6 L161.3,342.8 L161.3,340.1 L161.5,337.4 L162.0,334.9 L162.8,332.4 L163.8,329.9 L164.8,327.3 L165.8,324.5 L166.8,321.5 L167.9,318.5 L169.0,315.5 L170.2,312.6 L171.5,310.0 L172.7,307.5 L174.0,305.2 L175.2,302.9 L176.3,300.4 L177.4,297.8 L178.4,294.9 L179.3,291.9 L180.3,288.8 L181.3,286.0 L182.4,283.4 L183.6,281.3 L184.9,279.6 L186.3,278.1 L187.7,276.6 L189.0,274.8 L190.3,272.4 L191.4,269.5 L192.5,266.0 L193.4,262.3 L194.2,258.5 L195.0,254.9 L195.9,251.9 L196.8,249.4"/>
<path d="M161.2,354.2 L161.2,351.0 L161.2,347.9 L161.2,344.7 L161.2,341.5 L161.3,338.3 L161.8,335.0 L162.8,331.8 L164.0,328.6 L165.3,325.6 L166.6,322.5 L168.0,319.6 L169.4,316.7 L170.9,314.0 L172.4,311.2 L174.0,308.5 L175.4,305.8 L176.9,303.0 L178.2,300.1 L179.4,297.0 L180.6,293.9 L181.7,290.8 L182.8,287.7 L184.0,284.7 L185.3,281.8 L186.6,279.0 L188.1,276.3 L189.6,273.8 L191.0,271.2 L192.4,268.6 L193.6,265.9 L194.7,262.9 L195.7,259.8 L196.6,256.5 L197.6,253.0 L198.7,249.5 L200.0,246.0 L201.5,242.7 L203.2,239.6 L204.9,236.7"/>
<path d="M161.2,354.2 L161.2,351.7 L161.3,349.1 L161.3,346.6 L161.3,344.0 L161.3,341.5 L161.2,338.8 L161.3,336.2 L161.7,333.6 L162.3,331.1 L163.1,328.7 L164.1,326.4 L165.2,324.1 L166.4,321.9 L167.6,319.8 L168.7,317.7 L169.6,315.5 L170.4,313.2 L171.1,310.9 L171.7,308.4 L172.4,305.8 L173.2,303.1 L174.2,300.4 L175.4,297.8 L176.8,295.2 L178.2,292.8 L179.5,290.4 L180.7,288.3 L181.5,286.1 L182.1,284.1 L182.6,281.9 L183.0,279.7 L183.5,277.3 L184.2,274.7 L185.1,272.1 L186.3,269.3 L187.6,266.6 L188.9,264.0 L190.0,261.5 L190.8,259.2"/>
<path d="M161.2,354.2 L161.2,350.8 L161.2,347.3 L161.2,343.9 L161.2,340.4 L161.4,337.1 L162.4,333.8 L164.0,330.7 L165.8,327.6 L167.6,324.5 L169.5,321.3 L171.4,318.2 L173.4,315.3 L175.5,312.6 L177.6,310.1 L179.8,307.7 L181.9,305.2 L183.9,302.6 L185.9,299.8 L187.8,296.7 L189.6,293.5 L191.4,290.4 L193.3,287.5 L195.2,284.9 L197.2,282.5 L199.2,280.2 L201.2,277.6 L203.0,274.6 L204.8,271.1 L206.4,267.2 L208.0,263.0 L209.6,259.0 L211.3,255.5 L213.1,252.7 L215.2,250.7 L217.3,249.1 L219.5,247.7 L221.7,246.1 L223.7,243.9 L225.5,241.1"/>
<path d="M161.2,354.2 L161.2,351.1 L161.2,348.1 L161.1,345.1 L161.1,342.2 L160.9,339.2 L161.4,336.2 L162.5,333.4 L164.1,330.6 L166.1,328.0 L168.1,325.3 L170.2,322.7 L172.4,320.3 L174.4,317.9 L176.4,315.7 L178.3,313.5 L180.0,311.3 L181.5,309.1 L183.0,306.8 L184.5,304.5 L186.0,302.0 L187.6,299.5 L189.4,297.0 L191.5,294.4 L193.7,291.8 L196.1,289.1 L198.5,286.5 L200.9,283.9 L203.1,281.4 L205.1,279.0 L206.9,276.8 L208.5,274.7 L209.8,272.8 L211.1,270.8 L212.2,268.8 L213.4,266.5 L214.8,263.8 L216.3,260.8 L218.0,257.4 L219.9,253.9"/>
<path d="M161.2,354.2 L161.3,350.8 L161.3,347.5 L161.2,344.1 L161.1,340.8 L161.1,337.6 L162.0,334.5 L163.6,331.7 L165.6,329.2 L167.7,326.8 L169.6,324.3 L171.4,321.8 L173.0,319.3 L174.5,316.6 L176.2,313.8 L178.2,310.9 L180.4,307.9 L183.0,304.9 L185.8,301.8 L188.6,298.9 L191.2,296.1 L193.5,293.5 L195.4,291.0 L197.1,288.8 L198.8,286.7 L200.6,284.7 L202.8,282.7 L205.4,280.7 L208.1,278.6 L210.6,276.3 L212.7,273.8 L214.3,271.1 L215.2,268.1 L215.6,264.9 L216.0,261.5 L216.8,258.0 L218.1,254.4 L220.1,250.8 L222.7,247.3 L225.5,244.0"/>
<path d="M161.2,354.2 L161.2,351.6 L161.2,349.0 L161.3,346.4 L161.4,343.8 L161.5,341.2 L161.6,338.6 L161.8,335.9 L162.3,333.3 L162.9,330.6 L163.6,328.0 L164.3,325.4 L164.9,322.8 L165.6,320.3 L166.3,317.7 L167.1,315.2 L168.1,312.8 L169.1,310.4 L170.3,308.0 L171.5,305.7 L172.7,303.4 L173.9,301.1 L175.0,298.8 L176.0,296.5 L176.9,294.1 L177.5,291.8 L178.0,289.4 L178.4,286.9 L178.7,284.3 L179.0,281.7 L179.4,278.9 L180.0,276.1 L180.8,273.3 L181.9,270.5 L183.2,267.7 L184.7,265.0 L186.4,262.4 L188.2,260.0 L189.9,257.7 L191.5,255.5"/>
<path d="M161.2,354.2 L161.2,351.3 L161.2,348.3 L161.2,345.4 L161.1,342.4 L161.1,339.5 L161.4,336.5 L162.2,333.7 L163.4,330.9 L164.9,328.3 L166.4,325.7 L167.9,323.1 L169.4,320.6 L170.9,318.2 L172.5,315.8 L174.1,313.5 L175.8,311.1 L177.6,308.8 L179.4,306.4 L181.2,304.0 L183.0,301.5 L184.8,299.0 L186.6,296.4 L188.2,293.9 L189.7,291.3 L191.1,288.7 L192.4,286.2 L193.6,283.6 L194.9,281.0 L196.2,278.4 L197.5,275.8 L198.9,273.2 L200.4,270.7 L201.8,268.2 L203.2,265.7 L204.5,263.2 L205.7,260.6 L206.8,258.0 L207.9,255.1 L208.8,252.2"/>
<path d="M161.2,354.2 L161.2,351.1 L161.2,347.9 L161.3,344.8 L161.3,341.6 L161.3,338.4 L161.8,335.2 L162.6,332.1 L163.7,329.3 L164.9,326.5 L166.2,323.8 L167.4,321.2 L168.7,318.5 L170.1,315.6 L171.4,312.6 L172.9,309.6 L174.4,306.5 L176.1,303.6 L177.8,300.8 L179.5,298.2 L181.3,295.6 L182.9,293.0 L184.4,290.3 L185.8,287.3 L186.9,284.2 L187.8,281.0 L188.7,278.0 L189.6,275.1 L190.5,272.6 L191.7,270.3 L193.1,268.0 L194.7,265.6 L196.5,262.8 L198.3,259.7 L199.9,256.2 L201.4,252.6 L202.5,249.1 L203.2,245.9 L203.7,242.9 L203.9,240.2"/>
<path d="M161.2,354.2 L161.3,351.0 L161.4,347.8 L161.6,344.7 L161.7,341.5 L161.8,338.3 L162.4,335.1 L163.6,332.1 L165.0,329.2 L166.5,326.3 L167.9,323.5 L169.2,320.8 L170.6,318.1 L171.9,315.4 L173.3,312.8 L174.8,310.2 L176.4,307.6 L178.1,304.9 L179.9,302.1 L181.9,299.2 L183.9,296.3 L186.0,293.4 L188.2,290.5 L190.5,287.9 L192.7,285.3 L194.9,282.9 L197.0,280.5 L198.9,278.1 L200.8,275.6 L202.5,273.0 L204.1,270.2 L205.6,267.3 L206.9,264.3 L208.2,261.2 L209.5,258.3 L210.7,255.4 L211.9,252.6 L213.2,249.9 L214.6,247.3 L216.1,244.7"/>
<path d="M161.2,354.2 L161.2,351.2 L161.2,348.3 L161.2,345.3 L161.3,342.3 L161.3,339.3 L161.8,336.4 L163.1,333.8 L164.9,331.5 L167.0,329.5 L169.1,327.5 L171.2,325.3 L173.3,322.9 L175.4,320.5 L177.4,317.9 L179.5,315.5 L181.5,313.5 L183.5,311.8 L185.6,310.4 L187.6,309.3 L189.6,308.1 L191.6,306.4 L193.6,304.2 L195.7,301.2 L197.8,297.7 L199.8,294.1 L202.0,290.8 L204.1,288.4 L206.3,287.0 L208.4,286.5 L210.6,286.5 L212.9,286.4 L215.1,285.5 L217.3,283.3 L219.5,279.8 L221.7,275.1 L223.8,270.0 L225.9,265.2 L227.9,261.7 L229.9,259.8"/>
<path d="M161.2,354.2 L161.2,351.2 L161.3,348.2 L161.4,345.3 L161.5,342.4 L161.6,339.4 L162.1,336.5 L163.2,333.7 L164.7,331.0 L166.3,328.5 L167.9,325.9 L169.4,323.3 L171.0,320.7 L172.6,318.2 L174.3,315.6 L176.0,313.0 L177.9,310.4 L179.9,307.8 L182.0,305.1 L184.2,302.5 L186.4,300.0 L188.7,297.6 L191.0,295.4 L193.2,293.4 L195.4,291.5 L197.4,289.7 L199.2,287.9 L200.9,286.0 L202.5,284.0 L204.0,281.8 L205.4,279.5 L206.7,277.0 L208.1,274.5 L209.6,271.9 L211.2,269.3 L212.8,266.6 L214.6,263.8 L216.4,260.9 L218.3,257.8 L220.2,254.5"/>
<path d="M161.2,354.2 L161.2,350.9 L161.1,347.6 L161.1,344.3 L161.1,341.0 L161.3,337.7 L162.0,334.4 L163.2,331.3 L164.5,328.4 L166.0,325.5 L167.5,322.6 L169.2,319.8 L171.0,317.1 L173.0,314.3 L175.1,311.6 L177.2,308.9 L179.2,306.2 L180.9,303.4 L182.3,300.6 L183.6,297.8 L184.8,294.9 L186.2,292.0 L187.8,289.1 L189.8,286.2 L191.9,283.3 L193.9,280.4 L195.8,277.6 L197.3,274.7 L198.6,271.9 L199.6,269.2 L200.7,266.4 L202.0,263.6 L203.8,260.8 L205.9,257.9 L208.2,254.9 L210.4,251.9 L212.1,248.8 L213.2,245.5 L213.6,242.3 L213.6,238.9"/>
<path d="M161.2,354.2 L161.2,351.3 L161.1,348.5 L161.1,345.6 L161.1,342.7 L161.1,339.7 L161.6,336.6 L162.6,333.5 L164.0,330.6 L165.4,328.0 L166.7,325.7 L167.8,323.6 L168.9,321.6 L170.1,319.7 L171.5,317.6 L173.3,315.1 L175.4,312.2 L177.7,309.1 L180.0,305.7 L181.9,302.6 L183.5,299.7 L184.6,297.5 L185.3,295.8 L186.1,294.5 L187.1,293.3 L188.7,291.8 L190.9,289.8 L193.6,287.1 L196.3,283.6 L198.8,279.8 L200.6,275.8 L201.6,272.2 L201.8,269.2 L201.7,266.9 L201.5,265.4 L201.9,264.1 L202.9,262.8 L204.7,261.1 L207.0,258.5 L209.4,255.2"/>
<path d="M161.2,354.2 L161.2,350.9 L161.2,347.6 L161.2,344.3 L161.2,341.0 L161.3,337.7 L162.1,334.6 L163.4,331.7 L165.0,329.0 L166.7,326.3 L168.3,323.6 L170.0,320.9 L171.8,318.1 L173.8,315.2 L175.9,312.4 L178.1,309.5 L180.4,306.7 L182.5,303.8 L184.5,301.0 L186.3,298.1 L187.9,295.3 L189.3,292.6 L190.7,289.8 L192.1,287.2 L193.8,284.6 L195.6,282.1 L197.6,279.7 L199.7,277.3 L201.7,274.9 L203.6,272.3 L205.3,269.7 L206.8,266.8 L208.3,263.8 L209.8,260.8 L211.4,257.6 L213.3,254.4 L215.4,251.2 L217.5,248.0 L219.5,244.8 L221.2,241.6"/>
<path d="M161.2,354.2 L161.2,351.2 L161.2,348.2 L161.2,345.2 L161.2,342.2 L161.2,339.5 L161.5,336.9 L162.3,334.5 L163.5,332.2 L164.9,330.0 L166.5,327.5 L168.3,324.7 L170.1,321.7 L172.0,318.7 L173.8,315.9 L175.5,313.3 L177.1,311.2 L178.5,309.3 L179.8,307.6 L181.1,305.8 L182.5,303.7 L184.1,301.2 L185.8,298.2 L187.8,295.0 L189.9,291.7 L192.0,288.7 L193.9,286.2 L195.6,284.4 L197.0,283.1 L198.3,281.9 L199.6,280.7 L200.9,278.8 L202.4,276.2 L204.1,272.9 L206.0,269.0 L207.9,264.9 L209.6,261.2 L211.0,258.2 L212.0,256.1 L212.6,254.8"/>
<path d="M161.2,354.2 L161.2,351.0 L161.2,347.9 L161.2,344.8 L161.2,341.6 L161.3,338.4 L162.1,335.2 L163.5,332.2 L165.2,329.4 L167.1,326.8 L168.9,324.3 L170.7,322.0 L172.5,319.8 L174.3,317.6 L176.2,315.2 L178.2,312.6 L180.2,309.9 L182.3,307.0 L184.5,304.1 L186.6,301.5 L188.8,299.1 L191.0,297.1 L193.1,295.2 L195.1,293.3 L197.1,291.1 L198.9,288.5 L200.8,285.5 L202.5,282.2 L204.3,278.9 L206.0,275.9 L207.8,273.3 L209.5,271.3 L211.3,269.5 L213.1,267.7 L214.8,265.7 L216.6,263.1 L218.3,259.9 L220.0,256.3 L221.7,252.6 L223.4,249.1"/>
<path d="M161.2,354.2 L161.2,351.3 L161.2,348.4 L161.2,345.5 L161.3,342.6 L161.3,339.6 L161.5,336.7 L162.2,333.8 L163.2,331.0 L164.4,328.4 L165.7,325.9 L167.0,323.4 L168.3,320.9 L169.5,318.4 L170.8,315.9 L172.1,313.4 L173.3,310.8 L174.6,308.1 L175.8,305.4 L177.0,302.6 L178.2,299.9 L179.4,297.2 L180.7,294.5 L182.0,292.0 L183.3,289.6 L184.7,287.2 L186.1,285.0 L187.5,282.7 L189.0,280.5 L190.5,278.2 L192.0,275.8 L193.5,273.3 L195.0,270.5 L196.4,267.6 L197.7,264.5 L198.9,261.2 L200.0,257.8 L200.9,254.4 L201.7,251.0 L202.4,247.8"/>
<path d="M161.2,354.2 L161.2,351.3 L161.2,348.3 L161.2,345.4 L161.2,342.5 L161.2,339.6 L161.5,336.6 L162.3,333.8 L163.6,331.1 L165.0,328.5 L166.5,326.0 L168.0,323.5 L169.5,321.0 L170.9,318.5 L172.5,316.1 L174.0,313.7 L175.6,311.2 L177.3,308.8 L179.0,306.4 L180.8,303.9 L182.6,301.5 L184.3,299.0 L186.0,296.5 L187.6,294.0 L189.2,291.5 L190.6,289.0 L192.0,286.6 L193.5,284.2 L194.9,281.7 L196.4,279.3 L198.0,276.8 L199.5,274.2 L201.1,271.6 L202.6,268.9 L203.9,266.2 L205.1,263.4 L206.1,260.7 L207.0,257.9 L207.9,255.3 L208.8,252.6"/>
<path d="M161.2,354.2 L161.2,351.2 L161.3,348.2 L161.4,345.2 L161.4,342.2 L161.4,339.2 L161.6,336.2 L162.2,333.4 L163.1,330.7 L164.2,328.2 L165.5,325.7 L166.9,323.2 L168.5,320.7 L170.1,318.2 L171.8,315.7 L173.5,313.1 L175.2,310.5 L176.8,307.8 L178.4,305.1 L179.9,302.4 L181.4,299.8 L183.0,297.2 L184.6,294.7 L186.2,292.3 L187.9,289.9 L189.5,287.5 L191.0,285.2 L192.2,282.7 L193.2,280.2 L194.0,277.5 L194.8,274.8 L195.5,272.0 L196.4,269.1 L197.6,266.1 L199.1,263.2 L200.9,260.3 L202.9,257.4 L204.9,254.7 L206.7,252.0 L208.1,249.4"/>
<path d="M161.2,354.2 L161.2,350.8 L161.1,347.3 L161.1,344.0 L161.1,340.6 L161.3,337.4 L162.1,334.3 L163.5,331.3 L165.2,328.5 L167.0,325.6 L168.7,322.5 L170.4,319.4 L172.2,316.2 L173.8,313.0 L175.5,309.7 L177.1,306.5 L178.7,303.5 L180.2,300.7 L181.8,298.0 L183.3,295.4 L184.8,293.0 L186.3,290.5 L187.9,288.0 L189.5,285.3 L191.1,282.4 L192.8,279.2 L194.6,275.8 L196.4,272.2 L198.3,268.6 L200.2,265.1 L202.1,261.7 L204.1,258.6 L206.0,255.8 L207.8,253.4 L209.6,251.1 L211.3,249.0 L212.9,246.9 L214.4,244.5 L215.9,242.0 L217.3,239.0"/>
<path d="M161.2,354.2 L161.2,351.1 L161.3,348.1 L161.3,345.0 L161.4,341.9 L161.4,338.7 L161.9,335.4 L162.9,332.3 L164.3,329.2 L165.8,326.4 L167.2,323.6 L168.6,321.0 L170.1,318.5 L171.5,316.0 L172.9,313.6 L174.3,311.1 L175.9,308.7 L177.4,306.2 L179.1,303.7 L180.9,301.1 L182.8,298.4 L184.7,295.7 L186.7,292.7 L188.7,289.5 L190.6,286.1 L192.4,282.7 L194.2,279.4 L195.9,276.4 L197.6,273.8 L199.1,271.6 L200.6,269.7 L202.0,268.1 L203.4,266.4 L204.7,264.4 L205.9,262.1 L207.1,259.2 L208.3,256.0 L209.5,252.5 L210.7,249.0 L212.1,245.5"/>
<path d="M161.2,354.2 L161.2,351.3 L161.2,348.3 L161.2,345.3 L161.2,342.2 L161.2,339.0 L161.4,335.9 L162.1,332.9 L163.2,330.1 L164.6,327.6 L166.1,325.2 L167.6,322.8 L169.1,320.4 L170.6,318.0 L172.0,315.3 L173.2,312.4 L174.3,309.4 L175.4,306.3 L176.5,303.2 L177.7,300.4 L179.2,297.8 L181.0,295.5 L183.0,293.5 L185.2,291.5 L187.3,289.5 L189.3,287.3 L190.9,284.7 L192.1,281.7 L192.9,278.3 L193.4,274.8 L193.8,271.3 L194.2,268.0 L194.9,265.0 L196.0,262.6 L197.5,260.5 L199.2,258.6 L201.0,256.8 L202.7,254.7 L204.1,252.2 L205.1,249.1"/>
<path d="M161.2,354.2 L161.1,351.1 L161.2,348.0 L161.3,344.8 L161.4,341.6 L161.6,338.4 L162.2,335.3 L163.4,332.4 L164.8,329.7 L166.4,327.3 L168.0,325.0 L169.6,322.6 L171.3,320.2 L173.1,317.6 L175.0,314.9 L176.9,312.0 L178.9,309.0 L180.9,306.2 L183.0,303.5 L185.2,301.2 L187.5,299.2 L189.8,297.3 L192.0,295.4 L194.1,293.2 L195.8,290.6 L197.2,287.6 L198.2,284.2 L198.9,280.8 L199.5,277.6 L200.3,274.8 L201.6,272.5 L203.5,270.8 L206.0,269.3 L209.0,267.6 L212.2,265.5 L215.3,262.8 L217.9,259.5 L219.9,255.7 L221.2,251.8 L222.0,248.3"/>
<path d="M161.2,354.2 L161.2,350.7 L161.2,347.3 L161.3,343.8 L161.3,340.4 L161.6,337.0 L162.6,333.8 L164.0,330.8 L165.7,328.0 L167.5,325.3 L169.5,322.5 L171.6,319.8 L173.8,317.1 L176.2,314.4 L178.5,311.7 L180.6,309.0 L182.6,306.3 L184.3,303.6 L186.0,300.8 L187.8,298.1 L189.8,295.4 L192.2,292.6 L194.8,289.9 L197.5,287.1 L200.1,284.3 L202.3,281.5 L204.0,278.7 L205.4,275.8 L206.5,272.9 L207.6,269.9 L209.1,267.0 L211.1,264.0 L213.6,260.9 L216.3,257.9 L218.9,254.9 L221.1,251.9 L222.6,249.0 L223.4,246.1 L223.8,243.3 L224.0,240.5"/>
<path d="M161.2,354.2 L161.2,350.8 L161.3,347.5 L161.3,344.1 L161.2,340.7 L161.2,337.4 L161.8,334.2 L162.8,331.1 L164.0,328.2 L165.5,325.5 L166.9,322.7 L168.5,320.0 L170.2,317.3 L171.9,314.5 L173.6,311.7 L175.4,308.8 L177.2,305.8 L178.9,302.7 L180.6,299.4 L182.2,296.1 L183.7,292.8 L185.0,289.5 L186.3,286.2 L187.5,283.0 L188.6,280.0 L189.8,277.1 L191.0,274.3 L192.3,271.8 L193.9,269.4 L195.5,267.0 L197.4,264.8 L199.4,262.4 L201.4,260.0 L203.3,257.4 L205.1,254.6 L206.6,251.5 L207.9,248.2 L208.9,244.6 L209.6,240.7 L210.1,236.7"/>
<path d="M161.2,354.2 L161.1,351.0 L161.1,347.8 L161.0,344.6 L161.1,341.5 L161.2,338.4 L162.1,335.3 L163.6,332.5 L165.5,329.7 L167.4,327.0 L169.3,324.2 L171.1,321.5 L172.9,318.8 L174.6,316.1 L176.2,313.5 L177.9,310.9 L179.5,308.2 L181.3,305.5 L183.0,302.8 L184.8,299.9 L186.6,296.8 L188.3,293.7 L190.0,290.5 L191.5,287.2 L192.9,283.9 L194.3,280.8 L195.6,277.7 L197.0,274.8 L198.5,272.0 L200.2,269.4 L202.2,266.8 L204.3,264.3 L206.7,261.8 L209.1,259.2 L211.5,256.6 L213.8,254.0 L216.0,251.3 L217.9,248.7 L219.7,246.2 L221.4,243.9"/>
<path d="M161.2,354.2 L161.1,351.1 L161.1,348.1 L161.2,345.0 L161.3,341.9 L161.5,338.8 L162.2,335.7 L163.4,332.8 L164.8,330.1 L166.2,327.5 L167.5,325.0 L168.7,322.5 L169.9,319.9 L171.1,317.4 L172.5,314.9 L174.2,312.4 L176.3,309.8 L178.6,307.2 L181.1,304.6 L183.6,301.9 L186.0,299.2 L188.0,296.5 L189.7,293.8 L190.8,291.2 L191.6,288.5 L192.1,285.9 L192.5,283.4 L193.1,280.9 L194.1,278.5 L195.6,276.1 L197.8,273.6 L200.5,271.2 L203.6,268.7 L206.7,266.1 L209.7,263.5 L212.3,260.8 L214.1,258.0 L215.2,255.1 L215.6,252.3 L215.5,249.4"/>
<path d="M161.2,354.2 L161.2,350.9 L161.2,347.7 L161.2,344.4 L161.3,341.2 L161.4,338.0 L162.0,334.9 L163.1,331.9 L164.4,328.9 L165.7,325.9 L167.0,322.9 L168.2,319.9 L169.4,316.9 L170.7,314.0 L172.1,311.2 L173.7,308.6 L175.5,306.1 L177.4,303.6 L179.3,301.1 L181.3,298.5 L183.1,295.8 L184.8,292.9 L186.2,290.0 L187.5,286.9 L188.7,283.8 L189.9,280.7 L191.2,277.7 L192.8,274.7 L194.5,271.7 L196.5,268.8 L198.5,265.8 L200.3,262.8 L201.9,259.7 L203.1,256.5 L203.9,253.4 L204.3,250.3 L204.5,247.3 L204.7,244.4 L205.0,241.6 L205.8,238.8"/>
<path d="M161.2,354.2 L161.2,351.3 L161.2,348.4 L161.2,345.6 L161.2,342.6 L161.3,339.6 L161.7,336.5 L162.5,333.4 L163.6,330.6 L164.7,328.0 L165.9,325.6 L167.0,323.3 L168.0,321.2 L169.1,319.0 L170.3,316.7 L171.7,314.1 L173.3,311.2 L175.1,308.1 L177.1,304.9 L179.1,301.8 L181.1,298.9 L182.8,296.4 L184.4,294.3 L185.6,292.4 L186.5,290.6 L187.2,288.6 L187.8,286.2 L188.4,283.4 L189.1,280.1 L190.2,276.7 L191.6,273.2 L193.4,270.1 L195.5,267.5 L197.8,265.5 L200.0,263.9 L202.0,262.5 L203.6,260.9 L204.6,258.8 L204.9,255.9 L204.8,252.2"/>
<path d="M161.2,354.2 L161.2,351.6 L161.2,349.0 L161.2,346.4 L161.1,343.8 L161.1,341.2 L161.1,338.6 L161.8,336.0 L163.2,333.6 L164.9,331.4 L166.7,329.4 L168.4,327.6 L170.0,325.8 L171.5,324.1 L173.1,322.5 L174.9,320.9 L176.8,319.2 L179.0,317.4 L181.4,315.5 L183.7,313.6 L185.8,311.7 L187.7,309.8 L189.4,308.1 L190.8,306.4 L192.3,304.9 L193.9,303.4 L195.9,301.9 L198.2,300.3 L200.6,298.4 L203.1,296.3 L205.2,294.1 L207.0,291.8 L208.3,289.5 L209.3,287.3 L210.1,285.3 L211.2,283.5 L212.6,281.8 L214.6,280.2 L216.9,278.4 L219.5,276.4"/>
<path d="M161.2,354.2 L161.2,351.1 L161.2,348.0 L161.1,344.8 L161.1,341.7 L161.1,338.6 L161.6,335.6 L162.6,332.8 L164.0,330.2 L165.6,327.6 L167.2,325.1 L168.9,322.4 L170.6,319.7 L172.2,317.0 L173.9,314.3 L175.5,311.7 L177.1,309.2 L178.7,306.9 L180.2,304.6 L181.7,302.3 L183.2,299.9 L184.8,297.4 L186.4,294.7 L188.0,291.8 L189.6,288.9 L191.4,286.0 L193.1,283.3 L194.9,280.8 L196.7,278.4 L198.5,276.1 L200.3,273.8 L201.9,271.2 L203.5,268.4 L205.0,265.2 L206.3,261.8 L207.5,258.2 L208.5,254.6 L209.5,251.3 L210.3,248.4 L211.1,246.0"/>
<path d="M161.2,354.2 L161.2,351.3 L161.2,348.3 L161.3,345.4 L161.3,342.6 L161.3,339.7 L161.4,337.0 L162.1,334.3 L163.1,331.6 L164.4,328.9 L165.7,326.2 L167.1,323.4 L168.6,320.7 L170.1,318.2 L171.6,315.8 L173.1,313.6 L174.6,311.4 L176.1,309.1 L177.4,306.7 L178.8,304.1 L180.0,301.2 L181.2,298.3 L182.4,295.5 L183.6,292.9 L184.9,290.6 L186.4,288.5 L188.0,286.4 L189.8,284.3 L191.6,281.9 L193.4,279.1 L195.1,276.0 L196.4,272.7 L197.5,269.6 L198.3,266.7 L198.9,264.2 L199.5,262.1 L200.4,260.3 L201.8,258.3 L203.6,256.1 L205.9,253.4"/>
<path d="M161.2,354.2 L161.2,351.2 L161.3,348.2 L161.4,345.2 L161.4,342.2 L161.4,339.3 L161.6,336.2 L162.4,333.3 L163.5,330.4 L164.9,327.7 L166.4,325.1 L168.0,322.7 L169.7,320.3 L171.5,318.1 L173.3,315.8 L175.1,313.4 L176.8,310.9 L178.6,308.2 L180.3,305.3 L182.0,302.4 L183.8,299.5 L185.6,296.8 L187.4,294.4 L189.1,292.1 L190.7,290.0 L192.0,287.8 L193.2,285.5 L194.2,282.9 L195.2,280.0 L196.3,276.9 L197.6,273.8 L199.2,270.8 L201.2,268.1 L203.4,265.8 L205.6,263.8 L207.8,261.9 L209.7,260.0 L211.2,257.7 L212.4,255.1 L213.3,252.0"/>
<path d="M161.2,354.2 L161.2,351.4 L161.2,348.7 L161.1,345.9 L161.1,343.1 L161.0,340.3 L161.1,337.4 L161.8,334.6 L162.9,332.0 L164.3,329.5 L165.9,327.2 L167.4,325.0 L168.9,322.9 L170.2,320.8 L171.4,318.7 L172.7,316.5 L174.1,314.2 L175.7,311.9 L177.6,309.4 L179.6,306.9 L181.8,304.3 L183.9,301.8 L185.9,299.3 L187.5,297.0 L188.8,294.8 L189.8,292.7 L190.7,290.7 L191.6,288.8 L192.8,286.7 L194.2,284.5 L195.9,282.0 L197.8,279.3 L199.5,276.4 L201.0,273.4 L202.1,270.5 L202.7,267.7 L203.0,265.2 L203.1,263.1 L203.3,261.2 L203.8,259.3"/>
<path d="M161.2,354.2 L161.2,351.2 L161.2,348.2 L161.3,345.1 L161.3,342.1 L161.2,339.0 L161.5,336.0 L162.5,333.2 L163.7,330.6 L165.2,328.1 L166.8,325.6 L168.4,323.1 L170.1,320.6 L171.9,318.2 L173.8,315.8 L175.7,313.4 L177.6,311.1 L179.5,308.8 L181.4,306.5 L183.1,304.2 L184.8,301.7 L186.3,299.1 L187.7,296.3 L189.1,293.4 L190.4,290.4 L191.8,287.3 L193.3,284.4 L194.8,281.7 L196.6,279.2 L198.4,277.0 L200.3,275.1 L202.3,273.2 L204.3,271.4 L206.1,269.4 L207.9,267.2 L209.4,264.7 L210.8,261.8 L212.1,258.7 L213.2,255.5 L214.3,252.2"/>
<path d="M161.2,354.2 L161.1,350.9 L161.2,347.7 L161.2,344.6 L161.4,341.4 L161.6,338.3 L162.2,335.1 L163.3,332.1 L164.5,329.1 L165.7,326.2 L167.0,323.2 L168.3,320.4 L169.9,317.7 L171.6,315.0 L173.5,312.5 L175.4,310.0 L177.3,307.4 L179.0,304.7 L180.5,301.8 L181.9,298.7 L183.1,295.4 L184.4,292.0 L185.7,288.6 L187.2,285.4 L188.7,282.4 L190.4,279.6 L192.0,277.1 L193.6,274.8 L195.2,272.5 L196.8,270.1 L198.5,267.5 L200.3,264.7 L202.2,261.6 L203.9,258.3 L205.5,255.0 L206.7,251.9 L207.6,249.0 L208.3,246.4 L209.0,244.2 L209.9,242.1"/>
<path d="M161.2,354.2 L161.2,351.1 L161.2,347.9 L161.2,344.9 L161.3,341.9 L161.3,338.9 L161.6,335.9 L162.3,332.9 L163.2,329.9 L164.2,326.9 L165.2,323.7 L166.2,320.6 L167.2,317.5 L168.3,314.5 L169.5,311.7 L170.8,309.0 L172.2,306.5 L173.7,304.1 L175.2,301.6 L176.7,299.0 L178.1,296.2 L179.3,293.1 L180.4,289.8 L181.3,286.3 L182.1,282.8 L182.9,279.4 L183.7,276.3 L184.6,273.6 L185.8,271.3 L187.0,269.2 L188.4,267.2 L189.8,265.0 L191.1,262.4 L192.3,259.3 L193.2,255.7 L193.9,251.8 L194.5,247.9 L195.0,244.1 L195.5,240.7 L196.2,238.0"/>
<path d="M161.2,354.2 L161.2,351.3 L161.1,348.4 L161.0,345.5 L160.9,342.7 L160.8,339.8 L160.9,336.9 L161.7,334.1 L162.9,331.4 L164.4,328.9 L166.0,326.4 L167.6,323.9 L169.3,321.5 L171.1,319.0 L172.8,316.6 L174.6,314.2 L176.5,311.9 L178.3,309.5 L180.2,307.2 L182.1,304.9 L183.9,302.6 L185.8,300.3 L187.6,297.9 L189.3,295.5 L191.1,293.0 L192.7,290.5 L194.3,287.9 L195.7,285.4 L197.1,282.8 L198.4,280.2 L199.7,277.7 L200.9,275.2 L202.0,272.8 L203.1,270.5 L204.2,268.2 L205.2,266.0 L206.3,263.8 L207.4,261.6 L208.5,259.3 L209.7,257.0"/>
<path d="M161.2,354.2 L161.2,351.2 L161.2,348.2 L161.1,345.2 L161.1,342.2 L161.2,339.2 L161.6,336.1 L162.6,333.1 L163.9,330.2 L165.4,327.4 L166.9,324.6 L168.4,321.8 L169.8,319.1 L171.2,316.5 L172.5,313.9 L173.9,311.4 L175.3,309.0 L176.7,306.6 L178.2,304.1 L179.7,301.6 L181.3,299.0 L182.9,296.3 L184.5,293.6 L186.1,290.7 L187.6,287.7 L189.0,284.8 L190.3,281.9 L191.5,279.0 L192.7,276.3 L193.9,273.6 L195.2,271.2 L196.5,268.8 L198.0,266.5 L199.6,264.3 L201.3,262.0 L203.1,259.6 L204.8,257.0 L206.5,254.3 L208.0,251.3 L209.4,248.1"/>
<path d="M161.2,354.2 L161.2,351.1 L161.1,348.0 L161.1,344.9 L161.1,341.8 L161.1,338.6 L161.8,335.6 L163.2,332.7 L164.9,330.0 L166.7,327.5 L168.6,324.9 L170.6,322.4 L172.6,319.9 L174.7,317.4 L177.0,315.0 L179.4,312.6 L181.9,310.3 L184.5,308.0 L187.1,305.8 L189.6,303.7 L192.1,301.6 L194.4,299.5 L196.5,297.3 L198.6,295.1 L200.5,292.8 L202.5,290.4 L204.5,287.9 L206.5,285.3 L208.6,282.5 L210.7,279.7 L212.8,276.9 L214.7,274.0 L216.5,271.2 L218.0,268.4 L219.2,265.6 L220.1,263.0 L220.9,260.4 L221.7,257.9 L222.5,255.6 L223.4,253.3"/>
<path d="M161.2,354.2 L161.2,351.7 L161.2,349.2 L161.2,346.7 L161.2,344.2 L161.2,341.6 L161.2,339.1 L161.7,336.5 L162.9,334.2 L164.5,332.1 L166.3,330.3 L168.0,328.6 L169.5,327.0 L171.0,325.3 L172.4,323.6 L173.8,321.8 L175.4,320.1 L177.3,318.3 L179.4,316.6 L181.8,314.8 L184.2,313.1 L186.6,311.5 L188.8,309.8 L190.5,308.1 L191.9,306.4 L193.0,304.6 L193.9,302.7 L195.0,300.8 L196.4,298.8 L198.2,296.9 L200.7,295.0 L203.6,293.3 L206.8,291.6 L209.9,290.1 L212.7,288.6 L214.9,287.1 L216.6,285.6 L217.7,284.1 L218.5,282.5 L219.3,280.9"/>
<path d="M161.2,354.2 L161.2,351.2 L161.2,348.2 L161.2,345.1 L161.2,342.1 L161.3,339.0 L161.6,336.0 L162.2,333.0 L163.0,330.1 L164.0,327.1 L165.0,324.1 L166.1,321.0 L167.3,318.1 L168.7,315.3 L170.1,312.7 L171.5,310.3 L172.8,308.0 L174.0,305.8 L175.0,303.3 L175.7,300.7 L176.4,297.7 L177.1,294.5 L177.9,291.1 L179.0,287.6 L180.3,284.3 L181.7,281.2 L183.3,278.3 L184.8,275.6 L186.1,273.1 L187.3,270.5 L188.3,267.8 L189.2,264.9 L190.2,262.1 L191.2,259.2 L192.5,256.6 L193.8,254.1 L195.1,251.9 L196.3,249.8 L197.1,247.6 L197.6,244.9"/>
<path d="M161.2,354.2 L161.2,352.9 L161.2,351.7 L161.2,350.4 L161.2,349.1 L161.2,347.8 L161.2,346.6 L161.2,345.3 L161.2,344.0 L161.2,342.8 L161.2,341.5 L161.2,340.2 L161.2,338.9 L161.2,337.0 L161.2,335.0 L161.2,333.0 L161.1,331.1 L161.1,329.1 L161.0,327.1 L160.9,325.1 L160.8,323.2 L160.7,321.2 L160.6,319.2 L160.4,317.3 L160.3,315.3 L160.1,313.3 L159.9,311.4 L159.7,309.4 L159.5,307.5 L159.2,305.5 L159.0,303.5 L158.8,301.6 L158.6,299.6 L158.4,297.7 L158.2,295.7 L158.0,293.8 L157.9,291.8 L157.8,289.9 L157.7,287.9 L157.6,286.0 L157.6,284.1 L157.7,282.2 L157.8,280.4 L158.0,278.5 L158.2,276.7 L158.5,275.0 L158.8,273.3 L159.1,271.6 L159.5,269.9"/>
<path d="M161.2,354.2 L161.2,352.9 L161.2,351.7 L161.2,350.4 L161.2,349.1 L161.2,347.8 L161.2,346.6 L161.2,345.3 L161.2,344.0 L161.2,342.8 L161.2,341.5 L161.2,340.2 L161.2,338.9 L161.2,337.0 L161.2,335.0 L161.2,333.0 L161.2,331.0 L161.1,329.1 L161.1,327.1 L161.0,325.1 L161.0,323.2 L160.9,321.2 L160.9,319.2 L160.8,317.3 L160.7,315.3 L160.6,313.3 L160.5,311.4 L160.3,309.4 L160.2,307.4 L160.0,305.5 L159.9,303.5 L159.7,301.5 L159.4,299.6 L159.2,297.6 L158.9,295.7 L158.6,293.8 L158.2,291.9 L157.9,290.0 L157.5,288.1 L157.0,286.2 L156.6,284.3 L156.0,282.5 L155.5,280.7 L154.9,278.9 L154.2,277.1 L153.6,275.3 L152.9,273.6 L152.2,271.8 L151.5,270.1 L150.8,268.3 L150.2,266.5 L149.5,264.7 L148.8,262.9 L148.2,261.1"/>
<path d="M161.2,354.2 L161.2,352.9 L161.2,351.7 L161.2,350.4 L161.2,349.1 L161.2,347.8 L161.2,346.6 L161.2,345.3 L161.2,344.0 L161.2,342.8 L161.2,341.5 L161.2,340.2 L161.2,338.9 L161.2,337.0 L161.2,335.0 L161.2,333.0 L161.2,331.0 L161.2,329.1 L161.2,327.1 L161.2,325.1 L161.2,323.2 L161.2,321.2 L161.1,319.2 L161.1,317.2 L161.1,315.3 L161.1,313.3 L161.1,311.3 L161.1,309.4 L161.1,307.4 L161.2,305.4 L161.2,303.5 L161.3,301.5 L161.4,299.5 L161.5,297.6 L161.6,295.7 L161.8,293.7 L162.1,291.8 L162.4,290.0 L162.8,288.1 L163.2,286.4 L163.8,284.7 L164.3,283.1 L165.0,281.6 L165.7,280.1 L166.4,278.9 L167.2,277.7 L168.0,276.7 L168.7,275.9 L169.5,275.3 L170.1,274.8 L170.7,274.4 L171.2,274.2 L171.6,274.1 L171.8,274.1 L171.9,274.2 L171.9,274.3 L171.7,274.5 L171.2,274.6 L170.5,274.7 L169.6,274.6 L168.5,274.4 L167.3,274.0 L166.1,273.3 L164.8,272.5 L163.6,271.4 L162.5,270.0 L161.6,268.3 L161.2,266.4 L161.3,264.4 L161.9,262.6 L162.8,261.0 L164.1,259.8 L165.5,259.2 L166.9,259.0 L168.2,259.3 L169.1,259.9 L169.7,260.7 L169.9,261.6 L169.8,262.6 L169.3,263.4 L168.4,264.1 L167.2,264.5 L165.8,264.5 L164.4,264.2 L162.9,263.5 L161.5,262.4 L160.4,261.0 L159.5,259.3 L159.0,257.4 L158.8,255.4 L158.9,253.5"/>
<path d="M161.2,354.2 L161.2,352.9 L161.2,351.7 L161.2,350.4 L161.2,349.1 L161.2,347.8 L161.2,346.6 L161.2,345.3 L161.2,344.0 L161.2,342.8 L161.2,341.5 L161.2,340.2 L161.2,338.9 L161.2,337.0 L161.2,335.0 L161.2,333.0 L161.2,331.0 L161.2,329.1 L161.3,327.1 L161.3,325.1 L161.3,323.2 L161.4,321.2 L161.4,319.2 L161.5,317.3 L161.6,315.3 L161.8,313.4 L161.9,311.4 L162.1,309.5 L162.3,307.5 L162.5,305.6 L162.8,303.7 L163.1,301.9 L163.5,300.0 L163.9,298.3 L164.4,296.5 L164.9,294.8 L165.5,293.1 L166.1,291.5 L166.7,289.9 L167.3,288.3 L168.0,286.8 L168.7,285.4 L169.5,284.0 L170.3,282.7 L171.1,281.4 L171.9,280.2 L172.8,279.1 L173.7,278.2 L174.6,277.3 L175.5,276.6 L176.4,275.9 L177.2,275.5 L178.0,275.1 L178.7,274.8 L179.4,274.7 L180.0,274.7 L180.5,274.8 L180.9,275.0 L181.3,275.2 L181.7,275.5 L181.9,275.8 L182.0,276.3 L181.9,276.8 L181.5,277.2 L180.8,277.5 L179.8,277.7 L178.7,277.7 L177.4,277.4 L176.1,276.7 L174.8,275.6 L173.7,274.1 L172.8,272.5 L172.1,270.7 L171.7,268.8 L171.7,266.8 L172.1,264.9 L172.8,263.1 L173.8,261.5 L175.1,260.3 L176.6,259.5 L178.1,259.1 L179.5,258.9 L180.9,259.0 L182.1,259.4 L183.2,259.9 L184.1,260.6 L184.7,261.4 L185.1,262.3 L185.2,263.2 L184.8,264.1 L184.0,264.8 L182.9,265.3 L181.6,265.3 L180.2,265.1 L178.8,264.4 L177.5,263.2 L176.5,261.7 L175.7,259.9 L175.4,258.0 L175.4,256.0 L175.8,254.1 L176.5,252.3 L177.6,250.7 L178.9,249.5 L180.3,248.6"/>
<path d="M161.2,354.2 L161.2,352.9 L161.2,351.7 L161.2,350.4 L161.2,349.1 L161.2,347.8 L161.2,346.6 L161.2,345.3 L161.2,344.0 L161.2,342.8 L161.2,341.5 L161.2,340.2 L161.2,338.9 L161.2,337.0 L161.2,335.0 L161.2,333.0 L161.2,331.0 L161.3,329.1 L161.3,327.1 L161.3,325.1 L161.4,323.2 L161.4,321.2 L161.5,319.2 L161.6,317.3 L161.7,315.3 L161.9,313.3 L162.0,311.4 L162.2,309.5 L162.5,307.5 L162.8,305.7 L163.2,303.8 L163.6,302.0 L164.0,300.2 L164.6,298.5 L165.1,296.9 L165.8,295.4 L166.4,294.0 L167.1,292.6 L167.8,291.5 L168.5,290.4 L169.1,289.5 L169.7,288.7 L170.3,288.0 L170.8,287.4 L171.2,286.9 L171.5,286.5 L171.7,286.2 L171.9,286.0 L171.8,285.7 L171.5,285.5 L171.0,285.2 L170.4,284.7 L169.6,284.1 L168.7,283.3 L167.7,282.2 L166.9,280.9 L166.1,279.3 L165.6,277.5 L165.5,275.5 L165.6,273.6 L166.1,271.7 L166.9,270.0 L168.0,268.6 L169.3,267.7 L170.7,267.2 L171.9,267.0 L173.0,267.3 L173.8,267.8 L174.0,268.6 L173.8,269.4 L173.0,270.0 L171.7,270.2 L170.3,269.8 L169.0,268.8 L168.0,267.3 L167.5,265.4 L167.4,263.5 L167.7,261.5 L168.4,259.7 L169.4,258.0 L170.6,256.7 L172.0,255.7 L173.5,255.1 L175.0,254.9 L176.3,255.2 L177.3,255.8 L178.0,256.6 L178.4,257.5 L178.4,258.5 L178.0,259.3 L177.1,260.0 L175.9,260.2 L174.5,260.0 L173.1,259.2 L171.9,258.1 L171.0,256.5 L170.5,254.6 L170.6,252.6 L171.2,250.8 L172.3,249.2 L173.8,248.3 L175.3,248.0 L176.6,248.2 L177.6,248.8 L178.0,249.7 L177.9,250.7 L177.1,251.4 L175.9,251.7 L174.5,251.3 L173.2,250.3 L172.2,248.8 L171.8,246.9 L171.9,244.9 L172.6,243.1"/>
<path d="M161.2,354.2 L161.2,352.9 L161.2,351.7 L161.2,350.4 L161.2,349.1 L161.2,347.8 L161.2,346.6 L161.2,345.3 L161.2,344.0 L161.2,342.8 L161.2,341.5 L161.2,340.2 L161.2,338.9 L161.2,337.0 L161.2,335.0 L161.2,333.0 L161.2,331.0 L161.3,329.1 L161.3,327.1 L161.3,325.1 L161.4,323.2 L161.4,321.2 L161.5,319.2 L161.5,317.3 L161.5,315.3 L161.5,313.3 L161.5,311.4 L161.5,309.4 L161.4,307.5 L161.4,305.6 L161.3,303.6 L161.3,301.7 L161.2,299.8 L161.1,297.8 L161.0,295.9 L160.9,294.0 L160.7,292.2 L160.4,290.4 L160.1,288.6 L159.8,286.8 L159.4,285.1 L159.0,283.4 L158.5,281.8 L158.0,280.2 L157.4,278.8 L156.8,277.4 L156.2,276.1 L155.5,274.9 L154.8,273.8 L154.0,272.9 L153.3,272.1 L152.6,271.6 L152.0,271.2 L151.4,270.9 L150.9,270.7 L150.4,270.7 L150.0,270.7 L149.7,270.9 L149.5,271.1 L149.3,271.4 L149.1,271.7 L149.0,272.2 L148.8,272.6 L148.5,273.1 L148.2,273.6 L147.9,274.2 L147.6,274.8 L147.3,275.5 L147.1,276.3 L146.8,277.0 L146.4,277.9 L146.0,278.7 L145.6,279.6 L145.4,280.5 L145.3,281.5 L145.6,282.4 L146.2,283.3 L147.1,284.0 L148.3,284.5 L149.7,284.7 L151.2,284.6 L152.7,284.0 L154.2,283.0 L155.4,281.6 L156.4,279.9 L156.9,278.0 L157.0,276.1 L156.5,274.2 L155.7,272.6 L154.6,271.3 L153.3,270.3 L151.9,269.8 L150.6,269.7 L149.4,270.0 L148.4,270.5 L147.7,271.2 L147.2,272.1 L146.9,273.0 L146.8,273.9 L147.1,274.9 L147.7,275.7 L148.6,276.4 L149.7,276.9 L151.1,277.1 L152.6,276.9 L154.2,276.3 L155.7,275.5 L157.1,274.3 L158.4,273.0 L159.5,271.4 L160.3,269.6 L160.9,267.8 L161.3,265.8 L161.5,263.9 L161.3,261.9 L161.0,260.0 L160.4,258.2 L159.7,256.5 L158.6,255.1 L157.3,254.2 L155.9,253.7 L154.6,253.7 L153.6,254.2 L153.0,255.0 L152.8,255.9 L153.0,256.9 L153.7,257.7 L154.8,258.2 L156.1,258.6 L157.6,258.6 L159.1,258.5 L160.6,258.0 L162.2,257.4 L163.7,256.5 L165.1,255.3 L166.3,253.9 L167.4,252.3 L168.3,250.6 L168.9,248.8 L169.5,246.9 L169.8,244.9 L170.0,243.0 L169.9,241.0 L169.7,239.1 L169.3,237.2"/>
<path d="M161.2,354.2 L161.2,352.9 L161.2,351.7 L161.2,350.4 L161.2,349.1 L161.2,347.8 L161.2,346.6 L161.2,345.3 L161.2,344.0 L161.2,342.8 L161.2,341.5 L161.2,340.2 L161.2,338.9 L161.2,337.0 L161.2,335.0 L161.2,333.0 L161.3,331.1 L161.3,329.1 L161.4,327.1 L161.4,325.1 L161.4,323.2 L161.5,321.2 L161.5,319.2 L161.6,317.3 L161.6,315.3 L161.6,313.4 L161.5,311.5 L161.5,309.5 L161.4,307.7 L161.3,305.8 L161.2,303.9 L161.0,302.1 L160.9,300.3 L160.6,298.5 L160.4,296.7 L160.2,294.9 L159.9,293.2 L159.6,291.5 L159.2,289.9 L158.8,288.4 L158.4,286.9 L157.9,285.5 L157.4,284.2 L156.9,282.8 L156.3,281.6 L155.7,280.3 L155.1,279.1 L154.5,277.8 L153.9,276.6 L153.2,275.4 L152.5,274.2 L151.8,273.0 L151.1,271.8 L150.3,270.7 L149.6,269.5 L148.8,268.3 L148.0,267.1 L147.1,266.1 L146.2,265.3 L145.2,264.7 L144.3,264.4 L143.5,264.3 L142.8,264.5 L142.4,264.9 L142.1,265.4 L142.1,266.0 L142.4,266.7 L143.0,267.4 L143.9,268.0 L144.9,268.6 L146.2,268.8 L147.7,268.8 L149.3,268.4 L150.8,267.6 L152.2,266.3 L153.4,264.8 L154.3,263.1 L154.9,261.2 L155.1,259.2 L154.8,257.3 L154.2,255.6 L153.2,254.2 L151.9,253.1 L150.6,252.3 L149.3,252.1 L148.1,252.1 L146.9,252.3 L145.9,252.7 L145.0,253.3 L144.4,254.1 L144.2,255.0 L144.2,256.0 L144.6,256.9 L145.4,257.7 L146.4,258.4 L147.7,258.8 L149.1,259.0 L150.6,259.0 L152.1,258.9 L153.6,258.8 L155.2,258.8 L156.7,258.6 L158.3,258.4 L159.9,257.9 L161.4,257.2 L163.0,256.4 L164.5,255.5 L166.1,254.6 L167.6,253.7 L169.1,252.8 L170.6,251.9 L172.2,251.1 L173.8,250.4 L175.3,249.6 L176.9,248.9 L178.4,248.0 L179.9,247.0 L181.4,245.9 L182.7,244.6 L183.8,243.0 L184.7,241.3 L185.3,239.4 L185.7,237.5"/>
<path d="M161.2,354.2 L161.2,352.9 L161.2,351.7 L161.2,350.4 L161.2,349.1 L161.2,347.8 L161.2,346.6 L161.2,345.3 L161.2,344.0 L161.2,342.8 L161.2,341.5 L161.2,340.2 L161.2,338.9 L161.2,337.0 L161.2,335.0 L161.2,333.0 L161.3,331.1 L161.3,329.1 L161.4,327.1 L161.5,325.1 L161.6,323.2 L161.7,321.2 L161.8,319.2 L161.9,317.3 L162.0,315.3 L162.2,313.3 L162.3,311.4 L162.4,309.4 L162.5,307.5 L162.6,305.5 L162.7,303.6 L162.8,301.6 L162.8,299.7 L162.9,297.8 L162.9,295.9 L162.9,294.0 L162.9,292.1 L162.9,290.2 L162.9,288.3 L162.9,286.4 L162.9,284.5 L162.9,282.6 L162.9,280.7 L163.0,278.8 L163.0,276.9 L163.0,275.0 L163.0,273.1 L163.0,271.2 L163.0,269.4 L162.9,267.5 L162.8,265.7 L162.7,263.8 L162.6,262.0 L162.4,260.2 L162.1,258.4 L161.7,256.7 L161.2,255.1 L160.7,253.6 L160.0,252.1 L159.2,250.9 L158.3,249.8 L157.3,249.0 L156.3,248.4 L155.4,248.1 L154.5,248.1 L153.7,248.3 L153.0,248.7 L152.5,249.2 L152.1,249.9 L151.9,250.8 L152.1,251.7 L152.6,252.6 L153.5,253.3 L154.7,253.9 L156.2,254.1 L157.8,253.9 L159.4,253.1 L160.8,251.9 L161.9,250.3 L162.5,248.4 L162.6,246.4 L162.2,244.6 L161.5,243.0 L160.4,241.7 L159.1,240.9 L157.8,240.5 L156.6,240.6 L155.6,241.0 L154.9,241.7 L154.5,242.5 L154.3,243.5 L154.6,244.4 L155.3,245.3 L156.3,246.0 L157.6,246.5 L159.0,246.7 L160.6,246.5 L162.2,246.1 L163.8,245.4 L165.3,244.2 L166.4,242.7 L167.1,240.8 L167.3,238.9 L167.1,237.0 L166.3,235.3 L165.2,234.1 L164.0,233.3 L162.7,232.9 L161.5,233.0 L160.6,233.6 L160.2,234.4 L160.1,235.4 L160.6,236.3 L161.6,237.0 L163.0,237.4 L164.6,237.2 L166.2,236.6 L167.7,235.6 L169.0,234.2 L170.0,232.5 L170.7,230.7 L170.9,228.7"/>
<path d="M161.2,354.2 L161.2,352.9 L161.2,351.7 L161.2,350.4 L161.2,349.1 L161.2,347.8 L161.2,346.6 L161.2,345.3 L161.2,344.0 L161.2,342.8 L161.2,341.5 L161.2,340.2 L161.2,338.9 L161.2,337.0 L161.2,335.0 L161.3,333.0 L161.3,331.1 L161.4,329.1 L161.5,327.1 L161.6,325.1 L161.8,323.2 L161.9,321.2 L162.1,319.3 L162.4,317.3 L162.6,315.3 L162.9,313.4 L163.3,311.5 L163.6,309.6 L164.1,307.6 L164.5,305.7 L165.0,303.9 L165.6,302.0 L166.2,300.2 L166.8,298.4 L167.5,296.6 L168.2,294.9 L169.0,293.2 L169.9,291.6 L170.8,290.0 L171.8,288.5 L172.8,287.1 L173.8,285.8 L174.9,284.6 L176.0,283.6 L177.1,282.6 L178.2,281.9 L179.3,281.3 L180.3,280.8 L181.2,280.5 L182.0,280.3 L182.7,280.2 L183.2,280.2 L183.6,280.2 L183.9,280.3 L184.1,280.5 L184.2,280.7 L184.3,280.9 L184.2,281.1 L184.1,281.4 L183.8,281.6 L183.3,281.7 L182.7,281.8 L181.9,281.7 L181.0,281.4 L180.0,281.0 L179.0,280.4 L177.9,279.6 L176.9,278.6 L175.9,277.4 L175.0,276.1 L174.2,274.6 L173.5,273.0 L173.1,271.2 L172.9,269.3 L173.1,267.4 L173.5,265.5 L174.3,263.7 L175.4,262.0 L176.7,260.6 L178.2,259.5 L179.8,258.7 L181.5,258.2 L183.2,258.0 L184.7,258.2 L185.9,258.7 L186.9,259.5 L187.5,260.4 L187.7,261.4 L187.5,262.4 L187.0,263.1 L186.0,263.6 L184.9,263.6 L183.6,263.1 L182.4,262.2 L181.5,260.8 L181.0,259.1 L180.9,257.2 L181.4,255.3 L182.4,253.5 L183.7,252.1 L185.2,251.1 L186.9,250.4 L188.5,250.2 L190.1,250.3 L191.5,250.6 L192.8,251.2 L193.9,251.9 L194.8,252.7 L195.5,253.6 L195.9,254.6 L196.1,255.6 L196.0,256.6 L195.7,257.4 L195.0,258.2 L194.1,258.6 L192.9,258.6 L191.7,258.3 L190.4,257.6 L189.3,256.6 L188.3,255.3 L187.6,253.7 L187.2,251.9 L187.1,250.0 L187.3,248.1 L187.8,246.2 L188.5,244.4 L189.5,242.7 L190.8,241.2 L192.3,240.0 L193.9,239.2 L195.6,238.8 L197.2,238.7 L198.6,239.0 L199.9,239.6 L200.9,240.3 L201.7,241.2 L202.1,242.2 L202.2,243.2 L202.0,244.1 L201.5,244.9 L200.7,245.6 L199.8,246.0 L198.7,246.3"/>
<path d="M161.2,354.2 L161.2,352.9 L161.2,351.7 L161.2,350.4 L161.2,349.1 L161.2,347.8 L161.2,346.6 L161.2,345.3 L161.2,344.0 L161.2,342.8 L161.2,341.5 L161.2,340.2 L161.2,338.9 L161.2,337.0 L161.2,335.0 L161.3,333.0 L161.3,331.1 L161.4,329.1 L161.5,327.1 L161.7,325.1 L161.8,323.2 L162.0,321.2 L162.1,319.3 L162.3,317.3 L162.5,315.4 L162.7,313.4 L162.9,311.5 L163.1,309.5 L163.3,307.6 L163.5,305.7 L163.7,303.7 L163.9,301.8 L164.1,299.9 L164.2,298.1 L164.4,296.2 L164.5,294.4 L164.6,292.5 L164.7,290.7 L164.7,288.9 L164.7,287.2 L164.7,285.4 L164.7,283.7 L164.6,282.1 L164.5,280.5 L164.3,278.9 L164.1,277.4 L163.8,276.0 L163.5,274.6 L163.1,273.4 L162.7,272.3 L162.2,271.3 L161.7,270.5 L161.3,269.9 L160.8,269.4 L160.4,269.1 L160.0,269.0 L159.7,269.0 L159.5,269.1 L159.5,269.4 L159.7,269.8 L160.2,270.3 L161.0,270.8 L162.1,271.1 L163.4,271.3 L164.9,271.3 L166.5,271.0 L168.1,270.6 L169.8,269.8 L171.4,268.8 L172.8,267.5 L174.0,266.0 L174.8,264.2 L175.2,262.3 L175.2,260.4 L174.9,258.6 L174.2,257.0 L173.3,255.7 L172.2,254.7 L171.0,254.0 L169.8,253.6 L168.7,253.5 L167.6,253.7 L166.6,254.1 L165.9,254.7 L165.3,255.5 L165.0,256.4 L165.1,257.4 L165.4,258.4 L166.1,259.4 L167.0,260.2 L168.3,260.9 L169.7,261.3 L171.2,261.7 L172.8,261.8 L174.4,261.7 L176.2,261.3 L177.9,260.7 L179.5,259.9 L181.1,258.8 L182.5,257.4 L183.6,255.8 L184.6,254.1 L185.3,252.2 L185.7,250.3 L185.8,248.5 L185.5,246.6 L184.9,245.0 L184.0,243.7 L182.9,242.7 L181.7,242.0 L180.5,241.7 L179.4,241.7 L178.4,242.0 L177.5,242.6 L177.0,243.4 L176.8,244.3 L176.9,245.3 L177.3,246.3 L178.1,247.3 L179.1,248.1 L180.4,248.7 L181.7,249.2 L183.2,249.6 L184.7,249.9 L186.2,250.2 L187.8,250.4 L189.3,250.7 L190.9,250.8 L192.6,250.9 L194.2,250.9 L195.9,250.8 L197.6,250.6 L199.3,250.3 L201.0,250.0 L202.7,249.5 L204.4,248.8 L206.1,248.0 L207.7,247.2 L209.4,246.3 L211.0,245.2 L212.6,244.2 L214.1,243.1 L215.7,242.0 L217.2,240.8 L218.6,239.5"/>
<path d="M161.2,354.2 L161.2,352.9 L161.2,351.7 L161.2,350.4 L161.2,349.1 L161.2,347.8 L161.2,346.6 L161.2,345.3 L161.2,344.0 L161.2,342.8 L161.2,341.5 L161.2,340.2 L161.2,338.9 L161.2,337.0 L161.2,335.0 L161.3,333.0 L161.4,331.1 L161.5,329.1 L161.6,327.1 L161.8,325.2 L161.9,323.2 L162.1,321.2 L162.3,319.3 L162.5,317.3 L162.7,315.4 L162.9,313.5 L163.1,311.5 L163.3,309.7 L163.4,307.8 L163.6,305.9 L163.7,304.1 L163.8,302.2 L164.0,300.4 L164.1,298.7 L164.1,296.9 L164.2,295.2 L164.2,293.6 L164.1,292.0 L164.1,290.5 L164.0,289.1 L163.8,287.7 L163.6,286.5 L163.5,285.3 L163.2,284.2 L163.0,283.2 L162.8,282.3 L162.5,281.5 L162.3,280.9 L162.0,280.3 L161.8,279.8 L161.5,279.3 L161.3,279.0 L161.1,278.8 L160.9,278.7 L160.9,278.8 L160.9,279.0 L161.1,279.3 L161.5,279.7 L162.1,280.1 L163.0,280.5 L164.1,280.9 L165.4,281.1 L166.8,281.2 L168.4,281.1 L170.0,280.9 L171.7,280.7 L173.4,280.3 L175.1,279.8 L176.8,279.3 L178.6,278.6 L180.3,277.9 L182.0,277.1 L183.7,276.4 L185.4,275.6 L187.1,274.6 L188.7,273.5 L190.2,272.3 L191.5,270.8 L192.7,269.2 L193.6,267.5 L194.4,265.7 L195.1,263.9 L195.6,262.0 L195.8,260.2 L195.8,258.3 L195.5,256.6 L195.0,254.9 L194.4,253.4 L193.6,252.0 L192.8,250.6 L191.8,249.4 L190.8,248.4 L189.7,247.5 L188.6,246.9 L187.4,246.6 L186.3,246.6 L185.3,246.8 L184.4,247.3 L183.6,247.8 L183.0,248.5 L182.4,249.3 L182.1,250.2 L182.0,251.2 L182.1,252.3 L182.4,253.3 L182.9,254.3 L183.5,255.4 L184.3,256.3 L185.3,257.2 L186.4,258.0 L187.7,258.7 L189.0,259.3 L190.5,259.7 L192.1,260.0 L193.8,260.0 L195.6,259.5 L197.3,258.7 L198.9,257.6 L200.2,256.2 L201.4,254.6 L202.5,252.9 L203.3,251.2 L204.1,249.3 L204.6,247.5 L205.0,245.6 L205.1,243.8 L205.2,241.9 L205.1,240.1 L204.8,238.3 L204.2,236.8 L203.4,235.4 L202.3,234.5 L201.2,233.8 L200.0,233.6 L199.0,234.0 L198.4,234.6 L198.1,235.6 L198.5,236.6 L199.4,237.5 L200.9,237.9 L202.7,237.7 L204.4,236.9 L205.8,235.5"/>
<path d="M161.2,354.2 L161.2,352.9 L161.2,351.7 L161.2,350.4 L161.2,349.1 L161.2,347.8 L161.2,346.6 L161.2,345.3 L161.2,344.0 L161.2,342.8 L161.2,341.5 L161.2,340.2 L161.2,338.9 L161.2,337.0 L161.2,335.0 L161.3,333.0 L161.4,331.1 L161.5,329.1 L161.7,327.1 L161.9,325.2 L162.1,323.2 L162.4,321.3 L162.7,319.3 L163.1,317.4 L163.5,315.4 L163.9,313.5 L164.3,311.6 L164.8,309.7 L165.4,307.8 L165.9,305.9 L166.6,304.0 L167.2,302.2 L167.9,300.3 L168.6,298.5 L169.4,296.7 L170.2,294.9 L171.1,293.1 L172.0,291.4 L173.0,289.7 L174.0,288.0 L175.1,286.3 L176.2,284.7 L177.3,283.1 L178.5,281.6 L179.8,280.2 L181.2,278.8 L182.6,277.6 L184.1,276.5 L185.6,275.4 L187.2,274.6 L188.8,273.8 L190.4,273.2 L192.0,272.7 L193.6,272.4 L195.2,272.1 L196.7,272.0 L198.2,272.0 L199.6,272.1 L201.0,272.3 L202.3,272.6 L203.6,273.0 L204.7,273.5 L205.8,274.1 L206.8,274.7 L207.6,275.4 L208.4,276.2 L209.0,277.1 L209.4,278.0 L209.8,278.9 L209.9,279.9 L209.9,280.9 L209.7,281.8 L209.2,282.7 L208.5,283.3 L207.6,283.7 L206.6,283.9 L205.5,283.7 L204.4,283.3 L203.3,282.7 L202.3,281.9 L201.3,281.0 L200.3,279.9 L199.5,278.7 L198.7,277.4 L198.0,276.0 L197.5,274.5 L197.1,272.8 L197.0,271.1 L197.1,269.3 L197.4,267.5 L198.0,265.7 L199.0,264.0 L200.3,262.4 L201.7,261.2 L203.4,260.1 L205.2,259.5 L207.0,259.2 L208.8,259.2 L210.4,259.6 L211.8,260.2 L213.0,261.0 L213.9,262.0 L214.5,263.1 L214.8,264.2 L214.8,265.2 L214.5,266.2 L214.0,267.0 L213.3,267.6 L212.3,267.9 L211.2,267.7 L210.1,267.0 L209.2,265.9 L208.7,264.4 L208.6,262.6 L209.0,260.8 L209.8,259.0 L211.1,257.5 L212.7,256.4 L214.5,255.6 L216.3,255.3 L218.0,255.3 L219.7,255.6 L221.1,256.2 L222.2,257.1 L223.0,258.2 L223.4,259.3 L223.6,260.3 L223.3,261.3 L222.8,262.1 L222.1,262.8 L221.2,263.1 L220.1,263.0 L219.0,262.5 L218.0,261.6 L217.2,260.4 L216.6,258.9 L216.3,257.2 L216.4,255.4 L216.9,253.5 L217.7,251.8 L218.8,250.2 L220.1,248.7 L221.6,247.4"/>
<path d="M161.2,354.2 L161.2,352.9 L161.2,351.7 L161.2,350.4 L161.2,349.1 L161.2,347.8 L161.2,346.6 L161.2,345.3 L161.2,344.0 L161.2,342.8 L161.2,341.5 L161.2,340.2 L161.2,338.9 L161.2,337.0 L161.2,335.0 L161.3,333.0 L161.4,331.1 L161.6,329.1 L161.8,327.1 L162.0,325.2 L162.3,323.2 L162.6,321.3 L162.9,319.3 L163.3,317.4 L163.7,315.5 L164.1,313.5 L164.6,311.6 L165.1,309.7 L165.7,307.9 L166.3,306.0 L166.9,304.1 L167.6,302.3 L168.3,300.4 L169.0,298.6 L169.7,296.8 L170.4,295.0 L171.1,293.2 L171.9,291.4 L172.6,289.6 L173.4,287.9 L174.2,286.1 L175.0,284.4 L175.8,282.7 L176.7,281.0 L177.7,279.3 L178.6,277.6 L179.7,276.0 L180.8,274.4 L181.9,272.8 L183.2,271.3 L184.5,269.9 L186.0,268.6 L187.5,267.3 L189.1,266.2 L190.8,265.1 L192.5,264.1 L194.2,263.2 L195.9,262.5 L197.7,261.8 L199.5,261.3 L201.3,260.9 L203.1,260.5 L204.9,260.4 L206.7,260.3 L208.4,260.2 L210.2,260.2 L212.0,260.1 L213.9,259.9 L215.7,259.5 L217.5,259.0 L219.3,258.2 L220.9,257.0 L222.3,255.7 L223.4,254.1 L224.3,252.4 L224.9,250.6 L225.2,248.8 L225.3,247.1 L225.1,245.4 L224.7,243.9 L224.1,242.5"/>
<path d="M161.2,354.2 L161.3,353.0 L161.3,351.8 L161.3,350.6 L161.3,349.4 L161.3,348.2 L161.2,347.0 L161.2,345.7 L161.1,344.5 L161.1,343.3 L161.1,342.1 L161.1,340.9 L161.2,339.7 L161.3,338.5 L161.4,337.3 L161.7,336.1 L162.0,334.9 L162.4,333.8 L162.8,332.7 L163.4,331.6 L164.1,330.6 L164.8,329.6 L165.6,328.7 L166.4,327.8 L167.3,327.0 L168.2,326.2 L169.1,325.4 L170.0,324.6 L170.9,323.8 L171.9,323.1 L172.8,322.3 L173.8,321.7 L174.9,321.1 L176.0,320.6 L177.2,320.3 L178.4,320.2 L179.6,320.5 L180.6,321.0 L181.6,321.7 L182.5,322.5 L183.3,323.4 L184.1,324.4 L184.8,325.3 L185.5,326.3 L186.2,327.3 L186.9,328.3 L187.7,329.2 L188.4,330.2 L189.2,331.1 L189.9,332.1 L190.8,332.9 L191.6,333.8 L192.5,334.6 L193.5,335.4 L194.5,336.0 L195.5,336.6 L196.6,337.1 L197.8,337.5 L198.9,337.9 L200.1,338.1 L201.3,338.2 L202.5,338.3 L203.7,338.3 L204.9,338.2 L206.1,338.0 L207.3,337.7 L208.5,337.4 L209.6,337.0 L210.7,336.5 L211.8,336.0"/>
<path d="M161.2,354.2 L160.9,352.3 L160.8,350.5 L160.7,348.6 L160.6,346.7 L160.7,344.8 L160.8,343.0 L161.0,341.1 L161.3,339.2 L161.6,337.4 L162.0,335.6 L162.6,333.8 L163.2,332.0 L164.0,330.3 L164.8,328.6 L165.8,327.0 L166.9,325.5 L168.2,324.1 L169.4,322.7 L170.8,321.4 L172.2,320.2 L173.7,319.0 L175.2,317.9 L176.7,316.8 L178.2,315.7 L179.8,314.6 L181.3,313.6 L182.8,312.5 L184.4,311.4 L185.9,310.3 L187.4,309.2 L189.0,308.3 L190.8,307.8 L192.6,308.2 L194.0,309.5 L195.3,310.8 L196.7,312.1 L198.4,312.8 L200.3,312.9 L202.1,312.4 L203.8,311.7 L205.5,310.9 L207.2,310.1 L209.0,309.6 L210.9,309.7 L212.3,310.9 L213.3,312.5 L213.6,314.3 L213.3,316.2 L212.6,317.9 L211.9,319.7 L211.8,321.5 L212.3,323.3 L213.4,324.9 L214.8,326.1 L216.4,326.9 L218.3,327.2 L220.1,326.7 L221.7,325.7 L222.9,324.3 L223.9,322.7 L224.6,321.0 L224.8,319.1 L224.4,317.3 L223.6,315.6 L222.5,314.1 L221.2,312.7 L219.8,311.5 L218.3,310.3 L216.9,309.1"/>
<path d="M161.2,354.2 L160.9,352.5 L160.7,350.8 L160.5,349.0 L160.5,347.3 L160.5,345.5 L160.6,343.7 L160.8,342.0 L161.0,340.2 L161.4,338.5 L161.8,336.8 L162.3,335.1 L162.8,333.5 L163.5,331.8 L164.1,330.2 L164.9,328.6 L165.7,327.0 L166.5,325.5 L167.4,323.9 L168.3,322.5 L169.3,321.0 L170.3,319.5 L171.3,318.1 L172.4,316.7 L173.5,315.3 L174.6,314.0 L175.7,312.6 L176.9,311.3 L178.1,310.0 L179.3,308.7 L180.5,307.4 L181.7,306.2 L183.0,304.9 L184.2,303.7 L185.5,302.5 L186.8,301.3 L188.1,300.2 L189.5,299.0 L190.9,297.9 L192.3,296.9 L193.7,295.9 L195.2,294.9 L196.6,293.9 L198.2,293.0 L199.7,292.2 L201.3,291.4 L202.8,290.6 L204.5,289.9 L206.1,289.2 L207.7,288.6 L209.4,288.1 L211.1,287.6 L212.8,287.2 L214.6,287.0 L216.3,286.8 L218.1,286.9 L219.8,287.2 L221.4,287.8 L222.7,289.0 L223.3,290.7 L223.5,292.4 L223.4,294.2 L223.2,295.9 L223.1,297.7 L223.0,299.4 L223.0,301.2 L223.3,302.9 L223.9,304.6 L225.0,305.9 L226.5,306.9"/>
<path d="M161.2,354.2 L160.9,352.4 L160.7,350.5 L160.5,348.7 L160.5,346.8 L160.6,345.0 L160.7,343.1 L161.0,341.3 L161.3,339.5 L161.7,337.7 L162.2,335.9 L162.7,334.1 L163.3,332.4 L163.9,330.6 L164.7,328.9 L165.4,327.2 L166.2,325.6 L167.1,323.9 L168.0,322.3 L168.9,320.7 L169.9,319.1 L170.9,317.6 L171.9,316.0 L173.0,314.5 L174.1,313.0 L175.2,311.5 L176.3,310.1 L177.5,308.6 L178.6,307.2 L179.8,305.8 L181.1,304.4 L182.3,303.0 L183.5,301.6 L184.8,300.2 L186.0,298.9 L187.3,297.5 L188.6,296.2 L189.8,294.9 L191.2,293.6 L192.5,292.3 L193.9,291.0 L195.2,289.8 L196.7,288.6 L198.1,287.5 L199.6,286.4 L201.2,285.3 L202.7,284.4 L204.3,283.4 L206.0,282.6 L207.7,281.8 L209.3,281.1 L211.0,280.3 L212.7,279.5 L214.4,278.7 L216.0,277.8 L217.6,276.8 L219.1,275.8 L220.7,274.9 L222.4,274.2 L224.3,274.4 L225.8,275.4 L227.1,276.7 L228.1,278.3 L228.8,280.0 L229.2,281.8 L229.3,283.6 L229.0,285.4 L228.0,287.0 L226.5,288.0 L224.7,288.5"/>
<path d="M161.0,354.2 L160.8,352.2 L160.6,350.1 L160.6,348.1 L160.7,346.0 L160.9,344.0 L161.2,341.9 L161.6,339.9 L162.1,337.9 L162.6,336.0 L163.3,334.0 L164.1,332.1 L164.9,330.2 L165.7,328.4 L166.7,326.5 L167.7,324.7 L168.7,323.0 L169.8,321.2 L170.9,319.5 L172.0,317.8 L173.2,316.1 L174.4,314.4 L175.6,312.8 L176.9,311.2 L178.2,309.6 L179.5,308.0 L180.8,306.4 L182.1,304.8 L183.4,303.3 L184.7,301.7 L186.1,300.1 L187.4,298.6 L188.8,297.0 L190.1,295.5 L191.4,293.9 L192.8,292.4 L194.1,290.8 L195.4,289.2 L196.8,287.7 L198.1,286.1 L199.5,284.6 L200.8,283.0 L202.2,281.5 L203.6,280.0 L205.0,278.5 L206.4,277.0 L207.8,275.5 L209.2,274.0 L210.7,272.6 L212.1,271.1 L213.6,269.7 L215.1,268.3 L216.6,266.9 L218.2,265.6 L219.8,264.3 L221.4,263.0 L223.0,261.8 L224.7,260.5 L226.3,259.4 L228.1,258.2 L229.8,257.1 L231.6,256.1 L233.3,255.1 L235.2,254.1 L237.0,253.2 L238.9,252.4 L240.8,251.6 L242.7,250.8 L244.6,250.1 L246.6,249.5"/>
</g>
<g fill="#262626">
<rect x="130.60" y="47.10" width="5.4" height="150.90"/>
<rect x="130.60" y="192.60" width="123.20" height="5.4"/>
<rect x="107.80" y="185.80" width="25.5" height="5.4"/>
<rect x="107.80" y="101.40" width="25.5" height="5.4"/>
<rect x="331.60" y="47.10" width="5.4" height="150.90"/>
<rect x="331.60" y="192.60" width="123.20" height="5.4"/>
<rect x="533.10" y="47.10" width="5.4" height="150.90"/>
<rect x="533.10" y="192.60" width="123.20" height="5.4"/>
<rect x="130.60" y="212.70" width="5.4" height="150.90"/>
<rect x="130.60" y="358.20" width="123.20" height="5.4"/>
<rect x="107.80" y="351.50" width="25.5" height="5.4"/>
<rect x="107.80" y="267.10" width="25.5" height="5.4"/>
<rect x="158.50" y="360.90" width="5.4" height="25.5"/>
<rect x="243.30" y="360.90" width="5.4" height="25.5"/>
<rect x="331.60" y="212.70" width="5.4" height="150.90"/>
<rect x="331.60" y="358.20" width="123.20" height="5.4"/>
<rect x="359.50" y="360.90" width="5.4" height="25.5"/>
<rect x="444.30" y="360.90" width="5.4" height="25.5"/>
<rect x="533.10" y="212.70" width="5.4" height="150.90"/>
<rect x="533.10" y="358.20" width="123.20" height="5.4"/>
<rect x="561.00" y="360.90" width="5.4" height="25.5"/>
<rect x="645.80" y="360.90" width="5.4" height="25.5"/>
</g>
<g fill="#262626" font-family="Liberation Sans, sans-serif">
<text x="93.4" y="194.6" font-size="16.6" text-anchor="end">0</text>
<text x="93.4" y="111.1" font-size="16.6" text-anchor="end">2</text>
<text x="93.4" y="360.3" font-size="16.6" text-anchor="end">0</text>
<text x="93.4" y="276.1" font-size="16.6" text-anchor="end">2</text>
<text x="161.2" y="403.4" font-size="16.6" text-anchor="middle">0</text>
<text x="246.0" y="403.4" font-size="16.6" text-anchor="middle">2</text>
<text x="196.6" y="425.3" font-size="22.5" text-anchor="middle">x [m]</text>
<text x="137.8" y="40.3" font-size="22.5" font-style="italic">σ</text>
<text x="151.3" y="44.1" font-size="17.5" font-style="italic">o</text>
<rect x="167.8" y="30.1" width="14.4" height="1.8"/><rect x="167.8" y="35.15" width="14.4" height="1.8"/>
<text x="194.9" y="40.3" font-size="22.5">0.2</text>
<text x="362.2" y="403.4" font-size="16.6" text-anchor="middle">0</text>
<text x="447.0" y="403.4" font-size="16.6" text-anchor="middle">2</text>
<text x="396.6" y="425.3" font-size="22.5" text-anchor="middle">x [m]</text>
<text x="338.8" y="40.3" font-size="22.5" font-style="italic">σ</text>
<text x="352.3" y="44.1" font-size="17.5" font-style="italic">o</text>
<rect x="368.8" y="30.1" width="14.4" height="1.8"/><rect x="368.8" y="35.15" width="14.4" height="1.8"/>
<text x="395.9" y="40.3" font-size="22.5">0.6</text>
<text x="563.7" y="403.4" font-size="16.6" text-anchor="middle">0</text>
<text x="648.5" y="403.4" font-size="16.6" text-anchor="middle">2</text>
<text x="596.7" y="425.3" font-size="22.5" text-anchor="middle">x [m]</text>
<text x="542.7" y="40.3" font-size="22.5" font-style="italic">σ</text>
<text x="556.2" y="44.1" font-size="17.5" font-style="italic">o</text>
<rect x="572.7" y="30.1" width="14.4" height="1.8"/><rect x="572.7" y="35.15" width="14.4" height="1.8"/>
<text x="600.6" y="40.3" font-size="22.5">1.0</text>
<text transform="translate(63.8,125.2) rotate(-90)" font-size="22.5" text-anchor="middle">z [m]</text>
<text transform="translate(30,122.2) rotate(-90)" font-size="22.5" font-weight="bold" text-anchor="middle">iLQG</text>
<text transform="translate(63.8,296.2) rotate(-90)" font-size="22.5" text-anchor="middle">z [m]</text>
<text transform="translate(30,291.2) rotate(-90)" font-size="22.5" font-weight="bold" text-anchor="middle">CBA</text>
</g>
<g font-family="Liberation Serif, serif" font-size="29.5" fill="#000">
<text x="56.5" y="452.0">5:</text>
<text x="98.5" y="452.0">Trajectories</text>
<text x="260" y="453.2">from</text>
<text x="324.5" y="453.2">the</text>
<text x="370.5" y="453.2">between</text>
<text x="496.0" y="452.0">“</text>
<text x="507.0" y="452.0">i</text>
<text x="511.5" y="452.0">L</text>
<text x="529.4" y="452.0">Q</text>
<text x="556.4" y="452.0">G</text>
<text x="588" y="453.2">and</text>
<text x="647" y="452.0">CBA</text>
</g>
</svg>
</body></html>
